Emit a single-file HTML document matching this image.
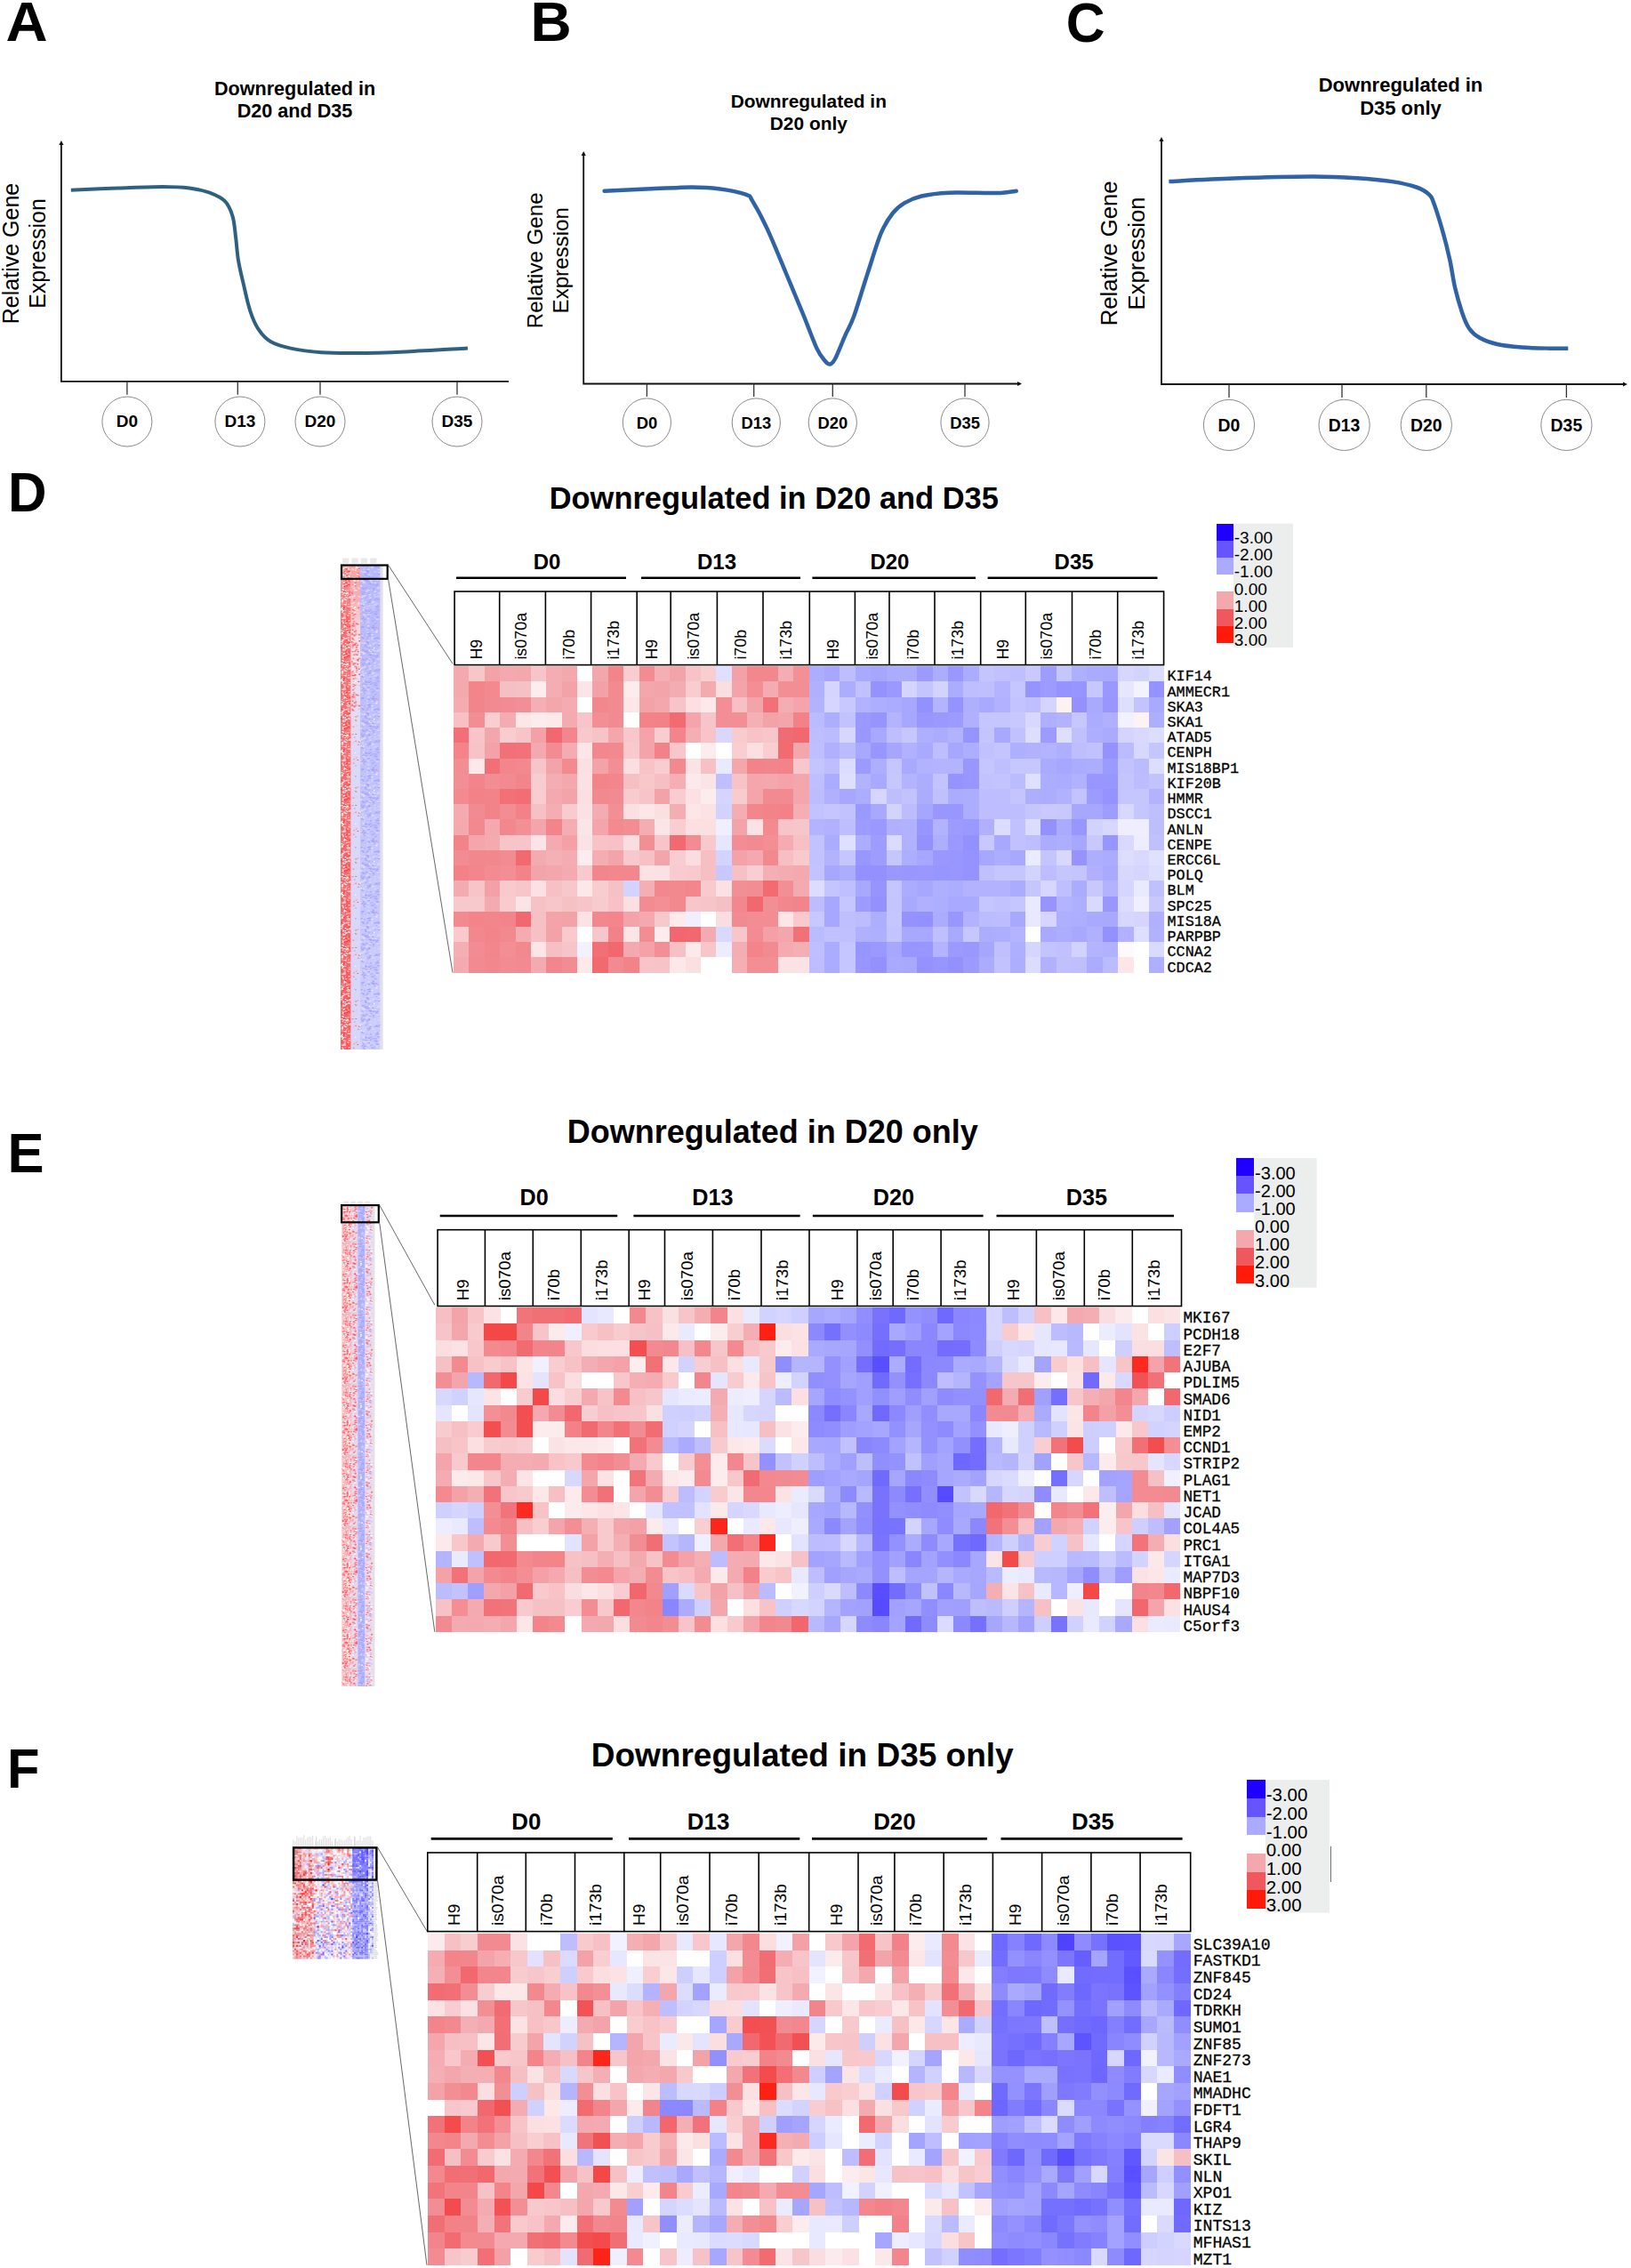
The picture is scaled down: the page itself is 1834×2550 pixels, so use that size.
<!DOCTYPE html><html><head><meta charset="utf-8"><title>Figure</title><style>html,body{margin:0;padding:0;background:#fff}svg{display:block}</style></head><body>
<svg width="1834" height="2550" viewBox="0 0 1834 2550">
<rect width="1834" height="2550" fill="#fff"/>
<text transform="translate(6.6,46.3) scale(1.027,1)" font-family='"Liberation Sans", Arial, sans-serif' font-size="63.5" font-weight="bold">A</text>
<text transform="translate(596.5,46.3) scale(1.007,1)" font-family='"Liberation Sans", Arial, sans-serif' font-size="63.5" font-weight="bold">B</text>
<text transform="translate(1198.8,46.9) scale(0.954,1)" font-family='"Liberation Sans", Arial, sans-serif' font-size="63.5" font-weight="bold">C</text>
<text transform="translate(9.0,575.2) scale(0.950,1)" font-family='"Liberation Sans", Arial, sans-serif' font-size="63.5" font-weight="bold">D</text>
<text transform="translate(8.5,1318.0) scale(0.970,1)" font-family='"Liberation Sans", Arial, sans-serif' font-size="63.5" font-weight="bold">E</text>
<text transform="translate(8.0,2010.0) scale(0.940,1)" font-family='"Liberation Sans", Arial, sans-serif' font-size="63.5" font-weight="bold">F</text>
<path d="M68.9,160.0 L68.9,428.8 L572.0,428.8" fill="none" stroke="#111" stroke-width="1.8"/>
<path d="M68.9,158.0 l-2.6,5 l5.2,0 z" fill="#111"/>
<line x1="142.9" y1="428.8" x2="142.9" y2="443.8" stroke="#333" stroke-width="1.3"/>
<circle cx="142.9" cy="474.0" r="28.0" fill="#fff" stroke="#8a8a8a" stroke-width="1"/>
<text x="142.9" y="480.3" font-family='"Liberation Sans", Arial, sans-serif' font-size="19.00" font-weight="bold" text-anchor="middle" >D0</text>
<line x1="267.3" y1="428.8" x2="267.3" y2="443.8" stroke="#333" stroke-width="1.3"/>
<circle cx="269.9" cy="474.0" r="28.0" fill="#fff" stroke="#8a8a8a" stroke-width="1"/>
<text x="269.9" y="480.3" font-family='"Liberation Sans", Arial, sans-serif' font-size="19.00" font-weight="bold" text-anchor="middle" >D13</text>
<line x1="360.0" y1="428.8" x2="360.0" y2="443.8" stroke="#333" stroke-width="1.3"/>
<circle cx="360.0" cy="474.0" r="28.0" fill="#fff" stroke="#8a8a8a" stroke-width="1"/>
<text x="360.0" y="480.3" font-family='"Liberation Sans", Arial, sans-serif' font-size="19.00" font-weight="bold" text-anchor="middle" >D20</text>
<line x1="514.0" y1="428.8" x2="514.0" y2="443.8" stroke="#333" stroke-width="1.3"/>
<circle cx="514.0" cy="474.0" r="28.0" fill="#fff" stroke="#8a8a8a" stroke-width="1"/>
<text x="514.0" y="480.3" font-family='"Liberation Sans", Arial, sans-serif' font-size="19.00" font-weight="bold" text-anchor="middle" >D35</text>
<text x="331.5" y="106.6" font-family='"Liberation Sans", Arial, sans-serif' font-size="21.60" font-weight="bold" text-anchor="middle" >Downregulated in</text>
<text x="331.5" y="132.4" font-family='"Liberation Sans", Arial, sans-serif' font-size="21.60" font-weight="bold" text-anchor="middle" >D20 and D35</text>
<text transform="translate(21.0,285.0) rotate(-90)" font-family='"Liberation Sans", Arial, sans-serif' font-size="25.00" font-weight="normal" text-anchor="middle" >Relative Gene</text>
<text transform="translate(50.6,285.0) rotate(-90)" font-family='"Liberation Sans", Arial, sans-serif' font-size="25.00" font-weight="normal" text-anchor="middle" >Expression</text>
<path d="M79.8,213.7 C88.7,213.3 115.9,212.0 133.0,211.4 C150.1,210.8 169.2,209.9 182.5,209.9 C195.8,209.9 204.1,210.3 213.0,211.4 C221.9,212.5 229.0,214.2 235.7,216.7 C242.3,219.2 248.6,221.8 252.9,226.2 C257.2,230.6 259.6,236.7 261.6,243.3 C263.6,249.9 263.9,257.8 265.0,266.0 C266.1,274.2 266.5,283.9 268.0,292.8 C269.5,301.7 271.6,309.9 273.8,319.4 C276.0,328.9 278.5,341.2 281.4,349.8 C284.2,358.4 287.1,365.0 290.9,370.7 C294.7,376.4 298.2,380.5 304.2,384.0 C310.2,387.5 317.5,389.6 327.0,391.6 C336.5,393.6 349.2,395.3 361.2,396.2 C373.2,397.1 383.3,397.1 399.2,397.0 C415.1,396.9 435.2,396.3 456.3,395.4 C477.4,394.5 514.3,392.2 525.9,391.6" fill="none" stroke="#2e6181" stroke-width="4.0" stroke-linecap="butt" stroke-linejoin="round"/>
<path d="M656.2,172.0 L656.2,431.5 L1147.0,431.5" fill="none" stroke="#111" stroke-width="1.8"/>
<path d="M656.2,170.0 l-2.6,5 l5.2,0 z" fill="#111"/>
<path d="M1149.0,431.5 l-5,-2.6 l0,5.2 z" fill="#111"/>
<line x1="727.4" y1="431.5" x2="727.4" y2="445.9" stroke="#333" stroke-width="1.3"/>
<circle cx="727.4" cy="475.0" r="27.1" fill="#fff" stroke="#8a8a8a" stroke-width="1"/>
<text x="727.4" y="481.6" font-family='"Liberation Sans", Arial, sans-serif' font-size="18.40" font-weight="bold" text-anchor="middle" >D0</text>
<line x1="847.7" y1="431.5" x2="847.7" y2="445.9" stroke="#333" stroke-width="1.3"/>
<circle cx="850.3" cy="475.0" r="27.1" fill="#fff" stroke="#8a8a8a" stroke-width="1"/>
<text x="850.3" y="481.6" font-family='"Liberation Sans", Arial, sans-serif' font-size="18.40" font-weight="bold" text-anchor="middle" >D13</text>
<line x1="936.3" y1="431.5" x2="936.3" y2="445.9" stroke="#333" stroke-width="1.3"/>
<circle cx="936.3" cy="475.0" r="27.1" fill="#fff" stroke="#8a8a8a" stroke-width="1"/>
<text x="936.3" y="481.6" font-family='"Liberation Sans", Arial, sans-serif' font-size="18.40" font-weight="bold" text-anchor="middle" >D20</text>
<line x1="1085.0" y1="431.5" x2="1085.0" y2="445.9" stroke="#333" stroke-width="1.3"/>
<circle cx="1085.0" cy="475.0" r="27.1" fill="#fff" stroke="#8a8a8a" stroke-width="1"/>
<text x="1085.0" y="481.6" font-family='"Liberation Sans", Arial, sans-serif' font-size="18.40" font-weight="bold" text-anchor="middle" >D35</text>
<text x="909.3" y="120.6" font-family='"Liberation Sans", Arial, sans-serif' font-size="20.90" font-weight="bold" text-anchor="middle" >Downregulated in</text>
<text x="909.3" y="146.0" font-family='"Liberation Sans", Arial, sans-serif' font-size="20.90" font-weight="bold" text-anchor="middle" >D20 only</text>
<text transform="translate(609.7,292.8) rotate(-90)" font-family='"Liberation Sans", Arial, sans-serif' font-size="24.10" font-weight="normal" text-anchor="middle" >Relative Gene</text>
<text transform="translate(639.0,292.8) rotate(-90)" font-family='"Liberation Sans", Arial, sans-serif' font-size="24.10" font-weight="normal" text-anchor="middle" >Expression</text>
<path d="M679.6,214.8 C688.3,214.4 715.6,212.9 732.0,212.2 C748.4,211.5 765.0,210.6 777.7,210.6 C790.4,210.6 797.9,210.9 808.0,212.2 C818.1,213.5 832.2,216.3 838.6,218.6 C845.0,220.9 842.1,219.5 846.2,226.2 C850.3,232.9 857.0,245.0 863.3,258.6 C869.6,272.2 877.6,292.2 884.2,308.0 C890.9,323.8 897.5,339.7 903.2,353.6 C908.9,367.5 914.3,382.9 918.4,391.6 C922.5,400.3 925.4,403.0 927.9,406.0 C930.4,409.0 931.7,410.0 933.6,409.5 C935.5,409.0 936.4,408.5 939.3,403.0 C942.1,397.5 947.2,384.3 950.7,376.4 C954.2,368.5 956.1,366.9 960.2,355.5 C964.3,344.1 970.3,323.5 975.4,308.0 C980.5,292.5 985.8,273.8 990.6,262.4 C995.4,251.0 999.5,245.2 1004.0,239.5 C1008.5,233.8 1011.9,231.3 1017.3,228.1 C1022.7,224.9 1028.1,222.4 1036.3,220.5 C1044.5,218.6 1054.0,217.3 1066.7,216.7 C1079.4,216.1 1102.2,217.1 1112.3,217.1 C1122.4,217.1 1122.4,217.1 1127.5,216.7 C1132.6,216.3 1140.2,215.1 1142.7,214.8" fill="none" stroke="#2f62a6" stroke-width="4.5" stroke-linecap="round" stroke-linejoin="round"/>
<path d="M1306.0,156.0 L1306.0,432.0 L1828.0,432.0" fill="none" stroke="#111" stroke-width="1.8"/>
<path d="M1306.0,154.0 l-2.6,5 l5.2,0 z" fill="#111"/>
<path d="M1830.0,432.0 l-5,-2.6 l0,5.2 z" fill="#111"/>
<line x1="1382.0" y1="432.0" x2="1382.0" y2="447.0" stroke="#333" stroke-width="1.3"/>
<circle cx="1382.0" cy="477.9" r="28.6" fill="#fff" stroke="#8a8a8a" stroke-width="1"/>
<text x="1382.0" y="484.9" font-family='"Liberation Sans", Arial, sans-serif' font-size="19.40" font-weight="bold" text-anchor="middle" >D0</text>
<line x1="1509.0" y1="432.0" x2="1509.0" y2="447.0" stroke="#333" stroke-width="1.3"/>
<circle cx="1511.6" cy="477.9" r="28.6" fill="#fff" stroke="#8a8a8a" stroke-width="1"/>
<text x="1511.6" y="484.9" font-family='"Liberation Sans", Arial, sans-serif' font-size="19.40" font-weight="bold" text-anchor="middle" >D13</text>
<line x1="1603.8" y1="432.0" x2="1603.8" y2="447.0" stroke="#333" stroke-width="1.3"/>
<circle cx="1603.8" cy="477.9" r="28.6" fill="#fff" stroke="#8a8a8a" stroke-width="1"/>
<text x="1603.8" y="484.9" font-family='"Liberation Sans", Arial, sans-serif' font-size="19.40" font-weight="bold" text-anchor="middle" >D20</text>
<line x1="1761.4" y1="432.0" x2="1761.4" y2="447.0" stroke="#333" stroke-width="1.3"/>
<circle cx="1761.4" cy="477.9" r="28.6" fill="#fff" stroke="#8a8a8a" stroke-width="1"/>
<text x="1761.4" y="484.9" font-family='"Liberation Sans", Arial, sans-serif' font-size="19.40" font-weight="bold" text-anchor="middle" >D35</text>
<text x="1575.0" y="102.5" font-family='"Liberation Sans", Arial, sans-serif' font-size="22.00" font-weight="bold" text-anchor="middle" >Downregulated in</text>
<text x="1575.0" y="128.8" font-family='"Liberation Sans", Arial, sans-serif' font-size="22.00" font-weight="bold" text-anchor="middle" >D35 only</text>
<text transform="translate(1256.3,284.9) rotate(-90)" font-family='"Liberation Sans", Arial, sans-serif' font-size="25.70" font-weight="normal" text-anchor="middle" >Relative Gene</text>
<text transform="translate(1286.7,284.9) rotate(-90)" font-family='"Liberation Sans", Arial, sans-serif' font-size="25.70" font-weight="normal" text-anchor="middle" >Expression</text>
<path d="M1314.4,204.1 C1326.6,203.5 1360.8,201.5 1387.4,200.6 C1414.1,199.7 1451.3,198.7 1474.3,198.6 C1497.3,198.5 1510.5,199.3 1525.6,200.2 C1540.7,201.1 1553.9,202.4 1565.1,204.1 C1576.3,205.8 1585.9,208.1 1592.8,210.5 C1599.7,212.9 1603.3,215.3 1606.6,218.4 C1609.9,221.5 1609.9,222.0 1612.5,229.0 C1615.1,236.0 1619.4,250.1 1622.4,260.6 C1625.4,271.1 1628.0,281.7 1630.3,292.2 C1632.6,302.7 1633.9,313.9 1636.2,323.8 C1638.5,333.7 1641.5,343.8 1644.1,351.4 C1646.7,359.0 1648.7,364.5 1652.0,369.2 C1655.3,373.9 1658.5,376.8 1663.8,379.8 C1669.1,382.8 1675.7,385.2 1683.6,387.0 C1691.5,388.8 1701.3,389.7 1711.2,390.5 C1721.1,391.3 1734.1,391.5 1742.8,391.7 C1751.5,391.9 1759.9,391.7 1763.3,391.7" fill="none" stroke="#2f62a6" stroke-width="4.5" stroke-linecap="butt" stroke-linejoin="round"/>
<filter id="blurD" x="-10%" y="-1%" width="120%" height="102%"><feGaussianBlur stdDeviation="0.45"/></filter>
<g filter="url(#blurD)">
<linearGradient id="g1" x1="0" y1="0" x2="0" y2="1"><stop offset="0" stop-color="#f8969a"/><stop offset="0.1" stop-color="#f77478"/><stop offset="1" stop-color="#f66065"/></linearGradient>
<rect x="383.0" y="636.0" width="11.7" height="544.0" fill="url(#g1)"/>
<linearGradient id="g2" x1="0" y1="0" x2="0" y2="1"><stop offset="0" stop-color="#f8a2a6"/><stop offset="0.07" stop-color="#f8aeb2"/><stop offset="0.14" stop-color="#f7dfe4"/><stop offset="0.24" stop-color="#e6e0f4"/><stop offset="0.4" stop-color="#dbd9f8"/><stop offset="1" stop-color="#d6d6fa"/></linearGradient>
<rect x="394.7" y="636.0" width="10.3" height="544.0" fill="url(#g2)"/>
<linearGradient id="g3" x1="0" y1="0" x2="0" y2="1"><stop offset="0" stop-color="#b9b9fb"/><stop offset="0.5" stop-color="#c4c4fb"/><stop offset="1" stop-color="#cecefc"/></linearGradient>
<rect x="405.0" y="636.0" width="22.6" height="544.0" fill="url(#g3)"/>
<pattern id="p4" x="383.0" y="636.0" width="11.7" height="80" patternUnits="userSpaceOnUse">
<path fill="#ffb0b0" d="M2.4 42.9h1.5v1.2h-1.5zM3.1 2.4h1.5v1.2h-1.5zM4.4 49.4h1.5v1.2h-1.5zM7.1 55.1h1.5v1.2h-1.5zM8.5 45.2h1.5v1.2h-1.5zM4.2 11.9h1.5v1.2h-1.5zM9.7 76.5h1.5v1.2h-1.5zM10.0 26.8h1.5v1.2h-1.5zM2.4 23.7h1.5v1.2h-1.5zM8.0 77.8h1.5v1.2h-1.5zM1.4 49.9h1.5v1.2h-1.5zM4.8 53.5h1.5v1.2h-1.5zM4.7 46.7h1.5v1.2h-1.5zM1.8 14.6h1.5v1.2h-1.5zM7.1 8.0h1.5v1.2h-1.5zM1.3 23.0h1.5v1.2h-1.5zM4.7 50.0h1.5v1.2h-1.5zM4.9 61.6h1.5v1.2h-1.5zM5.8 31.5h1.5v1.2h-1.5zM3.1 20.9h1.5v1.2h-1.5zM7.7 31.0h1.5v1.2h-1.5zM8.7 42.4h1.5v1.2h-1.5zM8.7 46.1h1.5v1.2h-1.5zM9.1 24.2h1.5v1.2h-1.5zM0.7 17.1h1.5v1.2h-1.5zM2.5 14.9h1.5v1.2h-1.5zM8.8 70.9h1.5v1.2h-1.5zM1.2 20.8h1.5v1.2h-1.5zM6.9 0.5h1.5v1.2h-1.5zM1.1 69.9h1.5v1.2h-1.5zM1.0 74.2h1.5v1.2h-1.5zM6.6 33.1h1.5v1.2h-1.5zM6.6 36.1h1.5v1.2h-1.5zM7.1 40.6h1.5v1.2h-1.5zM5.8 15.9h1.5v1.2h-1.5zM3.2 71.4h1.5v1.2h-1.5zM9.7 8.8h1.5v1.2h-1.5zM0.8 42.5h1.5v1.2h-1.5zM7.1 17.4h1.5v1.2h-1.5zM7.3 28.9h1.5v1.2h-1.5zM8.6 31.8h1.5v1.2h-1.5z"/>
<path fill="#ff5050" d="M9.3 37.4h1.5v1.2h-1.5zM6.5 68.4h1.5v1.2h-1.5zM4.3 65.7h1.5v1.2h-1.5zM3.6 46.1h1.5v1.2h-1.5zM9.8 71.3h1.5v1.2h-1.5zM3.9 46.2h1.5v1.2h-1.5zM9.0 77.3h1.5v1.2h-1.5zM6.6 46.9h1.5v1.2h-1.5zM1.0 76.7h1.5v1.2h-1.5zM1.1 64.1h1.5v1.2h-1.5zM7.0 10.4h1.5v1.2h-1.5zM3.2 65.9h1.5v1.2h-1.5zM0.9 48.8h1.5v1.2h-1.5zM1.6 0.4h1.5v1.2h-1.5zM7.6 75.9h1.5v1.2h-1.5zM3.5 19.9h1.5v1.2h-1.5zM2.5 48.7h1.5v1.2h-1.5zM8.7 6.8h1.5v1.2h-1.5zM3.6 51.0h1.5v1.2h-1.5zM4.7 19.3h1.5v1.2h-1.5zM9.6 29.5h1.5v1.2h-1.5zM6.8 57.8h1.5v1.2h-1.5zM0.4 60.5h1.5v1.2h-1.5zM5.4 18.8h1.5v1.2h-1.5zM6.1 74.0h1.5v1.2h-1.5zM4.3 6.6h1.5v1.2h-1.5zM9.9 32.7h1.5v1.2h-1.5zM7.7 53.1h1.5v1.2h-1.5zM6.8 67.4h1.5v1.2h-1.5zM4.6 8.5h1.5v1.2h-1.5zM7.3 59.5h1.5v1.2h-1.5zM1.1 55.0h1.5v1.2h-1.5zM4.7 15.2h1.5v1.2h-1.5zM0.3 48.7h1.5v1.2h-1.5zM7.1 6.3h1.5v1.2h-1.5zM5.1 55.1h1.5v1.2h-1.5zM6.5 11.0h1.5v1.2h-1.5z"/>
<path fill="#ff3030" d="M0.7 1.0h1.5v1.2h-1.5zM4.8 65.9h1.5v1.2h-1.5zM4.8 56.6h1.5v1.2h-1.5zM7.3 72.6h1.5v1.2h-1.5zM9.8 70.7h1.5v1.2h-1.5zM3.8 68.5h1.5v1.2h-1.5zM6.2 22.0h1.5v1.2h-1.5zM8.6 20.8h1.5v1.2h-1.5zM4.3 32.3h1.5v1.2h-1.5zM5.2 15.6h1.5v1.2h-1.5zM6.8 41.4h1.5v1.2h-1.5zM5.8 3.4h1.5v1.2h-1.5zM6.2 61.7h1.5v1.2h-1.5zM6.5 3.4h1.5v1.2h-1.5zM3.2 74.9h1.5v1.2h-1.5zM2.8 46.5h1.5v1.2h-1.5zM8.1 20.7h1.5v1.2h-1.5zM6.8 69.9h1.5v1.2h-1.5zM0.0 11.3h1.5v1.2h-1.5zM7.0 12.3h1.5v1.2h-1.5zM5.8 18.8h1.5v1.2h-1.5zM4.9 47.2h1.5v1.2h-1.5zM2.1 46.1h1.5v1.2h-1.5zM9.0 6.0h1.5v1.2h-1.5zM6.9 29.0h1.5v1.2h-1.5zM1.3 47.9h1.5v1.2h-1.5zM3.8 23.1h1.5v1.2h-1.5zM9.1 74.8h1.5v1.2h-1.5zM9.5 67.9h1.5v1.2h-1.5zM8.6 55.6h1.5v1.2h-1.5zM8.7 16.4h1.5v1.2h-1.5zM4.6 28.5h1.5v1.2h-1.5zM2.6 29.1h1.5v1.2h-1.5zM2.4 3.1h1.5v1.2h-1.5z"/>
<path fill="#ffe8e8" d="M2.6 18.5h1.5v1.2h-1.5zM5.0 20.3h1.5v1.2h-1.5zM8.7 78.1h1.5v1.2h-1.5zM1.1 51.7h1.5v1.2h-1.5zM1.3 38.0h1.5v1.2h-1.5zM2.8 50.0h1.5v1.2h-1.5zM0.2 48.5h1.5v1.2h-1.5zM0.2 4.8h1.5v1.2h-1.5zM0.2 29.1h1.5v1.2h-1.5zM3.3 53.4h1.5v1.2h-1.5zM1.9 22.0h1.5v1.2h-1.5zM10.1 34.2h1.5v1.2h-1.5zM2.3 58.7h1.5v1.2h-1.5zM8.3 3.6h1.5v1.2h-1.5zM5.9 1.0h1.5v1.2h-1.5zM8.4 0.6h1.5v1.2h-1.5zM0.5 49.4h1.5v1.2h-1.5zM7.0 74.0h1.5v1.2h-1.5zM5.4 64.0h1.5v1.2h-1.5zM8.6 53.1h1.5v1.2h-1.5zM6.6 35.8h1.5v1.2h-1.5zM2.4 73.2h1.5v1.2h-1.5zM5.1 38.1h1.5v1.2h-1.5zM5.3 34.9h1.5v1.2h-1.5zM7.9 11.3h1.5v1.2h-1.5zM5.9 71.1h1.5v1.2h-1.5zM5.7 37.9h1.5v1.2h-1.5zM0.7 74.7h1.5v1.2h-1.5zM9.1 51.1h1.5v1.2h-1.5zM1.4 49.0h1.5v1.2h-1.5zM0.4 35.6h1.5v1.2h-1.5zM3.0 53.3h1.5v1.2h-1.5zM7.7 75.8h1.5v1.2h-1.5zM5.8 41.4h1.5v1.2h-1.5zM5.0 27.8h1.5v1.2h-1.5zM3.0 57.4h1.5v1.2h-1.5zM1.9 50.9h1.5v1.2h-1.5zM1.5 29.2h1.5v1.2h-1.5zM1.4 26.1h1.5v1.2h-1.5zM1.5 46.5h1.5v1.2h-1.5zM1.1 61.4h1.5v1.2h-1.5zM4.2 58.6h1.5v1.2h-1.5zM6.5 77.0h1.5v1.2h-1.5zM7.2 70.6h1.5v1.2h-1.5zM4.9 47.4h1.5v1.2h-1.5zM6.5 8.5h1.5v1.2h-1.5zM2.4 13.6h1.5v1.2h-1.5zM2.2 64.0h1.5v1.2h-1.5zM3.3 68.6h1.5v1.2h-1.5zM3.1 36.6h1.5v1.2h-1.5z"/>
<path fill="#ffd8d8" d="M4.1 67.8h1.5v1.2h-1.5zM7.4 45.5h1.5v1.2h-1.5zM9.0 7.7h1.5v1.2h-1.5zM2.3 63.3h1.5v1.2h-1.5zM9.7 53.2h1.5v1.2h-1.5zM4.5 67.4h1.5v1.2h-1.5zM0.8 58.5h1.5v1.2h-1.5zM9.0 35.5h1.5v1.2h-1.5zM8.0 2.7h1.5v1.2h-1.5zM1.2 39.7h1.5v1.2h-1.5zM1.7 62.4h1.5v1.2h-1.5zM5.6 68.5h1.5v1.2h-1.5zM8.4 19.1h1.5v1.2h-1.5zM8.8 10.7h1.5v1.2h-1.5zM1.5 40.6h1.5v1.2h-1.5zM4.9 30.2h1.5v1.2h-1.5zM9.0 3.6h1.5v1.2h-1.5zM1.7 3.5h1.5v1.2h-1.5zM2.7 30.2h1.5v1.2h-1.5zM0.4 39.8h1.5v1.2h-1.5zM8.1 42.9h1.5v1.2h-1.5zM9.8 70.3h1.5v1.2h-1.5zM7.5 27.1h1.5v1.2h-1.5zM2.3 0.2h1.5v1.2h-1.5zM1.7 31.8h1.5v1.2h-1.5zM0.3 76.1h1.5v1.2h-1.5z"/>
<path fill="#ffffff" d="M4.0 1.2h1.5v1.2h-1.5zM1.6 75.5h1.5v1.2h-1.5zM2.4 26.5h1.5v1.2h-1.5zM10.1 7.0h1.5v1.2h-1.5zM4.4 32.7h1.5v1.2h-1.5zM0.5 48.4h1.5v1.2h-1.5zM2.4 2.8h1.5v1.2h-1.5zM0.8 47.3h1.5v1.2h-1.5zM6.2 12.3h1.5v1.2h-1.5zM5.3 43.2h1.5v1.2h-1.5zM3.5 17.9h1.5v1.2h-1.5zM8.8 76.5h1.5v1.2h-1.5zM0.5 72.0h1.5v1.2h-1.5zM2.3 9.6h1.5v1.2h-1.5zM4.3 37.3h1.5v1.2h-1.5zM8.7 61.1h1.5v1.2h-1.5zM1.3 5.4h1.5v1.2h-1.5zM5.0 12.4h1.5v1.2h-1.5zM4.4 10.1h1.5v1.2h-1.5zM7.3 30.0h1.5v1.2h-1.5zM2.3 10.3h1.5v1.2h-1.5zM0.5 7.2h1.5v1.2h-1.5zM6.7 29.6h1.5v1.2h-1.5zM3.5 67.2h1.5v1.2h-1.5zM9.7 45.6h1.5v1.2h-1.5zM7.6 73.6h1.5v1.2h-1.5zM9.2 11.8h1.5v1.2h-1.5zM4.3 57.4h1.5v1.2h-1.5zM3.4 29.9h1.5v1.2h-1.5zM4.0 42.9h1.5v1.2h-1.5zM9.6 64.4h1.5v1.2h-1.5zM8.0 55.6h1.5v1.2h-1.5zM5.9 30.9h1.5v1.2h-1.5zM9.6 35.3h1.5v1.2h-1.5zM3.6 66.7h1.5v1.2h-1.5zM4.8 7.0h1.5v1.2h-1.5zM7.9 2.7h1.5v1.2h-1.5zM1.1 3.4h1.5v1.2h-1.5zM4.1 14.2h1.5v1.2h-1.5zM5.4 12.5h1.5v1.2h-1.5zM1.7 38.6h1.5v1.2h-1.5zM4.2 55.4h1.5v1.2h-1.5z"/>
</pattern>
<rect x="383.0" y="636.0" width="11.7" height="544.0" fill="url(#p4)"/>
<pattern id="p5" x="394.7" y="636.0" width="10.3" height="80" patternUnits="userSpaceOnUse">
<path fill="#ffd8d8" d="M2.1 30.7h1.5v1.2h-1.5zM7.4 43.6h1.5v1.2h-1.5zM3.2 32.7h1.5v1.2h-1.5zM8.4 3.4h1.5v1.2h-1.5zM8.8 0.1h1.5v1.2h-1.5zM0.7 51.2h1.5v1.2h-1.5zM6.1 77.0h1.5v1.2h-1.5zM5.2 0.9h1.5v1.2h-1.5zM6.9 42.2h1.5v1.2h-1.5zM0.8 36.7h1.5v1.2h-1.5zM3.7 51.1h1.5v1.2h-1.5zM2.2 25.5h1.5v1.2h-1.5zM2.6 73.6h1.5v1.2h-1.5zM7.9 2.2h1.5v1.2h-1.5zM4.2 78.7h1.5v1.2h-1.5zM7.1 23.4h1.5v1.2h-1.5zM1.5 4.0h1.5v1.2h-1.5zM0.3 2.9h1.5v1.2h-1.5zM8.0 63.7h1.5v1.2h-1.5zM4.5 65.5h1.5v1.2h-1.5zM1.7 72.6h1.5v1.2h-1.5z"/>
<path fill="#ff5050" d="M1.4 49.0h1.5v1.2h-1.5zM8.0 46.8h1.5v1.2h-1.5zM2.2 20.9h1.5v1.2h-1.5zM4.2 14.9h1.5v1.2h-1.5zM3.0 37.7h1.5v1.2h-1.5zM8.3 2.7h1.5v1.2h-1.5zM1.0 30.7h1.5v1.2h-1.5zM3.9 55.4h1.5v1.2h-1.5zM4.1 68.5h1.5v1.2h-1.5zM4.4 71.5h1.5v1.2h-1.5zM7.6 8.0h1.5v1.2h-1.5zM5.6 60.0h1.5v1.2h-1.5zM8.1 54.1h1.5v1.2h-1.5zM0.4 58.7h1.5v1.2h-1.5zM6.5 58.8h1.5v1.2h-1.5zM8.6 69.0h1.5v1.2h-1.5zM3.2 67.2h1.5v1.2h-1.5zM0.3 29.4h1.5v1.2h-1.5zM8.7 62.5h1.5v1.2h-1.5zM4.3 18.8h1.5v1.2h-1.5zM3.3 49.8h1.5v1.2h-1.5zM2.5 20.1h1.5v1.2h-1.5zM8.4 12.2h1.5v1.2h-1.5zM7.5 65.2h1.5v1.2h-1.5zM4.3 22.1h1.5v1.2h-1.5zM0.9 52.7h1.5v1.2h-1.5z"/>
<path fill="#ffe8e8" d="M2.4 62.1h1.5v1.2h-1.5zM6.9 75.8h1.5v1.2h-1.5zM1.8 76.7h1.5v1.2h-1.5zM6.6 49.8h1.5v1.2h-1.5zM0.8 23.1h1.5v1.2h-1.5zM4.7 61.3h1.5v1.2h-1.5zM1.5 58.3h1.5v1.2h-1.5zM2.4 13.4h1.5v1.2h-1.5zM6.3 1.8h1.5v1.2h-1.5zM7.7 68.7h1.5v1.2h-1.5zM3.0 24.5h1.5v1.2h-1.5zM2.5 16.5h1.5v1.2h-1.5zM2.6 74.5h1.5v1.2h-1.5zM6.4 68.9h1.5v1.2h-1.5zM8.2 42.2h1.5v1.2h-1.5zM3.2 15.1h1.5v1.2h-1.5zM4.3 60.9h1.5v1.2h-1.5zM2.6 40.9h1.5v1.2h-1.5zM4.3 3.0h1.5v1.2h-1.5zM1.3 35.0h1.5v1.2h-1.5zM3.9 16.2h1.5v1.2h-1.5zM6.7 55.2h1.5v1.2h-1.5zM8.3 34.0h1.5v1.2h-1.5zM5.3 63.9h1.5v1.2h-1.5zM2.7 19.5h1.5v1.2h-1.5zM8.4 58.6h1.5v1.2h-1.5zM4.3 4.8h1.5v1.2h-1.5zM4.1 52.4h1.5v1.2h-1.5zM3.6 27.7h1.5v1.2h-1.5zM1.2 3.0h1.5v1.2h-1.5zM0.3 38.4h1.5v1.2h-1.5zM5.8 74.2h1.5v1.2h-1.5zM8.3 25.0h1.5v1.2h-1.5zM4.9 2.8h1.5v1.2h-1.5z"/>
<path fill="#ffffff" d="M5.5 27.2h1.5v1.2h-1.5zM0.5 34.3h1.5v1.2h-1.5zM5.2 0.3h1.5v1.2h-1.5zM6.0 1.5h1.5v1.2h-1.5zM0.8 54.5h1.5v1.2h-1.5zM2.8 47.3h1.5v1.2h-1.5zM3.5 75.3h1.5v1.2h-1.5zM4.1 49.0h1.5v1.2h-1.5zM7.3 8.9h1.5v1.2h-1.5zM7.3 53.6h1.5v1.2h-1.5zM3.5 52.1h1.5v1.2h-1.5zM7.2 16.2h1.5v1.2h-1.5zM4.1 57.4h1.5v1.2h-1.5zM3.0 15.1h1.5v1.2h-1.5zM2.2 66.0h1.5v1.2h-1.5zM2.9 33.9h1.5v1.2h-1.5zM4.1 46.3h1.5v1.2h-1.5zM8.2 40.9h1.5v1.2h-1.5zM1.2 41.8h1.5v1.2h-1.5zM8.6 61.9h1.5v1.2h-1.5zM3.8 26.7h1.5v1.2h-1.5zM3.7 20.5h1.5v1.2h-1.5zM2.5 13.3h1.5v1.2h-1.5zM1.6 53.9h1.5v1.2h-1.5zM0.3 45.3h1.5v1.2h-1.5zM2.8 21.3h1.5v1.2h-1.5zM2.2 77.2h1.5v1.2h-1.5zM4.4 75.4h1.5v1.2h-1.5zM6.1 9.1h1.5v1.2h-1.5z"/>
</pattern>
<rect x="394.7" y="636.0" width="10.3" height="54.0" fill="url(#p5)"/>
<pattern id="p6" x="394.7" y="636.0" width="10.3" height="80" patternUnits="userSpaceOnUse">
<path fill="#ff4040" d="M5.5 64.4h1.6v1.3h-1.6zM8.2 76.7h1.6v1.3h-1.6zM2.3 43.0h1.6v1.3h-1.6zM5.6 11.2h1.6v1.3h-1.6zM1.6 2.1h1.6v1.3h-1.6zM3.3 73.8h1.6v1.3h-1.6zM5.3 14.0h1.6v1.3h-1.6zM0.5 38.9h1.6v1.3h-1.6zM3.5 29.3h1.6v1.3h-1.6zM0.0 5.1h1.6v1.3h-1.6zM3.8 15.5h1.6v1.3h-1.6zM3.8 53.7h1.6v1.3h-1.6zM5.2 6.7h1.6v1.3h-1.6zM3.8 7.6h1.6v1.3h-1.6zM7.9 49.7h1.6v1.3h-1.6zM1.8 30.8h1.6v1.3h-1.6zM7.3 24.8h1.6v1.3h-1.6zM2.8 19.4h1.6v1.3h-1.6zM0.5 76.0h1.6v1.3h-1.6zM5.5 34.8h1.6v1.3h-1.6zM7.2 16.0h1.6v1.3h-1.6z"/>
<path fill="#ff5050" d="M3.8 77.4h1.6v1.3h-1.6zM6.0 36.8h1.6v1.3h-1.6zM3.3 8.4h1.6v1.3h-1.6zM0.6 43.0h1.6v1.3h-1.6zM0.9 66.6h1.6v1.3h-1.6zM0.2 27.2h1.6v1.3h-1.6zM3.8 42.1h1.6v1.3h-1.6zM0.5 77.0h1.6v1.3h-1.6zM1.4 9.6h1.6v1.3h-1.6zM0.8 42.5h1.6v1.3h-1.6zM6.3 19.6h1.6v1.3h-1.6zM8.4 35.6h1.6v1.3h-1.6zM8.6 41.6h1.6v1.3h-1.6zM8.7 4.1h1.6v1.3h-1.6zM0.5 67.2h1.6v1.3h-1.6zM4.7 72.5h1.6v1.3h-1.6zM6.9 30.1h1.6v1.3h-1.6zM1.2 16.0h1.6v1.3h-1.6zM0.6 0.7h1.6v1.3h-1.6zM7.2 26.1h1.6v1.3h-1.6zM7.1 64.9h1.6v1.3h-1.6zM1.6 8.2h1.6v1.3h-1.6zM1.0 71.9h1.6v1.3h-1.6zM1.5 59.1h1.6v1.3h-1.6zM0.7 42.2h1.6v1.3h-1.6zM4.5 33.0h1.6v1.3h-1.6zM1.9 64.3h1.6v1.3h-1.6zM3.0 78.3h1.6v1.3h-1.6zM6.6 9.0h1.6v1.3h-1.6zM4.2 42.4h1.6v1.3h-1.6zM2.2 54.9h1.6v1.3h-1.6z"/>
<path fill="#ff7070" d="M1.5 38.3h1.6v1.3h-1.6zM1.3 71.3h1.6v1.3h-1.6zM1.6 64.7h1.6v1.3h-1.6zM0.4 75.6h1.6v1.3h-1.6zM1.1 11.4h1.6v1.3h-1.6zM8.7 77.1h1.6v1.3h-1.6zM1.7 46.8h1.6v1.3h-1.6zM2.6 67.6h1.6v1.3h-1.6zM2.8 66.1h1.6v1.3h-1.6zM2.8 46.5h1.6v1.3h-1.6zM8.5 23.4h1.6v1.3h-1.6zM2.9 62.1h1.6v1.3h-1.6zM1.8 5.9h1.6v1.3h-1.6zM5.1 11.5h1.6v1.3h-1.6zM6.4 65.2h1.6v1.3h-1.6zM4.4 73.0h1.6v1.3h-1.6zM4.8 9.2h1.6v1.3h-1.6zM0.5 40.8h1.6v1.3h-1.6zM5.0 6.7h1.6v1.3h-1.6zM2.5 77.3h1.6v1.3h-1.6zM1.8 23.5h1.6v1.3h-1.6zM2.7 67.7h1.6v1.3h-1.6zM5.5 38.8h1.6v1.3h-1.6zM2.1 28.9h1.6v1.3h-1.6zM1.8 23.9h1.6v1.3h-1.6zM4.9 19.3h1.6v1.3h-1.6zM1.9 52.8h1.6v1.3h-1.6zM5.2 33.4h1.6v1.3h-1.6zM3.7 29.1h1.6v1.3h-1.6zM6.2 25.5h1.6v1.3h-1.6z"/>
<path fill="#ffb0b0" d="M1.6 49.3h1.6v1.3h-1.6zM8.1 0.6h1.6v1.3h-1.6zM4.9 36.5h1.6v1.3h-1.6zM8.6 53.9h1.6v1.3h-1.6zM2.8 39.9h1.6v1.3h-1.6zM5.5 46.5h1.6v1.3h-1.6zM7.5 65.7h1.6v1.3h-1.6zM1.1 39.4h1.6v1.3h-1.6zM3.7 66.7h1.6v1.3h-1.6zM3.8 68.3h1.6v1.3h-1.6zM0.1 29.3h1.6v1.3h-1.6zM1.2 6.4h1.6v1.3h-1.6zM4.1 70.1h1.6v1.3h-1.6zM7.2 14.5h1.6v1.3h-1.6zM5.1 74.7h1.6v1.3h-1.6zM0.6 69.0h1.6v1.3h-1.6zM7.7 17.8h1.6v1.3h-1.6zM5.1 28.7h1.6v1.3h-1.6zM3.9 56.8h1.6v1.3h-1.6zM1.5 19.7h1.6v1.3h-1.6zM4.3 45.6h1.6v1.3h-1.6zM2.9 57.6h1.6v1.3h-1.6zM0.9 41.6h1.6v1.3h-1.6zM3.3 3.3h1.6v1.3h-1.6zM6.1 76.8h1.6v1.3h-1.6zM5.1 53.4h1.6v1.3h-1.6zM4.7 77.8h1.6v1.3h-1.6zM8.0 33.3h1.6v1.3h-1.6z"/>
</pattern>
<rect x="394.7" y="690.0" width="10.3" height="110.0" fill="url(#p6)"/>
<pattern id="p7" x="394.7" y="636.0" width="10.3" height="80" patternUnits="userSpaceOnUse">
<path fill="#ff7070" d="M2.8 57.2h1.4v1.1h-1.4zM5.4 55.4h1.4v1.1h-1.4zM2.1 20.6h1.4v1.1h-1.4zM1.3 29.1h1.4v1.1h-1.4zM2.4 61.6h1.4v1.1h-1.4z"/>
<path fill="#ff5050" d="M4.8 36.7h1.4v1.1h-1.4zM4.9 9.3h1.4v1.1h-1.4zM7.7 40.7h1.4v1.1h-1.4zM8.4 37.6h1.4v1.1h-1.4z"/>
<path fill="#ff4040" d="M4.9 28.9h1.4v1.1h-1.4zM4.5 13.2h1.4v1.1h-1.4zM7.0 57.9h1.4v1.1h-1.4z"/>
<path fill="#ffb0b0" d="M2.4 37.8h1.4v1.1h-1.4zM5.9 19.5h1.4v1.1h-1.4z"/>
</pattern>
<rect x="394.7" y="800.0" width="10.3" height="380.0" fill="url(#p7)"/>
<pattern id="p8" x="405.0" y="636.0" width="22.6" height="80" patternUnits="userSpaceOnUse">
<path fill="#bcbcff" d="M2.0 55.3h2.2v1.4h-2.2zM19.9 25.7h2.2v1.4h-2.2zM13.1 16.6h2.2v1.4h-2.2zM9.0 13.8h2.2v1.4h-2.2zM11.6 20.9h2.2v1.4h-2.2zM6.3 4.9h2.2v1.4h-2.2zM19.6 23.7h2.2v1.4h-2.2zM9.8 49.9h2.2v1.4h-2.2zM16.7 28.7h2.2v1.4h-2.2zM0.6 32.5h2.2v1.4h-2.2zM16.3 56.0h2.2v1.4h-2.2zM11.4 60.8h2.2v1.4h-2.2zM0.0 50.7h2.2v1.4h-2.2zM17.1 73.4h2.2v1.4h-2.2zM5.7 46.0h2.2v1.4h-2.2zM1.8 33.2h2.2v1.4h-2.2zM15.1 8.6h2.2v1.4h-2.2zM1.9 6.7h2.2v1.4h-2.2zM6.9 60.2h2.2v1.4h-2.2zM13.1 41.6h2.2v1.4h-2.2zM10.9 58.5h2.2v1.4h-2.2zM17.0 15.1h2.2v1.4h-2.2zM8.1 12.9h2.2v1.4h-2.2zM6.2 47.1h2.2v1.4h-2.2zM5.8 19.6h2.2v1.4h-2.2zM19.8 18.3h2.2v1.4h-2.2zM5.4 10.8h2.2v1.4h-2.2zM13.2 50.7h2.2v1.4h-2.2zM8.4 66.7h2.2v1.4h-2.2zM16.4 37.2h2.2v1.4h-2.2zM3.3 67.4h2.2v1.4h-2.2zM1.4 19.9h2.2v1.4h-2.2zM4.1 13.3h2.2v1.4h-2.2zM9.3 70.6h2.2v1.4h-2.2zM0.5 8.7h2.2v1.4h-2.2zM5.5 9.9h2.2v1.4h-2.2zM0.5 30.3h2.2v1.4h-2.2zM1.6 71.3h2.2v1.4h-2.2zM20.2 49.6h2.2v1.4h-2.2zM1.0 27.0h2.2v1.4h-2.2zM20.1 41.9h2.2v1.4h-2.2zM19.6 6.2h2.2v1.4h-2.2z"/>
<path fill="#d2d2ff" d="M1.7 77.4h2.2v1.4h-2.2zM5.5 40.0h2.2v1.4h-2.2zM20.0 33.8h2.2v1.4h-2.2zM17.3 57.2h2.2v1.4h-2.2zM1.5 33.6h2.2v1.4h-2.2zM16.6 57.4h2.2v1.4h-2.2zM8.5 0.5h2.2v1.4h-2.2zM10.6 25.8h2.2v1.4h-2.2zM9.2 62.9h2.2v1.4h-2.2zM9.2 41.7h2.2v1.4h-2.2zM3.0 40.8h2.2v1.4h-2.2zM20.4 13.2h2.2v1.4h-2.2zM16.0 34.1h2.2v1.4h-2.2zM12.3 2.3h2.2v1.4h-2.2zM9.7 20.2h2.2v1.4h-2.2zM8.2 30.3h2.2v1.4h-2.2zM2.5 46.7h2.2v1.4h-2.2zM5.2 1.4h2.2v1.4h-2.2zM5.0 17.4h2.2v1.4h-2.2zM4.7 70.8h2.2v1.4h-2.2zM18.5 20.9h2.2v1.4h-2.2zM8.3 26.3h2.2v1.4h-2.2zM0.0 61.5h2.2v1.4h-2.2zM7.7 28.4h2.2v1.4h-2.2zM14.9 73.4h2.2v1.4h-2.2zM0.2 5.8h2.2v1.4h-2.2zM13.1 39.5h2.2v1.4h-2.2zM2.1 6.5h2.2v1.4h-2.2zM20.0 23.9h2.2v1.4h-2.2zM12.6 71.9h2.2v1.4h-2.2zM15.5 42.8h2.2v1.4h-2.2zM18.5 42.1h2.2v1.4h-2.2zM9.3 44.5h2.2v1.4h-2.2zM15.8 6.3h2.2v1.4h-2.2zM1.6 34.1h2.2v1.4h-2.2zM18.9 54.7h2.2v1.4h-2.2zM7.8 54.5h2.2v1.4h-2.2zM15.3 31.8h2.2v1.4h-2.2zM7.4 62.3h2.2v1.4h-2.2zM1.5 77.5h2.2v1.4h-2.2zM18.1 59.6h2.2v1.4h-2.2zM16.9 43.0h2.2v1.4h-2.2zM8.0 32.3h2.2v1.4h-2.2zM17.5 46.4h2.2v1.4h-2.2zM11.8 49.3h2.2v1.4h-2.2zM14.3 44.1h2.2v1.4h-2.2zM9.1 6.9h2.2v1.4h-2.2zM17.1 43.6h2.2v1.4h-2.2zM6.6 47.7h2.2v1.4h-2.2zM9.6 54.9h2.2v1.4h-2.2zM1.4 61.5h2.2v1.4h-2.2zM9.5 51.9h2.2v1.4h-2.2zM15.2 40.3h2.2v1.4h-2.2z"/>
<path fill="#c6c6ff" d="M2.9 3.4h2.2v1.4h-2.2zM18.4 34.7h2.2v1.4h-2.2zM10.3 54.0h2.2v1.4h-2.2zM11.1 46.0h2.2v1.4h-2.2zM3.1 2.5h2.2v1.4h-2.2zM2.1 63.1h2.2v1.4h-2.2zM14.7 49.3h2.2v1.4h-2.2zM4.4 12.4h2.2v1.4h-2.2zM12.0 17.6h2.2v1.4h-2.2zM1.2 39.9h2.2v1.4h-2.2zM6.0 64.2h2.2v1.4h-2.2zM6.3 44.3h2.2v1.4h-2.2zM2.0 20.6h2.2v1.4h-2.2zM9.2 33.9h2.2v1.4h-2.2zM11.5 26.7h2.2v1.4h-2.2zM2.1 60.2h2.2v1.4h-2.2zM8.8 15.7h2.2v1.4h-2.2zM11.2 10.1h2.2v1.4h-2.2zM14.1 49.3h2.2v1.4h-2.2zM5.8 6.7h2.2v1.4h-2.2zM11.1 44.0h2.2v1.4h-2.2zM16.9 41.3h2.2v1.4h-2.2zM8.9 60.4h2.2v1.4h-2.2zM17.3 37.7h2.2v1.4h-2.2zM17.3 15.5h2.2v1.4h-2.2zM9.8 39.0h2.2v1.4h-2.2zM15.2 62.5h2.2v1.4h-2.2zM12.3 48.5h2.2v1.4h-2.2zM1.5 38.1h2.2v1.4h-2.2zM13.7 0.1h2.2v1.4h-2.2zM12.8 46.0h2.2v1.4h-2.2zM6.3 77.3h2.2v1.4h-2.2zM16.0 27.4h2.2v1.4h-2.2zM8.3 36.4h2.2v1.4h-2.2zM0.0 51.0h2.2v1.4h-2.2zM20.2 59.7h2.2v1.4h-2.2zM7.6 46.3h2.2v1.4h-2.2zM7.3 70.5h2.2v1.4h-2.2zM6.6 30.0h2.2v1.4h-2.2zM14.2 43.8h2.2v1.4h-2.2zM19.1 23.2h2.2v1.4h-2.2zM17.6 70.2h2.2v1.4h-2.2zM3.4 6.0h2.2v1.4h-2.2zM19.0 33.1h2.2v1.4h-2.2zM4.5 56.9h2.2v1.4h-2.2zM14.4 46.5h2.2v1.4h-2.2z"/>
<path fill="#a6a6ff" d="M2.7 57.3h2.2v1.4h-2.2zM15.2 72.4h2.2v1.4h-2.2zM2.3 52.4h2.2v1.4h-2.2zM10.2 37.7h2.2v1.4h-2.2zM6.1 24.0h2.2v1.4h-2.2zM19.5 37.5h2.2v1.4h-2.2zM8.0 41.3h2.2v1.4h-2.2zM1.2 44.0h2.2v1.4h-2.2zM8.9 11.4h2.2v1.4h-2.2zM5.1 16.0h2.2v1.4h-2.2zM7.0 17.0h2.2v1.4h-2.2zM7.4 0.3h2.2v1.4h-2.2zM14.2 1.1h2.2v1.4h-2.2zM4.4 46.1h2.2v1.4h-2.2zM10.6 52.6h2.2v1.4h-2.2zM17.5 22.1h2.2v1.4h-2.2zM3.5 29.3h2.2v1.4h-2.2zM18.5 20.6h2.2v1.4h-2.2zM19.1 49.1h2.2v1.4h-2.2zM13.0 61.5h2.2v1.4h-2.2zM9.7 25.7h2.2v1.4h-2.2zM17.4 45.6h2.2v1.4h-2.2zM1.3 59.0h2.2v1.4h-2.2zM12.0 68.5h2.2v1.4h-2.2zM16.8 51.3h2.2v1.4h-2.2zM13.3 17.0h2.2v1.4h-2.2zM10.7 20.3h2.2v1.4h-2.2zM13.7 20.5h2.2v1.4h-2.2zM16.0 37.7h2.2v1.4h-2.2zM17.5 36.5h2.2v1.4h-2.2zM5.7 50.3h2.2v1.4h-2.2zM19.8 0.1h2.2v1.4h-2.2zM13.7 66.6h2.2v1.4h-2.2zM4.8 8.5h2.2v1.4h-2.2zM15.1 70.2h2.2v1.4h-2.2zM0.6 76.2h2.2v1.4h-2.2zM11.1 49.4h2.2v1.4h-2.2zM15.4 53.6h2.2v1.4h-2.2zM16.2 63.8h2.2v1.4h-2.2zM19.1 0.2h2.2v1.4h-2.2z"/>
<path fill="#a0a0ff" d="M5.2 49.4h2.2v1.4h-2.2zM9.3 78.1h2.2v1.4h-2.2zM2.0 24.8h2.2v1.4h-2.2zM18.9 45.7h2.2v1.4h-2.2zM8.6 55.9h2.2v1.4h-2.2zM4.9 45.9h2.2v1.4h-2.2zM2.0 14.0h2.2v1.4h-2.2zM4.7 15.5h2.2v1.4h-2.2zM9.8 39.5h2.2v1.4h-2.2zM9.3 19.7h2.2v1.4h-2.2zM3.5 25.2h2.2v1.4h-2.2zM17.2 68.9h2.2v1.4h-2.2zM13.8 68.8h2.2v1.4h-2.2zM14.3 27.4h2.2v1.4h-2.2zM8.9 30.6h2.2v1.4h-2.2zM18.9 57.4h2.2v1.4h-2.2zM9.3 75.9h2.2v1.4h-2.2zM5.4 10.4h2.2v1.4h-2.2zM7.5 15.1h2.2v1.4h-2.2zM7.0 5.1h2.2v1.4h-2.2zM9.7 40.0h2.2v1.4h-2.2zM13.8 25.1h2.2v1.4h-2.2zM9.7 75.6h2.2v1.4h-2.2zM4.3 59.5h2.2v1.4h-2.2zM8.9 50.5h2.2v1.4h-2.2zM20.0 8.7h2.2v1.4h-2.2zM19.5 1.5h2.2v1.4h-2.2zM16.7 0.9h2.2v1.4h-2.2zM13.7 68.5h2.2v1.4h-2.2zM8.6 69.7h2.2v1.4h-2.2zM1.8 31.0h2.2v1.4h-2.2zM1.2 68.3h2.2v1.4h-2.2zM13.1 12.5h2.2v1.4h-2.2zM13.5 69.3h2.2v1.4h-2.2zM17.6 54.0h2.2v1.4h-2.2zM7.9 6.5h2.2v1.4h-2.2zM7.9 75.6h2.2v1.4h-2.2zM17.8 57.3h2.2v1.4h-2.2z"/>
<path fill="#dcdcff" d="M2.4 17.1h2.2v1.4h-2.2zM3.0 42.8h2.2v1.4h-2.2zM2.8 49.1h2.2v1.4h-2.2zM12.8 40.8h2.2v1.4h-2.2zM0.0 22.1h2.2v1.4h-2.2zM0.2 42.1h2.2v1.4h-2.2zM20.1 30.0h2.2v1.4h-2.2zM4.3 46.1h2.2v1.4h-2.2zM18.5 3.8h2.2v1.4h-2.2zM19.7 3.4h2.2v1.4h-2.2zM3.9 6.6h2.2v1.4h-2.2zM8.0 58.8h2.2v1.4h-2.2zM14.7 47.2h2.2v1.4h-2.2zM15.3 28.6h2.2v1.4h-2.2zM18.7 15.3h2.2v1.4h-2.2zM18.8 24.5h2.2v1.4h-2.2zM8.1 27.1h2.2v1.4h-2.2zM15.9 18.7h2.2v1.4h-2.2zM0.4 34.8h2.2v1.4h-2.2zM13.5 13.6h2.2v1.4h-2.2zM0.6 16.6h2.2v1.4h-2.2zM9.0 9.7h2.2v1.4h-2.2zM4.4 55.4h2.2v1.4h-2.2zM12.8 0.6h2.2v1.4h-2.2zM7.4 74.4h2.2v1.4h-2.2zM20.4 6.9h2.2v1.4h-2.2zM3.0 33.7h2.2v1.4h-2.2zM17.2 73.2h2.2v1.4h-2.2zM8.3 3.5h2.2v1.4h-2.2zM17.9 59.7h2.2v1.4h-2.2zM19.2 14.4h2.2v1.4h-2.2zM12.5 18.0h2.2v1.4h-2.2zM6.2 71.1h2.2v1.4h-2.2zM14.8 15.2h2.2v1.4h-2.2zM6.4 28.0h2.2v1.4h-2.2zM1.5 38.2h2.2v1.4h-2.2zM3.1 18.6h2.2v1.4h-2.2zM9.9 31.8h2.2v1.4h-2.2zM8.3 67.1h2.2v1.4h-2.2zM4.8 32.9h2.2v1.4h-2.2zM11.2 16.0h2.2v1.4h-2.2zM3.1 53.8h2.2v1.4h-2.2zM10.3 35.6h2.2v1.4h-2.2z"/>
<path fill="#b0b0ff" d="M2.8 0.6h2.2v1.4h-2.2zM5.9 1.9h2.2v1.4h-2.2zM10.7 23.2h2.2v1.4h-2.2zM15.1 60.5h2.2v1.4h-2.2zM0.2 37.2h2.2v1.4h-2.2zM10.4 49.6h2.2v1.4h-2.2zM19.6 0.5h2.2v1.4h-2.2zM7.4 39.3h2.2v1.4h-2.2zM2.8 61.0h2.2v1.4h-2.2zM6.4 34.8h2.2v1.4h-2.2zM6.5 30.3h2.2v1.4h-2.2zM18.6 43.8h2.2v1.4h-2.2zM2.5 45.2h2.2v1.4h-2.2zM3.5 25.8h2.2v1.4h-2.2zM15.9 47.7h2.2v1.4h-2.2zM3.8 77.1h2.2v1.4h-2.2zM16.2 20.5h2.2v1.4h-2.2zM1.1 29.8h2.2v1.4h-2.2zM14.3 50.8h2.2v1.4h-2.2zM8.8 17.0h2.2v1.4h-2.2zM0.7 69.2h2.2v1.4h-2.2zM7.1 0.5h2.2v1.4h-2.2zM8.5 28.7h2.2v1.4h-2.2zM3.7 62.8h2.2v1.4h-2.2zM7.1 32.5h2.2v1.4h-2.2zM1.9 29.7h2.2v1.4h-2.2zM5.0 70.9h2.2v1.4h-2.2zM14.9 20.8h2.2v1.4h-2.2zM17.6 3.9h2.2v1.4h-2.2zM12.7 51.4h2.2v1.4h-2.2zM15.9 8.6h2.2v1.4h-2.2zM6.1 53.0h2.2v1.4h-2.2zM5.1 36.2h2.2v1.4h-2.2zM18.0 46.6h2.2v1.4h-2.2zM0.4 28.2h2.2v1.4h-2.2zM1.4 20.4h2.2v1.4h-2.2zM4.3 52.8h2.2v1.4h-2.2zM12.3 58.4h2.2v1.4h-2.2z"/>
</pattern>
<rect x="405.0" y="636.0" width="22.6" height="544.0" fill="url(#p8)"/>
<pattern id="p9" x="397.0" y="636.0" width="30.6" height="80" patternUnits="userSpaceOnUse">
<path fill="#9090ff" d="M2.3 76.3h1.3v1.1h-1.3zM29.3 35.8h1.3v1.1h-1.3zM4.8 8.5h1.3v1.1h-1.3zM21.0 16.7h1.3v1.1h-1.3zM1.2 32.4h1.3v1.1h-1.3zM17.9 29.6h1.3v1.1h-1.3zM11.0 68.5h1.3v1.1h-1.3zM19.0 46.3h1.3v1.1h-1.3zM9.6 0.2h1.3v1.1h-1.3zM2.4 64.5h1.3v1.1h-1.3zM11.0 1.5h1.3v1.1h-1.3zM19.5 19.5h1.3v1.1h-1.3z"/>
<path fill="#ffffff" d="M7.6 36.6h1.3v1.1h-1.3zM17.4 14.8h1.3v1.1h-1.3zM23.0 12.1h1.3v1.1h-1.3zM18.3 24.4h1.3v1.1h-1.3zM20.9 77.2h1.3v1.1h-1.3zM25.8 74.3h1.3v1.1h-1.3zM2.0 49.7h1.3v1.1h-1.3zM22.2 7.5h1.3v1.1h-1.3z"/>
<path fill="#e8e8ff" d="M8.7 58.2h1.3v1.1h-1.3zM18.9 8.9h1.3v1.1h-1.3zM26.6 71.8h1.3v1.1h-1.3z"/>
<path fill="#ff8a8a" d="M19.9 23.0h1.3v1.1h-1.3zM3.1 14.0h1.3v1.1h-1.3zM27.1 70.8h1.3v1.1h-1.3z"/>
</pattern>
<rect x="397.0" y="700.0" width="30.6" height="480.0" fill="url(#p9)"/>
</g>
<rect x="427.6" y="636.0" width="3.0" height="544.0" fill="#c8c8c8" opacity="0.55"/>
<rect x="385.0" y="627.5" width="7.3" height="6.0" fill="#cfcfcf" opacity="0.45"/>
<rect x="395.4" y="627.5" width="7.3" height="6.0" fill="#cfcfcf" opacity="0.45"/>
<rect x="405.8" y="627.5" width="7.3" height="6.0" fill="#cfcfcf" opacity="0.45"/>
<rect x="416.2" y="627.5" width="7.3" height="6.0" fill="#cfcfcf" opacity="0.45"/>
<rect x="384.0" y="635.5" width="51.7" height="15.3" fill="none" stroke="#000" stroke-width="2.2"/>
<g shape-rendering="crispEdges">
<path fill="#f3a9af" d="M510.00 749.20h17.41v17.25h-17.41zM562.13 749.20h17.41v17.25h-17.41zM596.88 835.30h17.41v17.25h-17.41zM614.26 886.96h17.41v17.25h-17.41zM544.75 921.40h17.41v17.25h-17.41zM840.15 955.84h17.41v17.25h-17.41zM892.27 973.06h17.41v17.25h-17.41zM718.51 1024.72h17.41v17.25h-17.41zM701.14 1059.16h17.41v17.25h-17.41z"/>
<path fill="#f7c6c9" d="M527.38 749.20h17.41v17.25h-17.41z"/>
<path fill="#f3a2a8" d="M544.75 749.20h17.41v17.25h-17.41zM631.63 766.42h17.41v17.25h-17.41zM718.51 783.64h17.41v17.25h-17.41zM857.52 800.86h17.41v17.25h-17.41zM544.75 835.30h17.41v17.25h-17.41zM666.38 852.52h17.41v17.25h-17.41zM735.89 886.96h17.41v17.25h-17.41zM822.77 955.84h17.41v17.25h-17.41zM631.63 1024.72h17.41v17.25h-17.41zM614.26 1041.94h17.41v17.25h-17.41zM718.51 1059.16h17.41v17.25h-17.41z"/>
<path fill="#f3a8ae" d="M579.50 749.20h17.41v17.25h-17.41zM631.63 749.20h17.41v17.25h-17.41zM735.89 783.64h17.41v17.25h-17.41zM631.63 869.74h17.41v17.25h-17.41zM857.52 869.74h17.41v17.25h-17.41z"/>
<path fill="#f7c5c9" d="M596.88 749.20h17.41v17.25h-17.41zM753.27 783.64h17.41v17.25h-17.41zM649.01 800.86h17.41v17.25h-17.41zM788.02 800.86h17.41v17.25h-17.41zM527.38 818.08h17.41v17.25h-17.41zM788.02 818.08h17.41v17.25h-17.41zM596.88 852.52h17.41v17.25h-17.41zM718.51 886.96h17.41v17.25h-17.41zM874.90 921.40h17.41v17.25h-17.41zM579.50 938.62h17.41v17.25h-17.41zM735.89 938.62h17.41v17.25h-17.41zM649.01 1007.50h17.41v17.25h-17.41zM788.02 1007.50h17.41v17.25h-17.41zM631.63 1059.16h17.41v17.25h-17.41zM718.51 1076.38h17.41v17.25h-17.41z"/>
<path fill="#f4adb3" d="M614.26 749.20h17.41v17.25h-17.41zM874.90 749.20h17.41v17.25h-17.41zM874.90 783.64h17.41v17.25h-17.41zM631.63 921.40h17.41v17.25h-17.41zM718.51 921.40h17.41v17.25h-17.41zM666.38 955.84h17.41v17.25h-17.41zM822.77 1059.16h17.41v17.25h-17.41z"/>
<path fill="#ffffff" d="M649.01 749.20h17.41v17.25h-17.41zM649.01 783.64h17.41v17.25h-17.41zM701.14 800.86h17.41v17.25h-17.41zM770.64 835.30h17.41v17.25h-17.41zM805.39 835.30h17.41v17.25h-17.41zM788.02 1024.72h17.41v17.25h-17.41zM649.01 1041.94h17.41v17.25h-17.41zM1152.92 1041.94h17.41v17.25h-17.41zM1274.55 1059.16h17.41v17.25h-17.41zM788.02 1076.38h17.41v17.25h-17.41zM805.39 1076.38h17.41v17.25h-17.41zM1274.55 1076.38h17.41v17.25h-17.41z"/>
<path fill="#f3a6ac" d="M666.38 749.20h17.41v17.25h-17.41zM718.51 766.42h17.41v17.25h-17.41zM544.75 818.08h17.41v17.25h-17.41zM840.15 869.74h17.41v17.25h-17.41zM892.27 886.96h17.41v17.25h-17.41zM527.38 938.62h17.41v17.25h-17.41zM614.26 973.06h17.41v17.25h-17.41zM874.90 1041.94h17.41v17.25h-17.41z"/>
<path fill="#f2858b" d="M683.76 749.20h17.41v17.25h-17.41zM527.38 783.64h17.41v17.25h-17.41zM753.27 818.08h17.41v17.25h-17.41zM857.52 852.52h17.41v17.25h-17.41zM527.38 869.74h17.41v17.25h-17.41zM579.50 869.74h17.41v17.25h-17.41zM892.27 1007.50h17.41v17.25h-17.41z"/>
<path fill="#f8cdd0" d="M701.14 749.20h17.41v17.25h-17.41zM770.64 766.42h17.41v17.25h-17.41zM562.13 818.08h17.41v17.25h-17.41zM735.89 818.08h17.41v17.25h-17.41zM666.38 990.28h17.41v17.25h-17.41z"/>
<path fill="#f28c92" d="M718.51 749.20h17.41v17.25h-17.41zM562.13 783.64h17.41v17.25h-17.41zM614.26 835.30h17.41v17.25h-17.41zM770.64 938.62h17.41v17.25h-17.41zM510.00 955.84h17.41v17.25h-17.41zM562.13 955.84h17.41v17.25h-17.41zM544.75 973.06h17.41v17.25h-17.41zM718.51 1007.50h17.41v17.25h-17.41zM840.15 1041.94h17.41v17.25h-17.41zM527.38 1059.16h17.41v17.25h-17.41zM562.13 1076.38h17.41v17.25h-17.41zM631.63 1076.38h17.41v17.25h-17.41z"/>
<path fill="#f4aeb4" d="M735.89 749.20h17.41v17.25h-17.41zM596.88 783.64h17.41v17.25h-17.41zM753.27 869.74h17.41v17.25h-17.41zM892.27 904.18h17.41v17.25h-17.41zM822.77 1076.38h17.41v17.25h-17.41z"/>
<path fill="#f3a4aa" d="M753.27 749.20h17.41v17.25h-17.41zM735.89 766.42h17.41v17.25h-17.41zM822.77 766.42h17.41v17.25h-17.41zM840.15 783.64h17.41v17.25h-17.41zM614.26 852.52h17.41v17.25h-17.41zM631.63 886.96h17.41v17.25h-17.41zM683.76 955.84h17.41v17.25h-17.41zM596.88 973.06h17.41v17.25h-17.41zM701.14 1024.72h17.41v17.25h-17.41z"/>
<path fill="#f7c3c8" d="M770.64 749.20h17.41v17.25h-17.41z"/>
<path fill="#f8ced1" d="M788.02 749.20h17.41v17.25h-17.41zM544.75 800.86h17.41v17.25h-17.41zM822.77 835.30h17.41v17.25h-17.41zM857.52 835.30h17.41v17.25h-17.41zM753.27 921.40h17.41v17.25h-17.41zM840.15 973.06h17.41v17.25h-17.41z"/>
<path fill="#dfdfff" d="M805.39 749.20h17.41v17.25h-17.41zM1152.92 869.74h17.41v17.25h-17.41zM944.40 938.62h17.41v17.25h-17.41z"/>
<path fill="#f3a1a7" d="M822.77 749.20h17.41v17.25h-17.41zM666.38 766.42h17.41v17.25h-17.41zM596.88 818.08h17.41v17.25h-17.41zM631.63 938.62h17.41v17.25h-17.41zM544.75 990.28h17.41v17.25h-17.41zM857.52 1041.94h17.41v17.25h-17.41z"/>
<path fill="#f2878d" d="M840.15 749.20h17.41v17.25h-17.41zM857.52 749.20h17.41v17.25h-17.41zM666.38 783.64h17.41v17.25h-17.41zM666.38 835.30h17.41v17.25h-17.41zM562.13 921.40h17.41v17.25h-17.41zM527.38 955.84h17.41v17.25h-17.41zM822.77 1007.50h17.41v17.25h-17.41z"/>
<path fill="#f29096" d="M892.27 749.20h17.41v17.25h-17.41zM579.50 921.40h17.41v17.25h-17.41zM735.89 1007.50h17.41v17.25h-17.41z"/>
<path fill="#adadff" d="M909.65 749.20h17.41v17.25h-17.41zM1048.66 749.20h17.41v17.25h-17.41zM944.40 766.42h17.41v17.25h-17.41zM1222.42 852.52h17.41v17.25h-17.41zM1031.28 869.74h17.41v17.25h-17.41zM1170.29 869.74h17.41v17.25h-17.41zM961.78 886.96h17.41v17.25h-17.41zM1083.41 886.96h17.41v17.25h-17.41zM1170.29 886.96h17.41v17.25h-17.41zM1083.41 904.18h17.41v17.25h-17.41zM961.78 938.62h17.41v17.25h-17.41zM1118.16 955.84h17.41v17.25h-17.41zM944.40 973.06h17.41v17.25h-17.41zM1066.03 990.28h17.41v17.25h-17.41zM1100.79 1041.94h17.41v17.25h-17.41zM1187.67 1041.94h17.41v17.25h-17.41z"/>
<path fill="#a7a7ff" d="M927.03 749.20h17.41v17.25h-17.41zM1013.91 800.86h17.41v17.25h-17.41zM1066.03 835.30h17.41v17.25h-17.41zM1187.67 852.52h17.41v17.25h-17.41zM1205.04 904.18h17.41v17.25h-17.41zM1222.42 904.18h17.41v17.25h-17.41zM1205.04 938.62h17.41v17.25h-17.41zM1100.79 955.84h17.41v17.25h-17.41zM927.03 1007.50h17.41v17.25h-17.41zM927.03 1024.72h17.41v17.25h-17.41z"/>
<path fill="#bebeff" d="M944.40 749.20h17.41v17.25h-17.41zM1083.41 766.42h17.41v17.25h-17.41zM909.65 818.08h17.41v17.25h-17.41zM1205.04 835.30h17.41v17.25h-17.41zM927.03 852.52h17.41v17.25h-17.41zM996.53 886.96h17.41v17.25h-17.41zM1118.16 886.96h17.41v17.25h-17.41zM1135.54 904.18h17.41v17.25h-17.41zM944.40 921.40h17.41v17.25h-17.41zM1291.92 921.40h17.41v17.25h-17.41z"/>
<path fill="#a9a9ff" d="M961.78 749.20h17.41v17.25h-17.41zM1239.80 749.20h17.41v17.25h-17.41zM1100.79 783.64h17.41v17.25h-17.41zM1222.42 783.64h17.41v17.25h-17.41zM1291.92 783.64h17.41v17.25h-17.41zM1031.28 835.30h17.41v17.25h-17.41zM1013.91 852.52h17.41v17.25h-17.41zM979.15 869.74h17.41v17.25h-17.41zM1239.80 973.06h17.41v17.25h-17.41zM1066.03 1007.50h17.41v17.25h-17.41zM1083.41 1007.50h17.41v17.25h-17.41zM1222.42 1024.72h17.41v17.25h-17.41zM1066.03 1041.94h17.41v17.25h-17.41zM1170.29 1041.94h17.41v17.25h-17.41zM996.53 1076.38h17.41v17.25h-17.41z"/>
<path fill="#a7a6ff" d="M979.15 749.20h17.41v17.25h-17.41zM996.53 835.30h17.41v17.25h-17.41zM1031.28 904.18h17.41v17.25h-17.41zM1100.79 1059.16h17.41v17.25h-17.41z"/>
<path fill="#acacff" d="M996.53 749.20h17.41v17.25h-17.41zM1013.91 749.20h17.41v17.25h-17.41zM1083.41 749.20h17.41v17.25h-17.41zM1048.66 818.08h17.41v17.25h-17.41zM1205.04 852.52h17.41v17.25h-17.41zM1031.28 886.96h17.41v17.25h-17.41zM927.03 938.62h17.41v17.25h-17.41zM1170.29 938.62h17.41v17.25h-17.41zM1135.54 990.28h17.41v17.25h-17.41zM1048.66 1024.72h17.41v17.25h-17.41zM927.03 1059.16h17.41v17.25h-17.41z"/>
<path fill="#9c9aff" d="M1031.28 749.20h17.41v17.25h-17.41zM961.78 852.52h17.41v17.25h-17.41zM1066.03 1059.16h17.41v17.25h-17.41z"/>
<path fill="#9a98ff" d="M1066.03 749.20h17.41v17.25h-17.41zM1239.80 766.42h17.41v17.25h-17.41zM961.78 818.08h17.41v17.25h-17.41zM1048.66 955.84h17.41v17.25h-17.41zM996.53 973.06h17.41v17.25h-17.41zM1031.28 973.06h17.41v17.25h-17.41zM1083.41 1059.16h17.41v17.25h-17.41z"/>
<path fill="#c4c4ff" d="M1100.79 749.20h17.41v17.25h-17.41zM1031.28 766.42h17.41v17.25h-17.41zM1100.79 818.08h17.41v17.25h-17.41zM1118.16 835.30h17.41v17.25h-17.41zM909.65 852.52h17.41v17.25h-17.41zM1257.17 869.74h17.41v17.25h-17.41zM1135.54 886.96h17.41v17.25h-17.41zM1170.29 955.84h17.41v17.25h-17.41zM1205.04 973.06h17.41v17.25h-17.41zM927.03 990.28h17.41v17.25h-17.41zM996.53 1007.50h17.41v17.25h-17.41z"/>
<path fill="#c1c1ff" d="M1118.16 749.20h17.41v17.25h-17.41zM961.78 766.42h17.41v17.25h-17.41zM1135.54 818.08h17.41v17.25h-17.41zM1100.79 835.30h17.41v17.25h-17.41zM1222.42 835.30h17.41v17.25h-17.41zM1135.54 921.40h17.41v17.25h-17.41zM1135.54 938.62h17.41v17.25h-17.41zM927.03 1041.94h17.41v17.25h-17.41zM1187.67 1059.16h17.41v17.25h-17.41z"/>
<path fill="#bfbfff" d="M1135.54 749.20h17.41v17.25h-17.41zM1100.79 766.42h17.41v17.25h-17.41zM1152.92 783.64h17.41v17.25h-17.41zM909.65 835.30h17.41v17.25h-17.41zM1118.16 852.52h17.41v17.25h-17.41zM805.39 869.74h17.41v17.25h-17.41zM909.65 869.74h17.41v17.25h-17.41zM1291.92 904.18h17.41v17.25h-17.41zM944.40 990.28h17.41v17.25h-17.41zM1187.67 990.28h17.41v17.25h-17.41zM944.40 1024.72h17.41v17.25h-17.41zM1048.66 1041.94h17.41v17.25h-17.41zM909.65 1059.16h17.41v17.25h-17.41zM1205.04 1076.38h17.41v17.25h-17.41z"/>
<path fill="#c9c9ff" d="M1152.92 749.20h17.41v17.25h-17.41zM1170.29 904.18h17.41v17.25h-17.41z"/>
<path fill="#9e9cff" d="M1170.29 749.20h17.41v17.25h-17.41zM979.15 938.62h17.41v17.25h-17.41zM979.15 955.84h17.41v17.25h-17.41z"/>
<path fill="#c6c6ff" d="M1187.67 749.20h17.41v17.25h-17.41zM1135.54 766.42h17.41v17.25h-17.41zM1118.16 800.86h17.41v17.25h-17.41zM1100.79 852.52h17.41v17.25h-17.41zM1274.55 886.96h17.41v17.25h-17.41zM1152.92 904.18h17.41v17.25h-17.41zM996.53 955.84h17.41v17.25h-17.41zM1135.54 973.06h17.41v17.25h-17.41zM1187.67 973.06h17.41v17.25h-17.41zM1152.92 990.28h17.41v17.25h-17.41zM996.53 1024.72h17.41v17.25h-17.41zM944.40 1076.38h17.41v17.25h-17.41z"/>
<path fill="#afafff" d="M1205.04 749.20h17.41v17.25h-17.41zM1083.41 783.64h17.41v17.25h-17.41zM1170.29 800.86h17.41v17.25h-17.41zM1031.28 818.08h17.41v17.25h-17.41zM1135.54 835.30h17.41v17.25h-17.41zM1187.67 835.30h17.41v17.25h-17.41zM1048.66 990.28h17.41v17.25h-17.41zM1205.04 1007.50h17.41v17.25h-17.41zM1187.67 1024.72h17.41v17.25h-17.41zM979.15 1041.94h17.41v17.25h-17.41zM1135.54 1059.16h17.41v17.25h-17.41zM1291.92 1076.38h17.41v17.25h-17.41z"/>
<path fill="#aaaaff" d="M1222.42 749.20h17.41v17.25h-17.41zM1239.80 818.08h17.41v17.25h-17.41zM1170.29 852.52h17.41v17.25h-17.41zM1187.67 921.40h17.41v17.25h-17.41z"/>
<path fill="#d6d6ff" d="M1257.17 749.20h17.41v17.25h-17.41zM944.40 818.08h17.41v17.25h-17.41zM1170.29 990.28h17.41v17.25h-17.41zM1257.17 1024.72h17.41v17.25h-17.41z"/>
<path fill="#d3d3ff" d="M1274.55 749.20h17.41v17.25h-17.41zM1048.66 766.42h17.41v17.25h-17.41zM996.53 904.18h17.41v17.25h-17.41zM805.39 955.84h17.41v17.25h-17.41zM1152.92 973.06h17.41v17.25h-17.41zM701.14 990.28h17.41v17.25h-17.41z"/>
<path fill="#dcdcff" d="M1291.92 749.20h17.41v17.25h-17.41zM944.40 852.52h17.41v17.25h-17.41zM1118.16 921.40h17.41v17.25h-17.41zM1152.92 921.40h17.41v17.25h-17.41zM909.65 990.28h17.41v17.25h-17.41zM1257.17 1007.50h17.41v17.25h-17.41zM1152.92 1076.38h17.41v17.25h-17.41z"/>
<path fill="#f3aaaf" d="M510.00 766.42h17.41v17.25h-17.41z"/>
<path fill="#f2848a" d="M527.38 766.42h17.41v17.25h-17.41zM510.00 835.30h17.41v17.25h-17.41zM666.38 869.74h17.41v17.25h-17.41zM614.26 921.40h17.41v17.25h-17.41zM527.38 1024.72h17.41v17.25h-17.41zM562.13 1024.72h17.41v17.25h-17.41zM544.75 1041.94h17.41v17.25h-17.41zM840.15 1059.16h17.41v17.25h-17.41z"/>
<path fill="#f28a90" d="M544.75 766.42h17.41v17.25h-17.41zM683.76 766.42h17.41v17.25h-17.41zM631.63 852.52h17.41v17.25h-17.41zM510.00 886.96h17.41v17.25h-17.41zM683.76 921.40h17.41v17.25h-17.41zM857.52 921.40h17.41v17.25h-17.41zM510.00 1024.72h17.41v17.25h-17.41z"/>
<path fill="#f6bfc4" d="M562.13 766.42h17.41v17.25h-17.41zM701.14 869.74h17.41v17.25h-17.41zM735.89 869.74h17.41v17.25h-17.41zM788.02 955.84h17.41v17.25h-17.41zM805.39 1007.50h17.41v17.25h-17.41zM614.26 1059.16h17.41v17.25h-17.41z"/>
<path fill="#f6c1c5" d="M579.50 766.42h17.41v17.25h-17.41zM822.77 973.06h17.41v17.25h-17.41zM683.76 990.28h17.41v17.25h-17.41zM631.63 1007.50h17.41v17.25h-17.41zM596.88 1024.72h17.41v17.25h-17.41z"/>
<path fill="#fcedee" d="M596.88 766.42h17.41v17.25h-17.41z"/>
<path fill="#f4adb2" d="M614.26 766.42h17.41v17.25h-17.41zM822.77 904.18h17.41v17.25h-17.41z"/>
<path fill="#fbe5e7" d="M649.01 766.42h17.41v17.25h-17.41zM735.89 921.40h17.41v17.25h-17.41zM701.14 1041.94h17.41v17.25h-17.41zM596.88 1059.16h17.41v17.25h-17.41z"/>
<path fill="#fceced" d="M701.14 766.42h17.41v17.25h-17.41zM596.88 800.86h17.41v17.25h-17.41zM788.02 835.30h17.41v17.25h-17.41zM649.01 955.84h17.41v17.25h-17.41zM735.89 1041.94h17.41v17.25h-17.41z"/>
<path fill="#f3acb1" d="M753.27 766.42h17.41v17.25h-17.41zM562.13 800.86h17.41v17.25h-17.41zM874.90 973.06h17.41v17.25h-17.41z"/>
<path fill="#f3abb0" d="M788.02 766.42h17.41v17.25h-17.41zM544.75 938.62h17.41v17.25h-17.41z"/>
<path fill="#fadee0" d="M805.39 766.42h17.41v17.25h-17.41zM701.14 852.52h17.41v17.25h-17.41z"/>
<path fill="#f28e94" d="M840.15 766.42h17.41v17.25h-17.41zM874.90 766.42h17.41v17.25h-17.41zM805.39 783.64h17.41v17.25h-17.41zM666.38 800.86h17.41v17.25h-17.41zM805.39 800.86h17.41v17.25h-17.41zM683.76 904.18h17.41v17.25h-17.41zM857.52 938.62h17.41v17.25h-17.41zM562.13 973.06h17.41v17.25h-17.41zM562.13 1059.16h17.41v17.25h-17.41zM840.15 1076.38h17.41v17.25h-17.41zM857.52 1076.38h17.41v17.25h-17.41z"/>
<path fill="#f4acb2" d="M857.52 766.42h17.41v17.25h-17.41zM510.00 783.64h17.41v17.25h-17.41zM631.63 783.64h17.41v17.25h-17.41zM631.63 835.30h17.41v17.25h-17.41zM666.38 904.18h17.41v17.25h-17.41zM874.90 938.62h17.41v17.25h-17.41zM631.63 955.84h17.41v17.25h-17.41z"/>
<path fill="#f28f95" d="M892.27 766.42h17.41v17.25h-17.41zM579.50 783.64h17.41v17.25h-17.41zM822.77 800.86h17.41v17.25h-17.41zM683.76 852.52h17.41v17.25h-17.41zM510.00 869.74h17.41v17.25h-17.41zM718.51 938.62h17.41v17.25h-17.41zM822.77 990.28h17.41v17.25h-17.41zM874.90 990.28h17.41v17.25h-17.41zM857.52 1007.50h17.41v17.25h-17.41zM735.89 1059.16h17.41v17.25h-17.41z"/>
<path fill="#b0b0ff" d="M909.65 766.42h17.41v17.25h-17.41zM1083.41 800.86h17.41v17.25h-17.41zM1239.80 800.86h17.41v17.25h-17.41zM927.03 835.30h17.41v17.25h-17.41zM927.03 886.96h17.41v17.25h-17.41zM996.53 921.40h17.41v17.25h-17.41zM1100.79 921.40h17.41v17.25h-17.41zM1222.42 973.06h17.41v17.25h-17.41zM1031.28 1007.50h17.41v17.25h-17.41zM1291.92 1024.72h17.41v17.25h-17.41zM961.78 1041.94h17.41v17.25h-17.41zM1222.42 1041.94h17.41v17.25h-17.41z"/>
<path fill="#d4d4ff" d="M927.03 766.42h17.41v17.25h-17.41zM1013.91 766.42h17.41v17.25h-17.41zM1170.29 783.64h17.41v17.25h-17.41zM1257.17 818.08h17.41v17.25h-17.41zM1274.55 1024.72h17.41v17.25h-17.41z"/>
<path fill="#9592ff" d="M979.15 766.42h17.41v17.25h-17.41zM1239.80 835.30h17.41v17.25h-17.41zM1013.91 1024.72h17.41v17.25h-17.41z"/>
<path fill="#9b99ff" d="M996.53 766.42h17.41v17.25h-17.41zM961.78 800.86h17.41v17.25h-17.41zM1048.66 800.86h17.41v17.25h-17.41zM979.15 921.40h17.41v17.25h-17.41zM1066.03 938.62h17.41v17.25h-17.41z"/>
<path fill="#ababff" d="M1066.03 766.42h17.41v17.25h-17.41zM996.53 783.64h17.41v17.25h-17.41zM1222.42 800.86h17.41v17.25h-17.41zM927.03 869.74h17.41v17.25h-17.41zM1187.67 869.74h17.41v17.25h-17.41zM1066.03 886.96h17.41v17.25h-17.41zM1239.80 955.84h17.41v17.25h-17.41zM1013.91 990.28h17.41v17.25h-17.41zM1205.04 990.28h17.41v17.25h-17.41zM927.03 1076.38h17.41v17.25h-17.41zM1100.79 1076.38h17.41v17.25h-17.41zM1222.42 1076.38h17.41v17.25h-17.41z"/>
<path fill="#b3b3ff" d="M1118.16 766.42h17.41v17.25h-17.41zM1048.66 783.64h17.41v17.25h-17.41zM996.53 800.86h17.41v17.25h-17.41zM1170.29 835.30h17.41v17.25h-17.41zM1048.66 852.52h17.41v17.25h-17.41zM1066.03 852.52h17.41v17.25h-17.41zM1013.91 869.74h17.41v17.25h-17.41zM909.65 921.40h17.41v17.25h-17.41zM1187.67 1007.50h17.41v17.25h-17.41zM1135.54 1041.94h17.41v17.25h-17.41zM1048.66 1059.16h17.41v17.25h-17.41zM1222.42 1059.16h17.41v17.25h-17.41z"/>
<path fill="#9694ff" d="M1152.92 766.42h17.41v17.25h-17.41zM979.15 800.86h17.41v17.25h-17.41zM1083.41 818.08h17.41v17.25h-17.41z"/>
<path fill="#9d9bff" d="M1170.29 766.42h17.41v17.25h-17.41zM1066.03 800.86h17.41v17.25h-17.41zM1170.29 818.08h17.41v17.25h-17.41zM961.78 921.40h17.41v17.25h-17.41zM1066.03 921.40h17.41v17.25h-17.41zM961.78 1007.50h17.41v17.25h-17.41zM1083.41 1076.38h17.41v17.25h-17.41z"/>
<path fill="#9593ff" d="M1187.67 766.42h17.41v17.25h-17.41zM1291.92 766.42h17.41v17.25h-17.41zM1066.03 783.64h17.41v17.25h-17.41zM1066.03 869.74h17.41v17.25h-17.41zM1239.80 886.96h17.41v17.25h-17.41zM1083.41 955.84h17.41v17.25h-17.41zM1083.41 973.06h17.41v17.25h-17.41z"/>
<path fill="#9795ff" d="M1205.04 766.42h17.41v17.25h-17.41zM1031.28 921.40h17.41v17.25h-17.41zM1239.80 938.62h17.41v17.25h-17.41zM1048.66 973.06h17.41v17.25h-17.41zM961.78 1059.16h17.41v17.25h-17.41zM1013.91 1059.16h17.41v17.25h-17.41zM1048.66 1076.38h17.41v17.25h-17.41z"/>
<path fill="#c7c7ff" d="M1222.42 766.42h17.41v17.25h-17.41zM1205.04 800.86h17.41v17.25h-17.41zM1013.91 818.08h17.41v17.25h-17.41zM1135.54 852.52h17.41v17.25h-17.41zM1152.92 852.52h17.41v17.25h-17.41zM996.53 869.74h17.41v17.25h-17.41zM1083.41 1041.94h17.41v17.25h-17.41z"/>
<path fill="#e6e6ff" d="M1257.17 766.42h17.41v17.25h-17.41zM805.39 938.62h17.41v17.25h-17.41z"/>
<path fill="#f3f3ff" d="M1274.55 766.42h17.41v17.25h-17.41z"/>
<path fill="#f28b91" d="M544.75 783.64h17.41v17.25h-17.41zM683.76 783.64h17.41v17.25h-17.41zM683.76 800.86h17.41v17.25h-17.41zM562.13 869.74h17.41v17.25h-17.41zM683.76 886.96h17.41v17.25h-17.41zM857.52 886.96h17.41v17.25h-17.41zM874.90 886.96h17.41v17.25h-17.41zM527.38 904.18h17.41v17.25h-17.41zM840.15 938.62h17.41v17.25h-17.41zM822.77 1024.72h17.41v17.25h-17.41zM857.52 1059.16h17.41v17.25h-17.41zM527.38 1076.38h17.41v17.25h-17.41zM579.50 1076.38h17.41v17.25h-17.41zM683.76 1076.38h17.41v17.25h-17.41z"/>
<path fill="#f3a7ad" d="M614.26 783.64h17.41v17.25h-17.41zM683.76 818.08h17.41v17.25h-17.41zM892.27 835.30h17.41v17.25h-17.41zM822.77 852.52h17.41v17.25h-17.41zM892.27 869.74h17.41v17.25h-17.41z"/>
<path fill="#fce6e7" d="M701.14 783.64h17.41v17.25h-17.41zM579.50 800.86h17.41v17.25h-17.41z"/>
<path fill="#fbdfe1" d="M770.64 783.64h17.41v17.25h-17.41zM840.15 835.30h17.41v17.25h-17.41zM649.01 886.96h17.41v17.25h-17.41zM770.64 921.40h17.41v17.25h-17.41zM701.14 1007.50h17.41v17.25h-17.41z"/>
<path fill="#fceaeb" d="M788.02 783.64h17.41v17.25h-17.41zM614.26 800.86h17.41v17.25h-17.41zM649.01 1076.38h17.41v17.25h-17.41z"/>
<path fill="#f6c0c4" d="M822.77 783.64h17.41v17.25h-17.41zM510.00 800.86h17.41v17.25h-17.41zM788.02 852.52h17.41v17.25h-17.41zM892.27 938.62h17.41v17.25h-17.41zM614.26 990.28h17.41v17.25h-17.41z"/>
<path fill="#f17177" d="M857.52 783.64h17.41v17.25h-17.41zM562.13 835.30h17.41v17.25h-17.41zM562.13 886.96h17.41v17.25h-17.41zM892.27 1041.94h17.41v17.25h-17.41z"/>
<path fill="#f3a5ab" d="M892.27 783.64h17.41v17.25h-17.41zM770.64 800.86h17.41v17.25h-17.41zM874.90 800.86h17.41v17.25h-17.41zM840.15 886.96h17.41v17.25h-17.41zM596.88 921.40h17.41v17.25h-17.41zM666.38 921.40h17.41v17.25h-17.41zM735.89 955.84h17.41v17.25h-17.41z"/>
<path fill="#b2b2ff" d="M909.65 783.64h17.41v17.25h-17.41zM961.78 783.64h17.41v17.25h-17.41zM1187.67 800.86h17.41v17.25h-17.41zM1066.03 818.08h17.41v17.25h-17.41zM1031.28 852.52h17.41v17.25h-17.41zM961.78 869.74h17.41v17.25h-17.41zM1291.92 886.96h17.41v17.25h-17.41zM1048.66 921.40h17.41v17.25h-17.41zM927.03 955.84h17.41v17.25h-17.41zM1083.41 990.28h17.41v17.25h-17.41zM1100.79 990.28h17.41v17.25h-17.41zM1118.16 990.28h17.41v17.25h-17.41zM1239.80 990.28h17.41v17.25h-17.41zM1083.41 1024.72h17.41v17.25h-17.41z"/>
<path fill="#d5d5ff" d="M927.03 783.64h17.41v17.25h-17.41zM805.39 886.96h17.41v17.25h-17.41zM979.15 886.96h17.41v17.25h-17.41zM1274.55 973.06h17.41v17.25h-17.41zM1257.17 990.28h17.41v17.25h-17.41zM1170.29 1024.72h17.41v17.25h-17.41zM1152.92 1059.16h17.41v17.25h-17.41z"/>
<path fill="#c8c8ff" d="M944.40 783.64h17.41v17.25h-17.41zM1135.54 800.86h17.41v17.25h-17.41zM1187.67 904.18h17.41v17.25h-17.41zM1100.79 938.62h17.41v17.25h-17.41zM1222.42 938.62h17.41v17.25h-17.41zM805.39 973.06h17.41v17.25h-17.41zM1222.42 990.28h17.41v17.25h-17.41zM1291.92 1007.50h17.41v17.25h-17.41zM909.65 1024.72h17.41v17.25h-17.41z"/>
<path fill="#aeaeff" d="M979.15 783.64h17.41v17.25h-17.41zM927.03 800.86h17.41v17.25h-17.41zM1291.92 800.86h17.41v17.25h-17.41zM1222.42 818.08h17.41v17.25h-17.41zM1083.41 835.30h17.41v17.25h-17.41zM979.15 852.52h17.41v17.25h-17.41zM1152.92 886.96h17.41v17.25h-17.41zM1048.66 938.62h17.41v17.25h-17.41zM1187.67 938.62h17.41v17.25h-17.41zM1013.91 955.84h17.41v17.25h-17.41zM1222.42 955.84h17.41v17.25h-17.41zM1048.66 1007.50h17.41v17.25h-17.41zM979.15 1024.72h17.41v17.25h-17.41zM1205.04 1024.72h17.41v17.25h-17.41zM1118.16 1041.94h17.41v17.25h-17.41zM1135.54 1076.38h17.41v17.25h-17.41z"/>
<path fill="#a8a7ff" d="M1013.91 783.64h17.41v17.25h-17.41zM944.40 886.96h17.41v17.25h-17.41zM1031.28 955.84h17.41v17.25h-17.41zM927.03 973.06h17.41v17.25h-17.41zM1031.28 990.28h17.41v17.25h-17.41zM996.53 1059.16h17.41v17.25h-17.41z"/>
<path fill="#9391ff" d="M1031.28 783.64h17.41v17.25h-17.41zM1083.41 938.62h17.41v17.25h-17.41zM1031.28 1024.72h17.41v17.25h-17.41z"/>
<path fill="#b1b1ff" d="M1118.16 783.64h17.41v17.25h-17.41zM1013.91 835.30h17.41v17.25h-17.41zM1152.92 835.30h17.41v17.25h-17.41zM1205.04 869.74h17.41v17.25h-17.41zM1187.67 886.96h17.41v17.25h-17.41zM927.03 921.40h17.41v17.25h-17.41zM1013.91 921.40h17.41v17.25h-17.41zM1013.91 938.62h17.41v17.25h-17.41zM1257.17 1041.94h17.41v17.25h-17.41zM1291.92 1041.94h17.41v17.25h-17.41zM1239.80 1059.16h17.41v17.25h-17.41zM1170.29 1076.38h17.41v17.25h-17.41z"/>
<path fill="#c3c3ff" d="M1135.54 783.64h17.41v17.25h-17.41zM1274.55 783.64h17.41v17.25h-17.41zM1048.66 869.74h17.41v17.25h-17.41zM1118.16 869.74h17.41v17.25h-17.41zM1205.04 886.96h17.41v17.25h-17.41zM909.65 973.06h17.41v17.25h-17.41zM996.53 1041.94h17.41v17.25h-17.41zM1170.29 1059.16h17.41v17.25h-17.41z"/>
<path fill="#fdf1f2" d="M1187.67 783.64h17.41v17.25h-17.41z"/>
<path fill="#9491ff" d="M1205.04 783.64h17.41v17.25h-17.41zM1170.29 921.40h17.41v17.25h-17.41zM1031.28 938.62h17.41v17.25h-17.41zM961.78 973.06h17.41v17.25h-17.41zM979.15 973.06h17.41v17.25h-17.41zM979.15 1007.50h17.41v17.25h-17.41zM979.15 1076.38h17.41v17.25h-17.41zM1066.03 1076.38h17.41v17.25h-17.41z"/>
<path fill="#9997ff" d="M1239.80 783.64h17.41v17.25h-17.41zM1031.28 800.86h17.41v17.25h-17.41zM1083.41 852.52h17.41v17.25h-17.41zM1083.41 869.74h17.41v17.25h-17.41zM1222.42 869.74h17.41v17.25h-17.41zM1048.66 904.18h17.41v17.25h-17.41zM1013.91 973.06h17.41v17.25h-17.41zM1239.80 1007.50h17.41v17.25h-17.41zM1066.03 1024.72h17.41v17.25h-17.41zM961.78 1076.38h17.41v17.25h-17.41z"/>
<path fill="#dedeff" d="M1257.17 783.64h17.41v17.25h-17.41zM1187.67 818.08h17.41v17.25h-17.41zM944.40 869.74h17.41v17.25h-17.41zM1274.55 1041.94h17.41v17.25h-17.41z"/>
<path fill="#f28d93" d="M527.38 800.86h17.41v17.25h-17.41zM510.00 852.52h17.41v17.25h-17.41zM544.75 869.74h17.41v17.25h-17.41zM562.13 904.18h17.41v17.25h-17.41zM701.14 921.40h17.41v17.25h-17.41zM822.77 938.62h17.41v17.25h-17.41zM840.15 990.28h17.41v17.25h-17.41zM840.15 1024.72h17.41v17.25h-17.41zM857.52 1024.72h17.41v17.25h-17.41zM718.51 1041.94h17.41v17.25h-17.41z"/>
<path fill="#f3aab0" d="M631.63 800.86h17.41v17.25h-17.41zM614.26 938.62h17.41v17.25h-17.41zM631.63 973.06h17.41v17.25h-17.41zM510.00 990.28h17.41v17.25h-17.41zM544.75 1007.50h17.41v17.25h-17.41zM788.02 1041.94h17.41v17.25h-17.41zM596.88 1076.38h17.41v17.25h-17.41z"/>
<path fill="#f28389" d="M718.51 800.86h17.41v17.25h-17.41zM840.15 852.52h17.41v17.25h-17.41zM874.90 852.52h17.41v17.25h-17.41zM544.75 886.96h17.41v17.25h-17.41zM544.75 904.18h17.41v17.25h-17.41zM857.52 904.18h17.41v17.25h-17.41zM510.00 938.62h17.41v17.25h-17.41zM579.50 973.06h17.41v17.25h-17.41zM701.14 1076.38h17.41v17.25h-17.41z"/>
<path fill="#f28288" d="M735.89 800.86h17.41v17.25h-17.41zM892.27 800.86h17.41v17.25h-17.41zM735.89 835.30h17.41v17.25h-17.41zM527.38 886.96h17.41v17.25h-17.41zM579.50 904.18h17.41v17.25h-17.41zM874.90 904.18h17.41v17.25h-17.41zM510.00 973.06h17.41v17.25h-17.41zM683.76 1041.94h17.41v17.25h-17.41z"/>
<path fill="#f16b71" d="M753.27 800.86h17.41v17.25h-17.41zM874.90 835.30h17.41v17.25h-17.41zM857.52 990.28h17.41v17.25h-17.41z"/>
<path fill="#f4b0b5" d="M840.15 800.86h17.41v17.25h-17.41zM614.26 955.84h17.41v17.25h-17.41z"/>
<path fill="#bbbbff" d="M909.65 800.86h17.41v17.25h-17.41zM927.03 818.08h17.41v17.25h-17.41zM944.40 835.30h17.41v17.25h-17.41zM1257.17 835.30h17.41v17.25h-17.41zM1274.55 852.52h17.41v17.25h-17.41zM1135.54 869.74h17.41v17.25h-17.41zM1100.79 1024.72h17.41v17.25h-17.41zM909.65 1041.94h17.41v17.25h-17.41zM1239.80 1076.38h17.41v17.25h-17.41z"/>
<path fill="#c2c2ff" d="M944.40 800.86h17.41v17.25h-17.41zM1257.17 852.52h17.41v17.25h-17.41zM1100.79 869.74h17.41v17.25h-17.41zM1291.92 869.74h17.41v17.25h-17.41zM1013.91 886.96h17.41v17.25h-17.41zM909.65 904.18h17.41v17.25h-17.41zM944.40 904.18h17.41v17.25h-17.41zM909.65 938.62h17.41v17.25h-17.41zM909.65 955.84h17.41v17.25h-17.41zM1118.16 1007.50h17.41v17.25h-17.41zM1118.16 1076.38h17.41v17.25h-17.41z"/>
<path fill="#c5c5ff" d="M1100.79 800.86h17.41v17.25h-17.41zM1291.92 835.30h17.41v17.25h-17.41zM996.53 852.52h17.41v17.25h-17.41zM1257.17 886.96h17.41v17.25h-17.41zM927.03 904.18h17.41v17.25h-17.41zM1274.55 904.18h17.41v17.25h-17.41zM944.40 955.84h17.41v17.25h-17.41zM1118.16 973.06h17.41v17.25h-17.41zM996.53 990.28h17.41v17.25h-17.41zM944.40 1007.50h17.41v17.25h-17.41zM1100.79 1007.50h17.41v17.25h-17.41zM1135.54 1007.50h17.41v17.25h-17.41zM944.40 1059.16h17.41v17.25h-17.41z"/>
<path fill="#d7d7ff" d="M1152.92 800.86h17.41v17.25h-17.41zM1239.80 921.40h17.41v17.25h-17.41z"/>
<path fill="#f1f1ff" d="M1257.17 800.86h17.41v17.25h-17.41zM649.01 1059.16h17.41v17.25h-17.41z"/>
<path fill="#fdf3f4" d="M1274.55 800.86h17.41v17.25h-17.41z"/>
<path fill="#f16f75" d="M510.00 818.08h17.41v17.25h-17.41z"/>
<path fill="#f7c4c8" d="M579.50 818.08h17.41v17.25h-17.41zM562.13 938.62h17.41v17.25h-17.41zM527.38 990.28h17.41v17.25h-17.41z"/>
<path fill="#f1686e" d="M614.26 818.08h17.41v17.25h-17.41zM892.27 818.08h17.41v17.25h-17.41z"/>
<path fill="#f2868c" d="M631.63 818.08h17.41v17.25h-17.41zM562.13 852.52h17.41v17.25h-17.41zM683.76 869.74h17.41v17.25h-17.41zM840.15 904.18h17.41v17.25h-17.41zM527.38 973.06h17.41v17.25h-17.41zM666.38 973.06h17.41v17.25h-17.41zM770.64 990.28h17.41v17.25h-17.41zM544.75 1024.72h17.41v17.25h-17.41zM683.76 1024.72h17.41v17.25h-17.41zM544.75 1059.16h17.41v17.25h-17.41zM614.26 1076.38h17.41v17.25h-17.41z"/>
<path fill="#f7c8cc" d="M649.01 818.08h17.41v17.25h-17.41zM788.02 938.62h17.41v17.25h-17.41zM701.14 955.84h17.41v17.25h-17.41zM527.38 1007.50h17.41v17.25h-17.41zM735.89 1024.72h17.41v17.25h-17.41z"/>
<path fill="#f7c3c7" d="M666.38 818.08h17.41v17.25h-17.41zM840.15 818.08h17.41v17.25h-17.41zM527.38 835.30h17.41v17.25h-17.41zM718.51 852.52h17.41v17.25h-17.41zM822.77 869.74h17.41v17.25h-17.41zM666.38 938.62h17.41v17.25h-17.41zM735.89 1076.38h17.41v17.25h-17.41z"/>
<path fill="#f7c7cb" d="M701.14 818.08h17.41v17.25h-17.41zM753.27 835.30h17.41v17.25h-17.41zM892.27 852.52h17.41v17.25h-17.41z"/>
<path fill="#f3a3a9" d="M718.51 818.08h17.41v17.25h-17.41zM718.51 835.30h17.41v17.25h-17.41zM874.90 869.74h17.41v17.25h-17.41zM822.77 921.40h17.41v17.25h-17.41zM614.26 1024.72h17.41v17.25h-17.41z"/>
<path fill="#f4afb5" d="M770.64 818.08h17.41v17.25h-17.41z"/>
<path fill="#d8d8ff" d="M805.39 818.08h17.41v17.25h-17.41zM1274.55 835.30h17.41v17.25h-17.41zM1257.17 904.18h17.41v17.25h-17.41zM1187.67 955.84h17.41v17.25h-17.41zM1257.17 973.06h17.41v17.25h-17.41z"/>
<path fill="#f8cbce" d="M822.77 818.08h17.41v17.25h-17.41zM822.77 886.96h17.41v17.25h-17.41zM631.63 904.18h17.41v17.25h-17.41z"/>
<path fill="#f7c6ca" d="M857.52 818.08h17.41v17.25h-17.41zM892.27 921.40h17.41v17.25h-17.41zM579.50 990.28h17.41v17.25h-17.41zM614.26 1007.50h17.41v17.25h-17.41zM770.64 1007.50h17.41v17.25h-17.41zM666.38 1041.94h17.41v17.25h-17.41zM822.77 1041.94h17.41v17.25h-17.41zM788.02 1059.16h17.41v17.25h-17.41z"/>
<path fill="#f16c72" d="M874.90 818.08h17.41v17.25h-17.41z"/>
<path fill="#a9a8ff" d="M979.15 818.08h17.41v17.25h-17.41zM1118.16 818.08h17.41v17.25h-17.41z"/>
<path fill="#bdbdff" d="M996.53 818.08h17.41v17.25h-17.41zM1048.66 835.30h17.41v17.25h-17.41zM1100.79 886.96h17.41v17.25h-17.41zM1100.79 904.18h17.41v17.25h-17.41zM1118.16 904.18h17.41v17.25h-17.41zM1152.92 938.62h17.41v17.25h-17.41zM1170.29 973.06h17.41v17.25h-17.41zM909.65 1076.38h17.41v17.25h-17.41z"/>
<path fill="#ddddff" d="M1152.92 818.08h17.41v17.25h-17.41zM1291.92 818.08h17.41v17.25h-17.41zM1291.92 852.52h17.41v17.25h-17.41zM1257.17 955.84h17.41v17.25h-17.41zM1291.92 973.06h17.41v17.25h-17.41z"/>
<path fill="#c0c0ff" d="M1205.04 818.08h17.41v17.25h-17.41zM1048.66 886.96h17.41v17.25h-17.41zM1291.92 938.62h17.41v17.25h-17.41zM1100.79 973.06h17.41v17.25h-17.41zM1291.92 990.28h17.41v17.25h-17.41zM944.40 1041.94h17.41v17.25h-17.41zM1118.16 1059.16h17.41v17.25h-17.41zM1187.67 1076.38h17.41v17.25h-17.41z"/>
<path fill="#d9d9ff" d="M1274.55 818.08h17.41v17.25h-17.41zM1257.17 938.62h17.41v17.25h-17.41zM1274.55 955.84h17.41v17.25h-17.41zM1222.42 1007.50h17.41v17.25h-17.41zM805.39 1041.94h17.41v17.25h-17.41z"/>
<path fill="#f17278" d="M579.50 835.30h17.41v17.25h-17.41z"/>
<path fill="#fce6e8" d="M649.01 835.30h17.41v17.25h-17.41zM718.51 904.18h17.41v17.25h-17.41zM770.64 904.18h17.41v17.25h-17.41zM874.90 1024.72h17.41v17.25h-17.41zM1257.17 1076.38h17.41v17.25h-17.41z"/>
<path fill="#f2898f" d="M683.76 835.30h17.41v17.25h-17.41zM579.50 852.52h17.41v17.25h-17.41zM753.27 852.52h17.41v17.25h-17.41zM666.38 886.96h17.41v17.25h-17.41zM527.38 921.40h17.41v17.25h-17.41zM857.52 955.84h17.41v17.25h-17.41zM753.27 990.28h17.41v17.25h-17.41zM753.27 1007.50h17.41v17.25h-17.41zM562.13 1041.94h17.41v17.25h-17.41zM579.50 1059.16h17.41v17.25h-17.41z"/>
<path fill="#f8c9cd" d="M701.14 835.30h17.41v17.25h-17.41zM562.13 990.28h17.41v17.25h-17.41zM510.00 1041.94h17.41v17.25h-17.41zM631.63 1041.94h17.41v17.25h-17.41z"/>
<path fill="#a8a8ff" d="M961.78 835.30h17.41v17.25h-17.41zM979.15 904.18h17.41v17.25h-17.41zM1118.16 938.62h17.41v17.25h-17.41zM1135.54 955.84h17.41v17.25h-17.41zM961.78 990.28h17.41v17.25h-17.41zM1013.91 1007.50h17.41v17.25h-17.41zM1135.54 1024.72h17.41v17.25h-17.41zM1239.80 1024.72h17.41v17.25h-17.41zM1013.91 1041.94h17.41v17.25h-17.41zM1031.28 1041.94h17.41v17.25h-17.41zM1205.04 1041.94h17.41v17.25h-17.41zM1013.91 1076.38h17.41v17.25h-17.41z"/>
<path fill="#9896ff" d="M979.15 835.30h17.41v17.25h-17.41zM1239.80 869.74h17.41v17.25h-17.41zM1066.03 904.18h17.41v17.25h-17.41zM1205.04 921.40h17.41v17.25h-17.41zM961.78 955.84h17.41v17.25h-17.41zM1066.03 955.84h17.41v17.25h-17.41zM1066.03 973.06h17.41v17.25h-17.41zM1031.28 1059.16h17.41v17.25h-17.41z"/>
<path fill="#fce8ea" d="M527.38 852.52h17.41v17.25h-17.41z"/>
<path fill="#f17076" d="M544.75 852.52h17.41v17.25h-17.41zM666.38 1059.16h17.41v17.25h-17.41z"/>
<path fill="#fbe0e2" d="M649.01 852.52h17.41v17.25h-17.41zM701.14 904.18h17.41v17.25h-17.41zM735.89 904.18h17.41v17.25h-17.41zM788.02 921.40h17.41v17.25h-17.41zM770.64 1076.38h17.41v17.25h-17.41z"/>
<path fill="#f8ccd0" d="M735.89 852.52h17.41v17.25h-17.41zM596.88 869.74h17.41v17.25h-17.41zM596.88 886.96h17.41v17.25h-17.41zM753.27 886.96h17.41v17.25h-17.41z"/>
<path fill="#fbe3e5" d="M770.64 852.52h17.41v17.25h-17.41zM840.15 921.40h17.41v17.25h-17.41zM649.01 938.62h17.41v17.25h-17.41zM718.51 973.06h17.41v17.25h-17.41zM649.01 1024.72h17.41v17.25h-17.41z"/>
<path fill="#eaeaff" d="M805.39 852.52h17.41v17.25h-17.41zM1274.55 990.28h17.41v17.25h-17.41zM1152.92 1007.50h17.41v17.25h-17.41z"/>
<path fill="#9b9aff" d="M1239.80 852.52h17.41v17.25h-17.41z"/>
<path fill="#f4aeb3" d="M614.26 869.74h17.41v17.25h-17.41zM614.26 904.18h17.41v17.25h-17.41zM753.27 904.18h17.41v17.25h-17.41z"/>
<path fill="#fbe1e3" d="M649.01 869.74h17.41v17.25h-17.41zM770.64 886.96h17.41v17.25h-17.41zM649.01 904.18h17.41v17.25h-17.41zM735.89 973.06h17.41v17.25h-17.41zM596.88 990.28h17.41v17.25h-17.41zM805.39 990.28h17.41v17.25h-17.41z"/>
<path fill="#f7c7ca" d="M718.51 869.74h17.41v17.25h-17.41z"/>
<path fill="#fce9eb" d="M770.64 869.74h17.41v17.25h-17.41zM770.64 1059.16h17.41v17.25h-17.41z"/>
<path fill="#fbe4e6" d="M788.02 869.74h17.41v17.25h-17.41zM596.88 938.62h17.41v17.25h-17.41zM579.50 1007.50h17.41v17.25h-17.41z"/>
<path fill="#bcbcff" d="M1274.55 869.74h17.41v17.25h-17.41zM909.65 886.96h17.41v17.25h-17.41zM1013.91 904.18h17.41v17.25h-17.41zM909.65 1007.50h17.41v17.25h-17.41zM961.78 1024.72h17.41v17.25h-17.41zM1118.16 1024.72h17.41v17.25h-17.41z"/>
<path fill="#f16e74" d="M579.50 886.96h17.41v17.25h-17.41z"/>
<path fill="#f8cbcf" d="M701.14 886.96h17.41v17.25h-17.41zM753.27 973.06h17.41v17.25h-17.41zM562.13 1007.50h17.41v17.25h-17.41z"/>
<path fill="#fcecee" d="M788.02 886.96h17.41v17.25h-17.41z"/>
<path fill="#9c9bff" d="M1222.42 886.96h17.41v17.25h-17.41z"/>
<path fill="#f3abb1" d="M510.00 904.18h17.41v17.25h-17.41zM596.88 955.84h17.41v17.25h-17.41zM892.27 990.28h17.41v17.25h-17.41zM874.90 1059.16h17.41v17.25h-17.41zM510.00 1076.38h17.41v17.25h-17.41z"/>
<path fill="#f6c0c5" d="M596.88 904.18h17.41v17.25h-17.41zM718.51 955.84h17.41v17.25h-17.41zM596.88 1041.94h17.41v17.25h-17.41z"/>
<path fill="#fbe2e4" d="M788.02 904.18h17.41v17.25h-17.41zM874.90 1076.38h17.41v17.25h-17.41zM892.27 1076.38h17.41v17.25h-17.41z"/>
<path fill="#d2d2ff" d="M805.39 904.18h17.41v17.25h-17.41zM1222.42 921.40h17.41v17.25h-17.41zM1205.04 1059.16h17.41v17.25h-17.41z"/>
<path fill="#9a99ff" d="M961.78 904.18h17.41v17.25h-17.41zM1083.41 921.40h17.41v17.25h-17.41zM979.15 1059.16h17.41v17.25h-17.41z"/>
<path fill="#9d9cff" d="M1239.80 904.18h17.41v17.25h-17.41z"/>
<path fill="#f3a9ae" d="M510.00 921.40h17.41v17.25h-17.41z"/>
<path fill="#fbe6e7" d="M649.01 921.40h17.41v17.25h-17.41z"/>
<path fill="#efefff" d="M805.39 921.40h17.41v17.25h-17.41zM1274.55 1007.50h17.41v17.25h-17.41zM770.64 1024.72h17.41v17.25h-17.41z"/>
<path fill="#eeeeff" d="M1257.17 921.40h17.41v17.25h-17.41zM1274.55 921.40h17.41v17.25h-17.41z"/>
<path fill="#f7c2c7" d="M683.76 938.62h17.41v17.25h-17.41zM683.76 1007.50h17.41v17.25h-17.41z"/>
<path fill="#fadde0" d="M701.14 938.62h17.41v17.25h-17.41zM770.64 955.84h17.41v17.25h-17.41zM805.39 1024.72h17.41v17.25h-17.41z"/>
<path fill="#f16a70" d="M753.27 938.62h17.41v17.25h-17.41zM579.50 955.84h17.41v17.25h-17.41zM666.38 1076.38h17.41v17.25h-17.41z"/>
<path fill="#dbdbff" d="M996.53 938.62h17.41v17.25h-17.41z"/>
<path fill="#ededff" d="M1274.55 938.62h17.41v17.25h-17.41z"/>
<path fill="#f2888e" d="M544.75 955.84h17.41v17.25h-17.41zM683.76 973.06h17.41v17.25h-17.41zM701.14 973.06h17.41v17.25h-17.41zM735.89 990.28h17.41v17.25h-17.41zM874.90 1007.50h17.41v17.25h-17.41zM666.38 1024.72h17.41v17.25h-17.41zM527.38 1041.94h17.41v17.25h-17.41zM544.75 1076.38h17.41v17.25h-17.41z"/>
<path fill="#f8cdd1" d="M753.27 955.84h17.41v17.25h-17.41z"/>
<path fill="#f6bfc3" d="M874.90 955.84h17.41v17.25h-17.41zM788.02 973.06h17.41v17.25h-17.41z"/>
<path fill="#f8cace" d="M892.27 955.84h17.41v17.25h-17.41zM649.01 973.06h17.41v17.25h-17.41zM770.64 973.06h17.41v17.25h-17.41z"/>
<path fill="#ebebff" d="M1152.92 955.84h17.41v17.25h-17.41z"/>
<path fill="#9693ff" d="M1205.04 955.84h17.41v17.25h-17.41z"/>
<path fill="#e0e0ff" d="M1291.92 955.84h17.41v17.25h-17.41z"/>
<path fill="#f4afb4" d="M857.52 973.06h17.41v17.25h-17.41zM718.51 990.28h17.41v17.25h-17.41zM510.00 1059.16h17.41v17.25h-17.41zM892.27 1059.16h17.41v17.25h-17.41z"/>
<path fill="#f7c8cb" d="M631.63 990.28h17.41v17.25h-17.41z"/>
<path fill="#fce7e9" d="M649.01 990.28h17.41v17.25h-17.41z"/>
<path fill="#f8cacd" d="M788.02 990.28h17.41v17.25h-17.41zM892.27 1024.72h17.41v17.25h-17.41z"/>
<path fill="#9794ff" d="M979.15 990.28h17.41v17.25h-17.41zM1170.29 1007.50h17.41v17.25h-17.41z"/>
<path fill="#f7c9cc" d="M510.00 1007.50h17.41v17.25h-17.41z"/>
<path fill="#f7c2c6" d="M596.88 1007.50h17.41v17.25h-17.41z"/>
<path fill="#f8cccf" d="M666.38 1007.50h17.41v17.25h-17.41z"/>
<path fill="#f1696f" d="M840.15 1007.50h17.41v17.25h-17.41zM579.50 1024.72h17.41v17.25h-17.41zM770.64 1041.94h17.41v17.25h-17.41zM683.76 1059.16h17.41v17.25h-17.41z"/>
<path fill="#fceaec" d="M753.27 1024.72h17.41v17.25h-17.41z"/>
<path fill="#e8e8ff" d="M1152.92 1024.72h17.41v17.25h-17.41z"/>
<path fill="#f4acb1" d="M579.50 1041.94h17.41v17.25h-17.41z"/>
<path fill="#f1676d" d="M753.27 1041.94h17.41v17.25h-17.41z"/>
<path fill="#9390ff" d="M1239.80 1041.94h17.41v17.25h-17.41z"/>
<path fill="#f6c1c6" d="M753.27 1059.16h17.41v17.25h-17.41z"/>
<path fill="#ececff" d="M805.39 1059.16h17.41v17.25h-17.41z"/>
<path fill="#fef9fa" d="M1257.17 1059.16h17.41v17.25h-17.41z"/>
<path fill="#dadaff" d="M1291.92 1059.16h17.41v17.25h-17.41z"/>
<path fill="#fce8e9" d="M753.27 1076.38h17.41v17.25h-17.41z"/>
<path fill="#9492ff" d="M1031.28 1076.38h17.41v17.25h-17.41z"/>
</g>
<text x="1312.5" y="765.3" font-family='"Liberation Mono", "Courier New", monospace' font-size="16.80" font-weight="normal" text-anchor="start" stroke="#000" stroke-width="0.28">KIF14</text>
<text x="1312.5" y="782.5" font-family='"Liberation Mono", "Courier New", monospace' font-size="16.80" font-weight="normal" text-anchor="start" stroke="#000" stroke-width="0.28">AMMECR1</text>
<text x="1312.5" y="799.8" font-family='"Liberation Mono", "Courier New", monospace' font-size="16.80" font-weight="normal" text-anchor="start" stroke="#000" stroke-width="0.28">SKA3</text>
<text x="1312.5" y="817.0" font-family='"Liberation Mono", "Courier New", monospace' font-size="16.80" font-weight="normal" text-anchor="start" stroke="#000" stroke-width="0.28">SKA1</text>
<text x="1312.5" y="834.2" font-family='"Liberation Mono", "Courier New", monospace' font-size="16.80" font-weight="normal" text-anchor="start" stroke="#000" stroke-width="0.28">ATAD5</text>
<text x="1312.5" y="851.4" font-family='"Liberation Mono", "Courier New", monospace' font-size="16.80" font-weight="normal" text-anchor="start" stroke="#000" stroke-width="0.28">CENPH</text>
<text x="1312.5" y="868.6" font-family='"Liberation Mono", "Courier New", monospace' font-size="16.80" font-weight="normal" text-anchor="start" stroke="#000" stroke-width="0.28">MIS18BP1</text>
<text x="1312.5" y="885.9" font-family='"Liberation Mono", "Courier New", monospace' font-size="16.80" font-weight="normal" text-anchor="start" stroke="#000" stroke-width="0.28">KIF20B</text>
<text x="1312.5" y="903.1" font-family='"Liberation Mono", "Courier New", monospace' font-size="16.80" font-weight="normal" text-anchor="start" stroke="#000" stroke-width="0.28">HMMR</text>
<text x="1312.5" y="920.3" font-family='"Liberation Mono", "Courier New", monospace' font-size="16.80" font-weight="normal" text-anchor="start" stroke="#000" stroke-width="0.28">DSCC1</text>
<text x="1312.5" y="937.5" font-family='"Liberation Mono", "Courier New", monospace' font-size="16.80" font-weight="normal" text-anchor="start" stroke="#000" stroke-width="0.28">ANLN</text>
<text x="1312.5" y="954.7" font-family='"Liberation Mono", "Courier New", monospace' font-size="16.80" font-weight="normal" text-anchor="start" stroke="#000" stroke-width="0.28">CENPE</text>
<text x="1312.5" y="972.0" font-family='"Liberation Mono", "Courier New", monospace' font-size="16.80" font-weight="normal" text-anchor="start" stroke="#000" stroke-width="0.28">ERCC6L</text>
<text x="1312.5" y="989.2" font-family='"Liberation Mono", "Courier New", monospace' font-size="16.80" font-weight="normal" text-anchor="start" stroke="#000" stroke-width="0.28">POLQ</text>
<text x="1312.5" y="1006.4" font-family='"Liberation Mono", "Courier New", monospace' font-size="16.80" font-weight="normal" text-anchor="start" stroke="#000" stroke-width="0.28">BLM</text>
<text x="1312.5" y="1023.6" font-family='"Liberation Mono", "Courier New", monospace' font-size="16.80" font-weight="normal" text-anchor="start" stroke="#000" stroke-width="0.28">SPC25</text>
<text x="1312.5" y="1040.8" font-family='"Liberation Mono", "Courier New", monospace' font-size="16.80" font-weight="normal" text-anchor="start" stroke="#000" stroke-width="0.28">MIS18A</text>
<text x="1312.5" y="1058.1" font-family='"Liberation Mono", "Courier New", monospace' font-size="16.80" font-weight="normal" text-anchor="start" stroke="#000" stroke-width="0.28">PARPBP</text>
<text x="1312.5" y="1075.3" font-family='"Liberation Mono", "Courier New", monospace' font-size="16.80" font-weight="normal" text-anchor="start" stroke="#000" stroke-width="0.28">CCNA2</text>
<text x="1312.5" y="1092.5" font-family='"Liberation Mono", "Courier New", monospace' font-size="16.80" font-weight="normal" text-anchor="start" stroke="#000" stroke-width="0.28">CDCA2</text>
<rect x="511.1" y="665.0" width="797.5" height="82.6" fill="#fff" stroke="#000" stroke-width="1.6"/>
<line x1="561.7" y1="665.0" x2="561.7" y2="747.6" stroke="#000" stroke-width="1.6"/>
<line x1="613.4" y1="665.0" x2="613.4" y2="747.6" stroke="#000" stroke-width="1.6"/>
<line x1="664.6" y1="665.0" x2="664.6" y2="747.6" stroke="#000" stroke-width="1.6"/>
<line x1="716.2" y1="665.0" x2="716.2" y2="747.6" stroke="#000" stroke-width="1.6"/>
<line x1="754.2" y1="665.0" x2="754.2" y2="747.6" stroke="#000" stroke-width="1.6"/>
<line x1="806.4" y1="665.0" x2="806.4" y2="747.6" stroke="#000" stroke-width="1.6"/>
<line x1="858.0" y1="665.0" x2="858.0" y2="747.6" stroke="#000" stroke-width="1.6"/>
<line x1="910.3" y1="665.0" x2="910.3" y2="747.6" stroke="#000" stroke-width="1.6"/>
<line x1="961.4" y1="665.0" x2="961.4" y2="747.6" stroke="#000" stroke-width="1.6"/>
<line x1="1000.0" y1="665.0" x2="1000.0" y2="747.6" stroke="#000" stroke-width="1.6"/>
<line x1="1051.0" y1="665.0" x2="1051.0" y2="747.6" stroke="#000" stroke-width="1.6"/>
<line x1="1102.7" y1="665.0" x2="1102.7" y2="747.6" stroke="#000" stroke-width="1.6"/>
<line x1="1153.3" y1="665.0" x2="1153.3" y2="747.6" stroke="#000" stroke-width="1.6"/>
<line x1="1205.5" y1="665.0" x2="1205.5" y2="747.6" stroke="#000" stroke-width="1.6"/>
<line x1="1256.7" y1="665.0" x2="1256.7" y2="747.6" stroke="#000" stroke-width="1.6"/>
<text transform="translate(542.2,741.6) rotate(-90)" font-family='"Liberation Sans", Arial, sans-serif' font-size="17.90" font-weight="normal" text-anchor="start" >H9</text>
<text transform="translate(591.8,741.6) rotate(-90)" font-family='"Liberation Sans", Arial, sans-serif' font-size="17.90" font-weight="normal" text-anchor="start" >is070a</text>
<text transform="translate(646.1,741.6) rotate(-90)" font-family='"Liberation Sans", Arial, sans-serif' font-size="17.90" font-weight="normal" text-anchor="start" >i70b</text>
<text transform="translate(696.2,741.6) rotate(-90)" font-family='"Liberation Sans", Arial, sans-serif' font-size="17.90" font-weight="normal" text-anchor="start" >i173b</text>
<text transform="translate(739.4,741.6) rotate(-90)" font-family='"Liberation Sans", Arial, sans-serif' font-size="17.90" font-weight="normal" text-anchor="start" >H9</text>
<text transform="translate(785.8,741.6) rotate(-90)" font-family='"Liberation Sans", Arial, sans-serif' font-size="17.90" font-weight="normal" text-anchor="start" >is070a</text>
<text transform="translate(838.6,741.6) rotate(-90)" font-family='"Liberation Sans", Arial, sans-serif' font-size="17.90" font-weight="normal" text-anchor="start" >i70b</text>
<text transform="translate(889.7,741.6) rotate(-90)" font-family='"Liberation Sans", Arial, sans-serif' font-size="17.90" font-weight="normal" text-anchor="start" >i173b</text>
<text transform="translate(943.0,741.6) rotate(-90)" font-family='"Liberation Sans", Arial, sans-serif' font-size="17.90" font-weight="normal" text-anchor="start" >H9</text>
<text transform="translate(987.3,741.6) rotate(-90)" font-family='"Liberation Sans", Arial, sans-serif' font-size="17.90" font-weight="normal" text-anchor="start" >is070a</text>
<text transform="translate(1032.6,741.6) rotate(-90)" font-family='"Liberation Sans", Arial, sans-serif' font-size="17.90" font-weight="normal" text-anchor="start" >i70b</text>
<text transform="translate(1082.7,741.6) rotate(-90)" font-family='"Liberation Sans", Arial, sans-serif' font-size="17.90" font-weight="normal" text-anchor="start" >i173b</text>
<text transform="translate(1133.8,741.6) rotate(-90)" font-family='"Liberation Sans", Arial, sans-serif' font-size="17.90" font-weight="normal" text-anchor="start" >H9</text>
<text transform="translate(1183.4,741.6) rotate(-90)" font-family='"Liberation Sans", Arial, sans-serif' font-size="17.90" font-weight="normal" text-anchor="start" >is070a</text>
<text transform="translate(1237.7,741.6) rotate(-90)" font-family='"Liberation Sans", Arial, sans-serif' font-size="17.90" font-weight="normal" text-anchor="start" >i70b</text>
<text transform="translate(1285.5,741.6) rotate(-90)" font-family='"Liberation Sans", Arial, sans-serif' font-size="17.90" font-weight="normal" text-anchor="start" >i173b</text>
<line x1="513.0" y1="649.7" x2="704.0" y2="649.7" stroke="#000" stroke-width="2.6"/>
<text x="615.0" y="640.0" font-family='"Liberation Sans", Arial, sans-serif' font-size="24.00" font-weight="bold" text-anchor="middle" >D0</text>
<line x1="721.0" y1="649.7" x2="900.0" y2="649.7" stroke="#000" stroke-width="2.6"/>
<text x="806.0" y="640.0" font-family='"Liberation Sans", Arial, sans-serif' font-size="24.00" font-weight="bold" text-anchor="middle" >D13</text>
<line x1="913.4" y1="649.7" x2="1097.0" y2="649.7" stroke="#000" stroke-width="2.6"/>
<text x="1000.4" y="640.0" font-family='"Liberation Sans", Arial, sans-serif' font-size="24.00" font-weight="bold" text-anchor="middle" >D20</text>
<line x1="1110.6" y1="649.7" x2="1301.5" y2="649.7" stroke="#000" stroke-width="2.6"/>
<text x="1207.6" y="640.0" font-family='"Liberation Sans", Arial, sans-serif' font-size="24.00" font-weight="bold" text-anchor="middle" >D35</text>
<text x="870.3" y="571.7" font-family='"Liberation Sans", Arial, sans-serif' font-size="34.45" font-weight="bold" text-anchor="middle" >Downregulated in D20 and D35</text>
<rect x="1387.0" y="588.6" width="67.0" height="139.4" fill="#eceeed"/>
<rect x="1368.0" y="588.60" width="19.0" height="19.50" fill="#1f00ff" shape-rendering="crispEdges"/>
<text x="1387.8" y="611.0" font-family='"Liberation Sans", Arial, sans-serif' font-size="19.00" font-weight="normal" text-anchor="start" >-3.00</text>
<rect x="1368.0" y="607.80" width="19.0" height="19.50" fill="#6655ff" shape-rendering="crispEdges"/>
<text x="1387.8" y="630.2" font-family='"Liberation Sans", Arial, sans-serif' font-size="19.00" font-weight="normal" text-anchor="start" >-2.00</text>
<rect x="1368.0" y="627.00" width="19.0" height="19.50" fill="#aaaaff" shape-rendering="crispEdges"/>
<text x="1387.8" y="649.4" font-family='"Liberation Sans", Arial, sans-serif' font-size="19.00" font-weight="normal" text-anchor="start" >-1.00</text>
<rect x="1368.0" y="646.20" width="19.0" height="19.50" fill="#ffffff" shape-rendering="crispEdges"/>
<text x="1387.8" y="668.6" font-family='"Liberation Sans", Arial, sans-serif' font-size="19.00" font-weight="normal" text-anchor="start" >0.00</text>
<rect x="1368.0" y="665.40" width="19.0" height="19.50" fill="#f3a8ae" shape-rendering="crispEdges"/>
<text x="1387.8" y="687.8" font-family='"Liberation Sans", Arial, sans-serif' font-size="19.00" font-weight="normal" text-anchor="start" >1.00</text>
<rect x="1368.0" y="684.60" width="19.0" height="19.50" fill="#f0585e" shape-rendering="crispEdges"/>
<text x="1387.8" y="707.0" font-family='"Liberation Sans", Arial, sans-serif' font-size="19.00" font-weight="normal" text-anchor="start" >2.00</text>
<rect x="1368.0" y="703.80" width="19.0" height="19.50" fill="#ff1a0a" shape-rendering="crispEdges"/>
<text x="1387.8" y="726.2" font-family='"Liberation Sans", Arial, sans-serif' font-size="19.00" font-weight="normal" text-anchor="start" >3.00</text>
<line x1="436.7" y1="635.5" x2="509.0" y2="746.2" stroke="#555" stroke-width="0.9"/>
<line x1="436.7" y1="651.8" x2="509.0" y2="1093.6" stroke="#555" stroke-width="0.9"/>
<filter id="blurE" x="-10%" y="-1%" width="120%" height="102%"><feGaussianBlur stdDeviation="0.45"/></filter>
<g filter="url(#blurE)">
<rect x="384.5" y="1356.0" width="11.2" height="540.0" fill="#f8b6bb"/>
<rect x="395.7" y="1356.0" width="6.6" height="540.0" fill="#e9d8ec"/>
<rect x="402.3" y="1356.0" width="8.3" height="540.0" fill="#b0b0fb"/>
<rect x="410.6" y="1356.0" width="8.6" height="540.0" fill="#e8dcf0"/>
<pattern id="p10" x="384.5" y="1356.0" width="11.2" height="80" patternUnits="userSpaceOnUse">
<path fill="#ffffff" d="M6.1 58.5h1.4v1.2h-1.4zM4.0 14.3h1.4v1.2h-1.4zM7.5 12.6h1.4v1.2h-1.4zM1.2 0.1h1.4v1.2h-1.4zM9.5 70.4h1.4v1.2h-1.4zM2.6 26.2h1.4v1.2h-1.4zM6.9 5.2h1.4v1.2h-1.4zM8.0 37.9h1.4v1.2h-1.4zM0.2 62.1h1.4v1.2h-1.4zM1.2 19.4h1.4v1.2h-1.4zM9.2 27.1h1.4v1.2h-1.4zM1.1 59.0h1.4v1.2h-1.4zM9.3 7.2h1.4v1.2h-1.4zM0.9 54.1h1.4v1.2h-1.4zM7.3 27.1h1.4v1.2h-1.4zM9.6 50.3h1.4v1.2h-1.4zM6.8 25.0h1.4v1.2h-1.4zM2.7 61.6h1.4v1.2h-1.4zM4.9 5.0h1.4v1.2h-1.4zM6.3 62.9h1.4v1.2h-1.4zM2.7 27.2h1.4v1.2h-1.4zM8.5 54.2h1.4v1.2h-1.4zM9.6 15.7h1.4v1.2h-1.4zM5.1 73.8h1.4v1.2h-1.4zM5.8 18.7h1.4v1.2h-1.4zM0.0 31.9h1.4v1.2h-1.4zM5.4 23.7h1.4v1.2h-1.4zM9.5 48.0h1.4v1.2h-1.4zM5.8 20.5h1.4v1.2h-1.4zM4.9 32.7h1.4v1.2h-1.4zM9.3 24.2h1.4v1.2h-1.4zM6.1 34.9h1.4v1.2h-1.4zM0.1 42.0h1.4v1.2h-1.4zM0.2 9.9h1.4v1.2h-1.4zM5.2 26.5h1.4v1.2h-1.4zM7.2 2.1h1.4v1.2h-1.4zM5.3 1.1h1.4v1.2h-1.4zM8.8 36.6h1.4v1.2h-1.4zM6.5 58.7h1.4v1.2h-1.4zM5.4 20.0h1.4v1.2h-1.4zM2.8 76.8h1.4v1.2h-1.4zM4.7 25.5h1.4v1.2h-1.4zM3.7 65.9h1.4v1.2h-1.4zM3.3 48.4h1.4v1.2h-1.4zM8.1 51.1h1.4v1.2h-1.4zM6.2 75.7h1.4v1.2h-1.4zM0.7 68.5h1.4v1.2h-1.4zM8.6 12.0h1.4v1.2h-1.4zM1.1 64.5h1.4v1.2h-1.4zM8.8 27.1h1.4v1.2h-1.4zM0.2 36.0h1.4v1.2h-1.4zM6.0 57.2h1.4v1.2h-1.4zM0.1 4.8h1.4v1.2h-1.4zM7.7 3.8h1.4v1.2h-1.4zM1.8 18.4h1.4v1.2h-1.4zM6.1 34.8h1.4v1.2h-1.4zM4.6 54.9h1.4v1.2h-1.4zM0.5 15.7h1.4v1.2h-1.4zM4.1 24.7h1.4v1.2h-1.4zM7.5 0.0h1.4v1.2h-1.4zM2.6 53.3h1.4v1.2h-1.4zM4.4 74.0h1.4v1.2h-1.4zM5.8 8.2h1.4v1.2h-1.4zM2.3 55.6h1.4v1.2h-1.4zM3.8 17.0h1.4v1.2h-1.4zM3.6 63.7h1.4v1.2h-1.4zM9.6 66.2h1.4v1.2h-1.4zM0.6 39.0h1.4v1.2h-1.4zM3.1 2.1h1.4v1.2h-1.4zM6.9 31.4h1.4v1.2h-1.4zM7.6 48.1h1.4v1.2h-1.4zM7.4 56.3h1.4v1.2h-1.4zM6.6 75.4h1.4v1.2h-1.4zM3.1 25.5h1.4v1.2h-1.4zM2.1 24.1h1.4v1.2h-1.4zM0.6 38.2h1.4v1.2h-1.4z"/>
<path fill="#e8e8ff" d="M6.8 66.3h1.4v1.2h-1.4zM5.9 0.3h1.4v1.2h-1.4zM7.6 54.7h1.4v1.2h-1.4zM2.6 77.3h1.4v1.2h-1.4zM2.9 74.5h1.4v1.2h-1.4zM5.4 19.8h1.4v1.2h-1.4zM9.2 37.6h1.4v1.2h-1.4zM6.1 61.0h1.4v1.2h-1.4zM1.6 34.8h1.4v1.2h-1.4zM8.4 68.3h1.4v1.2h-1.4zM4.1 64.1h1.4v1.2h-1.4zM4.8 37.8h1.4v1.2h-1.4zM1.4 1.9h1.4v1.2h-1.4zM6.0 37.4h1.4v1.2h-1.4zM4.5 72.2h1.4v1.2h-1.4zM7.9 46.9h1.4v1.2h-1.4zM0.6 65.9h1.4v1.2h-1.4zM7.6 45.9h1.4v1.2h-1.4zM6.3 75.0h1.4v1.2h-1.4zM8.8 78.3h1.4v1.2h-1.4zM0.6 45.3h1.4v1.2h-1.4zM4.8 27.8h1.4v1.2h-1.4zM3.7 4.4h1.4v1.2h-1.4zM2.9 44.8h1.4v1.2h-1.4zM2.3 29.3h1.4v1.2h-1.4zM6.4 6.7h1.4v1.2h-1.4zM7.8 29.8h1.4v1.2h-1.4zM3.6 73.9h1.4v1.2h-1.4zM9.3 9.3h1.4v1.2h-1.4zM7.0 45.3h1.4v1.2h-1.4zM0.8 31.6h1.4v1.2h-1.4zM3.5 5.3h1.4v1.2h-1.4zM6.6 74.1h1.4v1.2h-1.4zM5.5 74.0h1.4v1.2h-1.4zM0.9 37.1h1.4v1.2h-1.4zM0.3 11.3h1.4v1.2h-1.4zM6.4 75.2h1.4v1.2h-1.4zM0.3 42.7h1.4v1.2h-1.4zM1.7 3.8h1.4v1.2h-1.4zM0.9 15.7h1.4v1.2h-1.4zM8.0 72.8h1.4v1.2h-1.4zM9.5 1.1h1.4v1.2h-1.4zM6.7 66.1h1.4v1.2h-1.4zM6.8 43.6h1.4v1.2h-1.4zM1.9 46.8h1.4v1.2h-1.4z"/>
<path fill="#fff0f0" d="M9.0 2.3h1.4v1.2h-1.4zM8.8 8.9h1.4v1.2h-1.4zM0.7 48.7h1.4v1.2h-1.4zM9.3 28.2h1.4v1.2h-1.4zM3.7 66.3h1.4v1.2h-1.4zM8.7 19.8h1.4v1.2h-1.4zM3.6 23.3h1.4v1.2h-1.4zM7.1 24.4h1.4v1.2h-1.4zM8.3 23.2h1.4v1.2h-1.4zM9.6 35.7h1.4v1.2h-1.4zM9.4 49.4h1.4v1.2h-1.4zM8.5 14.2h1.4v1.2h-1.4zM6.9 22.1h1.4v1.2h-1.4zM1.8 67.1h1.4v1.2h-1.4zM0.8 52.9h1.4v1.2h-1.4zM6.2 3.3h1.4v1.2h-1.4zM1.1 76.3h1.4v1.2h-1.4zM1.9 2.8h1.4v1.2h-1.4zM8.0 52.1h1.4v1.2h-1.4zM0.4 10.8h1.4v1.2h-1.4zM7.1 22.5h1.4v1.2h-1.4zM6.9 49.8h1.4v1.2h-1.4zM8.4 66.3h1.4v1.2h-1.4zM1.6 54.8h1.4v1.2h-1.4zM9.5 42.4h1.4v1.2h-1.4zM5.8 18.8h1.4v1.2h-1.4zM5.2 42.7h1.4v1.2h-1.4zM0.5 11.9h1.4v1.2h-1.4zM0.8 71.8h1.4v1.2h-1.4zM1.9 38.6h1.4v1.2h-1.4zM6.5 27.5h1.4v1.2h-1.4zM9.0 25.5h1.4v1.2h-1.4zM2.8 18.5h1.4v1.2h-1.4zM3.6 24.6h1.4v1.2h-1.4zM0.7 70.8h1.4v1.2h-1.4zM2.4 4.0h1.4v1.2h-1.4zM1.8 40.1h1.4v1.2h-1.4zM4.8 45.0h1.4v1.2h-1.4zM8.9 24.2h1.4v1.2h-1.4zM7.6 20.8h1.4v1.2h-1.4zM9.5 65.1h1.4v1.2h-1.4zM4.2 26.3h1.4v1.2h-1.4zM9.0 36.3h1.4v1.2h-1.4zM9.2 42.0h1.4v1.2h-1.4zM1.4 65.5h1.4v1.2h-1.4zM3.7 7.4h1.4v1.2h-1.4zM7.8 59.5h1.4v1.2h-1.4zM5.9 44.3h1.4v1.2h-1.4zM3.4 61.9h1.4v1.2h-1.4zM3.9 0.2h1.4v1.2h-1.4zM7.1 32.8h1.4v1.2h-1.4zM8.7 26.1h1.4v1.2h-1.4zM5.4 44.4h1.4v1.2h-1.4z"/>
<path fill="#ff3a3a" d="M7.6 19.6h1.4v1.2h-1.4zM8.5 30.0h1.4v1.2h-1.4zM0.6 76.8h1.4v1.2h-1.4zM4.5 33.2h1.4v1.2h-1.4zM6.2 62.1h1.4v1.2h-1.4zM1.7 29.4h1.4v1.2h-1.4zM3.4 52.2h1.4v1.2h-1.4zM8.1 29.5h1.4v1.2h-1.4zM2.4 37.4h1.4v1.2h-1.4zM8.5 69.4h1.4v1.2h-1.4zM5.7 64.0h1.4v1.2h-1.4zM7.2 21.1h1.4v1.2h-1.4zM7.8 52.3h1.4v1.2h-1.4zM3.3 33.8h1.4v1.2h-1.4zM9.8 55.3h1.4v1.2h-1.4zM1.8 63.2h1.4v1.2h-1.4zM6.1 3.4h1.4v1.2h-1.4zM3.9 49.1h1.4v1.2h-1.4zM5.4 17.4h1.4v1.2h-1.4zM3.8 10.3h1.4v1.2h-1.4zM6.7 17.6h1.4v1.2h-1.4zM2.1 14.2h1.4v1.2h-1.4zM6.7 13.4h1.4v1.2h-1.4zM4.0 24.1h1.4v1.2h-1.4zM5.1 10.5h1.4v1.2h-1.4zM1.1 24.6h1.4v1.2h-1.4zM3.1 10.2h1.4v1.2h-1.4zM8.7 69.8h1.4v1.2h-1.4zM0.5 33.7h1.4v1.2h-1.4zM5.5 2.2h1.4v1.2h-1.4zM3.6 26.0h1.4v1.2h-1.4zM6.1 64.1h1.4v1.2h-1.4zM2.8 6.1h1.4v1.2h-1.4zM2.3 3.0h1.4v1.2h-1.4zM9.6 19.6h1.4v1.2h-1.4zM7.7 26.0h1.4v1.2h-1.4z"/>
<path fill="#ff5a5a" d="M5.6 1.0h1.4v1.2h-1.4zM0.1 61.0h1.4v1.2h-1.4zM8.5 22.8h1.4v1.2h-1.4zM5.3 53.4h1.4v1.2h-1.4zM1.8 76.3h1.4v1.2h-1.4zM0.2 32.7h1.4v1.2h-1.4zM1.8 37.2h1.4v1.2h-1.4zM0.5 14.3h1.4v1.2h-1.4zM5.0 28.6h1.4v1.2h-1.4zM1.7 6.2h1.4v1.2h-1.4zM5.2 32.0h1.4v1.2h-1.4zM4.8 66.1h1.4v1.2h-1.4zM9.6 44.4h1.4v1.2h-1.4zM9.0 48.9h1.4v1.2h-1.4zM2.9 31.8h1.4v1.2h-1.4zM4.0 72.7h1.4v1.2h-1.4zM2.7 78.5h1.4v1.2h-1.4zM1.8 59.8h1.4v1.2h-1.4zM9.6 13.1h1.4v1.2h-1.4zM2.9 27.7h1.4v1.2h-1.4zM5.3 36.8h1.4v1.2h-1.4zM5.8 44.4h1.4v1.2h-1.4zM3.7 34.0h1.4v1.2h-1.4zM3.7 75.7h1.4v1.2h-1.4zM2.4 21.1h1.4v1.2h-1.4zM3.8 67.1h1.4v1.2h-1.4zM7.7 71.8h1.4v1.2h-1.4zM1.0 2.6h1.4v1.2h-1.4zM1.0 12.2h1.4v1.2h-1.4zM3.2 35.8h1.4v1.2h-1.4zM7.1 12.9h1.4v1.2h-1.4zM4.6 61.1h1.4v1.2h-1.4zM8.6 74.9h1.4v1.2h-1.4zM7.7 6.8h1.4v1.2h-1.4zM5.9 67.5h1.4v1.2h-1.4zM4.2 45.5h1.4v1.2h-1.4zM2.7 38.8h1.4v1.2h-1.4zM8.0 30.1h1.4v1.2h-1.4zM3.1 24.1h1.4v1.2h-1.4zM0.2 41.6h1.4v1.2h-1.4zM1.6 48.8h1.4v1.2h-1.4zM5.9 49.7h1.4v1.2h-1.4zM8.3 54.0h1.4v1.2h-1.4zM3.5 59.2h1.4v1.2h-1.4zM1.0 56.6h1.4v1.2h-1.4zM5.5 4.8h1.4v1.2h-1.4zM0.2 60.7h1.4v1.2h-1.4zM5.1 70.6h1.4v1.2h-1.4zM7.8 6.1h1.4v1.2h-1.4zM0.8 32.5h1.4v1.2h-1.4zM4.7 47.0h1.4v1.2h-1.4zM5.1 5.7h1.4v1.2h-1.4zM8.3 50.8h1.4v1.2h-1.4z"/>
<path fill="#ffd0d0" d="M3.3 72.8h1.4v1.2h-1.4zM1.6 3.8h1.4v1.2h-1.4zM1.1 64.8h1.4v1.2h-1.4zM0.3 24.1h1.4v1.2h-1.4zM2.7 22.8h1.4v1.2h-1.4zM9.4 40.8h1.4v1.2h-1.4zM1.7 61.5h1.4v1.2h-1.4zM5.3 26.7h1.4v1.2h-1.4zM1.1 44.6h1.4v1.2h-1.4zM5.3 25.6h1.4v1.2h-1.4zM3.5 58.7h1.4v1.2h-1.4zM1.3 0.2h1.4v1.2h-1.4zM1.2 9.6h1.4v1.2h-1.4zM9.0 11.8h1.4v1.2h-1.4zM4.2 24.8h1.4v1.2h-1.4zM5.0 71.7h1.4v1.2h-1.4zM0.4 68.0h1.4v1.2h-1.4zM8.0 11.0h1.4v1.2h-1.4zM5.1 46.7h1.4v1.2h-1.4zM4.6 70.1h1.4v1.2h-1.4zM5.4 78.0h1.4v1.2h-1.4zM8.7 78.8h1.4v1.2h-1.4zM6.4 59.9h1.4v1.2h-1.4zM8.4 74.8h1.4v1.2h-1.4zM7.1 7.5h1.4v1.2h-1.4zM9.6 2.6h1.4v1.2h-1.4zM8.1 23.9h1.4v1.2h-1.4zM6.7 68.0h1.4v1.2h-1.4zM0.1 40.3h1.4v1.2h-1.4zM5.0 39.5h1.4v1.2h-1.4zM7.8 28.6h1.4v1.2h-1.4zM3.7 59.2h1.4v1.2h-1.4zM8.8 71.7h1.4v1.2h-1.4zM2.2 4.9h1.4v1.2h-1.4zM6.1 50.4h1.4v1.2h-1.4zM3.0 22.1h1.4v1.2h-1.4zM0.3 9.1h1.4v1.2h-1.4z"/>
</pattern>
<rect x="384.5" y="1356.0" width="11.2" height="540.0" fill="url(#p10)"/>
<pattern id="p11" x="395.7" y="1356.0" width="6.6" height="80" patternUnits="userSpaceOnUse">
<path fill="#ffffff" d="M4.6 48.5h1.4v1.2h-1.4zM3.2 8.3h1.4v1.2h-1.4zM1.1 29.5h1.4v1.2h-1.4zM1.3 74.2h1.4v1.2h-1.4zM2.0 22.9h1.4v1.2h-1.4zM4.9 5.0h1.4v1.2h-1.4zM1.4 7.6h1.4v1.2h-1.4zM2.2 14.2h1.4v1.2h-1.4zM4.4 19.3h1.4v1.2h-1.4zM0.1 44.3h1.4v1.2h-1.4zM3.1 66.1h1.4v1.2h-1.4zM2.6 4.2h1.4v1.2h-1.4zM2.2 57.0h1.4v1.2h-1.4zM3.9 6.1h1.4v1.2h-1.4zM1.0 1.5h1.4v1.2h-1.4zM0.5 8.7h1.4v1.2h-1.4zM1.9 29.1h1.4v1.2h-1.4zM0.0 60.8h1.4v1.2h-1.4zM4.0 44.0h1.4v1.2h-1.4zM4.9 74.8h1.4v1.2h-1.4zM1.6 43.5h1.4v1.2h-1.4zM0.7 27.7h1.4v1.2h-1.4zM3.7 46.7h1.4v1.2h-1.4zM0.1 32.4h1.4v1.2h-1.4zM0.5 5.3h1.4v1.2h-1.4zM2.7 71.1h1.4v1.2h-1.4zM1.6 48.2h1.4v1.2h-1.4zM0.8 21.1h1.4v1.2h-1.4zM2.9 52.2h1.4v1.2h-1.4zM3.4 52.3h1.4v1.2h-1.4zM0.4 24.1h1.4v1.2h-1.4zM3.9 20.2h1.4v1.2h-1.4zM0.9 7.1h1.4v1.2h-1.4zM3.0 37.9h1.4v1.2h-1.4zM0.7 33.1h1.4v1.2h-1.4z"/>
<path fill="#ff6a6a" d="M4.4 0.1h1.4v1.2h-1.4zM3.8 64.3h1.4v1.2h-1.4zM1.9 64.2h1.4v1.2h-1.4zM0.3 33.2h1.4v1.2h-1.4zM1.4 56.7h1.4v1.2h-1.4zM4.5 6.2h1.4v1.2h-1.4zM4.8 29.8h1.4v1.2h-1.4zM4.6 11.7h1.4v1.2h-1.4zM3.5 9.7h1.4v1.2h-1.4zM0.2 32.3h1.4v1.2h-1.4zM5.0 47.2h1.4v1.2h-1.4zM4.9 2.5h1.4v1.2h-1.4zM4.2 6.7h1.4v1.2h-1.4zM3.9 29.4h1.4v1.2h-1.4zM2.8 34.9h1.4v1.2h-1.4zM2.8 57.6h1.4v1.2h-1.4zM1.2 56.4h1.4v1.2h-1.4zM3.4 4.4h1.4v1.2h-1.4zM2.0 49.6h1.4v1.2h-1.4zM3.4 13.8h1.4v1.2h-1.4zM2.6 74.9h1.4v1.2h-1.4zM4.0 42.8h1.4v1.2h-1.4zM2.4 8.1h1.4v1.2h-1.4zM1.1 40.6h1.4v1.2h-1.4zM2.0 49.9h1.4v1.2h-1.4zM3.3 20.2h1.4v1.2h-1.4zM2.3 18.4h1.4v1.2h-1.4zM1.3 36.6h1.4v1.2h-1.4z"/>
<path fill="#d0d0ff" d="M0.6 26.5h1.4v1.2h-1.4zM2.6 73.9h1.4v1.2h-1.4zM0.1 63.8h1.4v1.2h-1.4zM3.9 15.4h1.4v1.2h-1.4zM3.0 23.3h1.4v1.2h-1.4zM2.5 6.7h1.4v1.2h-1.4zM2.2 76.6h1.4v1.2h-1.4zM1.1 33.2h1.4v1.2h-1.4zM2.4 6.1h1.4v1.2h-1.4zM1.2 54.5h1.4v1.2h-1.4zM2.3 51.6h1.4v1.2h-1.4zM0.6 69.8h1.4v1.2h-1.4zM5.0 20.7h1.4v1.2h-1.4zM1.4 65.3h1.4v1.2h-1.4zM0.7 4.1h1.4v1.2h-1.4zM3.7 5.5h1.4v1.2h-1.4zM0.6 59.5h1.4v1.2h-1.4zM2.4 23.6h1.4v1.2h-1.4zM2.0 51.7h1.4v1.2h-1.4zM2.9 19.8h1.4v1.2h-1.4zM1.5 8.5h1.4v1.2h-1.4zM1.7 8.1h1.4v1.2h-1.4zM3.3 57.1h1.4v1.2h-1.4zM1.6 23.1h1.4v1.2h-1.4zM4.2 38.0h1.4v1.2h-1.4zM3.0 19.8h1.4v1.2h-1.4zM0.6 60.2h1.4v1.2h-1.4zM1.5 26.3h1.4v1.2h-1.4zM1.9 60.9h1.4v1.2h-1.4zM0.0 74.4h1.4v1.2h-1.4z"/>
<path fill="#ffb0b0" d="M3.7 72.8h1.4v1.2h-1.4zM2.0 9.3h1.4v1.2h-1.4zM4.0 39.4h1.4v1.2h-1.4zM4.9 52.1h1.4v1.2h-1.4zM0.8 40.8h1.4v1.2h-1.4zM4.1 4.4h1.4v1.2h-1.4zM3.0 21.7h1.4v1.2h-1.4zM2.7 30.6h1.4v1.2h-1.4zM0.0 44.5h1.4v1.2h-1.4zM4.8 65.9h1.4v1.2h-1.4zM3.7 48.2h1.4v1.2h-1.4zM3.7 56.7h1.4v1.2h-1.4zM1.6 41.3h1.4v1.2h-1.4zM3.3 34.5h1.4v1.2h-1.4zM4.8 13.4h1.4v1.2h-1.4zM2.2 66.7h1.4v1.2h-1.4zM4.9 62.3h1.4v1.2h-1.4zM1.2 2.1h1.4v1.2h-1.4zM2.8 51.3h1.4v1.2h-1.4zM2.3 21.4h1.4v1.2h-1.4zM1.7 63.9h1.4v1.2h-1.4zM1.6 43.6h1.4v1.2h-1.4zM3.6 42.8h1.4v1.2h-1.4zM4.5 41.1h1.4v1.2h-1.4z"/>
<path fill="#ff4040" d="M3.3 76.0h1.4v1.2h-1.4zM4.6 77.8h1.4v1.2h-1.4zM5.0 10.5h1.4v1.2h-1.4zM2.6 75.9h1.4v1.2h-1.4zM3.3 60.4h1.4v1.2h-1.4zM1.9 63.9h1.4v1.2h-1.4zM4.3 11.1h1.4v1.2h-1.4zM1.0 63.3h1.4v1.2h-1.4zM3.3 2.8h1.4v1.2h-1.4zM0.7 28.6h1.4v1.2h-1.4zM5.0 11.1h1.4v1.2h-1.4zM1.2 52.4h1.4v1.2h-1.4zM1.6 13.1h1.4v1.2h-1.4zM2.4 4.7h1.4v1.2h-1.4zM2.5 11.3h1.4v1.2h-1.4zM2.9 0.8h1.4v1.2h-1.4zM3.6 48.1h1.4v1.2h-1.4zM3.0 42.3h1.4v1.2h-1.4zM0.5 27.8h1.4v1.2h-1.4zM2.3 45.2h1.4v1.2h-1.4zM1.4 49.6h1.4v1.2h-1.4zM5.0 9.2h1.4v1.2h-1.4zM4.4 45.9h1.4v1.2h-1.4zM0.5 67.6h1.4v1.2h-1.4zM2.1 68.5h1.4v1.2h-1.4zM0.3 5.4h1.4v1.2h-1.4zM2.1 36.4h1.4v1.2h-1.4zM1.7 28.5h1.4v1.2h-1.4zM0.6 42.3h1.4v1.2h-1.4zM2.4 64.7h1.4v1.2h-1.4zM2.1 55.9h1.4v1.2h-1.4zM0.7 16.0h1.4v1.2h-1.4zM3.4 59.7h1.4v1.2h-1.4z"/>
</pattern>
<rect x="395.7" y="1356.0" width="6.6" height="540.0" fill="url(#p11)"/>
<pattern id="p12" x="402.3" y="1356.0" width="8.3" height="80" patternUnits="userSpaceOnUse">
<path fill="#d8d8ff" d="M6.1 32.8h2.0v1.4h-2.0zM4.9 57.1h2.0v1.4h-2.0zM5.7 36.9h2.0v1.4h-2.0zM0.0 43.2h2.0v1.4h-2.0zM1.7 44.9h2.0v1.4h-2.0zM0.5 51.5h2.0v1.4h-2.0zM6.1 40.6h2.0v1.4h-2.0zM2.2 8.2h2.0v1.4h-2.0zM0.6 67.8h2.0v1.4h-2.0zM5.2 39.5h2.0v1.4h-2.0zM0.8 5.0h2.0v1.4h-2.0zM5.5 24.1h2.0v1.4h-2.0zM5.8 23.2h2.0v1.4h-2.0zM0.6 34.4h2.0v1.4h-2.0zM5.0 42.6h2.0v1.4h-2.0zM0.1 53.7h2.0v1.4h-2.0z"/>
<path fill="#ececff" d="M2.7 65.8h2.0v1.4h-2.0zM4.1 30.3h2.0v1.4h-2.0zM3.3 1.9h2.0v1.4h-2.0zM3.3 15.8h2.0v1.4h-2.0zM2.7 64.1h2.0v1.4h-2.0zM4.4 74.5h2.0v1.4h-2.0zM5.8 70.0h2.0v1.4h-2.0zM0.2 75.9h2.0v1.4h-2.0zM3.6 35.5h2.0v1.4h-2.0zM1.1 35.0h2.0v1.4h-2.0zM2.7 23.3h2.0v1.4h-2.0zM2.3 61.6h2.0v1.4h-2.0zM6.3 10.2h2.0v1.4h-2.0z"/>
<path fill="#9c9cff" d="M2.9 71.9h2.0v1.4h-2.0zM3.2 55.9h2.0v1.4h-2.0zM5.0 1.1h2.0v1.4h-2.0zM4.8 49.0h2.0v1.4h-2.0zM3.9 56.3h2.0v1.4h-2.0zM4.4 15.8h2.0v1.4h-2.0zM5.2 70.7h2.0v1.4h-2.0zM4.6 15.9h2.0v1.4h-2.0zM2.3 7.4h2.0v1.4h-2.0zM1.4 23.2h2.0v1.4h-2.0zM3.2 7.4h2.0v1.4h-2.0zM1.9 44.6h2.0v1.4h-2.0zM2.1 54.5h2.0v1.4h-2.0zM2.3 78.3h2.0v1.4h-2.0z"/>
<path fill="#c6c6ff" d="M3.1 0.1h2.0v1.4h-2.0zM5.4 18.7h2.0v1.4h-2.0zM4.7 39.6h2.0v1.4h-2.0zM2.3 46.9h2.0v1.4h-2.0zM3.3 0.2h2.0v1.4h-2.0zM0.7 36.0h2.0v1.4h-2.0zM1.3 51.2h2.0v1.4h-2.0zM1.9 57.3h2.0v1.4h-2.0zM2.6 2.1h2.0v1.4h-2.0zM5.5 72.1h2.0v1.4h-2.0zM5.6 56.1h2.0v1.4h-2.0zM4.6 69.6h2.0v1.4h-2.0zM4.6 29.1h2.0v1.4h-2.0zM0.6 57.4h2.0v1.4h-2.0zM0.3 40.3h2.0v1.4h-2.0zM1.4 23.9h2.0v1.4h-2.0zM1.0 49.2h2.0v1.4h-2.0zM5.6 24.3h2.0v1.4h-2.0zM1.2 57.3h2.0v1.4h-2.0zM3.6 31.1h2.0v1.4h-2.0zM5.9 30.7h2.0v1.4h-2.0zM1.8 13.6h2.0v1.4h-2.0zM1.6 48.7h2.0v1.4h-2.0z"/>
<path fill="#b4b4ff" d="M4.9 65.8h2.0v1.4h-2.0zM1.4 0.2h2.0v1.4h-2.0zM5.4 50.7h2.0v1.4h-2.0zM1.3 18.5h2.0v1.4h-2.0zM3.7 17.5h2.0v1.4h-2.0zM6.2 15.8h2.0v1.4h-2.0zM2.5 2.6h2.0v1.4h-2.0zM2.5 60.7h2.0v1.4h-2.0zM5.4 53.7h2.0v1.4h-2.0zM1.6 53.6h2.0v1.4h-2.0zM0.9 0.5h2.0v1.4h-2.0zM2.5 43.9h2.0v1.4h-2.0zM1.1 27.5h2.0v1.4h-2.0zM2.0 53.3h2.0v1.4h-2.0zM5.5 53.6h2.0v1.4h-2.0zM1.8 35.3h2.0v1.4h-2.0zM5.2 46.4h2.0v1.4h-2.0zM5.9 22.9h2.0v1.4h-2.0zM2.7 73.9h2.0v1.4h-2.0zM4.8 71.2h2.0v1.4h-2.0zM1.8 51.6h2.0v1.4h-2.0zM5.7 40.6h2.0v1.4h-2.0z"/>
<path fill="#a6a6ff" d="M4.6 13.3h2.0v1.4h-2.0zM0.4 1.1h2.0v1.4h-2.0zM2.3 7.0h2.0v1.4h-2.0zM5.6 54.2h2.0v1.4h-2.0zM0.8 70.7h2.0v1.4h-2.0zM1.2 41.9h2.0v1.4h-2.0zM1.8 0.5h2.0v1.4h-2.0zM3.8 42.2h2.0v1.4h-2.0zM0.4 42.2h2.0v1.4h-2.0zM0.6 26.9h2.0v1.4h-2.0zM5.5 4.6h2.0v1.4h-2.0zM3.9 66.6h2.0v1.4h-2.0z"/>
</pattern>
<rect x="402.3" y="1356.0" width="8.3" height="540.0" fill="url(#p12)"/>
<pattern id="p13" x="410.6" y="1356.0" width="8.6" height="80" patternUnits="userSpaceOnUse">
<path fill="#ffffff" d="M2.1 2.8h1.4v1.2h-1.4zM3.8 3.6h1.4v1.2h-1.4zM7.1 24.6h1.4v1.2h-1.4zM6.5 50.0h1.4v1.2h-1.4zM5.6 20.1h1.4v1.2h-1.4zM6.1 67.1h1.4v1.2h-1.4zM0.0 11.6h1.4v1.2h-1.4zM4.1 7.0h1.4v1.2h-1.4zM1.6 66.3h1.4v1.2h-1.4zM4.4 48.5h1.4v1.2h-1.4zM4.7 53.3h1.4v1.2h-1.4zM4.0 47.7h1.4v1.2h-1.4zM1.3 43.0h1.4v1.2h-1.4zM6.0 21.3h1.4v1.2h-1.4zM0.5 31.1h1.4v1.2h-1.4zM5.8 53.3h1.4v1.2h-1.4zM6.7 55.8h1.4v1.2h-1.4zM3.5 41.3h1.4v1.2h-1.4zM1.7 18.6h1.4v1.2h-1.4zM3.9 62.2h1.4v1.2h-1.4zM6.1 34.8h1.4v1.2h-1.4zM5.7 34.3h1.4v1.2h-1.4zM2.0 23.5h1.4v1.2h-1.4zM3.6 72.5h1.4v1.2h-1.4zM3.1 24.8h1.4v1.2h-1.4zM1.7 22.6h1.4v1.2h-1.4zM6.8 27.9h1.4v1.2h-1.4zM4.5 3.4h1.4v1.2h-1.4zM2.2 11.5h1.4v1.2h-1.4zM1.0 56.7h1.4v1.2h-1.4zM4.5 41.3h1.4v1.2h-1.4zM3.7 68.6h1.4v1.2h-1.4zM5.6 33.8h1.4v1.2h-1.4zM3.2 70.6h1.4v1.2h-1.4zM3.5 61.8h1.4v1.2h-1.4zM0.5 36.4h1.4v1.2h-1.4zM6.7 66.0h1.4v1.2h-1.4zM1.8 40.6h1.4v1.2h-1.4zM4.7 71.6h1.4v1.2h-1.4zM2.5 13.5h1.4v1.2h-1.4zM1.9 32.5h1.4v1.2h-1.4zM2.5 3.5h1.4v1.2h-1.4zM4.4 37.5h1.4v1.2h-1.4zM2.7 24.8h1.4v1.2h-1.4zM3.6 38.4h1.4v1.2h-1.4zM3.2 62.4h1.4v1.2h-1.4zM4.5 46.4h1.4v1.2h-1.4zM4.3 8.3h1.4v1.2h-1.4zM2.6 34.4h1.4v1.2h-1.4zM1.6 77.9h1.4v1.2h-1.4zM2.9 35.8h1.4v1.2h-1.4zM0.8 28.3h1.4v1.2h-1.4zM4.3 25.3h1.4v1.2h-1.4zM5.7 49.6h1.4v1.2h-1.4zM1.6 52.7h1.4v1.2h-1.4zM3.6 8.6h1.4v1.2h-1.4zM3.9 47.9h1.4v1.2h-1.4zM4.3 39.4h1.4v1.2h-1.4zM1.0 68.0h1.4v1.2h-1.4zM5.9 37.5h1.4v1.2h-1.4zM6.9 9.5h1.4v1.2h-1.4zM0.2 42.3h1.4v1.2h-1.4zM6.3 15.2h1.4v1.2h-1.4zM0.5 66.9h1.4v1.2h-1.4zM1.7 29.0h1.4v1.2h-1.4zM0.6 52.2h1.4v1.2h-1.4zM6.5 46.7h1.4v1.2h-1.4zM6.3 25.3h1.4v1.2h-1.4zM4.3 11.8h1.4v1.2h-1.4z"/>
<path fill="#ff8080" d="M4.7 19.2h1.4v1.2h-1.4zM1.4 2.6h1.4v1.2h-1.4zM5.6 24.1h1.4v1.2h-1.4zM1.3 56.7h1.4v1.2h-1.4zM6.0 60.4h1.4v1.2h-1.4zM4.3 17.5h1.4v1.2h-1.4zM5.7 29.9h1.4v1.2h-1.4zM6.7 1.6h1.4v1.2h-1.4zM1.9 12.7h1.4v1.2h-1.4zM2.9 70.3h1.4v1.2h-1.4zM6.8 4.9h1.4v1.2h-1.4zM2.0 77.3h1.4v1.2h-1.4zM1.3 63.9h1.4v1.2h-1.4zM0.9 35.1h1.4v1.2h-1.4zM5.1 76.5h1.4v1.2h-1.4zM5.7 8.3h1.4v1.2h-1.4zM3.1 51.3h1.4v1.2h-1.4zM0.0 24.2h1.4v1.2h-1.4zM6.2 21.9h1.4v1.2h-1.4zM3.1 41.0h1.4v1.2h-1.4zM3.5 58.2h1.4v1.2h-1.4zM0.2 48.7h1.4v1.2h-1.4zM4.0 70.7h1.4v1.2h-1.4zM1.9 17.9h1.4v1.2h-1.4zM4.8 4.0h1.4v1.2h-1.4zM1.2 15.6h1.4v1.2h-1.4zM3.6 33.2h1.4v1.2h-1.4zM5.4 60.2h1.4v1.2h-1.4zM1.9 53.8h1.4v1.2h-1.4zM4.2 36.1h1.4v1.2h-1.4zM2.4 70.6h1.4v1.2h-1.4zM7.1 26.7h1.4v1.2h-1.4zM0.5 70.3h1.4v1.2h-1.4zM3.1 65.9h1.4v1.2h-1.4zM2.2 2.8h1.4v1.2h-1.4z"/>
<path fill="#ff4040" d="M6.3 52.6h1.4v1.2h-1.4zM1.2 73.6h1.4v1.2h-1.4zM1.6 35.9h1.4v1.2h-1.4zM5.0 59.8h1.4v1.2h-1.4zM1.6 52.4h1.4v1.2h-1.4zM1.7 48.4h1.4v1.2h-1.4zM2.1 11.8h1.4v1.2h-1.4zM4.3 15.7h1.4v1.2h-1.4zM1.5 72.6h1.4v1.2h-1.4zM4.5 54.4h1.4v1.2h-1.4zM7.1 1.1h1.4v1.2h-1.4zM4.4 48.9h1.4v1.2h-1.4zM5.1 75.4h1.4v1.2h-1.4zM4.9 11.1h1.4v1.2h-1.4zM5.8 65.3h1.4v1.2h-1.4zM2.3 39.4h1.4v1.2h-1.4zM2.3 74.6h1.4v1.2h-1.4zM5.2 58.1h1.4v1.2h-1.4zM0.7 41.0h1.4v1.2h-1.4zM1.8 33.3h1.4v1.2h-1.4zM2.6 11.6h1.4v1.2h-1.4zM3.5 5.4h1.4v1.2h-1.4zM2.1 56.2h1.4v1.2h-1.4zM4.8 36.9h1.4v1.2h-1.4zM1.5 18.5h1.4v1.2h-1.4zM4.3 59.2h1.4v1.2h-1.4zM1.6 8.9h1.4v1.2h-1.4zM1.2 69.7h1.4v1.2h-1.4zM5.5 25.9h1.4v1.2h-1.4zM2.4 20.1h1.4v1.2h-1.4zM5.6 18.6h1.4v1.2h-1.4zM5.7 6.6h1.4v1.2h-1.4zM4.2 45.4h1.4v1.2h-1.4zM3.6 71.3h1.4v1.2h-1.4zM0.8 35.3h1.4v1.2h-1.4zM0.5 58.9h1.4v1.2h-1.4zM0.5 6.1h1.4v1.2h-1.4zM3.2 15.4h1.4v1.2h-1.4z"/>
<path fill="#d0d0ff" d="M6.5 61.4h1.4v1.2h-1.4zM0.7 26.5h1.4v1.2h-1.4zM7.1 26.0h1.4v1.2h-1.4zM4.2 72.6h1.4v1.2h-1.4zM2.0 2.9h1.4v1.2h-1.4zM0.6 19.5h1.4v1.2h-1.4zM6.8 41.1h1.4v1.2h-1.4zM6.1 47.7h1.4v1.2h-1.4zM1.8 47.6h1.4v1.2h-1.4zM5.8 29.8h1.4v1.2h-1.4zM6.8 59.6h1.4v1.2h-1.4zM3.7 59.6h1.4v1.2h-1.4zM1.5 43.2h1.4v1.2h-1.4zM2.4 20.4h1.4v1.2h-1.4zM0.1 53.2h1.4v1.2h-1.4zM3.2 12.8h1.4v1.2h-1.4zM3.5 69.8h1.4v1.2h-1.4zM3.7 58.6h1.4v1.2h-1.4zM0.8 78.7h1.4v1.2h-1.4zM2.5 32.5h1.4v1.2h-1.4zM6.0 24.5h1.4v1.2h-1.4zM4.6 28.3h1.4v1.2h-1.4zM0.6 11.7h1.4v1.2h-1.4zM5.0 77.5h1.4v1.2h-1.4zM1.9 26.0h1.4v1.2h-1.4zM5.4 32.7h1.4v1.2h-1.4zM3.5 64.3h1.4v1.2h-1.4zM3.8 73.7h1.4v1.2h-1.4z"/>
<path fill="#c8c8ff" d="M5.4 59.6h1.4v1.2h-1.4zM6.0 58.7h1.4v1.2h-1.4zM2.3 50.0h1.4v1.2h-1.4zM1.5 52.4h1.4v1.2h-1.4zM4.3 46.5h1.4v1.2h-1.4zM2.5 37.4h1.4v1.2h-1.4zM1.0 35.2h1.4v1.2h-1.4zM4.5 58.4h1.4v1.2h-1.4zM2.5 54.8h1.4v1.2h-1.4zM4.4 3.5h1.4v1.2h-1.4zM5.6 20.3h1.4v1.2h-1.4zM4.9 29.0h1.4v1.2h-1.4zM6.2 72.8h1.4v1.2h-1.4zM6.8 34.9h1.4v1.2h-1.4zM1.1 38.3h1.4v1.2h-1.4zM3.7 66.8h1.4v1.2h-1.4zM2.3 60.7h1.4v1.2h-1.4zM1.7 52.6h1.4v1.2h-1.4zM7.1 8.2h1.4v1.2h-1.4zM3.4 9.3h1.4v1.2h-1.4zM0.0 20.4h1.4v1.2h-1.4zM1.1 77.8h1.4v1.2h-1.4zM4.2 50.6h1.4v1.2h-1.4zM4.8 37.3h1.4v1.2h-1.4zM4.4 76.2h1.4v1.2h-1.4zM2.7 32.4h1.4v1.2h-1.4zM6.5 33.7h1.4v1.2h-1.4zM3.7 55.7h1.4v1.2h-1.4zM6.1 68.1h1.4v1.2h-1.4zM6.4 9.0h1.4v1.2h-1.4zM2.1 70.1h1.4v1.2h-1.4zM2.8 12.7h1.4v1.2h-1.4zM6.0 22.6h1.4v1.2h-1.4zM4.7 37.1h1.4v1.2h-1.4zM4.3 77.1h1.4v1.2h-1.4zM4.1 9.7h1.4v1.2h-1.4zM2.5 10.1h1.4v1.2h-1.4zM4.3 62.3h1.4v1.2h-1.4zM4.4 52.6h1.4v1.2h-1.4zM5.3 34.3h1.4v1.2h-1.4z"/>
</pattern>
<rect x="410.6" y="1356.0" width="8.6" height="540.0" fill="url(#p13)"/>
</g>
<rect x="419.2" y="1356.0" width="2.2" height="540.0" fill="#c8c8c8" opacity="0.55"/>
<rect x="386.5" y="1350.5" width="5.5" height="3.5" fill="#cfcfcf" opacity="0.45"/>
<rect x="394.4" y="1350.5" width="5.5" height="3.5" fill="#cfcfcf" opacity="0.45"/>
<rect x="402.4" y="1350.5" width="5.5" height="3.5" fill="#cfcfcf" opacity="0.45"/>
<rect x="410.3" y="1350.5" width="5.5" height="3.5" fill="#cfcfcf" opacity="0.45"/>
<rect x="384.1" y="1355.1" width="41.7" height="19.2" fill="none" stroke="#000" stroke-width="2.2"/>
<g shape-rendering="crispEdges">
<path fill="#f6bfc3" d="M489.80 1470.20h18.24v18.26h-18.24zM1218.06 1524.89h18.24v18.26h-18.24zM853.93 1597.81h18.24v18.26h-18.24zM489.80 1616.04h18.24v18.26h-18.24zM617.25 1670.73h18.24v18.26h-18.24zM1290.89 1688.96h18.24v18.26h-18.24zM580.83 1707.19h18.24v18.26h-18.24zM653.66 1743.65h18.24v18.26h-18.24z"/>
<path fill="#f3a4aa" d="M508.01 1470.20h18.24v18.26h-18.24zM835.72 1780.11h18.24v18.26h-18.24z"/>
<path fill="#f7c4c8" d="M526.21 1470.20h18.24v18.26h-18.24zM1254.47 1524.89h18.24v18.26h-18.24zM853.93 1543.12h18.24v18.26h-18.24zM508.01 1616.04h18.24v18.26h-18.24zM744.69 1761.88h18.24v18.26h-18.24zM872.14 1761.88h18.24v18.26h-18.24zM781.10 1780.11h18.24v18.26h-18.24z"/>
<path fill="#fbe3e5" d="M544.42 1470.20h18.24v18.26h-18.24zM508.01 1506.66h18.24v18.26h-18.24zM1199.85 1543.12h18.24v18.26h-18.24zM872.14 1597.81h18.24v18.26h-18.24zM872.14 1670.73h18.24v18.26h-18.24zM1272.68 1761.88h18.24v18.26h-18.24zM1199.85 1798.34h18.24v18.26h-18.24z"/>
<path fill="#ffffff" d="M562.63 1470.20h18.24v18.26h-18.24zM690.07 1470.20h18.24v18.26h-18.24zM1272.68 1470.20h18.24v18.26h-18.24zM781.10 1488.43h18.24v18.26h-18.24zM1218.06 1488.43h18.24v18.26h-18.24zM1290.89 1488.43h18.24v18.26h-18.24zM1236.27 1506.66h18.24v18.26h-18.24zM653.66 1543.12h18.24v18.26h-18.24zM671.87 1543.12h18.24v18.26h-18.24zM762.90 1543.12h18.24v18.26h-18.24zM1181.65 1543.12h18.24v18.26h-18.24zM1309.09 1543.12h18.24v18.26h-18.24zM562.63 1561.35h18.24v18.26h-18.24zM1290.89 1561.35h18.24v18.26h-18.24zM508.01 1579.58h18.24v18.26h-18.24zM872.14 1579.58h18.24v18.26h-18.24zM890.34 1579.58h18.24v18.26h-18.24zM781.10 1597.81h18.24v18.26h-18.24zM599.04 1616.04h18.24v18.26h-18.24zM690.07 1616.04h18.24v18.26h-18.24zM872.14 1616.04h18.24v18.26h-18.24zM1236.27 1616.04h18.24v18.26h-18.24zM744.69 1634.27h18.24v18.26h-18.24zM1181.65 1634.27h18.24v18.26h-18.24zM599.04 1652.50h18.24v18.26h-18.24zM617.25 1652.50h18.24v18.26h-18.24zM690.07 1652.50h18.24v18.26h-18.24zM1163.44 1652.50h18.24v18.26h-18.24zM1218.06 1652.50h18.24v18.26h-18.24zM690.07 1670.73h18.24v18.26h-18.24zM1199.85 1670.73h18.24v18.26h-18.24zM617.25 1688.96h18.24v18.26h-18.24zM708.28 1688.96h18.24v18.26h-18.24zM1163.44 1688.96h18.24v18.26h-18.24zM762.90 1707.19h18.24v18.26h-18.24zM817.52 1707.19h18.24v18.26h-18.24zM580.83 1725.42h18.24v18.26h-18.24zM599.04 1725.42h18.24v18.26h-18.24zM617.25 1725.42h18.24v18.26h-18.24zM872.14 1725.42h18.24v18.26h-18.24zM1236.27 1725.42h18.24v18.26h-18.24zM872.14 1780.11h18.24v18.26h-18.24zM1236.27 1780.11h18.24v18.26h-18.24zM1254.47 1780.11h18.24v18.26h-18.24zM817.52 1798.34h18.24v18.26h-18.24zM1181.65 1798.34h18.24v18.26h-18.24zM1236.27 1798.34h18.24v18.26h-18.24zM635.45 1816.57h18.24v18.26h-18.24z"/>
<path fill="#f1747a" d="M580.83 1470.20h18.24v18.26h-18.24zM1309.09 1524.89h18.24v18.26h-18.24zM708.28 1652.50h18.24v18.26h-18.24zM562.63 1688.96h18.24v18.26h-18.24zM1272.68 1725.42h18.24v18.26h-18.24zM562.63 1798.34h18.24v18.26h-18.24z"/>
<path fill="#f17076" d="M599.04 1470.20h18.24v18.26h-18.24zM617.25 1470.20h18.24v18.26h-18.24z"/>
<path fill="#f16b71" d="M635.45 1470.20h18.24v18.26h-18.24zM580.83 1506.66h18.24v18.26h-18.24z"/>
<path fill="#e4e4ff" d="M653.66 1470.20h18.24v18.26h-18.24zM599.04 1543.12h18.24v18.26h-18.24zM526.21 1579.58h18.24v18.26h-18.24zM1309.09 1688.96h18.24v18.26h-18.24z"/>
<path fill="#e8e8ff" d="M671.87 1470.20h18.24v18.26h-18.24zM835.72 1524.89h18.24v18.26h-18.24zM1145.23 1524.89h18.24v18.26h-18.24zM817.52 1597.81h18.24v18.26h-18.24zM1108.82 1597.81h18.24v18.26h-18.24zM1127.03 1616.04h18.24v18.26h-18.24zM1181.65 1670.73h18.24v18.26h-18.24zM853.93 1688.96h18.24v18.26h-18.24zM890.34 1761.88h18.24v18.26h-18.24zM1218.06 1798.34h18.24v18.26h-18.24z"/>
<path fill="#f2898f" d="M708.28 1470.20h18.24v18.26h-18.24zM562.63 1579.58h18.24v18.26h-18.24zM853.93 1652.50h18.24v18.26h-18.24zM726.48 1780.11h18.24v18.26h-18.24zM872.14 1816.57h18.24v18.26h-18.24z"/>
<path fill="#f7c2c6" d="M726.48 1470.20h18.24v18.26h-18.24zM526.21 1524.89h18.24v18.26h-18.24zM635.45 1524.89h18.24v18.26h-18.24zM635.45 1743.65h18.24v18.26h-18.24zM890.34 1743.65h18.24v18.26h-18.24zM1145.23 1780.11h18.24v18.26h-18.24zM489.80 1798.34h18.24v18.26h-18.24z"/>
<path fill="#fbe0e2" d="M744.69 1470.20h18.24v18.26h-18.24zM671.87 1506.66h18.24v18.26h-18.24zM817.52 1524.89h18.24v18.26h-18.24zM726.48 1579.58h18.24v18.26h-18.24z"/>
<path fill="#f7c5c9" d="M762.90 1470.20h18.24v18.26h-18.24zM489.80 1488.43h18.24v18.26h-18.24zM599.04 1488.43h18.24v18.26h-18.24zM708.28 1488.43h18.24v18.26h-18.24zM690.07 1579.58h18.24v18.26h-18.24zM835.72 1634.27h18.24v18.26h-18.24zM1254.47 1707.19h18.24v18.26h-18.24zM762.90 1816.57h18.24v18.26h-18.24z"/>
<path fill="#f4adb3" d="M781.10 1470.20h18.24v18.26h-18.24zM835.72 1488.43h18.24v18.26h-18.24zM562.63 1652.50h18.24v18.26h-18.24zM708.28 1761.88h18.24v18.26h-18.24z"/>
<path fill="#f2858b" d="M799.31 1470.20h18.24v18.26h-18.24zM599.04 1506.66h18.24v18.26h-18.24zM617.25 1506.66h18.24v18.26h-18.24zM1218.06 1579.58h18.24v18.26h-18.24zM599.04 1743.65h18.24v18.26h-18.24zM562.63 1761.88h18.24v18.26h-18.24zM1272.68 1780.11h18.24v18.26h-18.24z"/>
<path fill="#fbdfe1" d="M817.52 1470.20h18.24v18.26h-18.24zM1290.89 1470.20h18.24v18.26h-18.24zM1199.85 1524.89h18.24v18.26h-18.24zM526.21 1616.04h18.24v18.26h-18.24zM671.87 1780.11h18.24v18.26h-18.24zM835.72 1798.34h18.24v18.26h-18.24zM799.31 1816.57h18.24v18.26h-18.24z"/>
<path fill="#eaeaff" d="M835.72 1470.20h18.24v18.26h-18.24zM762.90 1488.43h18.24v18.26h-18.24zM508.01 1743.65h18.24v18.26h-18.24zM1163.44 1780.11h18.24v18.26h-18.24zM1309.09 1816.57h18.24v18.26h-18.24z"/>
<path fill="#d2d2ff" d="M853.93 1470.20h18.24v18.26h-18.24zM1145.23 1470.20h18.24v18.26h-18.24zM762.90 1524.89h18.24v18.26h-18.24zM781.10 1579.58h18.24v18.26h-18.24zM1290.89 1597.81h18.24v18.26h-18.24zM1218.06 1707.19h18.24v18.26h-18.24zM1181.65 1725.42h18.24v18.26h-18.24zM1236.27 1816.57h18.24v18.26h-18.24z"/>
<path fill="#d5d5ff" d="M872.14 1470.20h18.24v18.26h-18.24zM1145.23 1506.66h18.24v18.26h-18.24zM853.93 1561.35h18.24v18.26h-18.24zM853.93 1579.58h18.24v18.26h-18.24zM508.01 1688.96h18.24v18.26h-18.24zM817.52 1688.96h18.24v18.26h-18.24zM1254.47 1725.42h18.24v18.26h-18.24zM1309.09 1743.65h18.24v18.26h-18.24z"/>
<path fill="#cfcfff" d="M890.34 1470.20h18.24v18.26h-18.24zM1309.09 1488.43h18.24v18.26h-18.24zM762.90 1579.58h18.24v18.26h-18.24zM1218.06 1597.81h18.24v18.26h-18.24zM526.21 1688.96h18.24v18.26h-18.24zM1272.68 1707.19h18.24v18.26h-18.24zM1127.03 1725.42h18.24v18.26h-18.24zM1181.65 1743.65h18.24v18.26h-18.24zM1127.03 1798.34h18.24v18.26h-18.24zM1163.44 1816.57h18.24v18.26h-18.24z"/>
<path fill="#a7a7ff" d="M908.55 1470.20h18.24v18.26h-18.24zM926.76 1506.66h18.24v18.26h-18.24zM981.38 1597.81h18.24v18.26h-18.24zM926.76 1616.04h18.24v18.26h-18.24zM908.55 1688.96h18.24v18.26h-18.24zM1036.00 1707.19h18.24v18.26h-18.24zM1090.62 1761.88h18.24v18.26h-18.24z"/>
<path fill="#ababff" d="M926.76 1470.20h18.24v18.26h-18.24zM999.58 1524.89h18.24v18.26h-18.24zM1017.79 1725.42h18.24v18.26h-18.24zM762.90 1798.34h18.24v18.26h-18.24z"/>
<path fill="#a5a4ff" d="M944.96 1470.20h18.24v18.26h-18.24zM1254.47 1670.73h18.24v18.26h-18.24zM1017.79 1761.88h18.24v18.26h-18.24z"/>
<path fill="#918fff" d="M963.17 1470.20h18.24v18.26h-18.24z"/>
<path fill="#7872ff" d="M981.38 1470.20h18.24v18.26h-18.24zM981.38 1670.73h18.24v18.26h-18.24zM981.38 1688.96h18.24v18.26h-18.24z"/>
<path fill="#7069ff" d="M999.58 1470.20h18.24v18.26h-18.24zM1054.20 1470.20h18.24v18.26h-18.24zM981.38 1579.58h18.24v18.26h-18.24zM1090.62 1725.42h18.24v18.26h-18.24z"/>
<path fill="#9492ff" d="M1017.79 1470.20h18.24v18.26h-18.24zM944.96 1561.35h18.24v18.26h-18.24zM999.58 1634.27h18.24v18.26h-18.24z"/>
<path fill="#908dff" d="M1036.00 1470.20h18.24v18.26h-18.24zM872.14 1524.89h18.24v18.26h-18.24zM1017.79 1561.35h18.24v18.26h-18.24zM1017.79 1688.96h18.24v18.26h-18.24zM963.17 1707.19h18.24v18.26h-18.24zM1218.06 1761.88h18.24v18.26h-18.24z"/>
<path fill="#8a86ff" d="M1072.41 1470.20h18.24v18.26h-18.24zM1017.79 1506.66h18.24v18.26h-18.24zM1036.00 1506.66h18.24v18.26h-18.24zM944.96 1579.58h18.24v18.26h-18.24zM1017.79 1743.65h18.24v18.26h-18.24zM744.69 1798.34h18.24v18.26h-18.24z"/>
<path fill="#8c88ff" d="M1090.62 1470.20h18.24v18.26h-18.24zM908.55 1579.58h18.24v18.26h-18.24zM999.58 1579.58h18.24v18.26h-18.24zM963.17 1780.11h18.24v18.26h-18.24z"/>
<path fill="#d6d6ff" d="M1108.82 1470.20h18.24v18.26h-18.24zM1108.82 1488.43h18.24v18.26h-18.24zM835.72 1579.58h18.24v18.26h-18.24zM1108.82 1652.50h18.24v18.26h-18.24zM1199.85 1652.50h18.24v18.26h-18.24zM1127.03 1670.73h18.24v18.26h-18.24zM944.96 1725.42h18.24v18.26h-18.24zM944.96 1816.57h18.24v18.26h-18.24z"/>
<path fill="#bebeff" d="M1127.03 1470.20h18.24v18.26h-18.24zM1309.09 1506.66h18.24v18.26h-18.24zM781.10 1616.04h18.24v18.26h-18.24zM908.55 1634.27h18.24v18.26h-18.24zM963.17 1634.27h18.24v18.26h-18.24zM944.96 1780.11h18.24v18.26h-18.24zM1090.62 1798.34h18.24v18.26h-18.24z"/>
<path fill="#f6c0c4" d="M1163.44 1470.20h18.24v18.26h-18.24zM762.90 1506.66h18.24v18.26h-18.24zM835.72 1506.66h18.24v18.26h-18.24zM708.28 1561.35h18.24v18.26h-18.24zM671.87 1579.58h18.24v18.26h-18.24zM799.31 1597.81h18.24v18.26h-18.24zM1145.23 1707.19h18.24v18.26h-18.24zM1163.44 1798.34h18.24v18.26h-18.24z"/>
<path fill="#fce7e9" d="M1181.65 1470.20h18.24v18.26h-18.24zM635.45 1616.04h18.24v18.26h-18.24zM817.52 1616.04h18.24v18.26h-18.24zM890.34 1616.04h18.24v18.26h-18.24zM526.21 1652.50h18.24v18.26h-18.24zM744.69 1652.50h18.24v18.26h-18.24zM599.04 1670.73h18.24v18.26h-18.24zM853.93 1707.19h18.24v18.26h-18.24zM853.93 1743.65h18.24v18.26h-18.24z"/>
<path fill="#f3a9af" d="M1199.85 1470.20h18.24v18.26h-18.24zM653.66 1561.35h18.24v18.26h-18.24zM599.04 1579.58h18.24v18.26h-18.24zM617.25 1761.88h18.24v18.26h-18.24zM526.21 1816.57h18.24v18.26h-18.24zM653.66 1816.57h18.24v18.26h-18.24z"/>
<path fill="#f4aeb3" d="M1218.06 1470.20h18.24v18.26h-18.24zM653.66 1524.89h18.24v18.26h-18.24zM562.63 1634.27h18.24v18.26h-18.24zM544.42 1816.57h18.24v18.26h-18.24z"/>
<path fill="#fadde0" d="M1236.27 1470.20h18.24v18.26h-18.24zM617.25 1561.35h18.24v18.26h-18.24zM635.45 1780.11h18.24v18.26h-18.24z"/>
<path fill="#fcebec" d="M1254.47 1470.20h18.24v18.26h-18.24zM617.25 1488.43h18.24v18.26h-18.24zM635.45 1688.96h18.24v18.26h-18.24zM726.48 1707.19h18.24v18.26h-18.24z"/>
<path fill="#fbe4e6" d="M1309.09 1470.20h18.24v18.26h-18.24zM580.83 1524.89h18.24v18.26h-18.24zM544.42 1561.35h18.24v18.26h-18.24zM1199.85 1597.81h18.24v18.26h-18.24zM1108.82 1743.65h18.24v18.26h-18.24zM1127.03 1780.11h18.24v18.26h-18.24z"/>
<path fill="#f3a7ad" d="M508.01 1488.43h18.24v18.26h-18.24zM671.87 1524.89h18.24v18.26h-18.24zM1236.27 1561.35h18.24v18.26h-18.24zM1272.68 1561.35h18.24v18.26h-18.24zM653.66 1652.50h18.24v18.26h-18.24zM1254.47 1688.96h18.24v18.26h-18.24z"/>
<path fill="#f8cace" d="M526.21 1488.43h18.24v18.26h-18.24zM799.31 1616.04h18.24v18.26h-18.24zM508.01 1634.27h18.24v18.26h-18.24zM544.42 1725.42h18.24v18.26h-18.24z"/>
<path fill="#f44848" d="M544.42 1488.43h18.24v18.26h-18.24z"/>
<path fill="#f44847" d="M562.63 1488.43h18.24v18.26h-18.24z"/>
<path fill="#f2848a" d="M580.83 1488.43h18.24v18.26h-18.24zM671.87 1634.27h18.24v18.26h-18.24zM835.72 1725.42h18.24v18.26h-18.24zM617.25 1743.65h18.24v18.26h-18.24zM599.04 1816.57h18.24v18.26h-18.24z"/>
<path fill="#efefff" d="M635.45 1488.43h18.24v18.26h-18.24zM781.10 1725.42h18.24v18.26h-18.24z"/>
<path fill="#f8cacd" d="M653.66 1488.43h18.24v18.26h-18.24zM671.87 1707.19h18.24v18.26h-18.24zM817.52 1816.57h18.24v18.26h-18.24z"/>
<path fill="#f6c0c5" d="M671.87 1488.43h18.24v18.26h-18.24zM799.31 1524.89h18.24v18.26h-18.24zM508.01 1597.81h18.24v18.26h-18.24z"/>
<path fill="#f8cbce" d="M690.07 1488.43h18.24v18.26h-18.24zM544.42 1524.89h18.24v18.26h-18.24zM489.80 1597.81h18.24v18.26h-18.24zM762.90 1634.27h18.24v18.26h-18.24zM799.31 1670.73h18.24v18.26h-18.24z"/>
<path fill="#f6c1c6" d="M726.48 1488.43h18.24v18.26h-18.24zM1290.89 1652.50h18.24v18.26h-18.24zM817.52 1780.11h18.24v18.26h-18.24z"/>
<path fill="#fceaeb" d="M744.69 1488.43h18.24v18.26h-18.24zM799.31 1761.88h18.24v18.26h-18.24z"/>
<path fill="#fceced" d="M799.31 1488.43h18.24v18.26h-18.24zM872.14 1506.66h18.24v18.26h-18.24zM1163.44 1543.12h18.24v18.26h-18.24zM599.04 1597.81h18.24v18.26h-18.24zM617.25 1597.81h18.24v18.26h-18.24zM890.34 1597.81h18.24v18.26h-18.24zM762.90 1652.50h18.24v18.26h-18.24zM799.31 1652.50h18.24v18.26h-18.24z"/>
<path fill="#f8ced1" d="M817.52 1488.43h18.24v18.26h-18.24zM635.45 1561.35h18.24v18.26h-18.24zM1163.44 1616.04h18.24v18.26h-18.24zM599.04 1707.19h18.24v18.26h-18.24zM781.10 1707.19h18.24v18.26h-18.24z"/>
<path fill="#fd2114" d="M853.93 1488.43h18.24v18.26h-18.24z"/>
<path fill="#fadee0" d="M872.14 1488.43h18.24v18.26h-18.24zM489.80 1506.66h18.24v18.26h-18.24zM1290.89 1506.66h18.24v18.26h-18.24zM635.45 1543.12h18.24v18.26h-18.24zM1272.68 1688.96h18.24v18.26h-18.24zM1309.09 1725.42h18.24v18.26h-18.24zM690.07 1816.57h18.24v18.26h-18.24z"/>
<path fill="#fbe2e4" d="M890.34 1488.43h18.24v18.26h-18.24zM1272.68 1488.43h18.24v18.26h-18.24zM580.83 1543.12h18.24v18.26h-18.24zM617.25 1616.04h18.24v18.26h-18.24zM671.87 1652.50h18.24v18.26h-18.24zM872.14 1743.65h18.24v18.26h-18.24z"/>
<path fill="#8c89ff" d="M908.55 1488.43h18.24v18.26h-18.24zM1054.20 1524.89h18.24v18.26h-18.24zM1036.00 1543.12h18.24v18.26h-18.24zM926.76 1707.19h18.24v18.26h-18.24zM1072.41 1816.57h18.24v18.26h-18.24z"/>
<path fill="#7670ff" d="M926.76 1488.43h18.24v18.26h-18.24zM1017.79 1670.73h18.24v18.26h-18.24zM1072.41 1725.42h18.24v18.26h-18.24zM1090.62 1816.57h18.24v18.26h-18.24z"/>
<path fill="#928fff" d="M944.96 1488.43h18.24v18.26h-18.24zM963.17 1506.66h18.24v18.26h-18.24zM981.38 1561.35h18.24v18.26h-18.24zM1072.41 1561.35h18.24v18.26h-18.24zM1072.41 1616.04h18.24v18.26h-18.24zM963.17 1688.96h18.24v18.26h-18.24zM1054.20 1743.65h18.24v18.26h-18.24z"/>
<path fill="#8d8aff" d="M963.17 1488.43h18.24v18.26h-18.24zM1090.62 1488.43h18.24v18.26h-18.24z"/>
<path fill="#756eff" d="M981.38 1488.43h18.24v18.26h-18.24zM999.58 1506.66h18.24v18.26h-18.24zM1181.65 1561.35h18.24v18.26h-18.24zM926.76 1579.58h18.24v18.26h-18.24z"/>
<path fill="#a8a8ff" d="M999.58 1488.43h18.24v18.26h-18.24zM963.17 1579.58h18.24v18.26h-18.24zM1072.41 1579.58h18.24v18.26h-18.24zM908.55 1616.04h18.24v18.26h-18.24zM1072.41 1707.19h18.24v18.26h-18.24zM1254.47 1816.57h18.24v18.26h-18.24z"/>
<path fill="#9f9dff" d="M1017.79 1488.43h18.24v18.26h-18.24zM908.55 1652.50h18.24v18.26h-18.24z"/>
<path fill="#8b87ff" d="M1036.00 1488.43h18.24v18.26h-18.24zM1017.79 1652.50h18.24v18.26h-18.24zM1054.20 1780.11h18.24v18.26h-18.24z"/>
<path fill="#a4a3ff" d="M1054.20 1488.43h18.24v18.26h-18.24zM1108.82 1543.12h18.24v18.26h-18.24zM1254.47 1652.50h18.24v18.26h-18.24zM999.58 1816.57h18.24v18.26h-18.24z"/>
<path fill="#8a87ff" d="M1072.41 1488.43h18.24v18.26h-18.24zM1090.62 1707.19h18.24v18.26h-18.24z"/>
<path fill="#f8cccf" d="M1127.03 1488.43h18.24v18.26h-18.24zM1181.65 1524.89h18.24v18.26h-18.24zM1145.23 1743.65h18.24v18.26h-18.24zM853.93 1761.88h18.24v18.26h-18.24z"/>
<path fill="#fbe5e6" d="M1145.23 1488.43h18.24v18.26h-18.24z"/>
<path fill="#e6e6ff" d="M1163.44 1488.43h18.24v18.26h-18.24zM1163.44 1506.66h18.24v18.26h-18.24zM1218.06 1506.66h18.24v18.26h-18.24zM526.21 1561.35h18.24v18.26h-18.24zM890.34 1688.96h18.24v18.26h-18.24z"/>
<path fill="#bcbcff" d="M1181.65 1488.43h18.24v18.26h-18.24zM762.90 1670.73h18.24v18.26h-18.24zM908.55 1725.42h18.24v18.26h-18.24zM799.31 1743.65h18.24v18.26h-18.24zM489.80 1780.11h18.24v18.26h-18.24z"/>
<path fill="#b8b8ff" d="M1199.85 1488.43h18.24v18.26h-18.24zM526.21 1543.12h18.24v18.26h-18.24zM1218.06 1634.27h18.24v18.26h-18.24zM944.96 1688.96h18.24v18.26h-18.24zM963.17 1725.42h18.24v18.26h-18.24zM1072.41 1780.11h18.24v18.26h-18.24z"/>
<path fill="#ececff" d="M1236.27 1488.43h18.24v18.26h-18.24zM781.10 1561.35h18.24v18.26h-18.24zM817.52 1561.35h18.24v18.26h-18.24zM1127.03 1761.88h18.24v18.26h-18.24z"/>
<path fill="#e3e3ff" d="M1254.47 1488.43h18.24v18.26h-18.24zM1181.65 1579.58h18.24v18.26h-18.24zM781.10 1688.96h18.24v18.26h-18.24zM635.45 1725.42h18.24v18.26h-18.24zM890.34 1725.42h18.24v18.26h-18.24z"/>
<path fill="#f7c7cb" d="M526.21 1506.66h18.24v18.26h-18.24zM635.45 1506.66h18.24v18.26h-18.24zM690.07 1543.12h18.24v18.26h-18.24zM1272.68 1597.81h18.24v18.26h-18.24zM1272.68 1634.27h18.24v18.26h-18.24zM508.01 1725.42h18.24v18.26h-18.24z"/>
<path fill="#f28a90" d="M544.42 1506.66h18.24v18.26h-18.24zM726.48 1506.66h18.24v18.26h-18.24zM817.52 1506.66h18.24v18.26h-18.24zM508.01 1524.89h18.24v18.26h-18.24zM690.07 1561.35h18.24v18.26h-18.24zM1108.82 1579.58h18.24v18.26h-18.24zM653.66 1634.27h18.24v18.26h-18.24zM781.10 1652.50h18.24v18.26h-18.24zM489.80 1670.73h18.24v18.26h-18.24zM544.42 1707.19h18.24v18.26h-18.24zM580.83 1743.65h18.24v18.26h-18.24zM671.87 1761.88h18.24v18.26h-18.24zM617.25 1816.57h18.24v18.26h-18.24z"/>
<path fill="#f2878d" d="M562.63 1506.66h18.24v18.26h-18.24zM817.52 1634.27h18.24v18.26h-18.24zM835.72 1670.73h18.24v18.26h-18.24zM708.28 1798.34h18.24v18.26h-18.24z"/>
<path fill="#fadddf" d="M653.66 1506.66h18.24v18.26h-18.24z"/>
<path fill="#fbdfe2" d="M690.07 1506.66h18.24v18.26h-18.24zM890.34 1561.35h18.24v18.26h-18.24zM1272.68 1816.57h18.24v18.26h-18.24z"/>
<path fill="#f34e50" d="M708.28 1506.66h18.24v18.26h-18.24zM580.83 1579.58h18.24v18.26h-18.24zM544.42 1597.81h18.24v18.26h-18.24zM580.83 1597.81h18.24v18.26h-18.24z"/>
<path fill="#f2888e" d="M744.69 1506.66h18.24v18.26h-18.24zM781.10 1506.66h18.24v18.26h-18.24zM853.93 1670.73h18.24v18.26h-18.24zM1290.89 1780.11h18.24v18.26h-18.24z"/>
<path fill="#f7c6ca" d="M799.31 1506.66h18.24v18.26h-18.24zM1127.03 1543.12h18.24v18.26h-18.24zM1145.23 1543.12h18.24v18.26h-18.24zM726.48 1561.35h18.24v18.26h-18.24zM1199.85 1561.35h18.24v18.26h-18.24zM708.28 1579.58h18.24v18.26h-18.24zM1199.85 1634.27h18.24v18.26h-18.24zM562.63 1670.73h18.24v18.26h-18.24z"/>
<path fill="#f8c9cd" d="M853.93 1506.66h18.24v18.26h-18.24zM744.69 1543.12h18.24v18.26h-18.24zM1254.47 1616.04h18.24v18.26h-18.24zM726.48 1634.27h18.24v18.26h-18.24zM580.83 1670.73h18.24v18.26h-18.24zM671.87 1725.42h18.24v18.26h-18.24zM599.04 1780.11h18.24v18.26h-18.24zM580.83 1798.34h18.24v18.26h-18.24z"/>
<path fill="#fbe1e3" d="M890.34 1506.66h18.24v18.26h-18.24zM671.87 1688.96h18.24v18.26h-18.24zM1309.09 1798.34h18.24v18.26h-18.24z"/>
<path fill="#a9a9ff" d="M908.55 1506.66h18.24v18.26h-18.24zM1090.62 1524.89h18.24v18.26h-18.24zM944.96 1652.50h18.24v18.26h-18.24zM908.55 1707.19h18.24v18.26h-18.24zM963.17 1761.88h18.24v18.26h-18.24zM1072.41 1761.88h18.24v18.26h-18.24z"/>
<path fill="#a6a5ff" d="M944.96 1506.66h18.24v18.26h-18.24zM944.96 1543.12h18.24v18.26h-18.24zM1017.79 1597.81h18.24v18.26h-18.24zM1054.20 1652.50h18.24v18.26h-18.24zM1199.85 1761.88h18.24v18.26h-18.24zM1017.79 1798.34h18.24v18.26h-18.24z"/>
<path fill="#716bff" d="M981.38 1506.66h18.24v18.26h-18.24z"/>
<path fill="#736cff" d="M1054.20 1506.66h18.24v18.26h-18.24zM1090.62 1634.27h18.24v18.26h-18.24z"/>
<path fill="#746dff" d="M1072.41 1506.66h18.24v18.26h-18.24zM963.17 1524.89h18.24v18.26h-18.24zM1090.62 1616.04h18.24v18.26h-18.24z"/>
<path fill="#8e8aff" d="M1090.62 1506.66h18.24v18.26h-18.24zM908.55 1597.81h18.24v18.26h-18.24z"/>
<path fill="#ceceff" d="M1108.82 1506.66h18.24v18.26h-18.24zM1254.47 1506.66h18.24v18.26h-18.24zM1163.44 1743.65h18.24v18.26h-18.24zM908.55 1780.11h18.24v18.26h-18.24z"/>
<path fill="#d7d7ff" d="M1127.03 1506.66h18.24v18.26h-18.24zM1309.09 1634.27h18.24v18.26h-18.24zM890.34 1798.34h18.24v18.26h-18.24z"/>
<path fill="#e7e7ff" d="M1181.65 1506.66h18.24v18.26h-18.24zM817.52 1579.58h18.24v18.26h-18.24zM835.72 1597.81h18.24v18.26h-18.24zM744.69 1707.19h18.24v18.26h-18.24zM872.14 1707.19h18.24v18.26h-18.24zM1218.06 1725.42h18.24v18.26h-18.24z"/>
<path fill="#b9b9ff" d="M1199.85 1506.66h18.24v18.26h-18.24zM1163.44 1597.81h18.24v18.26h-18.24zM744.69 1616.04h18.24v18.26h-18.24zM1108.82 1634.27h18.24v18.26h-18.24zM963.17 1670.73h18.24v18.26h-18.24zM944.96 1743.65h18.24v18.26h-18.24zM1199.85 1743.65h18.24v18.26h-18.24zM1163.44 1761.88h18.24v18.26h-18.24zM908.55 1816.57h18.24v18.26h-18.24z"/>
<path fill="#fbdee1" d="M1272.68 1506.66h18.24v18.26h-18.24z"/>
<path fill="#f6c1c5" d="M489.80 1524.89h18.24v18.26h-18.24zM599.04 1798.34h18.24v18.26h-18.24zM617.25 1798.34h18.24v18.26h-18.24z"/>
<path fill="#f7c3c7" d="M562.63 1524.89h18.24v18.26h-18.24zM617.25 1543.12h18.24v18.26h-18.24zM671.87 1561.35h18.24v18.26h-18.24zM617.25 1634.27h18.24v18.26h-18.24zM599.04 1688.96h18.24v18.26h-18.24zM726.48 1743.65h18.24v18.26h-18.24zM617.25 1780.11h18.24v18.26h-18.24zM853.93 1798.34h18.24v18.26h-18.24z"/>
<path fill="#f0f0ff" d="M599.04 1524.89h18.24v18.26h-18.24zM1309.09 1652.50h18.24v18.26h-18.24z"/>
<path fill="#f8cdd0" d="M617.25 1524.89h18.24v18.26h-18.24z"/>
<path fill="#f3a2a8" d="M690.07 1524.89h18.24v18.26h-18.24zM508.01 1670.73h18.24v18.26h-18.24zM653.66 1725.42h18.24v18.26h-18.24zM762.90 1743.65h18.24v18.26h-18.24zM489.80 1761.88h18.24v18.26h-18.24zM799.31 1780.11h18.24v18.26h-18.24z"/>
<path fill="#fcedee" d="M708.28 1524.89h18.24v18.26h-18.24zM1236.27 1688.96h18.24v18.26h-18.24z"/>
<path fill="#f17177" d="M726.48 1524.89h18.24v18.26h-18.24zM1290.89 1543.12h18.24v18.26h-18.24zM690.07 1597.81h18.24v18.26h-18.24zM671.87 1670.73h18.24v18.26h-18.24z"/>
<path fill="#fce8ea" d="M744.69 1524.89h18.24v18.26h-18.24zM653.66 1616.04h18.24v18.26h-18.24zM1218.06 1670.73h18.24v18.26h-18.24z"/>
<path fill="#f8cdd1" d="M781.10 1524.89h18.24v18.26h-18.24zM653.66 1579.58h18.24v18.26h-18.24zM580.83 1616.04h18.24v18.26h-18.24zM1163.44 1725.42h18.24v18.26h-18.24z"/>
<path fill="#f8c9cc" d="M853.93 1524.89h18.24v18.26h-18.24z"/>
<path fill="#b4b4ff" d="M890.34 1524.89h18.24v18.26h-18.24zM908.55 1524.89h18.24v18.26h-18.24zM1108.82 1616.04h18.24v18.26h-18.24zM1127.03 1634.27h18.24v18.26h-18.24zM1108.82 1725.42h18.24v18.26h-18.24zM489.80 1743.65h18.24v18.26h-18.24zM926.76 1798.34h18.24v18.26h-18.24z"/>
<path fill="#9491ff" d="M926.76 1524.89h18.24v18.26h-18.24zM926.76 1543.12h18.24v18.26h-18.24zM999.58 1543.12h18.24v18.26h-18.24zM1036.00 1597.81h18.24v18.26h-18.24zM981.38 1743.65h18.24v18.26h-18.24z"/>
<path fill="#a2a1ff" d="M944.96 1524.89h18.24v18.26h-18.24zM1163.44 1707.19h18.24v18.26h-18.24zM1309.09 1707.19h18.24v18.26h-18.24zM963.17 1743.65h18.24v18.26h-18.24zM999.58 1743.65h18.24v18.26h-18.24zM963.17 1798.34h18.24v18.26h-18.24zM999.58 1798.34h18.24v18.26h-18.24z"/>
<path fill="#5a4fff" d="M981.38 1524.89h18.24v18.26h-18.24z"/>
<path fill="#736dff" d="M1017.79 1524.89h18.24v18.26h-18.24zM999.58 1780.11h18.24v18.26h-18.24z"/>
<path fill="#8b88ff" d="M1036.00 1524.89h18.24v18.26h-18.24zM1072.41 1743.65h18.24v18.26h-18.24z"/>
<path fill="#aaaaff" d="M1072.41 1524.89h18.24v18.26h-18.24zM1163.44 1579.58h18.24v18.26h-18.24zM762.90 1616.04h18.24v18.26h-18.24zM926.76 1634.27h18.24v18.26h-18.24zM1072.41 1652.50h18.24v18.26h-18.24zM926.76 1670.73h18.24v18.26h-18.24z"/>
<path fill="#b6b6ff" d="M1108.82 1524.89h18.24v18.26h-18.24zM1108.82 1670.73h18.24v18.26h-18.24zM762.90 1725.42h18.24v18.26h-18.24z"/>
<path fill="#dadaff" d="M1127.03 1524.89h18.24v18.26h-18.24zM908.55 1670.73h18.24v18.26h-18.24zM762.90 1780.11h18.24v18.26h-18.24zM926.76 1780.11h18.24v18.26h-18.24z"/>
<path fill="#a4a4ff" d="M1163.44 1524.89h18.24v18.26h-18.24z"/>
<path fill="#e5e5ff" d="M1236.27 1524.89h18.24v18.26h-18.24zM799.31 1543.12h18.24v18.26h-18.24zM744.69 1561.35h18.24v18.26h-18.24zM489.80 1579.58h18.24v18.26h-18.24zM1290.89 1634.27h18.24v18.26h-18.24zM726.48 1688.96h18.24v18.26h-18.24zM1254.47 1798.34h18.24v18.26h-18.24z"/>
<path fill="#fb2a20" d="M1272.68 1524.89h18.24v18.26h-18.24z"/>
<path fill="#f3a3a9" d="M1290.89 1524.89h18.24v18.26h-18.24zM526.21 1761.88h18.24v18.26h-18.24zM835.72 1816.57h18.24v18.26h-18.24z"/>
<path fill="#f28e94" d="M489.80 1543.12h18.24v18.26h-18.24zM1254.47 1579.58h18.24v18.26h-18.24zM1309.09 1616.04h18.24v18.26h-18.24zM635.45 1707.19h18.24v18.26h-18.24zM1127.03 1707.19h18.24v18.26h-18.24zM580.83 1761.88h18.24v18.26h-18.24zM508.01 1798.34h18.24v18.26h-18.24z"/>
<path fill="#f3a5ab" d="M508.01 1543.12h18.24v18.26h-18.24zM489.80 1634.27h18.24v18.26h-18.24zM708.28 1670.73h18.24v18.26h-18.24zM617.25 1707.19h18.24v18.26h-18.24zM690.07 1707.19h18.24v18.26h-18.24zM690.07 1761.88h18.24v18.26h-18.24zM1290.89 1798.34h18.24v18.26h-18.24z"/>
<path fill="#f1686e" d="M544.42 1543.12h18.24v18.26h-18.24zM1309.09 1561.35h18.24v18.26h-18.24zM1309.09 1780.11h18.24v18.26h-18.24z"/>
<path fill="#f44949" d="M562.63 1543.12h18.24v18.26h-18.24zM599.04 1561.35h18.24v18.26h-18.24zM1218.06 1780.11h18.24v18.26h-18.24z"/>
<path fill="#f4afb4" d="M708.28 1543.12h18.24v18.26h-18.24zM690.07 1725.42h18.24v18.26h-18.24zM1108.82 1780.11h18.24v18.26h-18.24z"/>
<path fill="#f4acb2" d="M726.48 1543.12h18.24v18.26h-18.24zM1127.03 1561.35h18.24v18.26h-18.24zM1145.23 1579.58h18.24v18.26h-18.24zM489.80 1652.50h18.24v18.26h-18.24zM817.52 1743.65h18.24v18.26h-18.24z"/>
<path fill="#f2868c" d="M781.10 1543.12h18.24v18.26h-18.24zM1254.47 1561.35h18.24v18.26h-18.24zM671.87 1597.81h18.24v18.26h-18.24zM526.21 1634.27h18.24v18.26h-18.24zM544.42 1634.27h18.24v18.26h-18.24zM1181.65 1688.96h18.24v18.26h-18.24zM726.48 1816.57h18.24v18.26h-18.24zM853.93 1816.57h18.24v18.26h-18.24z"/>
<path fill="#f8cbcf" d="M817.52 1543.12h18.24v18.26h-18.24zM580.83 1561.35h18.24v18.26h-18.24zM544.42 1616.04h18.24v18.26h-18.24z"/>
<path fill="#fce9eb" d="M835.72 1543.12h18.24v18.26h-18.24zM1254.47 1597.81h18.24v18.26h-18.24zM489.80 1725.42h18.24v18.26h-18.24z"/>
<path fill="#eeeeff" d="M872.14 1543.12h18.24v18.26h-18.24zM835.72 1561.35h18.24v18.26h-18.24zM1127.03 1597.81h18.24v18.26h-18.24zM1145.23 1652.50h18.24v18.26h-18.24zM890.34 1707.19h18.24v18.26h-18.24zM1199.85 1780.11h18.24v18.26h-18.24z"/>
<path fill="#d3d3ff" d="M890.34 1543.12h18.24v18.26h-18.24zM1145.23 1634.27h18.24v18.26h-18.24zM781.10 1670.73h18.24v18.26h-18.24zM1017.79 1707.19h18.24v18.26h-18.24zM1272.68 1743.65h18.24v18.26h-18.24zM908.55 1798.34h18.24v18.26h-18.24z"/>
<path fill="#918eff" d="M908.55 1543.12h18.24v18.26h-18.24zM1036.00 1579.58h18.24v18.26h-18.24zM926.76 1597.81h18.24v18.26h-18.24zM981.38 1634.27h18.24v18.26h-18.24zM1036.00 1670.73h18.24v18.26h-18.24zM1054.20 1688.96h18.24v18.26h-18.24zM1036.00 1798.34h18.24v18.26h-18.24z"/>
<path fill="#a1a0ff" d="M963.17 1543.12h18.24v18.26h-18.24zM1036.00 1561.35h18.24v18.26h-18.24zM1163.44 1561.35h18.24v18.26h-18.24zM944.96 1634.27h18.24v18.26h-18.24zM1036.00 1634.27h18.24v18.26h-18.24zM926.76 1761.88h18.24v18.26h-18.24zM744.69 1780.11h18.24v18.26h-18.24zM1054.20 1798.34h18.24v18.26h-18.24z"/>
<path fill="#716aff" d="M981.38 1543.12h18.24v18.26h-18.24zM1218.06 1543.12h18.24v18.26h-18.24zM981.38 1652.50h18.24v18.26h-18.24zM1017.79 1816.57h18.24v18.26h-18.24z"/>
<path fill="#766fff" d="M1017.79 1543.12h18.24v18.26h-18.24z"/>
<path fill="#bdbdff" d="M1054.20 1543.12h18.24v18.26h-18.24zM526.21 1707.19h18.24v18.26h-18.24zM1290.89 1707.19h18.24v18.26h-18.24zM926.76 1725.42h18.24v18.26h-18.24zM908.55 1761.88h18.24v18.26h-18.24zM999.58 1761.88h18.24v18.26h-18.24z"/>
<path fill="#b5b5ff" d="M1072.41 1543.12h18.24v18.26h-18.24zM1017.79 1616.04h18.24v18.26h-18.24zM1145.23 1725.42h18.24v18.26h-18.24zM1054.20 1761.88h18.24v18.26h-18.24zM1145.23 1798.34h18.24v18.26h-18.24z"/>
<path fill="#9592ff" d="M1090.62 1543.12h18.24v18.26h-18.24z"/>
<path fill="#fce9ea" d="M1236.27 1543.12h18.24v18.26h-18.24zM799.31 1688.96h18.24v18.26h-18.24z"/>
<path fill="#d9d9ff" d="M1254.47 1543.12h18.24v18.26h-18.24zM1090.62 1670.73h18.24v18.26h-18.24zM835.72 1688.96h18.24v18.26h-18.24z"/>
<path fill="#f25255" d="M1272.68 1543.12h18.24v18.26h-18.24z"/>
<path fill="#d8d8ff" d="M489.80 1561.35h18.24v18.26h-18.24zM1290.89 1579.58h18.24v18.26h-18.24zM635.45 1652.50h18.24v18.26h-18.24z"/>
<path fill="#d1d1ff" d="M508.01 1561.35h18.24v18.26h-18.24zM744.69 1597.81h18.24v18.26h-18.24zM890.34 1634.27h18.24v18.26h-18.24zM1199.85 1816.57h18.24v18.26h-18.24z"/>
<path fill="#ebebff" d="M762.90 1561.35h18.24v18.26h-18.24zM890.34 1670.73h18.24v18.26h-18.24zM1309.09 1761.88h18.24v18.26h-18.24zM1290.89 1816.57h18.24v18.26h-18.24z"/>
<path fill="#f3aab0" d="M799.31 1561.35h18.24v18.26h-18.24zM726.48 1652.50h18.24v18.26h-18.24zM526.21 1725.42h18.24v18.26h-18.24zM835.72 1743.65h18.24v18.26h-18.24zM817.52 1761.88h18.24v18.26h-18.24zM526.21 1798.34h18.24v18.26h-18.24z"/>
<path fill="#bbbbff" d="M872.14 1561.35h18.24v18.26h-18.24zM1254.47 1743.65h18.24v18.26h-18.24zM1236.27 1761.88h18.24v18.26h-18.24zM853.93 1780.11h18.24v18.26h-18.24z"/>
<path fill="#a7a6ff" d="M908.55 1561.35h18.24v18.26h-18.24zM999.58 1652.50h18.24v18.26h-18.24zM1108.82 1816.57h18.24v18.26h-18.24z"/>
<path fill="#8f8cff" d="M926.76 1561.35h18.24v18.26h-18.24zM1054.20 1707.19h18.24v18.26h-18.24zM1017.79 1780.11h18.24v18.26h-18.24z"/>
<path fill="#a19fff" d="M963.17 1561.35h18.24v18.26h-18.24z"/>
<path fill="#a09fff" d="M999.58 1561.35h18.24v18.26h-18.24zM1017.79 1579.58h18.24v18.26h-18.24zM526.21 1780.11h18.24v18.26h-18.24zM1072.41 1798.34h18.24v18.26h-18.24z"/>
<path fill="#8e8bff" d="M1054.20 1561.35h18.24v18.26h-18.24zM1054.20 1597.81h18.24v18.26h-18.24zM1036.00 1652.50h18.24v18.26h-18.24zM1036.00 1688.96h18.24v18.26h-18.24zM1036.00 1725.42h18.24v18.26h-18.24zM963.17 1816.57h18.24v18.26h-18.24zM1036.00 1816.57h18.24v18.26h-18.24z"/>
<path fill="#9290ff" d="M1090.62 1561.35h18.24v18.26h-18.24z"/>
<path fill="#f1696f" d="M1108.82 1561.35h18.24v18.26h-18.24zM635.45 1579.58h18.24v18.26h-18.24zM1108.82 1688.96h18.24v18.26h-18.24zM544.42 1743.65h18.24v18.26h-18.24zM690.07 1798.34h18.24v18.26h-18.24z"/>
<path fill="#f16e74" d="M1145.23 1561.35h18.24v18.26h-18.24zM726.48 1725.42h18.24v18.26h-18.24z"/>
<path fill="#f4afb5" d="M1218.06 1561.35h18.24v18.26h-18.24zM799.31 1579.58h18.24v18.26h-18.24zM526.21 1670.73h18.24v18.26h-18.24zM653.66 1707.19h18.24v18.26h-18.24zM781.10 1743.65h18.24v18.26h-18.24z"/>
<path fill="#f29096" d="M544.42 1579.58h18.24v18.26h-18.24z"/>
<path fill="#f28c92" d="M617.25 1579.58h18.24v18.26h-18.24zM562.63 1597.81h18.24v18.26h-18.24zM708.28 1597.81h18.24v18.26h-18.24zM726.48 1616.04h18.24v18.26h-18.24zM890.34 1652.50h18.24v18.26h-18.24zM1272.68 1652.50h18.24v18.26h-18.24zM1272.68 1670.73h18.24v18.26h-18.24zM1290.89 1670.73h18.24v18.26h-18.24zM744.69 1743.65h18.24v18.26h-18.24zM726.48 1761.88h18.24v18.26h-18.24zM781.10 1816.57h18.24v18.26h-18.24z"/>
<path fill="#d0d0ff" d="M744.69 1579.58h18.24v18.26h-18.24zM1145.23 1597.81h18.24v18.26h-18.24zM1181.65 1597.81h18.24v18.26h-18.24zM1236.27 1597.81h18.24v18.26h-18.24zM1145.23 1616.04h18.24v18.26h-18.24zM489.80 1688.96h18.24v18.26h-18.24zM781.10 1798.34h18.24v18.26h-18.24zM872.14 1798.34h18.24v18.26h-18.24z"/>
<path fill="#a9a8ff" d="M1054.20 1579.58h18.24v18.26h-18.24zM1090.62 1688.96h18.24v18.26h-18.24zM1054.20 1725.42h18.24v18.26h-18.24z"/>
<path fill="#8986ff" d="M1090.62 1579.58h18.24v18.26h-18.24zM981.38 1816.57h18.24v18.26h-18.24z"/>
<path fill="#f28b91" d="M1127.03 1579.58h18.24v18.26h-18.24zM872.14 1652.50h18.24v18.26h-18.24zM1309.09 1670.73h18.24v18.26h-18.24zM1145.23 1688.96h18.24v18.26h-18.24zM544.42 1761.88h18.24v18.26h-18.24zM489.80 1816.57h18.24v18.26h-18.24zM708.28 1816.57h18.24v18.26h-18.24z"/>
<path fill="#fbe5e7" d="M1199.85 1579.58h18.24v18.26h-18.24zM817.52 1670.73h18.24v18.26h-18.24zM690.07 1688.96h18.24v18.26h-18.24z"/>
<path fill="#f3a1a7" d="M1236.27 1579.58h18.24v18.26h-18.24zM708.28 1707.19h18.24v18.26h-18.24zM599.04 1761.88h18.24v18.26h-18.24zM562.63 1780.11h18.24v18.26h-18.24z"/>
<path fill="#d4d4ff" d="M1272.68 1579.58h18.24v18.26h-18.24zM762.90 1597.81h18.24v18.26h-18.24zM1309.09 1597.81h18.24v18.26h-18.24zM1145.23 1670.73h18.24v18.26h-18.24z"/>
<path fill="#cdcdff" d="M1309.09 1579.58h18.24v18.26h-18.24zM1218.06 1616.04h18.24v18.26h-18.24zM1236.27 1743.65h18.24v18.26h-18.24z"/>
<path fill="#f8ccd0" d="M526.21 1597.81h18.24v18.26h-18.24zM690.07 1780.11h18.24v18.26h-18.24zM635.45 1798.34h18.24v18.26h-18.24z"/>
<path fill="#f28288" d="M635.45 1597.81h18.24v18.26h-18.24zM835.72 1761.88h18.24v18.26h-18.24z"/>
<path fill="#f16a70" d="M653.66 1597.81h18.24v18.26h-18.24zM562.63 1743.65h18.24v18.26h-18.24zM580.83 1780.11h18.24v18.26h-18.24z"/>
<path fill="#f16d73" d="M726.48 1597.81h18.24v18.26h-18.24z"/>
<path fill="#9f9eff" d="M944.96 1597.81h18.24v18.26h-18.24zM1254.47 1761.88h18.24v18.26h-18.24z"/>
<path fill="#a3a2ff" d="M963.17 1597.81h18.24v18.26h-18.24zM1072.41 1597.81h18.24v18.26h-18.24zM999.58 1616.04h18.24v18.26h-18.24zM926.76 1652.50h18.24v18.26h-18.24zM1090.62 1652.50h18.24v18.26h-18.24zM944.96 1707.19h18.24v18.26h-18.24zM908.55 1743.65h18.24v18.26h-18.24zM1036.00 1743.65h18.24v18.26h-18.24zM944.96 1798.34h18.24v18.26h-18.24z"/>
<path fill="#9391ff" d="M999.58 1597.81h18.24v18.26h-18.24zM1036.00 1616.04h18.24v18.26h-18.24zM999.58 1725.42h18.24v18.26h-18.24z"/>
<path fill="#9390ff" d="M1090.62 1597.81h18.24v18.26h-18.24zM853.93 1634.27h18.24v18.26h-18.24zM999.58 1688.96h18.24v18.26h-18.24zM981.38 1761.88h18.24v18.26h-18.24z"/>
<path fill="#f7c8cc" d="M562.63 1616.04h18.24v18.26h-18.24zM635.45 1634.27h18.24v18.26h-18.24zM1254.47 1634.27h18.24v18.26h-18.24zM671.87 1798.34h18.24v18.26h-18.24z"/>
<path fill="#fcecee" d="M671.87 1616.04h18.24v18.26h-18.24zM799.31 1634.27h18.24v18.26h-18.24zM1236.27 1707.19h18.24v18.26h-18.24z"/>
<path fill="#f17278" d="M708.28 1616.04h18.24v18.26h-18.24zM1181.65 1616.04h18.24v18.26h-18.24zM1218.06 1688.96h18.24v18.26h-18.24zM1108.82 1707.19h18.24v18.26h-18.24zM508.01 1761.88h18.24v18.26h-18.24z"/>
<path fill="#fceaec" d="M835.72 1616.04h18.24v18.26h-18.24zM1236.27 1634.27h18.24v18.26h-18.24zM635.45 1670.73h18.24v18.26h-18.24z"/>
<path fill="#dbdbff" d="M853.93 1616.04h18.24v18.26h-18.24zM1127.03 1652.50h18.24v18.26h-18.24zM1054.20 1816.57h18.24v18.26h-18.24z"/>
<path fill="#c1c1ff" d="M944.96 1616.04h18.24v18.26h-18.24zM1017.79 1634.27h18.24v18.26h-18.24zM744.69 1688.96h18.24v18.26h-18.24zM762.90 1688.96h18.24v18.26h-18.24zM1036.00 1780.11h18.24v18.26h-18.24z"/>
<path fill="#8985ff" d="M963.17 1616.04h18.24v18.26h-18.24z"/>
<path fill="#8d89ff" d="M981.38 1616.04h18.24v18.26h-18.24zM944.96 1670.73h18.24v18.26h-18.24zM999.58 1670.73h18.24v18.26h-18.24z"/>
<path fill="#a2a2ff" d="M1054.20 1616.04h18.24v18.26h-18.24zM1163.44 1634.27h18.24v18.26h-18.24zM926.76 1688.96h18.24v18.26h-18.24z"/>
<path fill="#f34c4d" d="M1199.85 1616.04h18.24v18.26h-18.24z"/>
<path fill="#f16f75" d="M1272.68 1616.04h18.24v18.26h-18.24zM817.52 1725.42h18.24v18.26h-18.24z"/>
<path fill="#f34d4e" d="M1290.89 1616.04h18.24v18.26h-18.24z"/>
<path fill="#f4adb2" d="M580.83 1634.27h18.24v18.26h-18.24zM1290.89 1725.42h18.24v18.26h-18.24z"/>
<path fill="#f3abb1" d="M599.04 1634.27h18.24v18.26h-18.24zM708.28 1634.27h18.24v18.26h-18.24zM781.10 1761.88h18.24v18.26h-18.24zM508.01 1816.57h18.24v18.26h-18.24z"/>
<path fill="#f28d93" d="M690.07 1634.27h18.24v18.26h-18.24zM653.66 1670.73h18.24v18.26h-18.24zM726.48 1670.73h18.24v18.26h-18.24zM1199.85 1688.96h18.24v18.26h-18.24zM708.28 1725.42h18.24v18.26h-18.24zM653.66 1761.88h18.24v18.26h-18.24zM653.66 1798.34h18.24v18.26h-18.24zM744.69 1816.57h18.24v18.26h-18.24z"/>
<path fill="#f28f95" d="M781.10 1634.27h18.24v18.26h-18.24zM544.42 1688.96h18.24v18.26h-18.24zM562.63 1725.42h18.24v18.26h-18.24z"/>
<path fill="#c2c2ff" d="M872.14 1634.27h18.24v18.26h-18.24zM1072.41 1670.73h18.24v18.26h-18.24zM508.01 1780.11h18.24v18.26h-18.24z"/>
<path fill="#a6a6ff" d="M1054.20 1634.27h18.24v18.26h-18.24zM1072.41 1688.96h18.24v18.26h-18.24zM926.76 1743.65h18.24v18.26h-18.24zM944.96 1761.88h18.24v18.26h-18.24zM1090.62 1780.11h18.24v18.26h-18.24z"/>
<path fill="#6f68ff" d="M1072.41 1634.27h18.24v18.26h-18.24z"/>
<path fill="#fcebed" d="M508.01 1652.50h18.24v18.26h-18.24z"/>
<path fill="#f7c8cb" d="M544.42 1652.50h18.24v18.26h-18.24z"/>
<path fill="#fbe4e5" d="M580.83 1652.50h18.24v18.26h-18.24z"/>
<path fill="#f7c7ca" d="M817.52 1652.50h18.24v18.26h-18.24z"/>
<path fill="#f16c72" d="M835.72 1652.50h18.24v18.26h-18.24z"/>
<path fill="#a5a5ff" d="M963.17 1652.50h18.24v18.26h-18.24zM1036.00 1761.88h18.24v18.26h-18.24z"/>
<path fill="#756fff" d="M1181.65 1652.50h18.24v18.26h-18.24z"/>
<path fill="#a3a3ff" d="M1236.27 1652.50h18.24v18.26h-18.24zM1145.23 1816.57h18.24v18.26h-18.24z"/>
<path fill="#f17379" d="M544.42 1670.73h18.24v18.26h-18.24zM1127.03 1688.96h18.24v18.26h-18.24zM544.42 1798.34h18.24v18.26h-18.24z"/>
<path fill="#f8ced2" d="M744.69 1670.73h18.24v18.26h-18.24z"/>
<path fill="#574bff" d="M1054.20 1670.73h18.24v18.26h-18.24z"/>
<path fill="#908cff" d="M1163.44 1670.73h18.24v18.26h-18.24z"/>
<path fill="#bfbfff" d="M1236.27 1670.73h18.24v18.26h-18.24z"/>
<path fill="#fb2b21" d="M580.83 1688.96h18.24v18.26h-18.24z"/>
<path fill="#fce6e7" d="M653.66 1688.96h18.24v18.26h-18.24zM1290.89 1761.88h18.24v18.26h-18.24z"/>
<path fill="#ededff" d="M872.14 1688.96h18.24v18.26h-18.24zM489.80 1707.19h18.24v18.26h-18.24z"/>
<path fill="#e9e9ff" d="M508.01 1707.19h18.24v18.26h-18.24zM835.72 1707.19h18.24v18.26h-18.24zM1145.23 1761.88h18.24v18.26h-18.24zM1218.06 1816.57h18.24v18.26h-18.24z"/>
<path fill="#f28389" d="M562.63 1707.19h18.24v18.26h-18.24zM726.48 1798.34h18.24v18.26h-18.24z"/>
<path fill="#fc261b" d="M799.31 1707.19h18.24v18.26h-18.24z"/>
<path fill="#7771ff" d="M981.38 1707.19h18.24v18.26h-18.24z"/>
<path fill="#7974ff" d="M999.58 1707.19h18.24v18.26h-18.24z"/>
<path fill="#f3a8ae" d="M1181.65 1707.19h18.24v18.26h-18.24zM799.31 1725.42h18.24v18.26h-18.24zM544.42 1780.11h18.24v18.26h-18.24zM671.87 1816.57h18.24v18.26h-18.24z"/>
<path fill="#f4aeb4" d="M1199.85 1707.19h18.24v18.26h-18.24zM671.87 1743.65h18.24v18.26h-18.24z"/>
<path fill="#c3c3ff" d="M744.69 1725.42h18.24v18.26h-18.24z"/>
<path fill="#fc281d" d="M853.93 1725.42h18.24v18.26h-18.24z"/>
<path fill="#7973ff" d="M981.38 1725.42h18.24v18.26h-18.24z"/>
<path fill="#f7c2c7" d="M1199.85 1725.42h18.24v18.26h-18.24z"/>
<path fill="#c0c0ff" d="M526.21 1743.65h18.24v18.26h-18.24z"/>
<path fill="#f6bfc4" d="M690.07 1743.65h18.24v18.26h-18.24zM635.45 1761.88h18.24v18.26h-18.24zM762.90 1761.88h18.24v18.26h-18.24z"/>
<path fill="#f3aaaf" d="M708.28 1743.65h18.24v18.26h-18.24z"/>
<path fill="#a8a7ff" d="M1090.62 1743.65h18.24v18.26h-18.24zM926.76 1816.57h18.24v18.26h-18.24z"/>
<path fill="#f34b4c" d="M1127.03 1743.65h18.24v18.26h-18.24z"/>
<path fill="#babaff" d="M1218.06 1743.65h18.24v18.26h-18.24zM1108.82 1761.88h18.24v18.26h-18.24zM1108.82 1798.34h18.24v18.26h-18.24z"/>
<path fill="#fce8e9" d="M1290.89 1743.65h18.24v18.26h-18.24z"/>
<path fill="#b7b7ff" d="M1181.65 1761.88h18.24v18.26h-18.24zM1181.65 1780.11h18.24v18.26h-18.24zM1127.03 1816.57h18.24v18.26h-18.24z"/>
<path fill="#fce6e8" d="M653.66 1780.11h18.24v18.26h-18.24zM580.83 1816.57h18.24v18.26h-18.24z"/>
<path fill="#f0676d" d="M708.28 1780.11h18.24v18.26h-18.24zM1272.68 1798.34h18.24v18.26h-18.24z"/>
<path fill="#f1f1ff" d="M890.34 1780.11h18.24v18.26h-18.24z"/>
<path fill="#584dff" d="M981.38 1780.11h18.24v18.26h-18.24z"/>
<path fill="#f3a6ac" d="M799.31 1798.34h18.24v18.26h-18.24zM562.63 1816.57h18.24v18.26h-18.24z"/>
<path fill="#564bff" d="M981.38 1798.34h18.24v18.26h-18.24z"/>
<path fill="#f1676d" d="M890.34 1816.57h18.24v18.26h-18.24z"/>
<path fill="#7873ff" d="M1181.65 1816.57h18.24v18.26h-18.24z"/>
</g>
<text x="1330.5" y="1487.3" font-family='"Liberation Mono", "Courier New", monospace' font-size="17.70" font-weight="normal" text-anchor="start" stroke="#000" stroke-width="0.28">MKI67</text>
<text x="1330.5" y="1505.6" font-family='"Liberation Mono", "Courier New", monospace' font-size="17.70" font-weight="normal" text-anchor="start" stroke="#000" stroke-width="0.28">PCDH18</text>
<text x="1330.5" y="1523.8" font-family='"Liberation Mono", "Courier New", monospace' font-size="17.70" font-weight="normal" text-anchor="start" stroke="#000" stroke-width="0.28">E2F7</text>
<text x="1330.5" y="1542.0" font-family='"Liberation Mono", "Courier New", monospace' font-size="17.70" font-weight="normal" text-anchor="start" stroke="#000" stroke-width="0.28">AJUBA</text>
<text x="1330.5" y="1560.2" font-family='"Liberation Mono", "Courier New", monospace' font-size="17.70" font-weight="normal" text-anchor="start" stroke="#000" stroke-width="0.28">PDLIM5</text>
<text x="1330.5" y="1578.5" font-family='"Liberation Mono", "Courier New", monospace' font-size="17.70" font-weight="normal" text-anchor="start" stroke="#000" stroke-width="0.28">SMAD6</text>
<text x="1330.5" y="1596.7" font-family='"Liberation Mono", "Courier New", monospace' font-size="17.70" font-weight="normal" text-anchor="start" stroke="#000" stroke-width="0.28">NID1</text>
<text x="1330.5" y="1614.9" font-family='"Liberation Mono", "Courier New", monospace' font-size="17.70" font-weight="normal" text-anchor="start" stroke="#000" stroke-width="0.28">EMP2</text>
<text x="1330.5" y="1633.2" font-family='"Liberation Mono", "Courier New", monospace' font-size="17.70" font-weight="normal" text-anchor="start" stroke="#000" stroke-width="0.28">CCND1</text>
<text x="1330.5" y="1651.4" font-family='"Liberation Mono", "Courier New", monospace' font-size="17.70" font-weight="normal" text-anchor="start" stroke="#000" stroke-width="0.28">STRIP2</text>
<text x="1330.5" y="1669.6" font-family='"Liberation Mono", "Courier New", monospace' font-size="17.70" font-weight="normal" text-anchor="start" stroke="#000" stroke-width="0.28">PLAG1</text>
<text x="1330.5" y="1687.9" font-family='"Liberation Mono", "Courier New", monospace' font-size="17.70" font-weight="normal" text-anchor="start" stroke="#000" stroke-width="0.28">NET1</text>
<text x="1330.5" y="1706.1" font-family='"Liberation Mono", "Courier New", monospace' font-size="17.70" font-weight="normal" text-anchor="start" stroke="#000" stroke-width="0.28">JCAD</text>
<text x="1330.5" y="1724.3" font-family='"Liberation Mono", "Courier New", monospace' font-size="17.70" font-weight="normal" text-anchor="start" stroke="#000" stroke-width="0.28">COL4A5</text>
<text x="1330.5" y="1742.6" font-family='"Liberation Mono", "Courier New", monospace' font-size="17.70" font-weight="normal" text-anchor="start" stroke="#000" stroke-width="0.28">PRC1</text>
<text x="1330.5" y="1760.8" font-family='"Liberation Mono", "Courier New", monospace' font-size="17.70" font-weight="normal" text-anchor="start" stroke="#000" stroke-width="0.28">ITGA1</text>
<text x="1330.5" y="1779.0" font-family='"Liberation Mono", "Courier New", monospace' font-size="17.70" font-weight="normal" text-anchor="start" stroke="#000" stroke-width="0.28">MAP7D3</text>
<text x="1330.5" y="1797.2" font-family='"Liberation Mono", "Courier New", monospace' font-size="17.70" font-weight="normal" text-anchor="start" stroke="#000" stroke-width="0.28">NBPF10</text>
<text x="1330.5" y="1815.5" font-family='"Liberation Mono", "Courier New", monospace' font-size="17.70" font-weight="normal" text-anchor="start" stroke="#000" stroke-width="0.28">HAUS4</text>
<text x="1330.5" y="1833.7" font-family='"Liberation Mono", "Courier New", monospace' font-size="17.70" font-weight="normal" text-anchor="start" stroke="#000" stroke-width="0.28">C5orf3</text>
<rect x="492.1" y="1382.7" width="836.4" height="85.8" fill="#fff" stroke="#000" stroke-width="1.6"/>
<line x1="545.4" y1="1382.7" x2="545.4" y2="1468.5" stroke="#000" stroke-width="1.6"/>
<line x1="599.3" y1="1382.7" x2="599.3" y2="1468.5" stroke="#000" stroke-width="1.6"/>
<line x1="653.3" y1="1382.7" x2="653.3" y2="1468.5" stroke="#000" stroke-width="1.6"/>
<line x1="707.2" y1="1382.7" x2="707.2" y2="1468.5" stroke="#000" stroke-width="1.6"/>
<line x1="747.5" y1="1382.7" x2="747.5" y2="1468.5" stroke="#000" stroke-width="1.6"/>
<line x1="801.4" y1="1382.7" x2="801.4" y2="1468.5" stroke="#000" stroke-width="1.6"/>
<line x1="856.0" y1="1382.7" x2="856.0" y2="1468.5" stroke="#000" stroke-width="1.6"/>
<line x1="910.0" y1="1382.7" x2="910.0" y2="1468.5" stroke="#000" stroke-width="1.6"/>
<line x1="963.9" y1="1382.7" x2="963.9" y2="1468.5" stroke="#000" stroke-width="1.6"/>
<line x1="1004.2" y1="1382.7" x2="1004.2" y2="1468.5" stroke="#000" stroke-width="1.6"/>
<line x1="1058.1" y1="1382.7" x2="1058.1" y2="1468.5" stroke="#000" stroke-width="1.6"/>
<line x1="1112.1" y1="1382.7" x2="1112.1" y2="1468.5" stroke="#000" stroke-width="1.6"/>
<line x1="1165.4" y1="1382.7" x2="1165.4" y2="1468.5" stroke="#000" stroke-width="1.6"/>
<line x1="1219.3" y1="1382.7" x2="1219.3" y2="1468.5" stroke="#000" stroke-width="1.6"/>
<line x1="1273.3" y1="1382.7" x2="1273.3" y2="1468.5" stroke="#000" stroke-width="1.6"/>
<text transform="translate(527.2,1462.2) rotate(-90)" font-family='"Liberation Sans", Arial, sans-serif' font-size="18.70" font-weight="normal" text-anchor="start" >H9</text>
<text transform="translate(574.0,1462.2) rotate(-90)" font-family='"Liberation Sans", Arial, sans-serif' font-size="18.70" font-weight="normal" text-anchor="start" >is070a</text>
<text transform="translate(628.6,1462.2) rotate(-90)" font-family='"Liberation Sans", Arial, sans-serif' font-size="18.70" font-weight="normal" text-anchor="start" >i70b</text>
<text transform="translate(682.5,1462.2) rotate(-90)" font-family='"Liberation Sans", Arial, sans-serif' font-size="18.70" font-weight="normal" text-anchor="start" >i173b</text>
<text transform="translate(731.3,1462.2) rotate(-90)" font-family='"Liberation Sans", Arial, sans-serif' font-size="18.70" font-weight="normal" text-anchor="start" >H9</text>
<text transform="translate(778.7,1462.2) rotate(-90)" font-family='"Liberation Sans", Arial, sans-serif' font-size="18.70" font-weight="normal" text-anchor="start" >is070a</text>
<text transform="translate(832.0,1462.2) rotate(-90)" font-family='"Liberation Sans", Arial, sans-serif' font-size="18.70" font-weight="normal" text-anchor="start" >i70b</text>
<text transform="translate(885.9,1462.2) rotate(-90)" font-family='"Liberation Sans", Arial, sans-serif' font-size="18.70" font-weight="normal" text-anchor="start" >i173b</text>
<text transform="translate(947.7,1462.2) rotate(-90)" font-family='"Liberation Sans", Arial, sans-serif' font-size="18.70" font-weight="normal" text-anchor="start" >H9</text>
<text transform="translate(991.2,1462.2) rotate(-90)" font-family='"Liberation Sans", Arial, sans-serif' font-size="18.70" font-weight="normal" text-anchor="start" >is070a</text>
<text transform="translate(1032.8,1462.2) rotate(-90)" font-family='"Liberation Sans", Arial, sans-serif' font-size="18.70" font-weight="normal" text-anchor="start" >i70b</text>
<text transform="translate(1086.1,1462.2) rotate(-90)" font-family='"Liberation Sans", Arial, sans-serif' font-size="18.70" font-weight="normal" text-anchor="start" >i173b</text>
<text transform="translate(1145.9,1462.2) rotate(-90)" font-family='"Liberation Sans", Arial, sans-serif' font-size="18.70" font-weight="normal" text-anchor="start" >H9</text>
<text transform="translate(1196.6,1462.2) rotate(-90)" font-family='"Liberation Sans", Arial, sans-serif' font-size="18.70" font-weight="normal" text-anchor="start" >is070a</text>
<text transform="translate(1247.9,1462.2) rotate(-90)" font-family='"Liberation Sans", Arial, sans-serif' font-size="18.70" font-weight="normal" text-anchor="start" >i70b</text>
<text transform="translate(1303.8,1462.2) rotate(-90)" font-family='"Liberation Sans", Arial, sans-serif' font-size="18.70" font-weight="normal" text-anchor="start" >i173b</text>
<line x1="494.7" y1="1367.0" x2="694.2" y2="1367.0" stroke="#000" stroke-width="2.7"/>
<text x="600.6" y="1355.4" font-family='"Liberation Sans", Arial, sans-serif' font-size="25.20" font-weight="bold" text-anchor="middle" >D0</text>
<line x1="712.4" y1="1367.0" x2="899.6" y2="1367.0" stroke="#000" stroke-width="2.7"/>
<text x="801.4" y="1355.4" font-family='"Liberation Sans", Arial, sans-serif' font-size="25.20" font-weight="bold" text-anchor="middle" >D13</text>
<line x1="913.9" y1="1367.0" x2="1105.6" y2="1367.0" stroke="#000" stroke-width="2.7"/>
<text x="1004.9" y="1355.4" font-family='"Liberation Sans", Arial, sans-serif' font-size="25.20" font-weight="bold" text-anchor="middle" >D20</text>
<line x1="1120.5" y1="1367.0" x2="1320.0" y2="1367.0" stroke="#000" stroke-width="2.7"/>
<text x="1221.9" y="1355.4" font-family='"Liberation Sans", Arial, sans-serif' font-size="25.20" font-weight="bold" text-anchor="middle" >D35</text>
<text x="868.7" y="1285.2" font-family='"Liberation Sans", Arial, sans-serif' font-size="36.00" font-weight="bold" text-anchor="middle" >Downregulated in D20 only</text>
<rect x="1410.3" y="1302.1" width="70.3" height="145.6" fill="#eceeed"/>
<rect x="1390.1" y="1302.10" width="20.2" height="20.44" fill="#1f00ff" shape-rendering="crispEdges"/>
<text x="1411.1" y="1325.6" font-family='"Liberation Sans", Arial, sans-serif' font-size="20.00" font-weight="normal" text-anchor="start" >-3.00</text>
<rect x="1390.1" y="1322.24" width="20.2" height="20.44" fill="#6655ff" shape-rendering="crispEdges"/>
<text x="1411.1" y="1345.8" font-family='"Liberation Sans", Arial, sans-serif' font-size="20.00" font-weight="normal" text-anchor="start" >-2.00</text>
<rect x="1390.1" y="1342.39" width="20.2" height="20.44" fill="#aaaaff" shape-rendering="crispEdges"/>
<text x="1411.1" y="1365.9" font-family='"Liberation Sans", Arial, sans-serif' font-size="20.00" font-weight="normal" text-anchor="start" >-1.00</text>
<rect x="1390.1" y="1362.53" width="20.2" height="20.44" fill="#ffffff" shape-rendering="crispEdges"/>
<text x="1411.1" y="1386.0" font-family='"Liberation Sans", Arial, sans-serif' font-size="20.00" font-weight="normal" text-anchor="start" >0.00</text>
<rect x="1390.1" y="1382.67" width="20.2" height="20.44" fill="#f3a8ae" shape-rendering="crispEdges"/>
<text x="1411.1" y="1406.2" font-family='"Liberation Sans", Arial, sans-serif' font-size="20.00" font-weight="normal" text-anchor="start" >1.00</text>
<rect x="1390.1" y="1402.81" width="20.2" height="20.44" fill="#f0585e" shape-rendering="crispEdges"/>
<text x="1411.1" y="1426.3" font-family='"Liberation Sans", Arial, sans-serif' font-size="20.00" font-weight="normal" text-anchor="start" >2.00</text>
<rect x="1390.1" y="1422.96" width="20.2" height="20.44" fill="#ff1a0a" shape-rendering="crispEdges"/>
<text x="1411.1" y="1446.5" font-family='"Liberation Sans", Arial, sans-serif' font-size="20.00" font-weight="normal" text-anchor="start" >3.00</text>
<line x1="426.8" y1="1355.1" x2="488.8" y2="1467.2" stroke="#555" stroke-width="0.9"/>
<line x1="426.8" y1="1375.3" x2="488.8" y2="1834.8" stroke="#555" stroke-width="0.9"/>
<filter id="blurF" x="-5%" y="-5%" width="110%" height="110%"><feGaussianBlur stdDeviation="0.55"/></filter>
<g filter="url(#blurF)">
<path fill="#fce9eb" d="M328.9 2077.5h2.1v2.1h-2.1zM338.8 2077.5h2.1v2.1h-2.1zM386.3 2077.5h2.1v2.1h-2.1zM392.2 2077.5h2.1v2.1h-2.1zM354.6 2079.5h2.1v2.1h-2.1zM356.6 2079.5h2.1v2.1h-2.1zM364.5 2079.5h2.1v2.1h-2.1zM376.4 2079.5h2.1v2.1h-2.1zM386.3 2079.5h2.1v2.1h-2.1zM350.7 2081.4h2.1v2.1h-2.1zM356.6 2081.4h2.1v2.1h-2.1zM392.2 2081.4h2.1v2.1h-2.1zM336.8 2083.4h2.1v2.1h-2.1zM338.8 2083.4h2.1v2.1h-2.1zM368.5 2083.4h2.1v2.1h-2.1zM376.4 2083.4h2.1v2.1h-2.1zM382.3 2083.4h2.1v2.1h-2.1zM394.2 2083.4h2.1v2.1h-2.1zM328.9 2085.3h2.1v2.1h-2.1zM332.9 2085.3h2.1v2.1h-2.1zM378.4 2085.3h2.1v2.1h-2.1zM384.3 2085.3h2.1v2.1h-2.1zM338.8 2087.3h2.1v2.1h-2.1zM386.3 2087.3h2.1v2.1h-2.1zM390.2 2087.3h2.1v2.1h-2.1zM334.8 2089.2h2.1v2.1h-2.1zM358.6 2089.2h2.1v2.1h-2.1zM374.4 2089.2h2.1v2.1h-2.1zM382.3 2089.2h2.1v2.1h-2.1zM356.6 2091.2h2.1v2.1h-2.1zM374.4 2091.2h2.1v2.1h-2.1zM392.2 2091.2h2.1v2.1h-2.1zM340.8 2093.1h2.1v2.1h-2.1zM378.4 2093.1h2.1v2.1h-2.1zM354.6 2095.1h2.1v2.1h-2.1zM366.5 2095.1h2.1v2.1h-2.1zM372.4 2095.1h2.1v2.1h-2.1zM380.3 2095.1h2.1v2.1h-2.1zM342.7 2097.0h2.1v2.1h-2.1zM352.6 2097.0h2.1v2.1h-2.1zM366.5 2097.0h2.1v2.1h-2.1zM378.4 2097.0h2.1v2.1h-2.1zM382.3 2097.0h2.1v2.1h-2.1zM342.7 2099.0h2.1v2.1h-2.1zM358.6 2100.9h2.1v2.1h-2.1zM360.6 2100.9h2.1v2.1h-2.1zM364.5 2100.9h2.1v2.1h-2.1zM336.8 2102.9h2.1v2.1h-2.1zM358.6 2102.9h2.1v2.1h-2.1zM372.4 2102.9h2.1v2.1h-2.1zM374.4 2102.9h2.1v2.1h-2.1zM415.9 2102.9h2.1v2.1h-2.1zM378.4 2104.8h2.1v2.1h-2.1zM380.3 2104.8h2.1v2.1h-2.1zM350.7 2106.8h2.1v2.1h-2.1zM354.6 2106.8h2.1v2.1h-2.1zM364.5 2108.7h2.1v2.1h-2.1zM388.2 2108.7h2.1v2.1h-2.1zM394.2 2108.7h2.1v2.1h-2.1zM344.7 2110.7h2.1v2.1h-2.1zM372.4 2110.7h2.1v2.1h-2.1zM370.4 2114.6h2.1v2.1h-2.1zM376.4 2114.6h2.1v2.1h-2.1zM378.4 2114.6h2.1v2.1h-2.1zM382.3 2114.6h2.1v2.1h-2.1zM342.7 2116.5h2.1v2.1h-2.1zM360.6 2116.5h2.1v2.1h-2.1zM366.5 2116.5h2.1v2.1h-2.1zM378.4 2116.5h2.1v2.1h-2.1zM342.7 2118.5h2.1v2.1h-2.1zM348.7 2118.5h2.1v2.1h-2.1zM354.6 2118.5h2.1v2.1h-2.1zM358.6 2118.5h2.1v2.1h-2.1zM366.5 2118.5h2.1v2.1h-2.1zM392.2 2118.5h2.1v2.1h-2.1zM414.0 2118.5h2.1v2.1h-2.1zM346.7 2120.4h2.1v2.1h-2.1zM352.6 2120.4h2.1v2.1h-2.1zM368.5 2120.4h2.1v2.1h-2.1zM372.4 2120.4h2.1v2.1h-2.1zM362.5 2122.4h2.1v2.1h-2.1zM374.4 2122.4h2.1v2.1h-2.1zM386.3 2122.4h2.1v2.1h-2.1zM328.9 2124.3h2.1v2.1h-2.1zM364.5 2124.3h2.1v2.1h-2.1zM378.4 2124.3h2.1v2.1h-2.1zM388.2 2124.3h2.1v2.1h-2.1zM328.9 2126.3h2.1v2.1h-2.1zM330.9 2126.3h2.1v2.1h-2.1zM332.9 2126.3h2.1v2.1h-2.1zM344.7 2126.3h2.1v2.1h-2.1zM352.6 2126.3h2.1v2.1h-2.1zM354.6 2126.3h2.1v2.1h-2.1zM362.5 2128.2h2.1v2.1h-2.1zM382.3 2128.2h2.1v2.1h-2.1zM362.5 2130.2h2.1v2.1h-2.1zM368.5 2130.2h2.1v2.1h-2.1zM388.2 2130.2h2.1v2.1h-2.1zM350.7 2132.1h2.1v2.1h-2.1zM368.5 2132.1h2.1v2.1h-2.1zM388.2 2132.1h2.1v2.1h-2.1zM344.7 2134.1h2.1v2.1h-2.1zM366.5 2134.1h2.1v2.1h-2.1zM386.3 2134.1h2.1v2.1h-2.1zM394.2 2134.1h2.1v2.1h-2.1zM356.6 2136.0h2.1v2.1h-2.1zM368.5 2136.0h2.1v2.1h-2.1zM370.4 2136.0h2.1v2.1h-2.1zM380.3 2136.0h2.1v2.1h-2.1zM414.0 2136.0h2.1v2.1h-2.1zM332.9 2138.0h2.1v2.1h-2.1zM352.6 2138.0h2.1v2.1h-2.1zM360.6 2138.0h2.1v2.1h-2.1zM378.4 2138.0h2.1v2.1h-2.1zM380.3 2138.0h2.1v2.1h-2.1zM338.8 2139.9h2.1v2.1h-2.1zM354.6 2139.9h2.1v2.1h-2.1zM334.8 2141.9h2.1v2.1h-2.1zM342.7 2141.9h2.1v2.1h-2.1zM346.7 2141.9h2.1v2.1h-2.1zM348.7 2141.9h2.1v2.1h-2.1zM352.6 2141.9h2.1v2.1h-2.1zM364.5 2145.8h2.1v2.1h-2.1zM376.4 2145.8h2.1v2.1h-2.1zM394.2 2145.8h2.1v2.1h-2.1zM372.4 2147.8h2.1v2.1h-2.1zM374.4 2147.8h2.1v2.1h-2.1zM376.4 2147.8h2.1v2.1h-2.1zM334.8 2149.7h2.1v2.1h-2.1zM346.7 2149.7h2.1v2.1h-2.1zM386.3 2149.7h2.1v2.1h-2.1zM328.9 2151.7h2.1v2.1h-2.1zM336.8 2151.7h2.1v2.1h-2.1zM368.5 2151.7h2.1v2.1h-2.1zM374.4 2151.7h2.1v2.1h-2.1zM344.7 2153.6h2.1v2.1h-2.1zM372.4 2153.6h2.1v2.1h-2.1zM380.3 2153.6h2.1v2.1h-2.1zM360.6 2155.6h2.1v2.1h-2.1zM376.4 2155.6h2.1v2.1h-2.1zM380.3 2155.6h2.1v2.1h-2.1zM374.4 2157.5h2.1v2.1h-2.1zM392.2 2157.5h2.1v2.1h-2.1zM348.7 2159.5h2.1v2.1h-2.1zM350.7 2159.5h2.1v2.1h-2.1zM352.6 2159.5h2.1v2.1h-2.1zM330.9 2161.4h2.1v2.1h-2.1zM336.8 2161.4h2.1v2.1h-2.1zM358.6 2161.4h2.1v2.1h-2.1zM390.2 2161.4h2.1v2.1h-2.1zM344.7 2163.4h2.1v2.1h-2.1zM384.3 2163.4h2.1v2.1h-2.1zM386.3 2163.4h2.1v2.1h-2.1zM394.2 2163.4h2.1v2.1h-2.1zM328.9 2165.3h2.1v2.1h-2.1zM330.9 2165.3h2.1v2.1h-2.1zM348.7 2165.3h2.1v2.1h-2.1zM388.2 2165.3h2.1v2.1h-2.1zM358.6 2167.3h2.1v2.1h-2.1zM374.4 2167.3h2.1v2.1h-2.1zM380.3 2167.3h2.1v2.1h-2.1zM360.6 2169.2h2.1v2.1h-2.1zM364.5 2169.2h2.1v2.1h-2.1zM384.3 2169.2h2.1v2.1h-2.1zM386.3 2169.2h2.1v2.1h-2.1zM356.6 2171.2h2.1v2.1h-2.1zM346.7 2173.1h2.1v2.1h-2.1zM358.6 2173.1h2.1v2.1h-2.1zM360.6 2173.1h2.1v2.1h-2.1zM380.3 2173.1h2.1v2.1h-2.1zM415.9 2173.1h2.1v2.1h-2.1zM334.8 2177.0h2.1v2.1h-2.1zM356.6 2177.0h2.1v2.1h-2.1zM368.5 2177.0h2.1v2.1h-2.1zM392.2 2177.0h2.1v2.1h-2.1zM340.8 2179.0h2.1v2.1h-2.1zM380.3 2179.0h2.1v2.1h-2.1zM390.2 2179.0h2.1v2.1h-2.1zM332.9 2180.9h2.1v2.1h-2.1zM376.4 2180.9h2.1v2.1h-2.1zM386.3 2180.9h2.1v2.1h-2.1zM392.2 2180.9h2.1v2.1h-2.1zM346.7 2182.9h2.1v2.1h-2.1zM382.3 2182.9h2.1v2.1h-2.1zM388.2 2182.9h2.1v2.1h-2.1zM346.7 2184.8h2.1v2.1h-2.1zM352.6 2184.8h2.1v2.1h-2.1zM346.7 2186.8h2.1v2.1h-2.1zM354.6 2186.8h2.1v2.1h-2.1zM356.6 2186.8h2.1v2.1h-2.1zM368.5 2186.8h2.1v2.1h-2.1zM374.4 2186.8h2.1v2.1h-2.1zM380.3 2186.8h2.1v2.1h-2.1zM382.3 2186.8h2.1v2.1h-2.1zM350.7 2188.7h2.1v2.1h-2.1zM374.4 2188.7h2.1v2.1h-2.1zM382.3 2188.7h2.1v2.1h-2.1zM388.2 2188.7h2.1v2.1h-2.1zM414.0 2188.7h2.1v2.1h-2.1zM328.9 2190.7h2.1v2.1h-2.1zM340.8 2190.7h2.1v2.1h-2.1zM362.5 2190.7h2.1v2.1h-2.1zM374.4 2190.7h2.1v2.1h-2.1zM378.4 2190.7h2.1v2.1h-2.1zM392.2 2190.7h2.1v2.1h-2.1zM362.5 2192.6h2.1v2.1h-2.1zM384.3 2192.6h2.1v2.1h-2.1zM390.2 2192.6h2.1v2.1h-2.1zM340.8 2194.6h2.1v2.1h-2.1zM344.7 2194.6h2.1v2.1h-2.1zM372.4 2194.6h2.1v2.1h-2.1zM384.3 2194.6h2.1v2.1h-2.1zM354.6 2196.5h2.1v2.1h-2.1zM374.4 2196.5h2.1v2.1h-2.1zM386.3 2196.5h2.1v2.1h-2.1zM390.2 2196.5h2.1v2.1h-2.1zM394.2 2196.5h2.1v2.1h-2.1zM328.9 2198.5h2.1v2.1h-2.1zM368.5 2198.5h2.1v2.1h-2.1zM370.4 2198.5h2.1v2.1h-2.1zM376.4 2198.5h2.1v2.1h-2.1zM388.2 2198.5h2.1v2.1h-2.1zM378.4 2200.4h2.1v2.1h-2.1zM415.9 2200.4h2.1v2.1h-2.1z"/>
<path fill="#f6bec2" d="M330.9 2077.5h2.1v2.1h-2.1zM346.7 2077.5h2.1v2.1h-2.1zM348.7 2077.5h2.1v2.1h-2.1zM356.6 2077.5h2.1v2.1h-2.1zM360.6 2077.5h2.1v2.1h-2.1zM376.4 2077.5h2.1v2.1h-2.1zM382.3 2077.5h2.1v2.1h-2.1zM338.8 2079.5h2.1v2.1h-2.1zM342.7 2079.5h2.1v2.1h-2.1zM372.4 2079.5h2.1v2.1h-2.1zM378.4 2079.5h2.1v2.1h-2.1zM392.2 2079.5h2.1v2.1h-2.1zM340.8 2081.4h2.1v2.1h-2.1zM346.7 2081.4h2.1v2.1h-2.1zM370.4 2081.4h2.1v2.1h-2.1zM372.4 2081.4h2.1v2.1h-2.1zM378.4 2081.4h2.1v2.1h-2.1zM344.7 2083.4h2.1v2.1h-2.1zM364.5 2083.4h2.1v2.1h-2.1zM366.5 2083.4h2.1v2.1h-2.1zM370.4 2083.4h2.1v2.1h-2.1zM384.3 2083.4h2.1v2.1h-2.1zM338.8 2085.3h2.1v2.1h-2.1zM340.8 2085.3h2.1v2.1h-2.1zM348.7 2085.3h2.1v2.1h-2.1zM352.6 2085.3h2.1v2.1h-2.1zM376.4 2085.3h2.1v2.1h-2.1zM380.3 2085.3h2.1v2.1h-2.1zM386.3 2085.3h2.1v2.1h-2.1zM394.2 2085.3h2.1v2.1h-2.1zM340.8 2087.3h2.1v2.1h-2.1zM342.7 2087.3h2.1v2.1h-2.1zM354.6 2087.3h2.1v2.1h-2.1zM364.5 2087.3h2.1v2.1h-2.1zM378.4 2087.3h2.1v2.1h-2.1zM384.3 2087.3h2.1v2.1h-2.1zM330.9 2089.2h2.1v2.1h-2.1zM332.9 2089.2h2.1v2.1h-2.1zM338.8 2089.2h2.1v2.1h-2.1zM346.7 2089.2h2.1v2.1h-2.1zM354.6 2089.2h2.1v2.1h-2.1zM376.4 2089.2h2.1v2.1h-2.1zM378.4 2089.2h2.1v2.1h-2.1zM388.2 2089.2h2.1v2.1h-2.1zM390.2 2089.2h2.1v2.1h-2.1zM330.9 2091.2h2.1v2.1h-2.1zM336.8 2091.2h2.1v2.1h-2.1zM338.8 2091.2h2.1v2.1h-2.1zM344.7 2091.2h2.1v2.1h-2.1zM350.7 2091.2h2.1v2.1h-2.1zM364.5 2091.2h2.1v2.1h-2.1zM378.4 2091.2h2.1v2.1h-2.1zM380.3 2091.2h2.1v2.1h-2.1zM338.8 2093.1h2.1v2.1h-2.1zM342.7 2093.1h2.1v2.1h-2.1zM346.7 2093.1h2.1v2.1h-2.1zM358.6 2093.1h2.1v2.1h-2.1zM340.8 2095.1h2.1v2.1h-2.1zM350.7 2095.1h2.1v2.1h-2.1zM370.4 2095.1h2.1v2.1h-2.1zM376.4 2095.1h2.1v2.1h-2.1zM386.3 2095.1h2.1v2.1h-2.1zM388.2 2095.1h2.1v2.1h-2.1zM330.9 2097.0h2.1v2.1h-2.1zM332.9 2097.0h2.1v2.1h-2.1zM364.5 2097.0h2.1v2.1h-2.1zM368.5 2097.0h2.1v2.1h-2.1zM376.4 2097.0h2.1v2.1h-2.1zM384.3 2097.0h2.1v2.1h-2.1zM392.2 2097.0h2.1v2.1h-2.1zM338.8 2099.0h2.1v2.1h-2.1zM390.2 2099.0h2.1v2.1h-2.1zM338.8 2100.9h2.1v2.1h-2.1zM342.7 2100.9h2.1v2.1h-2.1zM354.6 2100.9h2.1v2.1h-2.1zM330.9 2102.9h2.1v2.1h-2.1zM352.6 2102.9h2.1v2.1h-2.1zM354.6 2102.9h2.1v2.1h-2.1zM370.4 2102.9h2.1v2.1h-2.1zM390.2 2102.9h2.1v2.1h-2.1zM394.2 2102.9h2.1v2.1h-2.1zM417.9 2102.9h2.1v2.1h-2.1zM346.7 2104.8h2.1v2.1h-2.1zM350.7 2104.8h2.1v2.1h-2.1zM384.3 2104.8h2.1v2.1h-2.1zM386.3 2104.8h2.1v2.1h-2.1zM388.2 2104.8h2.1v2.1h-2.1zM392.2 2104.8h2.1v2.1h-2.1zM334.8 2106.8h2.1v2.1h-2.1zM358.6 2106.8h2.1v2.1h-2.1zM340.8 2108.7h2.1v2.1h-2.1zM342.7 2108.7h2.1v2.1h-2.1zM344.7 2108.7h2.1v2.1h-2.1zM348.7 2108.7h2.1v2.1h-2.1zM368.5 2108.7h2.1v2.1h-2.1zM374.4 2108.7h2.1v2.1h-2.1zM390.2 2108.7h2.1v2.1h-2.1zM338.8 2110.7h2.1v2.1h-2.1zM340.8 2110.7h2.1v2.1h-2.1zM354.6 2110.7h2.1v2.1h-2.1zM392.2 2112.6h2.1v2.1h-2.1zM330.9 2114.6h2.1v2.1h-2.1zM332.9 2114.6h2.1v2.1h-2.1zM340.8 2114.6h2.1v2.1h-2.1zM342.7 2114.6h2.1v2.1h-2.1zM356.6 2114.6h2.1v2.1h-2.1zM360.6 2114.6h2.1v2.1h-2.1zM364.5 2114.6h2.1v2.1h-2.1zM372.4 2114.6h2.1v2.1h-2.1zM382.3 2118.5h2.1v2.1h-2.1zM394.2 2118.5h2.1v2.1h-2.1zM332.9 2120.4h2.1v2.1h-2.1zM338.8 2120.4h2.1v2.1h-2.1zM350.7 2120.4h2.1v2.1h-2.1zM380.3 2120.4h2.1v2.1h-2.1zM394.2 2120.4h2.1v2.1h-2.1zM330.9 2122.4h2.1v2.1h-2.1zM338.8 2122.4h2.1v2.1h-2.1zM366.5 2122.4h2.1v2.1h-2.1zM390.2 2122.4h2.1v2.1h-2.1zM392.2 2122.4h2.1v2.1h-2.1zM332.9 2124.3h2.1v2.1h-2.1zM392.2 2124.3h2.1v2.1h-2.1zM336.8 2126.3h2.1v2.1h-2.1zM358.6 2126.3h2.1v2.1h-2.1zM364.5 2128.2h2.1v2.1h-2.1zM370.4 2128.2h2.1v2.1h-2.1zM376.4 2128.2h2.1v2.1h-2.1zM392.2 2128.2h2.1v2.1h-2.1zM340.8 2130.2h2.1v2.1h-2.1zM346.7 2130.2h2.1v2.1h-2.1zM330.9 2132.1h2.1v2.1h-2.1zM372.4 2132.1h2.1v2.1h-2.1zM378.4 2132.1h2.1v2.1h-2.1zM380.3 2132.1h2.1v2.1h-2.1zM394.2 2132.1h2.1v2.1h-2.1zM332.9 2134.1h2.1v2.1h-2.1zM346.7 2134.1h2.1v2.1h-2.1zM378.4 2134.1h2.1v2.1h-2.1zM336.8 2136.0h2.1v2.1h-2.1zM338.8 2136.0h2.1v2.1h-2.1zM344.7 2136.0h2.1v2.1h-2.1zM344.7 2138.0h2.1v2.1h-2.1zM384.3 2138.0h2.1v2.1h-2.1zM334.8 2139.9h2.1v2.1h-2.1zM352.6 2139.9h2.1v2.1h-2.1zM356.6 2139.9h2.1v2.1h-2.1zM366.5 2139.9h2.1v2.1h-2.1zM370.4 2139.9h2.1v2.1h-2.1zM382.3 2139.9h2.1v2.1h-2.1zM344.7 2141.9h2.1v2.1h-2.1zM368.5 2141.9h2.1v2.1h-2.1zM328.9 2143.9h2.1v2.1h-2.1zM348.7 2143.9h2.1v2.1h-2.1zM368.5 2143.9h2.1v2.1h-2.1zM380.3 2143.9h2.1v2.1h-2.1zM382.3 2143.9h2.1v2.1h-2.1zM328.9 2145.8h2.1v2.1h-2.1zM330.9 2145.8h2.1v2.1h-2.1zM334.8 2145.8h2.1v2.1h-2.1zM338.8 2145.8h2.1v2.1h-2.1zM358.6 2145.8h2.1v2.1h-2.1zM362.5 2145.8h2.1v2.1h-2.1zM390.2 2145.8h2.1v2.1h-2.1zM330.9 2147.8h2.1v2.1h-2.1zM334.8 2147.8h2.1v2.1h-2.1zM354.6 2147.8h2.1v2.1h-2.1zM358.6 2147.8h2.1v2.1h-2.1zM366.5 2147.8h2.1v2.1h-2.1zM368.5 2147.8h2.1v2.1h-2.1zM370.4 2147.8h2.1v2.1h-2.1zM378.4 2147.8h2.1v2.1h-2.1zM382.3 2147.8h2.1v2.1h-2.1zM384.3 2147.8h2.1v2.1h-2.1zM374.4 2149.7h2.1v2.1h-2.1zM384.3 2149.7h2.1v2.1h-2.1zM348.7 2151.7h2.1v2.1h-2.1zM360.6 2151.7h2.1v2.1h-2.1zM366.5 2151.7h2.1v2.1h-2.1zM328.9 2155.6h2.1v2.1h-2.1zM342.7 2155.6h2.1v2.1h-2.1zM350.7 2155.6h2.1v2.1h-2.1zM374.4 2155.6h2.1v2.1h-2.1zM378.4 2155.6h2.1v2.1h-2.1zM392.2 2155.6h2.1v2.1h-2.1zM342.7 2157.5h2.1v2.1h-2.1zM348.7 2157.5h2.1v2.1h-2.1zM384.3 2157.5h2.1v2.1h-2.1zM342.7 2159.5h2.1v2.1h-2.1zM384.3 2159.5h2.1v2.1h-2.1zM328.9 2161.4h2.1v2.1h-2.1zM334.8 2161.4h2.1v2.1h-2.1zM340.8 2161.4h2.1v2.1h-2.1zM342.7 2161.4h2.1v2.1h-2.1zM380.3 2161.4h2.1v2.1h-2.1zM362.5 2163.4h2.1v2.1h-2.1zM382.3 2163.4h2.1v2.1h-2.1zM350.7 2165.3h2.1v2.1h-2.1zM358.6 2165.3h2.1v2.1h-2.1zM344.7 2167.3h2.1v2.1h-2.1zM366.5 2167.3h2.1v2.1h-2.1zM386.3 2167.3h2.1v2.1h-2.1zM354.6 2169.2h2.1v2.1h-2.1zM328.9 2171.2h2.1v2.1h-2.1zM344.7 2171.2h2.1v2.1h-2.1zM368.5 2171.2h2.1v2.1h-2.1zM370.4 2171.2h2.1v2.1h-2.1zM378.4 2171.2h2.1v2.1h-2.1zM350.7 2173.1h2.1v2.1h-2.1zM378.4 2173.1h2.1v2.1h-2.1zM392.2 2173.1h2.1v2.1h-2.1zM330.9 2177.0h2.1v2.1h-2.1zM340.8 2177.0h2.1v2.1h-2.1zM360.6 2177.0h2.1v2.1h-2.1zM378.4 2177.0h2.1v2.1h-2.1zM344.7 2179.0h2.1v2.1h-2.1zM348.7 2179.0h2.1v2.1h-2.1zM330.9 2180.9h2.1v2.1h-2.1zM342.7 2180.9h2.1v2.1h-2.1zM390.2 2182.9h2.1v2.1h-2.1zM392.2 2182.9h2.1v2.1h-2.1zM368.5 2184.8h2.1v2.1h-2.1zM370.4 2184.8h2.1v2.1h-2.1zM388.2 2184.8h2.1v2.1h-2.1zM330.9 2186.8h2.1v2.1h-2.1zM330.9 2188.7h2.1v2.1h-2.1zM338.8 2188.7h2.1v2.1h-2.1zM354.6 2188.7h2.1v2.1h-2.1zM346.7 2190.7h2.1v2.1h-2.1zM394.2 2190.7h2.1v2.1h-2.1zM330.9 2192.6h2.1v2.1h-2.1zM344.7 2192.6h2.1v2.1h-2.1zM378.4 2192.6h2.1v2.1h-2.1zM338.8 2194.6h2.1v2.1h-2.1zM390.2 2194.6h2.1v2.1h-2.1zM394.2 2194.6h2.1v2.1h-2.1zM342.7 2196.5h2.1v2.1h-2.1zM348.7 2196.5h2.1v2.1h-2.1zM352.6 2196.5h2.1v2.1h-2.1zM356.6 2196.5h2.1v2.1h-2.1zM328.9 2200.4h2.1v2.1h-2.1zM338.8 2200.4h2.1v2.1h-2.1zM342.7 2200.4h2.1v2.1h-2.1z"/>
<path fill="#f9d4d6" d="M332.9 2077.5h2.1v2.1h-2.1zM368.5 2077.5h2.1v2.1h-2.1zM348.7 2079.5h2.1v2.1h-2.1zM338.8 2081.4h2.1v2.1h-2.1zM342.7 2081.4h2.1v2.1h-2.1zM348.7 2081.4h2.1v2.1h-2.1zM354.6 2081.4h2.1v2.1h-2.1zM334.8 2083.4h2.1v2.1h-2.1zM388.2 2083.4h2.1v2.1h-2.1zM330.9 2085.3h2.1v2.1h-2.1zM362.5 2085.3h2.1v2.1h-2.1zM364.5 2085.3h2.1v2.1h-2.1zM382.3 2085.3h2.1v2.1h-2.1zM352.6 2087.3h2.1v2.1h-2.1zM356.6 2087.3h2.1v2.1h-2.1zM362.5 2089.2h2.1v2.1h-2.1zM366.5 2091.2h2.1v2.1h-2.1zM334.8 2095.1h2.1v2.1h-2.1zM342.7 2095.1h2.1v2.1h-2.1zM348.7 2095.1h2.1v2.1h-2.1zM378.4 2095.1h2.1v2.1h-2.1zM374.4 2097.0h2.1v2.1h-2.1zM340.8 2099.0h2.1v2.1h-2.1zM364.5 2099.0h2.1v2.1h-2.1zM384.3 2099.0h2.1v2.1h-2.1zM340.8 2100.9h2.1v2.1h-2.1zM334.8 2102.9h2.1v2.1h-2.1zM344.7 2102.9h2.1v2.1h-2.1zM374.4 2104.8h2.1v2.1h-2.1zM390.2 2104.8h2.1v2.1h-2.1zM394.2 2104.8h2.1v2.1h-2.1zM352.6 2106.8h2.1v2.1h-2.1zM370.4 2110.7h2.1v2.1h-2.1zM390.2 2112.6h2.1v2.1h-2.1zM374.4 2114.6h2.1v2.1h-2.1zM332.9 2116.5h2.1v2.1h-2.1zM334.8 2116.5h2.1v2.1h-2.1zM344.7 2116.5h2.1v2.1h-2.1zM356.6 2116.5h2.1v2.1h-2.1zM362.5 2116.5h2.1v2.1h-2.1zM374.4 2116.5h2.1v2.1h-2.1zM394.2 2116.5h2.1v2.1h-2.1zM330.9 2118.5h2.1v2.1h-2.1zM338.8 2118.5h2.1v2.1h-2.1zM344.7 2118.5h2.1v2.1h-2.1zM356.6 2118.5h2.1v2.1h-2.1zM372.4 2118.5h2.1v2.1h-2.1zM380.3 2118.5h2.1v2.1h-2.1zM330.9 2120.4h2.1v2.1h-2.1zM358.6 2120.4h2.1v2.1h-2.1zM362.5 2120.4h2.1v2.1h-2.1zM382.3 2120.4h2.1v2.1h-2.1zM328.9 2122.4h2.1v2.1h-2.1zM364.5 2122.4h2.1v2.1h-2.1zM380.3 2122.4h2.1v2.1h-2.1zM330.9 2124.3h2.1v2.1h-2.1zM336.8 2124.3h2.1v2.1h-2.1zM356.6 2124.3h2.1v2.1h-2.1zM358.6 2124.3h2.1v2.1h-2.1zM382.3 2124.3h2.1v2.1h-2.1zM386.3 2124.3h2.1v2.1h-2.1zM362.5 2126.3h2.1v2.1h-2.1zM332.9 2128.2h2.1v2.1h-2.1zM346.7 2128.2h2.1v2.1h-2.1zM354.6 2128.2h2.1v2.1h-2.1zM366.5 2128.2h2.1v2.1h-2.1zM374.4 2128.2h2.1v2.1h-2.1zM384.3 2128.2h2.1v2.1h-2.1zM328.9 2130.2h2.1v2.1h-2.1zM330.9 2130.2h2.1v2.1h-2.1zM334.8 2130.2h2.1v2.1h-2.1zM358.6 2130.2h2.1v2.1h-2.1zM370.4 2130.2h2.1v2.1h-2.1zM390.2 2130.2h2.1v2.1h-2.1zM338.8 2132.1h2.1v2.1h-2.1zM344.7 2132.1h2.1v2.1h-2.1zM360.6 2132.1h2.1v2.1h-2.1zM384.3 2132.1h2.1v2.1h-2.1zM390.2 2132.1h2.1v2.1h-2.1zM334.8 2134.1h2.1v2.1h-2.1zM336.8 2134.1h2.1v2.1h-2.1zM340.8 2134.1h2.1v2.1h-2.1zM376.4 2134.1h2.1v2.1h-2.1zM342.7 2136.0h2.1v2.1h-2.1zM346.7 2136.0h2.1v2.1h-2.1zM366.5 2136.0h2.1v2.1h-2.1zM390.2 2136.0h2.1v2.1h-2.1zM328.9 2138.0h2.1v2.1h-2.1zM334.8 2138.0h2.1v2.1h-2.1zM354.6 2138.0h2.1v2.1h-2.1zM362.5 2138.0h2.1v2.1h-2.1zM372.4 2138.0h2.1v2.1h-2.1zM386.3 2138.0h2.1v2.1h-2.1zM344.7 2139.9h2.1v2.1h-2.1zM358.6 2139.9h2.1v2.1h-2.1zM360.6 2139.9h2.1v2.1h-2.1zM364.5 2139.9h2.1v2.1h-2.1zM374.4 2139.9h2.1v2.1h-2.1zM392.2 2139.9h2.1v2.1h-2.1zM328.9 2141.9h2.1v2.1h-2.1zM330.9 2141.9h2.1v2.1h-2.1zM336.8 2141.9h2.1v2.1h-2.1zM364.5 2141.9h2.1v2.1h-2.1zM376.4 2141.9h2.1v2.1h-2.1zM392.2 2141.9h2.1v2.1h-2.1zM360.6 2143.9h2.1v2.1h-2.1zM362.5 2143.9h2.1v2.1h-2.1zM374.4 2145.8h2.1v2.1h-2.1zM415.9 2145.8h2.1v2.1h-2.1zM332.9 2147.8h2.1v2.1h-2.1zM336.8 2147.8h2.1v2.1h-2.1zM338.8 2147.8h2.1v2.1h-2.1zM350.7 2147.8h2.1v2.1h-2.1zM356.6 2147.8h2.1v2.1h-2.1zM362.5 2147.8h2.1v2.1h-2.1zM390.2 2147.8h2.1v2.1h-2.1zM330.9 2149.7h2.1v2.1h-2.1zM336.8 2149.7h2.1v2.1h-2.1zM344.7 2149.7h2.1v2.1h-2.1zM352.6 2149.7h2.1v2.1h-2.1zM390.2 2149.7h2.1v2.1h-2.1zM356.6 2151.7h2.1v2.1h-2.1zM364.5 2151.7h2.1v2.1h-2.1zM372.4 2151.7h2.1v2.1h-2.1zM376.4 2151.7h2.1v2.1h-2.1zM392.2 2151.7h2.1v2.1h-2.1zM332.9 2153.6h2.1v2.1h-2.1zM336.8 2153.6h2.1v2.1h-2.1zM358.6 2153.6h2.1v2.1h-2.1zM362.5 2153.6h2.1v2.1h-2.1zM376.4 2153.6h2.1v2.1h-2.1zM388.2 2153.6h2.1v2.1h-2.1zM344.7 2155.6h2.1v2.1h-2.1zM346.7 2155.6h2.1v2.1h-2.1zM344.7 2157.5h2.1v2.1h-2.1zM372.4 2157.5h2.1v2.1h-2.1zM376.4 2157.5h2.1v2.1h-2.1zM336.8 2159.5h2.1v2.1h-2.1zM368.5 2159.5h2.1v2.1h-2.1zM370.4 2159.5h2.1v2.1h-2.1zM380.3 2159.5h2.1v2.1h-2.1zM392.2 2159.5h2.1v2.1h-2.1zM346.7 2161.4h2.1v2.1h-2.1zM360.6 2161.4h2.1v2.1h-2.1zM364.5 2161.4h2.1v2.1h-2.1zM372.4 2161.4h2.1v2.1h-2.1zM374.4 2161.4h2.1v2.1h-2.1zM386.3 2161.4h2.1v2.1h-2.1zM338.8 2163.4h2.1v2.1h-2.1zM356.6 2163.4h2.1v2.1h-2.1zM364.5 2163.4h2.1v2.1h-2.1zM368.5 2163.4h2.1v2.1h-2.1zM378.4 2163.4h2.1v2.1h-2.1zM340.8 2165.3h2.1v2.1h-2.1zM346.7 2165.3h2.1v2.1h-2.1zM370.4 2165.3h2.1v2.1h-2.1zM392.2 2165.3h2.1v2.1h-2.1zM336.8 2167.3h2.1v2.1h-2.1zM338.8 2167.3h2.1v2.1h-2.1zM392.2 2167.3h2.1v2.1h-2.1zM415.9 2167.3h2.1v2.1h-2.1zM330.9 2169.2h2.1v2.1h-2.1zM336.8 2169.2h2.1v2.1h-2.1zM388.2 2169.2h2.1v2.1h-2.1zM334.8 2171.2h2.1v2.1h-2.1zM340.8 2171.2h2.1v2.1h-2.1zM358.6 2171.2h2.1v2.1h-2.1zM372.4 2171.2h2.1v2.1h-2.1zM384.3 2171.2h2.1v2.1h-2.1zM386.3 2171.2h2.1v2.1h-2.1zM388.2 2171.2h2.1v2.1h-2.1zM328.9 2173.1h2.1v2.1h-2.1zM348.7 2173.1h2.1v2.1h-2.1zM364.5 2173.1h2.1v2.1h-2.1zM382.3 2173.1h2.1v2.1h-2.1zM376.4 2175.1h2.1v2.1h-2.1zM338.8 2177.0h2.1v2.1h-2.1zM374.4 2177.0h2.1v2.1h-2.1zM384.3 2177.0h2.1v2.1h-2.1zM390.2 2177.0h2.1v2.1h-2.1zM366.5 2179.0h2.1v2.1h-2.1zM386.3 2179.0h2.1v2.1h-2.1zM336.8 2180.9h2.1v2.1h-2.1zM338.8 2180.9h2.1v2.1h-2.1zM346.7 2180.9h2.1v2.1h-2.1zM378.4 2180.9h2.1v2.1h-2.1zM384.3 2180.9h2.1v2.1h-2.1zM336.8 2182.9h2.1v2.1h-2.1zM362.5 2182.9h2.1v2.1h-2.1zM370.4 2182.9h2.1v2.1h-2.1zM376.4 2182.9h2.1v2.1h-2.1zM394.2 2182.9h2.1v2.1h-2.1zM330.9 2184.8h2.1v2.1h-2.1zM332.9 2184.8h2.1v2.1h-2.1zM334.8 2184.8h2.1v2.1h-2.1zM364.5 2184.8h2.1v2.1h-2.1zM382.3 2184.8h2.1v2.1h-2.1zM392.2 2184.8h2.1v2.1h-2.1zM370.4 2186.8h2.1v2.1h-2.1zM372.4 2186.8h2.1v2.1h-2.1zM386.3 2186.8h2.1v2.1h-2.1zM390.2 2186.8h2.1v2.1h-2.1zM332.9 2188.7h2.1v2.1h-2.1zM342.7 2188.7h2.1v2.1h-2.1zM346.7 2188.7h2.1v2.1h-2.1zM370.4 2188.7h2.1v2.1h-2.1zM390.2 2188.7h2.1v2.1h-2.1zM394.2 2188.7h2.1v2.1h-2.1zM332.9 2190.7h2.1v2.1h-2.1zM334.8 2190.7h2.1v2.1h-2.1zM342.7 2190.7h2.1v2.1h-2.1zM350.7 2190.7h2.1v2.1h-2.1zM352.6 2190.7h2.1v2.1h-2.1zM358.6 2190.7h2.1v2.1h-2.1zM368.5 2190.7h2.1v2.1h-2.1zM380.3 2190.7h2.1v2.1h-2.1zM328.9 2194.6h2.1v2.1h-2.1zM374.4 2194.6h2.1v2.1h-2.1zM388.2 2194.6h2.1v2.1h-2.1zM330.9 2196.5h2.1v2.1h-2.1zM340.8 2196.5h2.1v2.1h-2.1zM350.7 2196.5h2.1v2.1h-2.1zM384.3 2196.5h2.1v2.1h-2.1zM338.8 2198.5h2.1v2.1h-2.1zM350.7 2200.4h2.1v2.1h-2.1zM352.6 2200.4h2.1v2.1h-2.1zM370.4 2200.4h2.1v2.1h-2.1zM374.4 2200.4h2.1v2.1h-2.1zM380.3 2200.4h2.1v2.1h-2.1z"/>
<path fill="#f28187" d="M334.8 2077.5h2.1v2.1h-2.1zM336.8 2077.5h2.1v2.1h-2.1zM366.5 2077.5h2.1v2.1h-2.1zM384.3 2077.5h2.1v2.1h-2.1zM390.2 2077.5h2.1v2.1h-2.1zM330.9 2079.5h2.1v2.1h-2.1zM332.9 2079.5h2.1v2.1h-2.1zM366.5 2079.5h2.1v2.1h-2.1zM384.3 2079.5h2.1v2.1h-2.1zM390.2 2079.5h2.1v2.1h-2.1zM330.9 2081.4h2.1v2.1h-2.1zM334.8 2081.4h2.1v2.1h-2.1zM336.8 2081.4h2.1v2.1h-2.1zM366.5 2081.4h2.1v2.1h-2.1zM390.2 2081.4h2.1v2.1h-2.1zM332.9 2083.4h2.1v2.1h-2.1zM340.8 2083.4h2.1v2.1h-2.1zM346.7 2083.4h2.1v2.1h-2.1zM348.7 2083.4h2.1v2.1h-2.1zM334.8 2085.3h2.1v2.1h-2.1zM342.7 2085.3h2.1v2.1h-2.1zM374.4 2085.3h2.1v2.1h-2.1zM390.2 2085.3h2.1v2.1h-2.1zM328.9 2087.3h2.1v2.1h-2.1zM330.9 2087.3h2.1v2.1h-2.1zM370.4 2087.3h2.1v2.1h-2.1zM372.4 2087.3h2.1v2.1h-2.1zM340.8 2091.2h2.1v2.1h-2.1zM346.7 2091.2h2.1v2.1h-2.1zM368.5 2091.2h2.1v2.1h-2.1zM370.4 2091.2h2.1v2.1h-2.1zM336.8 2093.1h2.1v2.1h-2.1zM372.4 2093.1h2.1v2.1h-2.1zM330.9 2095.1h2.1v2.1h-2.1zM332.9 2095.1h2.1v2.1h-2.1zM336.8 2095.1h2.1v2.1h-2.1zM346.7 2095.1h2.1v2.1h-2.1zM364.5 2095.1h2.1v2.1h-2.1zM390.2 2095.1h2.1v2.1h-2.1zM348.7 2097.0h2.1v2.1h-2.1zM354.6 2097.0h2.1v2.1h-2.1zM362.5 2097.0h2.1v2.1h-2.1zM394.2 2097.0h2.1v2.1h-2.1zM332.9 2099.0h2.1v2.1h-2.1zM336.8 2099.0h2.1v2.1h-2.1zM328.9 2100.9h2.1v2.1h-2.1zM330.9 2100.9h2.1v2.1h-2.1zM334.8 2100.9h2.1v2.1h-2.1zM332.9 2102.9h2.1v2.1h-2.1zM340.8 2102.9h2.1v2.1h-2.1zM364.5 2102.9h2.1v2.1h-2.1zM328.9 2104.8h2.1v2.1h-2.1zM330.9 2106.8h2.1v2.1h-2.1zM332.9 2106.8h2.1v2.1h-2.1zM336.8 2106.8h2.1v2.1h-2.1zM342.7 2106.8h2.1v2.1h-2.1zM356.6 2106.8h2.1v2.1h-2.1zM364.5 2106.8h2.1v2.1h-2.1zM366.5 2106.8h2.1v2.1h-2.1zM370.4 2106.8h2.1v2.1h-2.1zM372.4 2106.8h2.1v2.1h-2.1zM328.9 2108.7h2.1v2.1h-2.1zM332.9 2108.7h2.1v2.1h-2.1zM338.8 2108.7h2.1v2.1h-2.1zM350.7 2108.7h2.1v2.1h-2.1zM380.3 2108.7h2.1v2.1h-2.1zM382.3 2108.7h2.1v2.1h-2.1zM384.3 2108.7h2.1v2.1h-2.1zM330.9 2110.7h2.1v2.1h-2.1zM332.9 2110.7h2.1v2.1h-2.1zM348.7 2110.7h2.1v2.1h-2.1zM350.7 2110.7h2.1v2.1h-2.1zM366.5 2110.7h2.1v2.1h-2.1zM368.5 2110.7h2.1v2.1h-2.1zM384.3 2110.7h2.1v2.1h-2.1zM328.9 2112.6h2.1v2.1h-2.1zM332.9 2112.6h2.1v2.1h-2.1zM334.8 2112.6h2.1v2.1h-2.1zM344.7 2112.6h2.1v2.1h-2.1zM328.9 2114.6h2.1v2.1h-2.1zM352.6 2114.6h2.1v2.1h-2.1zM366.5 2114.6h2.1v2.1h-2.1zM384.3 2114.6h2.1v2.1h-2.1zM386.3 2116.5h2.1v2.1h-2.1zM388.2 2116.5h2.1v2.1h-2.1zM390.2 2116.5h2.1v2.1h-2.1zM346.7 2118.5h2.1v2.1h-2.1zM334.8 2120.4h2.1v2.1h-2.1zM342.7 2120.4h2.1v2.1h-2.1zM336.8 2122.4h2.1v2.1h-2.1zM388.2 2122.4h2.1v2.1h-2.1zM394.2 2122.4h2.1v2.1h-2.1zM346.7 2124.3h2.1v2.1h-2.1zM360.6 2124.3h2.1v2.1h-2.1zM390.2 2124.3h2.1v2.1h-2.1zM378.4 2126.3h2.1v2.1h-2.1zM330.9 2128.2h2.1v2.1h-2.1zM334.8 2128.2h2.1v2.1h-2.1zM350.7 2130.2h2.1v2.1h-2.1zM384.3 2130.2h2.1v2.1h-2.1zM332.9 2136.0h2.1v2.1h-2.1zM350.7 2136.0h2.1v2.1h-2.1zM376.4 2136.0h2.1v2.1h-2.1zM378.4 2136.0h2.1v2.1h-2.1zM338.8 2138.0h2.1v2.1h-2.1zM374.4 2138.0h2.1v2.1h-2.1zM340.8 2139.9h2.1v2.1h-2.1zM338.8 2141.9h2.1v2.1h-2.1zM332.9 2143.9h2.1v2.1h-2.1zM338.8 2143.9h2.1v2.1h-2.1zM394.2 2143.9h2.1v2.1h-2.1zM342.7 2145.8h2.1v2.1h-2.1zM384.3 2145.8h2.1v2.1h-2.1zM342.7 2147.8h2.1v2.1h-2.1zM348.7 2149.7h2.1v2.1h-2.1zM350.7 2149.7h2.1v2.1h-2.1zM364.5 2149.7h2.1v2.1h-2.1zM334.8 2151.7h2.1v2.1h-2.1zM344.7 2151.7h2.1v2.1h-2.1zM348.7 2153.6h2.1v2.1h-2.1zM330.9 2155.6h2.1v2.1h-2.1zM340.8 2155.6h2.1v2.1h-2.1zM332.9 2159.5h2.1v2.1h-2.1zM340.8 2159.5h2.1v2.1h-2.1zM360.6 2159.5h2.1v2.1h-2.1zM366.5 2159.5h2.1v2.1h-2.1zM382.3 2159.5h2.1v2.1h-2.1zM386.3 2159.5h2.1v2.1h-2.1zM330.9 2163.4h2.1v2.1h-2.1zM334.8 2163.4h2.1v2.1h-2.1zM388.2 2163.4h2.1v2.1h-2.1zM336.8 2165.3h2.1v2.1h-2.1zM380.3 2165.3h2.1v2.1h-2.1zM328.9 2167.3h2.1v2.1h-2.1zM342.7 2167.3h2.1v2.1h-2.1zM332.9 2169.2h2.1v2.1h-2.1zM334.8 2169.2h2.1v2.1h-2.1zM346.7 2171.2h2.1v2.1h-2.1zM364.5 2171.2h2.1v2.1h-2.1zM336.8 2173.1h2.1v2.1h-2.1zM334.8 2175.1h2.1v2.1h-2.1zM370.4 2175.1h2.1v2.1h-2.1zM336.8 2179.0h2.1v2.1h-2.1zM376.4 2179.0h2.1v2.1h-2.1zM350.7 2180.9h2.1v2.1h-2.1zM340.8 2182.9h2.1v2.1h-2.1zM348.7 2182.9h2.1v2.1h-2.1zM366.5 2182.9h2.1v2.1h-2.1zM344.7 2184.8h2.1v2.1h-2.1zM348.7 2184.8h2.1v2.1h-2.1zM350.7 2184.8h2.1v2.1h-2.1zM394.2 2184.8h2.1v2.1h-2.1zM348.7 2186.8h2.1v2.1h-2.1zM352.6 2186.8h2.1v2.1h-2.1zM340.8 2188.7h2.1v2.1h-2.1zM348.7 2188.7h2.1v2.1h-2.1zM338.8 2190.7h2.1v2.1h-2.1zM342.7 2192.6h2.1v2.1h-2.1zM332.9 2194.6h2.1v2.1h-2.1zM342.7 2194.6h2.1v2.1h-2.1zM378.4 2196.5h2.1v2.1h-2.1zM382.3 2196.5h2.1v2.1h-2.1zM332.9 2198.5h2.1v2.1h-2.1zM342.7 2198.5h2.1v2.1h-2.1zM344.7 2198.5h2.1v2.1h-2.1zM332.9 2200.4h2.1v2.1h-2.1zM344.7 2200.4h2.1v2.1h-2.1zM348.7 2200.4h2.1v2.1h-2.1z"/>
<path fill="#ffffff" d="M340.8 2077.5h2.1v2.1h-2.1zM342.7 2077.5h2.1v2.1h-2.1zM374.4 2077.5h2.1v2.1h-2.1zM394.2 2077.5h2.1v2.1h-2.1zM352.6 2079.5h2.1v2.1h-2.1zM358.6 2079.5h2.1v2.1h-2.1zM360.6 2079.5h2.1v2.1h-2.1zM376.4 2081.4h2.1v2.1h-2.1zM382.3 2081.4h2.1v2.1h-2.1zM386.3 2081.4h2.1v2.1h-2.1zM388.2 2081.4h2.1v2.1h-2.1zM394.2 2081.4h2.1v2.1h-2.1zM374.4 2083.4h2.1v2.1h-2.1zM378.4 2083.4h2.1v2.1h-2.1zM380.3 2083.4h2.1v2.1h-2.1zM344.7 2085.3h2.1v2.1h-2.1zM368.5 2085.3h2.1v2.1h-2.1zM350.7 2087.3h2.1v2.1h-2.1zM358.6 2087.3h2.1v2.1h-2.1zM360.6 2087.3h2.1v2.1h-2.1zM376.4 2087.3h2.1v2.1h-2.1zM380.3 2087.3h2.1v2.1h-2.1zM348.7 2089.2h2.1v2.1h-2.1zM386.3 2089.2h2.1v2.1h-2.1zM358.6 2091.2h2.1v2.1h-2.1zM372.4 2091.2h2.1v2.1h-2.1zM390.2 2091.2h2.1v2.1h-2.1zM350.7 2093.1h2.1v2.1h-2.1zM360.6 2093.1h2.1v2.1h-2.1zM362.5 2093.1h2.1v2.1h-2.1zM384.3 2093.1h2.1v2.1h-2.1zM390.2 2093.1h2.1v2.1h-2.1zM352.6 2095.1h2.1v2.1h-2.1zM394.2 2095.1h2.1v2.1h-2.1zM414.0 2095.1h2.1v2.1h-2.1zM328.9 2097.0h2.1v2.1h-2.1zM350.7 2099.0h2.1v2.1h-2.1zM378.4 2099.0h2.1v2.1h-2.1zM386.3 2099.0h2.1v2.1h-2.1zM392.2 2099.0h2.1v2.1h-2.1zM394.2 2099.0h2.1v2.1h-2.1zM378.4 2100.9h2.1v2.1h-2.1zM384.3 2100.9h2.1v2.1h-2.1zM390.2 2100.9h2.1v2.1h-2.1zM350.7 2102.9h2.1v2.1h-2.1zM360.6 2102.9h2.1v2.1h-2.1zM376.4 2102.9h2.1v2.1h-2.1zM384.3 2102.9h2.1v2.1h-2.1zM368.5 2104.8h2.1v2.1h-2.1zM370.4 2104.8h2.1v2.1h-2.1zM376.4 2104.8h2.1v2.1h-2.1zM344.7 2106.8h2.1v2.1h-2.1zM384.3 2106.8h2.1v2.1h-2.1zM386.3 2106.8h2.1v2.1h-2.1zM354.6 2108.7h2.1v2.1h-2.1zM366.5 2108.7h2.1v2.1h-2.1zM386.3 2108.7h2.1v2.1h-2.1zM392.2 2108.7h2.1v2.1h-2.1zM380.3 2110.7h2.1v2.1h-2.1zM382.3 2110.7h2.1v2.1h-2.1zM386.3 2110.7h2.1v2.1h-2.1zM394.2 2110.7h2.1v2.1h-2.1zM414.0 2110.7h2.1v2.1h-2.1zM356.6 2112.6h2.1v2.1h-2.1zM368.5 2112.6h2.1v2.1h-2.1zM370.4 2112.6h2.1v2.1h-2.1zM372.4 2112.6h2.1v2.1h-2.1zM376.4 2112.6h2.1v2.1h-2.1zM378.4 2112.6h2.1v2.1h-2.1zM380.3 2112.6h2.1v2.1h-2.1zM394.2 2112.6h2.1v2.1h-2.1zM338.8 2114.6h2.1v2.1h-2.1zM354.6 2114.6h2.1v2.1h-2.1zM380.3 2114.6h2.1v2.1h-2.1zM386.3 2114.6h2.1v2.1h-2.1zM352.6 2116.5h2.1v2.1h-2.1zM354.6 2116.5h2.1v2.1h-2.1zM376.4 2116.5h2.1v2.1h-2.1zM382.3 2116.5h2.1v2.1h-2.1zM328.9 2118.5h2.1v2.1h-2.1zM378.4 2118.5h2.1v2.1h-2.1zM415.9 2118.5h2.1v2.1h-2.1zM378.4 2120.4h2.1v2.1h-2.1zM352.6 2122.4h2.1v2.1h-2.1zM358.6 2122.4h2.1v2.1h-2.1zM372.4 2122.4h2.1v2.1h-2.1zM376.4 2122.4h2.1v2.1h-2.1zM340.8 2124.3h2.1v2.1h-2.1zM368.5 2124.3h2.1v2.1h-2.1zM370.4 2124.3h2.1v2.1h-2.1zM415.9 2124.3h2.1v2.1h-2.1zM338.8 2126.3h2.1v2.1h-2.1zM356.6 2126.3h2.1v2.1h-2.1zM366.5 2126.3h2.1v2.1h-2.1zM372.4 2126.3h2.1v2.1h-2.1zM380.3 2126.3h2.1v2.1h-2.1zM388.2 2126.3h2.1v2.1h-2.1zM394.2 2126.3h2.1v2.1h-2.1zM356.6 2128.2h2.1v2.1h-2.1zM380.3 2128.2h2.1v2.1h-2.1zM390.2 2128.2h2.1v2.1h-2.1zM352.6 2130.2h2.1v2.1h-2.1zM356.6 2130.2h2.1v2.1h-2.1zM380.3 2130.2h2.1v2.1h-2.1zM348.7 2132.1h2.1v2.1h-2.1zM366.5 2132.1h2.1v2.1h-2.1zM356.6 2134.1h2.1v2.1h-2.1zM362.5 2134.1h2.1v2.1h-2.1zM364.5 2134.1h2.1v2.1h-2.1zM380.3 2134.1h2.1v2.1h-2.1zM384.3 2134.1h2.1v2.1h-2.1zM354.6 2136.0h2.1v2.1h-2.1zM382.3 2136.0h2.1v2.1h-2.1zM384.3 2136.0h2.1v2.1h-2.1zM394.2 2136.0h2.1v2.1h-2.1zM415.9 2136.0h2.1v2.1h-2.1zM366.5 2138.0h2.1v2.1h-2.1zM376.4 2138.0h2.1v2.1h-2.1zM394.2 2138.0h2.1v2.1h-2.1zM346.7 2139.9h2.1v2.1h-2.1zM348.7 2139.9h2.1v2.1h-2.1zM390.2 2139.9h2.1v2.1h-2.1zM370.4 2141.9h2.1v2.1h-2.1zM384.3 2141.9h2.1v2.1h-2.1zM370.4 2143.9h2.1v2.1h-2.1zM386.3 2143.9h2.1v2.1h-2.1zM392.2 2143.9h2.1v2.1h-2.1zM415.9 2143.9h2.1v2.1h-2.1zM344.7 2145.8h2.1v2.1h-2.1zM350.7 2145.8h2.1v2.1h-2.1zM352.6 2145.8h2.1v2.1h-2.1zM366.5 2145.8h2.1v2.1h-2.1zM340.8 2147.8h2.1v2.1h-2.1zM392.2 2147.8h2.1v2.1h-2.1zM362.5 2149.7h2.1v2.1h-2.1zM368.5 2149.7h2.1v2.1h-2.1zM376.4 2149.7h2.1v2.1h-2.1zM380.3 2149.7h2.1v2.1h-2.1zM350.7 2151.7h2.1v2.1h-2.1zM350.7 2153.6h2.1v2.1h-2.1zM370.4 2153.6h2.1v2.1h-2.1zM390.2 2153.6h2.1v2.1h-2.1zM354.6 2155.6h2.1v2.1h-2.1zM356.6 2155.6h2.1v2.1h-2.1zM370.4 2155.6h2.1v2.1h-2.1zM372.4 2155.6h2.1v2.1h-2.1zM382.3 2155.6h2.1v2.1h-2.1zM388.2 2155.6h2.1v2.1h-2.1zM394.2 2155.6h2.1v2.1h-2.1zM402.1 2155.6h2.1v2.1h-2.1zM328.9 2157.5h2.1v2.1h-2.1zM340.8 2157.5h2.1v2.1h-2.1zM360.6 2157.5h2.1v2.1h-2.1zM382.3 2157.5h2.1v2.1h-2.1zM386.3 2157.5h2.1v2.1h-2.1zM328.9 2159.5h2.1v2.1h-2.1zM376.4 2159.5h2.1v2.1h-2.1zM366.5 2161.4h2.1v2.1h-2.1zM370.4 2161.4h2.1v2.1h-2.1zM376.4 2161.4h2.1v2.1h-2.1zM394.2 2161.4h2.1v2.1h-2.1zM350.7 2163.4h2.1v2.1h-2.1zM354.6 2163.4h2.1v2.1h-2.1zM370.4 2163.4h2.1v2.1h-2.1zM372.4 2165.3h2.1v2.1h-2.1zM376.4 2165.3h2.1v2.1h-2.1zM354.6 2167.3h2.1v2.1h-2.1zM360.6 2167.3h2.1v2.1h-2.1zM370.4 2167.3h2.1v2.1h-2.1zM388.2 2167.3h2.1v2.1h-2.1zM338.8 2169.2h2.1v2.1h-2.1zM394.2 2169.2h2.1v2.1h-2.1zM414.0 2169.2h2.1v2.1h-2.1zM366.5 2171.2h2.1v2.1h-2.1zM374.4 2171.2h2.1v2.1h-2.1zM376.4 2171.2h2.1v2.1h-2.1zM415.9 2171.2h2.1v2.1h-2.1zM374.4 2173.1h2.1v2.1h-2.1zM376.4 2173.1h2.1v2.1h-2.1zM384.3 2173.1h2.1v2.1h-2.1zM388.2 2173.1h2.1v2.1h-2.1zM394.2 2173.1h2.1v2.1h-2.1zM417.9 2173.1h2.1v2.1h-2.1zM360.6 2175.1h2.1v2.1h-2.1zM346.7 2177.0h2.1v2.1h-2.1zM376.4 2177.0h2.1v2.1h-2.1zM388.2 2177.0h2.1v2.1h-2.1zM342.7 2179.0h2.1v2.1h-2.1zM352.6 2179.0h2.1v2.1h-2.1zM356.6 2179.0h2.1v2.1h-2.1zM362.5 2179.0h2.1v2.1h-2.1zM364.5 2179.0h2.1v2.1h-2.1zM368.5 2179.0h2.1v2.1h-2.1zM372.4 2179.0h2.1v2.1h-2.1zM378.4 2179.0h2.1v2.1h-2.1zM382.3 2179.0h2.1v2.1h-2.1zM352.6 2180.9h2.1v2.1h-2.1zM354.6 2180.9h2.1v2.1h-2.1zM368.5 2180.9h2.1v2.1h-2.1zM370.4 2180.9h2.1v2.1h-2.1zM380.3 2180.9h2.1v2.1h-2.1zM352.6 2182.9h2.1v2.1h-2.1zM358.6 2182.9h2.1v2.1h-2.1zM372.4 2182.9h2.1v2.1h-2.1zM378.4 2184.8h2.1v2.1h-2.1zM414.0 2184.8h2.1v2.1h-2.1zM378.4 2186.8h2.1v2.1h-2.1zM336.8 2188.7h2.1v2.1h-2.1zM352.6 2188.7h2.1v2.1h-2.1zM356.6 2188.7h2.1v2.1h-2.1zM336.8 2192.6h2.1v2.1h-2.1zM346.7 2192.6h2.1v2.1h-2.1zM354.6 2192.6h2.1v2.1h-2.1zM358.6 2192.6h2.1v2.1h-2.1zM376.4 2192.6h2.1v2.1h-2.1zM380.3 2192.6h2.1v2.1h-2.1zM414.0 2192.6h2.1v2.1h-2.1zM364.5 2194.6h2.1v2.1h-2.1zM368.5 2194.6h2.1v2.1h-2.1zM392.2 2194.6h2.1v2.1h-2.1zM364.5 2196.5h2.1v2.1h-2.1zM366.5 2196.5h2.1v2.1h-2.1zM376.4 2196.5h2.1v2.1h-2.1zM380.3 2196.5h2.1v2.1h-2.1zM390.2 2198.5h2.1v2.1h-2.1zM372.4 2200.4h2.1v2.1h-2.1zM376.4 2200.4h2.1v2.1h-2.1zM384.3 2200.4h2.1v2.1h-2.1zM394.2 2200.4h2.1v2.1h-2.1z"/>
<path fill="#bfbfff" d="M344.7 2077.5h2.1v2.1h-2.1zM356.6 2085.3h2.1v2.1h-2.1zM414.0 2085.3h2.1v2.1h-2.1zM402.1 2087.3h2.1v2.1h-2.1zM415.9 2087.3h2.1v2.1h-2.1zM392.2 2093.1h2.1v2.1h-2.1zM356.6 2095.1h2.1v2.1h-2.1zM360.6 2097.0h2.1v2.1h-2.1zM400.1 2099.0h2.1v2.1h-2.1zM362.5 2100.9h2.1v2.1h-2.1zM388.2 2100.9h2.1v2.1h-2.1zM378.4 2102.9h2.1v2.1h-2.1zM354.6 2104.8h2.1v2.1h-2.1zM356.6 2104.8h2.1v2.1h-2.1zM360.6 2104.8h2.1v2.1h-2.1zM376.4 2106.8h2.1v2.1h-2.1zM392.2 2106.8h2.1v2.1h-2.1zM414.0 2106.8h2.1v2.1h-2.1zM362.5 2108.7h2.1v2.1h-2.1zM376.4 2108.7h2.1v2.1h-2.1zM390.2 2110.7h2.1v2.1h-2.1zM388.2 2114.6h2.1v2.1h-2.1zM392.2 2116.5h2.1v2.1h-2.1zM398.1 2116.5h2.1v2.1h-2.1zM414.0 2116.5h2.1v2.1h-2.1zM364.5 2118.5h2.1v2.1h-2.1zM376.4 2118.5h2.1v2.1h-2.1zM384.3 2118.5h2.1v2.1h-2.1zM417.9 2118.5h2.1v2.1h-2.1zM370.4 2120.4h2.1v2.1h-2.1zM392.2 2120.4h2.1v2.1h-2.1zM412.0 2120.4h2.1v2.1h-2.1zM368.5 2122.4h2.1v2.1h-2.1zM417.9 2122.4h2.1v2.1h-2.1zM366.5 2124.3h2.1v2.1h-2.1zM408.0 2124.3h2.1v2.1h-2.1zM350.7 2126.3h2.1v2.1h-2.1zM400.1 2126.3h2.1v2.1h-2.1zM402.1 2126.3h2.1v2.1h-2.1zM406.1 2126.3h2.1v2.1h-2.1zM410.0 2126.3h2.1v2.1h-2.1zM412.0 2126.3h2.1v2.1h-2.1zM414.0 2126.3h2.1v2.1h-2.1zM400.1 2128.2h2.1v2.1h-2.1zM406.1 2128.2h2.1v2.1h-2.1zM376.4 2130.2h2.1v2.1h-2.1zM382.3 2130.2h2.1v2.1h-2.1zM404.1 2130.2h2.1v2.1h-2.1zM392.2 2132.1h2.1v2.1h-2.1zM396.2 2132.1h2.1v2.1h-2.1zM404.1 2132.1h2.1v2.1h-2.1zM408.0 2132.1h2.1v2.1h-2.1zM354.6 2134.1h2.1v2.1h-2.1zM370.4 2134.1h2.1v2.1h-2.1zM388.2 2134.1h2.1v2.1h-2.1zM392.2 2134.1h2.1v2.1h-2.1zM398.1 2134.1h2.1v2.1h-2.1zM404.1 2134.1h2.1v2.1h-2.1zM417.9 2134.1h2.1v2.1h-2.1zM386.3 2136.0h2.1v2.1h-2.1zM388.2 2136.0h2.1v2.1h-2.1zM406.1 2138.0h2.1v2.1h-2.1zM408.0 2138.0h2.1v2.1h-2.1zM412.0 2138.0h2.1v2.1h-2.1zM415.9 2138.0h2.1v2.1h-2.1zM417.9 2138.0h2.1v2.1h-2.1zM380.3 2139.9h2.1v2.1h-2.1zM400.1 2139.9h2.1v2.1h-2.1zM415.9 2139.9h2.1v2.1h-2.1zM388.2 2141.9h2.1v2.1h-2.1zM390.2 2141.9h2.1v2.1h-2.1zM396.2 2141.9h2.1v2.1h-2.1zM400.1 2141.9h2.1v2.1h-2.1zM408.0 2141.9h2.1v2.1h-2.1zM415.9 2141.9h2.1v2.1h-2.1zM354.6 2143.9h2.1v2.1h-2.1zM388.2 2143.9h2.1v2.1h-2.1zM396.2 2143.9h2.1v2.1h-2.1zM414.0 2143.9h2.1v2.1h-2.1zM398.1 2145.8h2.1v2.1h-2.1zM400.1 2145.8h2.1v2.1h-2.1zM402.1 2145.8h2.1v2.1h-2.1zM364.5 2147.8h2.1v2.1h-2.1zM386.3 2147.8h2.1v2.1h-2.1zM410.0 2147.8h2.1v2.1h-2.1zM412.0 2147.8h2.1v2.1h-2.1zM414.0 2147.8h2.1v2.1h-2.1zM417.9 2147.8h2.1v2.1h-2.1zM396.2 2149.7h2.1v2.1h-2.1zM408.0 2149.7h2.1v2.1h-2.1zM415.9 2149.7h2.1v2.1h-2.1zM330.9 2151.7h2.1v2.1h-2.1zM358.6 2151.7h2.1v2.1h-2.1zM406.1 2151.7h2.1v2.1h-2.1zM415.9 2151.7h2.1v2.1h-2.1zM366.5 2153.6h2.1v2.1h-2.1zM368.5 2153.6h2.1v2.1h-2.1zM374.4 2153.6h2.1v2.1h-2.1zM392.2 2153.6h2.1v2.1h-2.1zM412.0 2153.6h2.1v2.1h-2.1zM414.0 2153.6h2.1v2.1h-2.1zM384.3 2155.6h2.1v2.1h-2.1zM390.2 2155.6h2.1v2.1h-2.1zM396.2 2155.6h2.1v2.1h-2.1zM404.1 2155.6h2.1v2.1h-2.1zM415.9 2155.6h2.1v2.1h-2.1zM352.6 2157.5h2.1v2.1h-2.1zM362.5 2157.5h2.1v2.1h-2.1zM402.1 2157.5h2.1v2.1h-2.1zM410.0 2157.5h2.1v2.1h-2.1zM362.5 2159.5h2.1v2.1h-2.1zM364.5 2159.5h2.1v2.1h-2.1zM417.9 2159.5h2.1v2.1h-2.1zM356.6 2161.4h2.1v2.1h-2.1zM408.0 2161.4h2.1v2.1h-2.1zM372.4 2163.4h2.1v2.1h-2.1zM380.3 2163.4h2.1v2.1h-2.1zM396.2 2163.4h2.1v2.1h-2.1zM398.1 2163.4h2.1v2.1h-2.1zM408.0 2163.4h2.1v2.1h-2.1zM364.5 2165.3h2.1v2.1h-2.1zM366.5 2165.3h2.1v2.1h-2.1zM378.4 2165.3h2.1v2.1h-2.1zM404.1 2165.3h2.1v2.1h-2.1zM352.6 2167.3h2.1v2.1h-2.1zM356.6 2167.3h2.1v2.1h-2.1zM382.3 2167.3h2.1v2.1h-2.1zM400.1 2167.3h2.1v2.1h-2.1zM408.0 2167.3h2.1v2.1h-2.1zM370.4 2169.2h2.1v2.1h-2.1zM392.2 2169.2h2.1v2.1h-2.1zM396.2 2169.2h2.1v2.1h-2.1zM404.1 2169.2h2.1v2.1h-2.1zM348.7 2171.2h2.1v2.1h-2.1zM408.0 2171.2h2.1v2.1h-2.1zM370.4 2173.1h2.1v2.1h-2.1zM386.3 2173.1h2.1v2.1h-2.1zM390.2 2173.1h2.1v2.1h-2.1zM356.6 2175.1h2.1v2.1h-2.1zM390.2 2175.1h2.1v2.1h-2.1zM404.1 2175.1h2.1v2.1h-2.1zM410.0 2175.1h2.1v2.1h-2.1zM402.1 2177.0h2.1v2.1h-2.1zM417.9 2179.0h2.1v2.1h-2.1zM366.5 2180.9h2.1v2.1h-2.1zM396.2 2180.9h2.1v2.1h-2.1zM402.1 2180.9h2.1v2.1h-2.1zM408.0 2180.9h2.1v2.1h-2.1zM414.0 2180.9h2.1v2.1h-2.1zM378.4 2182.9h2.1v2.1h-2.1zM406.1 2182.9h2.1v2.1h-2.1zM414.0 2182.9h2.1v2.1h-2.1zM356.6 2184.8h2.1v2.1h-2.1zM374.4 2184.8h2.1v2.1h-2.1zM376.4 2184.8h2.1v2.1h-2.1zM390.2 2184.8h2.1v2.1h-2.1zM408.0 2184.8h2.1v2.1h-2.1zM342.7 2186.8h2.1v2.1h-2.1zM406.1 2186.8h2.1v2.1h-2.1zM415.9 2186.8h2.1v2.1h-2.1zM360.6 2188.7h2.1v2.1h-2.1zM368.5 2188.7h2.1v2.1h-2.1zM372.4 2188.7h2.1v2.1h-2.1zM386.3 2188.7h2.1v2.1h-2.1zM408.0 2188.7h2.1v2.1h-2.1zM354.6 2190.7h2.1v2.1h-2.1zM404.1 2190.7h2.1v2.1h-2.1zM414.0 2190.7h2.1v2.1h-2.1zM364.5 2192.6h2.1v2.1h-2.1zM370.4 2192.6h2.1v2.1h-2.1zM415.9 2192.6h2.1v2.1h-2.1zM358.6 2194.6h2.1v2.1h-2.1zM370.4 2194.6h2.1v2.1h-2.1zM402.1 2194.6h2.1v2.1h-2.1zM415.9 2194.6h2.1v2.1h-2.1zM368.5 2196.5h2.1v2.1h-2.1zM398.1 2196.5h2.1v2.1h-2.1zM402.1 2196.5h2.1v2.1h-2.1zM414.0 2196.5h2.1v2.1h-2.1zM364.5 2198.5h2.1v2.1h-2.1zM384.3 2198.5h2.1v2.1h-2.1zM394.2 2198.5h2.1v2.1h-2.1zM400.1 2198.5h2.1v2.1h-2.1zM404.1 2198.5h2.1v2.1h-2.1zM406.1 2198.5h2.1v2.1h-2.1zM408.0 2198.5h2.1v2.1h-2.1zM414.0 2198.5h2.1v2.1h-2.1zM364.5 2200.4h2.1v2.1h-2.1zM386.3 2200.4h2.1v2.1h-2.1zM414.0 2200.4h2.1v2.1h-2.1zM417.9 2200.4h2.1v2.1h-2.1z"/>
<path fill="#eaeaff" d="M350.7 2077.5h2.1v2.1h-2.1zM358.6 2077.5h2.1v2.1h-2.1zM362.5 2077.5h2.1v2.1h-2.1zM370.4 2077.5h2.1v2.1h-2.1zM388.2 2077.5h2.1v2.1h-2.1zM340.8 2079.5h2.1v2.1h-2.1zM350.7 2079.5h2.1v2.1h-2.1zM374.4 2079.5h2.1v2.1h-2.1zM388.2 2079.5h2.1v2.1h-2.1zM394.2 2079.5h2.1v2.1h-2.1zM352.6 2081.4h2.1v2.1h-2.1zM360.6 2081.4h2.1v2.1h-2.1zM374.4 2081.4h2.1v2.1h-2.1zM404.1 2081.4h2.1v2.1h-2.1zM350.7 2083.4h2.1v2.1h-2.1zM362.5 2083.4h2.1v2.1h-2.1zM366.5 2085.3h2.1v2.1h-2.1zM370.4 2085.3h2.1v2.1h-2.1zM372.4 2085.3h2.1v2.1h-2.1zM388.2 2085.3h2.1v2.1h-2.1zM344.7 2087.3h2.1v2.1h-2.1zM382.3 2087.3h2.1v2.1h-2.1zM342.7 2089.2h2.1v2.1h-2.1zM356.6 2089.2h2.1v2.1h-2.1zM360.6 2089.2h2.1v2.1h-2.1zM392.2 2089.2h2.1v2.1h-2.1zM394.2 2089.2h2.1v2.1h-2.1zM376.4 2091.2h2.1v2.1h-2.1zM384.3 2091.2h2.1v2.1h-2.1zM394.2 2091.2h2.1v2.1h-2.1zM414.0 2091.2h2.1v2.1h-2.1zM382.3 2093.1h2.1v2.1h-2.1zM415.9 2093.1h2.1v2.1h-2.1zM374.4 2095.1h2.1v2.1h-2.1zM392.2 2095.1h2.1v2.1h-2.1zM344.7 2097.0h2.1v2.1h-2.1zM388.2 2097.0h2.1v2.1h-2.1zM414.0 2097.0h2.1v2.1h-2.1zM362.5 2099.0h2.1v2.1h-2.1zM376.4 2099.0h2.1v2.1h-2.1zM388.2 2099.0h2.1v2.1h-2.1zM344.7 2100.9h2.1v2.1h-2.1zM376.4 2100.9h2.1v2.1h-2.1zM380.3 2100.9h2.1v2.1h-2.1zM348.7 2102.9h2.1v2.1h-2.1zM382.3 2102.9h2.1v2.1h-2.1zM386.3 2102.9h2.1v2.1h-2.1zM392.2 2102.9h2.1v2.1h-2.1zM352.6 2104.8h2.1v2.1h-2.1zM364.5 2104.8h2.1v2.1h-2.1zM366.5 2104.8h2.1v2.1h-2.1zM382.3 2104.8h2.1v2.1h-2.1zM360.6 2106.8h2.1v2.1h-2.1zM378.4 2106.8h2.1v2.1h-2.1zM382.3 2106.8h2.1v2.1h-2.1zM390.2 2106.8h2.1v2.1h-2.1zM360.6 2108.7h2.1v2.1h-2.1zM370.4 2108.7h2.1v2.1h-2.1zM414.0 2108.7h2.1v2.1h-2.1zM415.9 2108.7h2.1v2.1h-2.1zM352.6 2110.7h2.1v2.1h-2.1zM358.6 2110.7h2.1v2.1h-2.1zM374.4 2110.7h2.1v2.1h-2.1zM376.4 2110.7h2.1v2.1h-2.1zM392.2 2110.7h2.1v2.1h-2.1zM352.6 2112.6h2.1v2.1h-2.1zM354.6 2112.6h2.1v2.1h-2.1zM358.6 2112.6h2.1v2.1h-2.1zM360.6 2112.6h2.1v2.1h-2.1zM374.4 2112.6h2.1v2.1h-2.1zM384.3 2112.6h2.1v2.1h-2.1zM386.3 2112.6h2.1v2.1h-2.1zM344.7 2114.6h2.1v2.1h-2.1zM350.7 2114.6h2.1v2.1h-2.1zM358.6 2114.6h2.1v2.1h-2.1zM358.6 2116.5h2.1v2.1h-2.1zM360.6 2118.5h2.1v2.1h-2.1zM370.4 2118.5h2.1v2.1h-2.1zM388.2 2118.5h2.1v2.1h-2.1zM356.6 2120.4h2.1v2.1h-2.1zM354.6 2122.4h2.1v2.1h-2.1zM380.3 2124.3h2.1v2.1h-2.1zM334.8 2126.3h2.1v2.1h-2.1zM360.6 2126.3h2.1v2.1h-2.1zM364.5 2126.3h2.1v2.1h-2.1zM382.3 2126.3h2.1v2.1h-2.1zM384.3 2126.3h2.1v2.1h-2.1zM390.2 2126.3h2.1v2.1h-2.1zM417.9 2126.3h2.1v2.1h-2.1zM372.4 2128.2h2.1v2.1h-2.1zM388.2 2128.2h2.1v2.1h-2.1zM415.9 2128.2h2.1v2.1h-2.1zM354.6 2130.2h2.1v2.1h-2.1zM374.4 2130.2h2.1v2.1h-2.1zM392.2 2130.2h2.1v2.1h-2.1zM352.6 2132.1h2.1v2.1h-2.1zM354.6 2132.1h2.1v2.1h-2.1zM358.6 2132.1h2.1v2.1h-2.1zM362.5 2132.1h2.1v2.1h-2.1zM374.4 2132.1h2.1v2.1h-2.1zM414.0 2132.1h2.1v2.1h-2.1zM417.9 2132.1h2.1v2.1h-2.1zM330.9 2134.1h2.1v2.1h-2.1zM415.9 2134.1h2.1v2.1h-2.1zM330.9 2136.0h2.1v2.1h-2.1zM364.5 2136.0h2.1v2.1h-2.1zM372.4 2136.0h2.1v2.1h-2.1zM364.5 2138.0h2.1v2.1h-2.1zM340.8 2141.9h2.1v2.1h-2.1zM354.6 2141.9h2.1v2.1h-2.1zM380.3 2141.9h2.1v2.1h-2.1zM382.3 2141.9h2.1v2.1h-2.1zM414.0 2141.9h2.1v2.1h-2.1zM417.9 2141.9h2.1v2.1h-2.1zM336.8 2143.9h2.1v2.1h-2.1zM352.6 2143.9h2.1v2.1h-2.1zM374.4 2143.9h2.1v2.1h-2.1zM376.4 2143.9h2.1v2.1h-2.1zM356.6 2145.8h2.1v2.1h-2.1zM378.4 2145.8h2.1v2.1h-2.1zM417.9 2145.8h2.1v2.1h-2.1zM360.6 2147.8h2.1v2.1h-2.1zM380.3 2147.8h2.1v2.1h-2.1zM354.6 2149.7h2.1v2.1h-2.1zM358.6 2149.7h2.1v2.1h-2.1zM366.5 2149.7h2.1v2.1h-2.1zM378.4 2149.7h2.1v2.1h-2.1zM388.2 2149.7h2.1v2.1h-2.1zM414.0 2149.7h2.1v2.1h-2.1zM380.3 2151.7h2.1v2.1h-2.1zM364.5 2153.6h2.1v2.1h-2.1zM415.9 2153.6h2.1v2.1h-2.1zM417.9 2155.6h2.1v2.1h-2.1zM356.6 2157.5h2.1v2.1h-2.1zM358.6 2157.5h2.1v2.1h-2.1zM364.5 2157.5h2.1v2.1h-2.1zM388.2 2157.5h2.1v2.1h-2.1zM414.0 2157.5h2.1v2.1h-2.1zM330.9 2159.5h2.1v2.1h-2.1zM394.2 2159.5h2.1v2.1h-2.1zM332.9 2161.4h2.1v2.1h-2.1zM336.8 2163.4h2.1v2.1h-2.1zM340.8 2163.4h2.1v2.1h-2.1zM358.6 2163.4h2.1v2.1h-2.1zM384.3 2165.3h2.1v2.1h-2.1zM414.0 2165.3h2.1v2.1h-2.1zM415.9 2165.3h2.1v2.1h-2.1zM417.9 2165.3h2.1v2.1h-2.1zM376.4 2167.3h2.1v2.1h-2.1zM414.0 2167.3h2.1v2.1h-2.1zM362.5 2169.2h2.1v2.1h-2.1zM332.9 2171.2h2.1v2.1h-2.1zM336.8 2171.2h2.1v2.1h-2.1zM390.2 2171.2h2.1v2.1h-2.1zM414.0 2171.2h2.1v2.1h-2.1zM342.7 2175.1h2.1v2.1h-2.1zM354.6 2175.1h2.1v2.1h-2.1zM366.5 2175.1h2.1v2.1h-2.1zM417.9 2175.1h2.1v2.1h-2.1zM344.7 2177.0h2.1v2.1h-2.1zM352.6 2177.0h2.1v2.1h-2.1zM394.2 2177.0h2.1v2.1h-2.1zM354.6 2179.0h2.1v2.1h-2.1zM392.2 2179.0h2.1v2.1h-2.1zM415.9 2179.0h2.1v2.1h-2.1zM382.3 2180.9h2.1v2.1h-2.1zM390.2 2180.9h2.1v2.1h-2.1zM394.2 2180.9h2.1v2.1h-2.1zM415.9 2180.9h2.1v2.1h-2.1zM380.3 2182.9h2.1v2.1h-2.1zM386.3 2182.9h2.1v2.1h-2.1zM415.9 2182.9h2.1v2.1h-2.1zM336.8 2184.8h2.1v2.1h-2.1zM340.8 2184.8h2.1v2.1h-2.1zM384.3 2184.8h2.1v2.1h-2.1zM415.9 2184.8h2.1v2.1h-2.1zM360.6 2186.8h2.1v2.1h-2.1zM392.2 2186.8h2.1v2.1h-2.1zM414.0 2186.8h2.1v2.1h-2.1zM334.8 2188.7h2.1v2.1h-2.1zM378.4 2188.7h2.1v2.1h-2.1zM344.7 2190.7h2.1v2.1h-2.1zM348.7 2190.7h2.1v2.1h-2.1zM360.6 2190.7h2.1v2.1h-2.1zM370.4 2190.7h2.1v2.1h-2.1zM386.3 2190.7h2.1v2.1h-2.1zM388.2 2190.7h2.1v2.1h-2.1zM374.4 2192.6h2.1v2.1h-2.1zM392.2 2192.6h2.1v2.1h-2.1zM352.6 2194.6h2.1v2.1h-2.1zM360.6 2194.6h2.1v2.1h-2.1zM376.4 2194.6h2.1v2.1h-2.1zM378.4 2194.6h2.1v2.1h-2.1zM396.2 2194.6h2.1v2.1h-2.1zM336.8 2196.5h2.1v2.1h-2.1zM370.4 2196.5h2.1v2.1h-2.1zM415.9 2196.5h2.1v2.1h-2.1zM417.9 2196.5h2.1v2.1h-2.1zM348.7 2198.5h2.1v2.1h-2.1zM352.6 2198.5h2.1v2.1h-2.1zM360.6 2198.5h2.1v2.1h-2.1zM362.5 2198.5h2.1v2.1h-2.1zM366.5 2198.5h2.1v2.1h-2.1zM372.4 2198.5h2.1v2.1h-2.1zM380.3 2198.5h2.1v2.1h-2.1zM382.3 2198.5h2.1v2.1h-2.1zM392.2 2198.5h2.1v2.1h-2.1zM415.9 2198.5h2.1v2.1h-2.1zM417.9 2198.5h2.1v2.1h-2.1zM346.7 2200.4h2.1v2.1h-2.1zM360.6 2200.4h2.1v2.1h-2.1zM362.5 2200.4h2.1v2.1h-2.1zM368.5 2200.4h2.1v2.1h-2.1zM392.2 2200.4h2.1v2.1h-2.1z"/>
<path fill="#f3a8ae" d="M352.6 2077.5h2.1v2.1h-2.1zM354.6 2077.5h2.1v2.1h-2.1zM364.5 2077.5h2.1v2.1h-2.1zM378.4 2077.5h2.1v2.1h-2.1zM328.9 2079.5h2.1v2.1h-2.1zM334.8 2079.5h2.1v2.1h-2.1zM336.8 2079.5h2.1v2.1h-2.1zM346.7 2079.5h2.1v2.1h-2.1zM370.4 2079.5h2.1v2.1h-2.1zM382.3 2079.5h2.1v2.1h-2.1zM328.9 2081.4h2.1v2.1h-2.1zM380.3 2081.4h2.1v2.1h-2.1zM342.7 2083.4h2.1v2.1h-2.1zM356.6 2083.4h2.1v2.1h-2.1zM372.4 2083.4h2.1v2.1h-2.1zM386.3 2083.4h2.1v2.1h-2.1zM392.2 2083.4h2.1v2.1h-2.1zM350.7 2085.3h2.1v2.1h-2.1zM354.6 2085.3h2.1v2.1h-2.1zM332.9 2087.3h2.1v2.1h-2.1zM334.8 2087.3h2.1v2.1h-2.1zM346.7 2087.3h2.1v2.1h-2.1zM348.7 2087.3h2.1v2.1h-2.1zM328.9 2089.2h2.1v2.1h-2.1zM340.8 2089.2h2.1v2.1h-2.1zM352.6 2089.2h2.1v2.1h-2.1zM384.3 2089.2h2.1v2.1h-2.1zM328.9 2091.2h2.1v2.1h-2.1zM332.9 2091.2h2.1v2.1h-2.1zM342.7 2091.2h2.1v2.1h-2.1zM352.6 2091.2h2.1v2.1h-2.1zM354.6 2091.2h2.1v2.1h-2.1zM328.9 2093.1h2.1v2.1h-2.1zM330.9 2093.1h2.1v2.1h-2.1zM332.9 2093.1h2.1v2.1h-2.1zM334.8 2093.1h2.1v2.1h-2.1zM348.7 2093.1h2.1v2.1h-2.1zM352.6 2093.1h2.1v2.1h-2.1zM354.6 2093.1h2.1v2.1h-2.1zM356.6 2093.1h2.1v2.1h-2.1zM364.5 2093.1h2.1v2.1h-2.1zM338.8 2097.0h2.1v2.1h-2.1zM350.7 2097.0h2.1v2.1h-2.1zM380.3 2097.0h2.1v2.1h-2.1zM390.2 2097.0h2.1v2.1h-2.1zM346.7 2099.0h2.1v2.1h-2.1zM348.7 2099.0h2.1v2.1h-2.1zM358.6 2099.0h2.1v2.1h-2.1zM366.5 2099.0h2.1v2.1h-2.1zM382.3 2099.0h2.1v2.1h-2.1zM332.9 2100.9h2.1v2.1h-2.1zM350.7 2100.9h2.1v2.1h-2.1zM352.6 2100.9h2.1v2.1h-2.1zM356.6 2100.9h2.1v2.1h-2.1zM366.5 2100.9h2.1v2.1h-2.1zM370.4 2100.9h2.1v2.1h-2.1zM372.4 2100.9h2.1v2.1h-2.1zM338.8 2102.9h2.1v2.1h-2.1zM356.6 2102.9h2.1v2.1h-2.1zM366.5 2102.9h2.1v2.1h-2.1zM336.8 2104.8h2.1v2.1h-2.1zM338.8 2104.8h2.1v2.1h-2.1zM344.7 2104.8h2.1v2.1h-2.1zM338.8 2106.8h2.1v2.1h-2.1zM346.7 2106.8h2.1v2.1h-2.1zM348.7 2106.8h2.1v2.1h-2.1zM368.5 2106.8h2.1v2.1h-2.1zM334.8 2108.7h2.1v2.1h-2.1zM346.7 2108.7h2.1v2.1h-2.1zM334.8 2110.7h2.1v2.1h-2.1zM342.7 2110.7h2.1v2.1h-2.1zM364.5 2110.7h2.1v2.1h-2.1zM336.8 2112.6h2.1v2.1h-2.1zM338.8 2112.6h2.1v2.1h-2.1zM346.7 2116.5h2.1v2.1h-2.1zM350.7 2116.5h2.1v2.1h-2.1zM368.5 2116.5h2.1v2.1h-2.1zM372.4 2116.5h2.1v2.1h-2.1zM380.3 2116.5h2.1v2.1h-2.1zM352.6 2118.5h2.1v2.1h-2.1zM354.6 2120.4h2.1v2.1h-2.1zM360.6 2120.4h2.1v2.1h-2.1zM384.3 2120.4h2.1v2.1h-2.1zM388.2 2120.4h2.1v2.1h-2.1zM342.7 2124.3h2.1v2.1h-2.1zM350.7 2124.3h2.1v2.1h-2.1zM362.5 2124.3h2.1v2.1h-2.1zM384.3 2124.3h2.1v2.1h-2.1zM340.8 2126.3h2.1v2.1h-2.1zM392.2 2126.3h2.1v2.1h-2.1zM328.9 2128.2h2.1v2.1h-2.1zM386.3 2128.2h2.1v2.1h-2.1zM336.8 2130.2h2.1v2.1h-2.1zM360.6 2130.2h2.1v2.1h-2.1zM372.4 2130.2h2.1v2.1h-2.1zM378.4 2130.2h2.1v2.1h-2.1zM386.3 2130.2h2.1v2.1h-2.1zM394.2 2130.2h2.1v2.1h-2.1zM334.8 2132.1h2.1v2.1h-2.1zM340.8 2132.1h2.1v2.1h-2.1zM342.7 2132.1h2.1v2.1h-2.1zM356.6 2132.1h2.1v2.1h-2.1zM376.4 2132.1h2.1v2.1h-2.1zM342.7 2134.1h2.1v2.1h-2.1zM360.6 2134.1h2.1v2.1h-2.1zM392.2 2136.0h2.1v2.1h-2.1zM348.7 2138.0h2.1v2.1h-2.1zM370.4 2138.0h2.1v2.1h-2.1zM330.9 2139.9h2.1v2.1h-2.1zM336.8 2139.9h2.1v2.1h-2.1zM368.5 2139.9h2.1v2.1h-2.1zM394.2 2139.9h2.1v2.1h-2.1zM332.9 2141.9h2.1v2.1h-2.1zM378.4 2141.9h2.1v2.1h-2.1zM334.8 2143.9h2.1v2.1h-2.1zM358.6 2143.9h2.1v2.1h-2.1zM384.3 2143.9h2.1v2.1h-2.1zM332.9 2145.8h2.1v2.1h-2.1zM340.8 2145.8h2.1v2.1h-2.1zM348.7 2147.8h2.1v2.1h-2.1zM328.9 2149.7h2.1v2.1h-2.1zM332.9 2149.7h2.1v2.1h-2.1zM338.8 2149.7h2.1v2.1h-2.1zM340.8 2149.7h2.1v2.1h-2.1zM370.4 2149.7h2.1v2.1h-2.1zM332.9 2151.7h2.1v2.1h-2.1zM354.6 2151.7h2.1v2.1h-2.1zM394.2 2151.7h2.1v2.1h-2.1zM328.9 2153.6h2.1v2.1h-2.1zM334.8 2153.6h2.1v2.1h-2.1zM340.8 2153.6h2.1v2.1h-2.1zM352.6 2153.6h2.1v2.1h-2.1zM332.9 2155.6h2.1v2.1h-2.1zM338.8 2159.5h2.1v2.1h-2.1zM344.7 2159.5h2.1v2.1h-2.1zM374.4 2159.5h2.1v2.1h-2.1zM378.4 2159.5h2.1v2.1h-2.1zM390.2 2159.5h2.1v2.1h-2.1zM338.8 2161.4h2.1v2.1h-2.1zM342.7 2163.4h2.1v2.1h-2.1zM352.6 2163.4h2.1v2.1h-2.1zM360.6 2163.4h2.1v2.1h-2.1zM366.5 2163.4h2.1v2.1h-2.1zM390.2 2163.4h2.1v2.1h-2.1zM334.8 2165.3h2.1v2.1h-2.1zM344.7 2165.3h2.1v2.1h-2.1zM354.6 2165.3h2.1v2.1h-2.1zM360.6 2165.3h2.1v2.1h-2.1zM368.5 2165.3h2.1v2.1h-2.1zM382.3 2165.3h2.1v2.1h-2.1zM386.3 2165.3h2.1v2.1h-2.1zM346.7 2167.3h2.1v2.1h-2.1zM350.7 2167.3h2.1v2.1h-2.1zM378.4 2167.3h2.1v2.1h-2.1zM390.2 2167.3h2.1v2.1h-2.1zM340.8 2169.2h2.1v2.1h-2.1zM342.7 2169.2h2.1v2.1h-2.1zM346.7 2169.2h2.1v2.1h-2.1zM352.6 2169.2h2.1v2.1h-2.1zM374.4 2169.2h2.1v2.1h-2.1zM330.9 2171.2h2.1v2.1h-2.1zM350.7 2171.2h2.1v2.1h-2.1zM332.9 2173.1h2.1v2.1h-2.1zM338.8 2173.1h2.1v2.1h-2.1zM342.7 2173.1h2.1v2.1h-2.1zM344.7 2173.1h2.1v2.1h-2.1zM330.9 2175.1h2.1v2.1h-2.1zM336.8 2175.1h2.1v2.1h-2.1zM338.8 2175.1h2.1v2.1h-2.1zM340.8 2175.1h2.1v2.1h-2.1zM388.2 2175.1h2.1v2.1h-2.1zM394.2 2175.1h2.1v2.1h-2.1zM336.8 2177.0h2.1v2.1h-2.1zM350.7 2177.0h2.1v2.1h-2.1zM346.7 2179.0h2.1v2.1h-2.1zM350.7 2179.0h2.1v2.1h-2.1zM374.4 2179.0h2.1v2.1h-2.1zM384.3 2179.0h2.1v2.1h-2.1zM394.2 2179.0h2.1v2.1h-2.1zM340.8 2186.8h2.1v2.1h-2.1zM328.9 2188.7h2.1v2.1h-2.1zM344.7 2188.7h2.1v2.1h-2.1zM362.5 2188.7h2.1v2.1h-2.1zM334.8 2192.6h2.1v2.1h-2.1zM338.8 2192.6h2.1v2.1h-2.1zM348.7 2192.6h2.1v2.1h-2.1zM348.7 2194.6h2.1v2.1h-2.1zM328.9 2196.5h2.1v2.1h-2.1zM388.2 2196.5h2.1v2.1h-2.1zM330.9 2198.5h2.1v2.1h-2.1zM334.8 2198.5h2.1v2.1h-2.1zM356.6 2198.5h2.1v2.1h-2.1zM374.4 2198.5h2.1v2.1h-2.1zM340.8 2200.4h2.1v2.1h-2.1zM388.2 2200.4h2.1v2.1h-2.1z"/>
<path fill="#f2949a" d="M372.4 2077.5h2.1v2.1h-2.1zM364.5 2081.4h2.1v2.1h-2.1zM384.3 2081.4h2.1v2.1h-2.1zM360.6 2091.2h2.1v2.1h-2.1zM328.9 2095.1h2.1v2.1h-2.1zM336.8 2100.9h2.1v2.1h-2.1zM336.8 2114.6h2.1v2.1h-2.1zM336.8 2116.5h2.1v2.1h-2.1zM340.8 2116.5h2.1v2.1h-2.1zM384.3 2116.5h2.1v2.1h-2.1zM336.8 2118.5h2.1v2.1h-2.1zM350.7 2118.5h2.1v2.1h-2.1zM374.4 2118.5h2.1v2.1h-2.1zM390.2 2118.5h2.1v2.1h-2.1zM336.8 2120.4h2.1v2.1h-2.1zM344.7 2120.4h2.1v2.1h-2.1zM348.7 2120.4h2.1v2.1h-2.1zM340.8 2122.4h2.1v2.1h-2.1zM342.7 2122.4h2.1v2.1h-2.1zM346.7 2122.4h2.1v2.1h-2.1zM370.4 2122.4h2.1v2.1h-2.1zM384.3 2122.4h2.1v2.1h-2.1zM386.3 2126.3h2.1v2.1h-2.1zM342.7 2128.2h2.1v2.1h-2.1zM350.7 2128.2h2.1v2.1h-2.1zM352.6 2128.2h2.1v2.1h-2.1zM360.6 2128.2h2.1v2.1h-2.1zM332.9 2130.2h2.1v2.1h-2.1zM344.7 2130.2h2.1v2.1h-2.1zM364.5 2132.1h2.1v2.1h-2.1zM382.3 2132.1h2.1v2.1h-2.1zM328.9 2134.1h2.1v2.1h-2.1zM338.8 2134.1h2.1v2.1h-2.1zM350.7 2134.1h2.1v2.1h-2.1zM390.2 2134.1h2.1v2.1h-2.1zM334.8 2136.0h2.1v2.1h-2.1zM340.8 2136.0h2.1v2.1h-2.1zM348.7 2136.0h2.1v2.1h-2.1zM358.6 2136.0h2.1v2.1h-2.1zM362.5 2136.0h2.1v2.1h-2.1zM330.9 2138.0h2.1v2.1h-2.1zM350.7 2138.0h2.1v2.1h-2.1zM382.3 2138.0h2.1v2.1h-2.1zM328.9 2139.9h2.1v2.1h-2.1zM378.4 2139.9h2.1v2.1h-2.1zM330.9 2143.9h2.1v2.1h-2.1zM342.7 2143.9h2.1v2.1h-2.1zM388.2 2145.8h2.1v2.1h-2.1zM344.7 2147.8h2.1v2.1h-2.1zM340.8 2151.7h2.1v2.1h-2.1zM378.4 2151.7h2.1v2.1h-2.1zM386.3 2151.7h2.1v2.1h-2.1zM390.2 2151.7h2.1v2.1h-2.1zM342.7 2153.6h2.1v2.1h-2.1zM360.6 2153.6h2.1v2.1h-2.1zM394.2 2153.6h2.1v2.1h-2.1zM330.9 2157.5h2.1v2.1h-2.1zM334.8 2157.5h2.1v2.1h-2.1zM346.7 2159.5h2.1v2.1h-2.1zM350.7 2161.4h2.1v2.1h-2.1zM382.3 2161.4h2.1v2.1h-2.1zM348.7 2163.4h2.1v2.1h-2.1zM376.4 2163.4h2.1v2.1h-2.1zM338.8 2165.3h2.1v2.1h-2.1zM362.5 2165.3h2.1v2.1h-2.1zM394.2 2167.3h2.1v2.1h-2.1zM328.9 2169.2h2.1v2.1h-2.1zM350.7 2169.2h2.1v2.1h-2.1zM366.5 2169.2h2.1v2.1h-2.1zM342.7 2171.2h2.1v2.1h-2.1zM330.9 2173.1h2.1v2.1h-2.1zM334.8 2173.1h2.1v2.1h-2.1zM340.8 2173.1h2.1v2.1h-2.1zM352.6 2173.1h2.1v2.1h-2.1zM348.7 2175.1h2.1v2.1h-2.1zM350.7 2175.1h2.1v2.1h-2.1zM364.5 2175.1h2.1v2.1h-2.1zM380.3 2175.1h2.1v2.1h-2.1zM328.9 2177.0h2.1v2.1h-2.1zM348.7 2177.0h2.1v2.1h-2.1zM380.3 2177.0h2.1v2.1h-2.1zM328.9 2179.0h2.1v2.1h-2.1zM330.9 2179.0h2.1v2.1h-2.1zM338.8 2179.0h2.1v2.1h-2.1zM328.9 2180.9h2.1v2.1h-2.1zM344.7 2180.9h2.1v2.1h-2.1zM362.5 2180.9h2.1v2.1h-2.1zM330.9 2182.9h2.1v2.1h-2.1zM332.9 2182.9h2.1v2.1h-2.1zM344.7 2182.9h2.1v2.1h-2.1zM328.9 2184.8h2.1v2.1h-2.1zM334.8 2186.8h2.1v2.1h-2.1zM344.7 2186.8h2.1v2.1h-2.1zM350.7 2186.8h2.1v2.1h-2.1zM392.2 2188.7h2.1v2.1h-2.1zM336.8 2190.7h2.1v2.1h-2.1zM376.4 2190.7h2.1v2.1h-2.1zM328.9 2192.6h2.1v2.1h-2.1zM350.7 2192.6h2.1v2.1h-2.1zM352.6 2192.6h2.1v2.1h-2.1zM330.9 2194.6h2.1v2.1h-2.1zM334.8 2194.6h2.1v2.1h-2.1zM334.8 2196.5h2.1v2.1h-2.1zM338.8 2196.5h2.1v2.1h-2.1zM392.2 2196.5h2.1v2.1h-2.1zM350.7 2198.5h2.1v2.1h-2.1zM378.4 2198.5h2.1v2.1h-2.1zM330.9 2200.4h2.1v2.1h-2.1zM334.8 2200.4h2.1v2.1h-2.1zM336.8 2200.4h2.1v2.1h-2.1z"/>
<path fill="#f16e74" d="M380.3 2077.5h2.1v2.1h-2.1zM368.5 2079.5h2.1v2.1h-2.1zM380.3 2079.5h2.1v2.1h-2.1zM368.5 2081.4h2.1v2.1h-2.1zM328.9 2083.4h2.1v2.1h-2.1zM330.9 2083.4h2.1v2.1h-2.1zM390.2 2083.4h2.1v2.1h-2.1zM336.8 2085.3h2.1v2.1h-2.1zM336.8 2087.3h2.1v2.1h-2.1zM336.8 2089.2h2.1v2.1h-2.1zM366.5 2093.1h2.1v2.1h-2.1zM370.4 2093.1h2.1v2.1h-2.1zM346.7 2097.0h2.1v2.1h-2.1zM328.9 2099.0h2.1v2.1h-2.1zM334.8 2099.0h2.1v2.1h-2.1zM360.6 2099.0h2.1v2.1h-2.1zM346.7 2100.9h2.1v2.1h-2.1zM328.9 2102.9h2.1v2.1h-2.1zM342.7 2102.9h2.1v2.1h-2.1zM368.5 2102.9h2.1v2.1h-2.1zM380.3 2102.9h2.1v2.1h-2.1zM330.9 2104.8h2.1v2.1h-2.1zM332.9 2104.8h2.1v2.1h-2.1zM340.8 2104.8h2.1v2.1h-2.1zM328.9 2106.8h2.1v2.1h-2.1zM328.9 2110.7h2.1v2.1h-2.1zM336.8 2110.7h2.1v2.1h-2.1zM346.7 2110.7h2.1v2.1h-2.1zM340.8 2112.6h2.1v2.1h-2.1zM342.7 2112.6h2.1v2.1h-2.1zM350.7 2112.6h2.1v2.1h-2.1zM334.8 2114.6h2.1v2.1h-2.1zM346.7 2114.6h2.1v2.1h-2.1zM328.9 2116.5h2.1v2.1h-2.1zM348.7 2116.5h2.1v2.1h-2.1zM364.5 2116.5h2.1v2.1h-2.1zM332.9 2118.5h2.1v2.1h-2.1zM334.8 2118.5h2.1v2.1h-2.1zM386.3 2118.5h2.1v2.1h-2.1zM328.9 2120.4h2.1v2.1h-2.1zM344.7 2122.4h2.1v2.1h-2.1zM348.7 2124.3h2.1v2.1h-2.1zM346.7 2126.3h2.1v2.1h-2.1zM376.4 2126.3h2.1v2.1h-2.1zM336.8 2128.2h2.1v2.1h-2.1zM338.8 2130.2h2.1v2.1h-2.1zM348.7 2130.2h2.1v2.1h-2.1zM332.9 2132.1h2.1v2.1h-2.1zM336.8 2138.0h2.1v2.1h-2.1zM340.8 2138.0h2.1v2.1h-2.1zM346.7 2138.0h2.1v2.1h-2.1zM342.7 2139.9h2.1v2.1h-2.1zM374.4 2141.9h2.1v2.1h-2.1zM386.3 2141.9h2.1v2.1h-2.1zM344.7 2143.9h2.1v2.1h-2.1zM346.7 2143.9h2.1v2.1h-2.1zM350.7 2143.9h2.1v2.1h-2.1zM336.8 2145.8h2.1v2.1h-2.1zM346.7 2145.8h2.1v2.1h-2.1zM348.7 2145.8h2.1v2.1h-2.1zM368.5 2145.8h2.1v2.1h-2.1zM328.9 2147.8h2.1v2.1h-2.1zM346.7 2147.8h2.1v2.1h-2.1zM352.6 2147.8h2.1v2.1h-2.1zM352.6 2151.7h2.1v2.1h-2.1zM338.8 2153.6h2.1v2.1h-2.1zM346.7 2153.6h2.1v2.1h-2.1zM386.3 2153.6h2.1v2.1h-2.1zM336.8 2155.6h2.1v2.1h-2.1zM338.8 2155.6h2.1v2.1h-2.1zM334.8 2159.5h2.1v2.1h-2.1zM354.6 2159.5h2.1v2.1h-2.1zM344.7 2161.4h2.1v2.1h-2.1zM332.9 2163.4h2.1v2.1h-2.1zM346.7 2163.4h2.1v2.1h-2.1zM342.7 2165.3h2.1v2.1h-2.1zM340.8 2167.3h2.1v2.1h-2.1zM348.7 2167.3h2.1v2.1h-2.1zM344.7 2169.2h2.1v2.1h-2.1zM348.7 2169.2h2.1v2.1h-2.1zM338.8 2171.2h2.1v2.1h-2.1zM328.9 2175.1h2.1v2.1h-2.1zM332.9 2175.1h2.1v2.1h-2.1zM344.7 2175.1h2.1v2.1h-2.1zM346.7 2175.1h2.1v2.1h-2.1zM362.5 2175.1h2.1v2.1h-2.1zM378.4 2175.1h2.1v2.1h-2.1zM342.7 2177.0h2.1v2.1h-2.1zM364.5 2180.9h2.1v2.1h-2.1zM372.4 2180.9h2.1v2.1h-2.1zM342.7 2182.9h2.1v2.1h-2.1zM336.8 2186.8h2.1v2.1h-2.1zM364.5 2188.7h2.1v2.1h-2.1zM340.8 2192.6h2.1v2.1h-2.1zM346.7 2194.6h2.1v2.1h-2.1zM346.7 2196.5h2.1v2.1h-2.1zM336.8 2198.5h2.1v2.1h-2.1zM340.8 2198.5h2.1v2.1h-2.1zM346.7 2198.5h2.1v2.1h-2.1z"/>
<path fill="#665eff" d="M396.2 2077.5h2.1v2.1h-2.1zM400.1 2077.5h2.1v2.1h-2.1zM396.2 2079.5h2.1v2.1h-2.1zM406.1 2079.5h2.1v2.1h-2.1zM410.0 2079.5h2.1v2.1h-2.1zM417.9 2079.5h2.1v2.1h-2.1zM406.1 2081.4h2.1v2.1h-2.1zM408.0 2081.4h2.1v2.1h-2.1zM410.0 2081.4h2.1v2.1h-2.1zM417.9 2081.4h2.1v2.1h-2.1zM402.1 2083.4h2.1v2.1h-2.1zM406.1 2083.4h2.1v2.1h-2.1zM396.2 2085.3h2.1v2.1h-2.1zM400.1 2085.3h2.1v2.1h-2.1zM402.1 2085.3h2.1v2.1h-2.1zM406.1 2085.3h2.1v2.1h-2.1zM417.9 2085.3h2.1v2.1h-2.1zM404.1 2087.3h2.1v2.1h-2.1zM406.1 2087.3h2.1v2.1h-2.1zM408.0 2087.3h2.1v2.1h-2.1zM412.0 2087.3h2.1v2.1h-2.1zM400.1 2089.2h2.1v2.1h-2.1zM408.0 2089.2h2.1v2.1h-2.1zM398.1 2091.2h2.1v2.1h-2.1zM408.0 2091.2h2.1v2.1h-2.1zM412.0 2091.2h2.1v2.1h-2.1zM408.0 2093.1h2.1v2.1h-2.1zM396.2 2095.1h2.1v2.1h-2.1zM412.0 2095.1h2.1v2.1h-2.1zM396.2 2097.0h2.1v2.1h-2.1zM400.1 2097.0h2.1v2.1h-2.1zM417.9 2099.0h2.1v2.1h-2.1zM398.1 2102.9h2.1v2.1h-2.1zM402.1 2102.9h2.1v2.1h-2.1zM406.1 2108.7h2.1v2.1h-2.1zM417.9 2108.7h2.1v2.1h-2.1zM402.1 2110.7h2.1v2.1h-2.1zM412.0 2110.7h2.1v2.1h-2.1zM417.9 2110.7h2.1v2.1h-2.1zM396.2 2114.6h2.1v2.1h-2.1zM412.0 2114.6h2.1v2.1h-2.1zM410.0 2120.4h2.1v2.1h-2.1zM406.1 2124.3h2.1v2.1h-2.1zM410.0 2130.2h2.1v2.1h-2.1zM362.5 2141.9h2.1v2.1h-2.1zM394.2 2149.7h2.1v2.1h-2.1zM404.1 2149.7h2.1v2.1h-2.1zM400.1 2153.6h2.1v2.1h-2.1zM410.0 2153.6h2.1v2.1h-2.1zM352.6 2155.6h2.1v2.1h-2.1zM372.4 2159.5h2.1v2.1h-2.1zM392.2 2161.4h2.1v2.1h-2.1zM415.9 2161.4h2.1v2.1h-2.1zM406.1 2163.4h2.1v2.1h-2.1zM380.3 2171.2h2.1v2.1h-2.1zM402.1 2171.2h2.1v2.1h-2.1zM400.1 2175.1h2.1v2.1h-2.1zM412.0 2180.9h2.1v2.1h-2.1zM402.1 2182.9h2.1v2.1h-2.1zM372.4 2184.8h2.1v2.1h-2.1zM400.1 2184.8h2.1v2.1h-2.1zM358.6 2186.8h2.1v2.1h-2.1zM417.9 2186.8h2.1v2.1h-2.1zM400.1 2188.7h2.1v2.1h-2.1zM402.1 2188.7h2.1v2.1h-2.1zM362.5 2194.6h2.1v2.1h-2.1zM398.1 2194.6h2.1v2.1h-2.1zM404.1 2194.6h2.1v2.1h-2.1zM372.4 2196.5h2.1v2.1h-2.1zM396.2 2196.5h2.1v2.1h-2.1zM402.1 2200.4h2.1v2.1h-2.1z"/>
<path fill="#8884ff" d="M398.1 2077.5h2.1v2.1h-2.1zM402.1 2077.5h2.1v2.1h-2.1zM406.1 2077.5h2.1v2.1h-2.1zM398.1 2079.5h2.1v2.1h-2.1zM400.1 2079.5h2.1v2.1h-2.1zM402.1 2079.5h2.1v2.1h-2.1zM415.9 2079.5h2.1v2.1h-2.1zM402.1 2081.4h2.1v2.1h-2.1zM415.9 2081.4h2.1v2.1h-2.1zM396.2 2083.4h2.1v2.1h-2.1zM415.9 2083.4h2.1v2.1h-2.1zM398.1 2085.3h2.1v2.1h-2.1zM404.1 2085.3h2.1v2.1h-2.1zM412.0 2085.3h2.1v2.1h-2.1zM417.9 2087.3h2.1v2.1h-2.1zM410.0 2089.2h2.1v2.1h-2.1zM412.0 2089.2h2.1v2.1h-2.1zM362.5 2091.2h2.1v2.1h-2.1zM396.2 2093.1h2.1v2.1h-2.1zM398.1 2093.1h2.1v2.1h-2.1zM410.0 2093.1h2.1v2.1h-2.1zM417.9 2093.1h2.1v2.1h-2.1zM398.1 2095.1h2.1v2.1h-2.1zM408.0 2095.1h2.1v2.1h-2.1zM410.0 2095.1h2.1v2.1h-2.1zM356.6 2097.0h2.1v2.1h-2.1zM358.6 2097.0h2.1v2.1h-2.1zM402.1 2097.0h2.1v2.1h-2.1zM406.1 2097.0h2.1v2.1h-2.1zM408.0 2097.0h2.1v2.1h-2.1zM412.0 2097.0h2.1v2.1h-2.1zM417.9 2097.0h2.1v2.1h-2.1zM404.1 2099.0h2.1v2.1h-2.1zM408.0 2099.0h2.1v2.1h-2.1zM410.0 2099.0h2.1v2.1h-2.1zM412.0 2099.0h2.1v2.1h-2.1zM415.9 2099.0h2.1v2.1h-2.1zM398.1 2100.9h2.1v2.1h-2.1zM400.1 2100.9h2.1v2.1h-2.1zM402.1 2100.9h2.1v2.1h-2.1zM408.0 2100.9h2.1v2.1h-2.1zM410.0 2100.9h2.1v2.1h-2.1zM412.0 2100.9h2.1v2.1h-2.1zM417.9 2100.9h2.1v2.1h-2.1zM400.1 2102.9h2.1v2.1h-2.1zM410.0 2102.9h2.1v2.1h-2.1zM396.2 2104.8h2.1v2.1h-2.1zM398.1 2104.8h2.1v2.1h-2.1zM400.1 2104.8h2.1v2.1h-2.1zM417.9 2104.8h2.1v2.1h-2.1zM396.2 2106.8h2.1v2.1h-2.1zM398.1 2106.8h2.1v2.1h-2.1zM402.1 2106.8h2.1v2.1h-2.1zM406.1 2106.8h2.1v2.1h-2.1zM408.0 2106.8h2.1v2.1h-2.1zM410.0 2108.7h2.1v2.1h-2.1zM356.6 2110.7h2.1v2.1h-2.1zM396.2 2110.7h2.1v2.1h-2.1zM398.1 2110.7h2.1v2.1h-2.1zM400.1 2110.7h2.1v2.1h-2.1zM406.1 2110.7h2.1v2.1h-2.1zM408.0 2110.7h2.1v2.1h-2.1zM396.2 2112.6h2.1v2.1h-2.1zM398.1 2112.6h2.1v2.1h-2.1zM400.1 2112.6h2.1v2.1h-2.1zM402.1 2112.6h2.1v2.1h-2.1zM408.0 2112.6h2.1v2.1h-2.1zM412.0 2112.6h2.1v2.1h-2.1zM392.2 2114.6h2.1v2.1h-2.1zM394.2 2114.6h2.1v2.1h-2.1zM402.1 2114.6h2.1v2.1h-2.1zM404.1 2114.6h2.1v2.1h-2.1zM406.1 2114.6h2.1v2.1h-2.1zM410.0 2114.6h2.1v2.1h-2.1zM396.2 2116.5h2.1v2.1h-2.1zM406.1 2116.5h2.1v2.1h-2.1zM410.0 2116.5h2.1v2.1h-2.1zM402.1 2118.5h2.1v2.1h-2.1zM404.1 2118.5h2.1v2.1h-2.1zM398.1 2120.4h2.1v2.1h-2.1zM400.1 2120.4h2.1v2.1h-2.1zM408.0 2120.4h2.1v2.1h-2.1zM404.1 2122.4h2.1v2.1h-2.1zM410.0 2122.4h2.1v2.1h-2.1zM396.2 2124.3h2.1v2.1h-2.1zM400.1 2124.3h2.1v2.1h-2.1zM368.5 2128.2h2.1v2.1h-2.1zM398.1 2128.2h2.1v2.1h-2.1zM417.9 2130.2h2.1v2.1h-2.1zM406.1 2132.1h2.1v2.1h-2.1zM410.0 2132.1h2.1v2.1h-2.1zM396.2 2134.1h2.1v2.1h-2.1zM402.1 2134.1h2.1v2.1h-2.1zM408.0 2134.1h2.1v2.1h-2.1zM414.0 2134.1h2.1v2.1h-2.1zM396.2 2136.0h2.1v2.1h-2.1zM398.1 2136.0h2.1v2.1h-2.1zM400.1 2136.0h2.1v2.1h-2.1zM400.1 2138.0h2.1v2.1h-2.1zM404.1 2138.0h2.1v2.1h-2.1zM404.1 2139.9h2.1v2.1h-2.1zM366.5 2143.9h2.1v2.1h-2.1zM410.0 2143.9h2.1v2.1h-2.1zM360.6 2145.8h2.1v2.1h-2.1zM380.3 2145.8h2.1v2.1h-2.1zM392.2 2145.8h2.1v2.1h-2.1zM412.0 2145.8h2.1v2.1h-2.1zM398.1 2147.8h2.1v2.1h-2.1zM398.1 2149.7h2.1v2.1h-2.1zM402.1 2149.7h2.1v2.1h-2.1zM406.1 2149.7h2.1v2.1h-2.1zM412.0 2149.7h2.1v2.1h-2.1zM384.3 2151.7h2.1v2.1h-2.1zM404.1 2151.7h2.1v2.1h-2.1zM410.0 2151.7h2.1v2.1h-2.1zM378.4 2153.6h2.1v2.1h-2.1zM398.1 2153.6h2.1v2.1h-2.1zM406.1 2155.6h2.1v2.1h-2.1zM410.0 2155.6h2.1v2.1h-2.1zM412.0 2155.6h2.1v2.1h-2.1zM400.1 2159.5h2.1v2.1h-2.1zM402.1 2159.5h2.1v2.1h-2.1zM404.1 2159.5h2.1v2.1h-2.1zM406.1 2159.5h2.1v2.1h-2.1zM412.0 2159.5h2.1v2.1h-2.1zM414.0 2161.4h2.1v2.1h-2.1zM374.4 2163.4h2.1v2.1h-2.1zM412.0 2163.4h2.1v2.1h-2.1zM390.2 2165.3h2.1v2.1h-2.1zM398.1 2165.3h2.1v2.1h-2.1zM400.1 2165.3h2.1v2.1h-2.1zM408.0 2165.3h2.1v2.1h-2.1zM412.0 2165.3h2.1v2.1h-2.1zM412.0 2167.3h2.1v2.1h-2.1zM406.1 2169.2h2.1v2.1h-2.1zM412.0 2169.2h2.1v2.1h-2.1zM415.9 2169.2h2.1v2.1h-2.1zM352.6 2171.2h2.1v2.1h-2.1zM406.1 2171.2h2.1v2.1h-2.1zM396.2 2173.1h2.1v2.1h-2.1zM402.1 2173.1h2.1v2.1h-2.1zM404.1 2173.1h2.1v2.1h-2.1zM408.0 2173.1h2.1v2.1h-2.1zM410.0 2173.1h2.1v2.1h-2.1zM382.3 2175.1h2.1v2.1h-2.1zM384.3 2175.1h2.1v2.1h-2.1zM396.2 2175.1h2.1v2.1h-2.1zM402.1 2175.1h2.1v2.1h-2.1zM406.1 2175.1h2.1v2.1h-2.1zM364.5 2177.0h2.1v2.1h-2.1zM417.9 2177.0h2.1v2.1h-2.1zM398.1 2179.0h2.1v2.1h-2.1zM402.1 2179.0h2.1v2.1h-2.1zM408.0 2179.0h2.1v2.1h-2.1zM398.1 2180.9h2.1v2.1h-2.1zM400.1 2180.9h2.1v2.1h-2.1zM338.8 2182.9h2.1v2.1h-2.1zM364.5 2182.9h2.1v2.1h-2.1zM400.1 2182.9h2.1v2.1h-2.1zM362.5 2184.8h2.1v2.1h-2.1zM398.1 2184.8h2.1v2.1h-2.1zM384.3 2186.8h2.1v2.1h-2.1zM408.0 2186.8h2.1v2.1h-2.1zM410.0 2186.8h2.1v2.1h-2.1zM380.3 2188.7h2.1v2.1h-2.1zM410.0 2188.7h2.1v2.1h-2.1zM382.3 2190.7h2.1v2.1h-2.1zM410.0 2190.7h2.1v2.1h-2.1zM368.5 2192.6h2.1v2.1h-2.1zM372.4 2192.6h2.1v2.1h-2.1zM396.2 2192.6h2.1v2.1h-2.1zM402.1 2192.6h2.1v2.1h-2.1zM410.0 2192.6h2.1v2.1h-2.1zM382.3 2194.6h2.1v2.1h-2.1zM386.3 2194.6h2.1v2.1h-2.1zM408.0 2194.6h2.1v2.1h-2.1zM406.1 2196.5h2.1v2.1h-2.1zM412.0 2196.5h2.1v2.1h-2.1zM396.2 2198.5h2.1v2.1h-2.1zM356.6 2200.4h2.1v2.1h-2.1zM358.6 2200.4h2.1v2.1h-2.1zM382.3 2200.4h2.1v2.1h-2.1zM404.1 2200.4h2.1v2.1h-2.1zM406.1 2200.4h2.1v2.1h-2.1z"/>
<path fill="#4233ff" d="M404.1 2077.5h2.1v2.1h-2.1zM362.5 2118.5h2.1v2.1h-2.1zM372.4 2134.1h2.1v2.1h-2.1zM400.1 2177.0h2.1v2.1h-2.1z"/>
<path fill="#7771ff" d="M408.0 2077.5h2.1v2.1h-2.1zM404.1 2079.5h2.1v2.1h-2.1zM396.2 2081.4h2.1v2.1h-2.1zM398.1 2081.4h2.1v2.1h-2.1zM400.1 2081.4h2.1v2.1h-2.1zM404.1 2083.4h2.1v2.1h-2.1zM408.0 2083.4h2.1v2.1h-2.1zM410.0 2083.4h2.1v2.1h-2.1zM417.9 2083.4h2.1v2.1h-2.1zM408.0 2085.3h2.1v2.1h-2.1zM396.2 2087.3h2.1v2.1h-2.1zM398.1 2087.3h2.1v2.1h-2.1zM400.1 2087.3h2.1v2.1h-2.1zM410.0 2087.3h2.1v2.1h-2.1zM396.2 2089.2h2.1v2.1h-2.1zM398.1 2089.2h2.1v2.1h-2.1zM402.1 2089.2h2.1v2.1h-2.1zM396.2 2091.2h2.1v2.1h-2.1zM400.1 2091.2h2.1v2.1h-2.1zM402.1 2091.2h2.1v2.1h-2.1zM404.1 2091.2h2.1v2.1h-2.1zM406.1 2091.2h2.1v2.1h-2.1zM404.1 2093.1h2.1v2.1h-2.1zM406.1 2093.1h2.1v2.1h-2.1zM412.0 2093.1h2.1v2.1h-2.1zM400.1 2095.1h2.1v2.1h-2.1zM404.1 2095.1h2.1v2.1h-2.1zM406.1 2095.1h2.1v2.1h-2.1zM398.1 2097.0h2.1v2.1h-2.1zM410.0 2097.0h2.1v2.1h-2.1zM414.0 2099.0h2.1v2.1h-2.1zM396.2 2100.9h2.1v2.1h-2.1zM406.1 2100.9h2.1v2.1h-2.1zM396.2 2102.9h2.1v2.1h-2.1zM406.1 2102.9h2.1v2.1h-2.1zM408.0 2102.9h2.1v2.1h-2.1zM404.1 2104.8h2.1v2.1h-2.1zM410.0 2104.8h2.1v2.1h-2.1zM410.0 2106.8h2.1v2.1h-2.1zM402.1 2108.7h2.1v2.1h-2.1zM404.1 2108.7h2.1v2.1h-2.1zM408.0 2108.7h2.1v2.1h-2.1zM412.0 2108.7h2.1v2.1h-2.1zM404.1 2110.7h2.1v2.1h-2.1zM404.1 2112.6h2.1v2.1h-2.1zM406.1 2112.6h2.1v2.1h-2.1zM398.1 2114.6h2.1v2.1h-2.1zM400.1 2114.6h2.1v2.1h-2.1zM406.1 2118.5h2.1v2.1h-2.1zM410.0 2118.5h2.1v2.1h-2.1zM412.0 2122.4h2.1v2.1h-2.1zM404.1 2124.3h2.1v2.1h-2.1zM412.0 2124.3h2.1v2.1h-2.1zM410.0 2128.2h2.1v2.1h-2.1zM402.1 2130.2h2.1v2.1h-2.1zM400.1 2134.1h2.1v2.1h-2.1zM406.1 2134.1h2.1v2.1h-2.1zM406.1 2136.0h2.1v2.1h-2.1zM408.0 2136.0h2.1v2.1h-2.1zM372.4 2141.9h2.1v2.1h-2.1zM398.1 2141.9h2.1v2.1h-2.1zM406.1 2141.9h2.1v2.1h-2.1zM412.0 2141.9h2.1v2.1h-2.1zM412.0 2143.9h2.1v2.1h-2.1zM396.2 2147.8h2.1v2.1h-2.1zM400.1 2147.8h2.1v2.1h-2.1zM404.1 2147.8h2.1v2.1h-2.1zM406.1 2147.8h2.1v2.1h-2.1zM408.0 2151.7h2.1v2.1h-2.1zM408.0 2153.6h2.1v2.1h-2.1zM417.9 2153.6h2.1v2.1h-2.1zM396.2 2157.5h2.1v2.1h-2.1zM404.1 2157.5h2.1v2.1h-2.1zM406.1 2157.5h2.1v2.1h-2.1zM396.2 2159.5h2.1v2.1h-2.1zM398.1 2161.4h2.1v2.1h-2.1zM400.1 2161.4h2.1v2.1h-2.1zM410.0 2161.4h2.1v2.1h-2.1zM406.1 2165.3h2.1v2.1h-2.1zM410.0 2165.3h2.1v2.1h-2.1zM396.2 2167.3h2.1v2.1h-2.1zM402.1 2167.3h2.1v2.1h-2.1zM372.4 2177.0h2.1v2.1h-2.1zM360.6 2179.0h2.1v2.1h-2.1zM404.1 2179.0h2.1v2.1h-2.1zM360.6 2182.9h2.1v2.1h-2.1zM374.4 2182.9h2.1v2.1h-2.1zM412.0 2182.9h2.1v2.1h-2.1zM410.0 2184.8h2.1v2.1h-2.1zM398.1 2186.8h2.1v2.1h-2.1zM388.2 2192.6h2.1v2.1h-2.1zM406.1 2192.6h2.1v2.1h-2.1zM406.1 2194.6h2.1v2.1h-2.1zM362.5 2196.5h2.1v2.1h-2.1zM400.1 2196.5h2.1v2.1h-2.1zM410.0 2196.5h2.1v2.1h-2.1zM358.6 2198.5h2.1v2.1h-2.1zM386.3 2198.5h2.1v2.1h-2.1zM400.1 2200.4h2.1v2.1h-2.1z"/>
<path fill="#5448ff" d="M410.0 2077.5h2.1v2.1h-2.1zM412.0 2077.5h2.1v2.1h-2.1zM412.0 2079.5h2.1v2.1h-2.1zM412.0 2081.4h2.1v2.1h-2.1zM412.0 2083.4h2.1v2.1h-2.1zM406.1 2089.2h2.1v2.1h-2.1zM404.1 2102.9h2.1v2.1h-2.1zM412.0 2102.9h2.1v2.1h-2.1zM412.0 2104.8h2.1v2.1h-2.1zM412.0 2106.8h2.1v2.1h-2.1zM412.0 2118.5h2.1v2.1h-2.1zM356.6 2165.3h2.1v2.1h-2.1zM412.0 2173.1h2.1v2.1h-2.1zM356.6 2180.9h2.1v2.1h-2.1zM396.2 2182.9h2.1v2.1h-2.1zM384.3 2188.7h2.1v2.1h-2.1zM406.1 2188.7h2.1v2.1h-2.1z"/>
<path fill="#d4d4ff" d="M414.0 2077.5h2.1v2.1h-2.1zM415.9 2077.5h2.1v2.1h-2.1zM344.7 2079.5h2.1v2.1h-2.1zM362.5 2079.5h2.1v2.1h-2.1zM414.0 2079.5h2.1v2.1h-2.1zM344.7 2081.4h2.1v2.1h-2.1zM358.6 2081.4h2.1v2.1h-2.1zM362.5 2081.4h2.1v2.1h-2.1zM352.6 2083.4h2.1v2.1h-2.1zM358.6 2083.4h2.1v2.1h-2.1zM358.6 2085.3h2.1v2.1h-2.1zM360.6 2085.3h2.1v2.1h-2.1zM374.4 2087.3h2.1v2.1h-2.1zM388.2 2087.3h2.1v2.1h-2.1zM394.2 2087.3h2.1v2.1h-2.1zM344.7 2089.2h2.1v2.1h-2.1zM380.3 2089.2h2.1v2.1h-2.1zM414.0 2089.2h2.1v2.1h-2.1zM382.3 2091.2h2.1v2.1h-2.1zM386.3 2091.2h2.1v2.1h-2.1zM410.0 2091.2h2.1v2.1h-2.1zM344.7 2093.1h2.1v2.1h-2.1zM374.4 2093.1h2.1v2.1h-2.1zM380.3 2093.1h2.1v2.1h-2.1zM388.2 2093.1h2.1v2.1h-2.1zM394.2 2093.1h2.1v2.1h-2.1zM414.0 2093.1h2.1v2.1h-2.1zM338.8 2095.1h2.1v2.1h-2.1zM358.6 2095.1h2.1v2.1h-2.1zM360.6 2095.1h2.1v2.1h-2.1zM362.5 2095.1h2.1v2.1h-2.1zM382.3 2095.1h2.1v2.1h-2.1zM340.8 2097.0h2.1v2.1h-2.1zM370.4 2097.0h2.1v2.1h-2.1zM372.4 2097.0h2.1v2.1h-2.1zM386.3 2097.0h2.1v2.1h-2.1zM404.1 2097.0h2.1v2.1h-2.1zM344.7 2099.0h2.1v2.1h-2.1zM352.6 2099.0h2.1v2.1h-2.1zM368.5 2099.0h2.1v2.1h-2.1zM374.4 2099.0h2.1v2.1h-2.1zM402.1 2099.0h2.1v2.1h-2.1zM374.4 2100.9h2.1v2.1h-2.1zM382.3 2100.9h2.1v2.1h-2.1zM414.0 2100.9h2.1v2.1h-2.1zM415.9 2100.9h2.1v2.1h-2.1zM414.0 2102.9h2.1v2.1h-2.1zM372.4 2104.8h2.1v2.1h-2.1zM408.0 2104.8h2.1v2.1h-2.1zM415.9 2104.8h2.1v2.1h-2.1zM380.3 2106.8h2.1v2.1h-2.1zM388.2 2106.8h2.1v2.1h-2.1zM415.9 2106.8h2.1v2.1h-2.1zM356.6 2108.7h2.1v2.1h-2.1zM358.6 2108.7h2.1v2.1h-2.1zM378.4 2110.7h2.1v2.1h-2.1zM388.2 2110.7h2.1v2.1h-2.1zM415.9 2110.7h2.1v2.1h-2.1zM362.5 2112.6h2.1v2.1h-2.1zM364.5 2112.6h2.1v2.1h-2.1zM366.5 2112.6h2.1v2.1h-2.1zM388.2 2112.6h2.1v2.1h-2.1zM414.0 2112.6h2.1v2.1h-2.1zM415.9 2112.6h2.1v2.1h-2.1zM417.9 2112.6h2.1v2.1h-2.1zM390.2 2114.6h2.1v2.1h-2.1zM408.0 2114.6h2.1v2.1h-2.1zM414.0 2114.6h2.1v2.1h-2.1zM415.9 2114.6h2.1v2.1h-2.1zM417.9 2114.6h2.1v2.1h-2.1zM370.4 2116.5h2.1v2.1h-2.1zM412.0 2116.5h2.1v2.1h-2.1zM415.9 2116.5h2.1v2.1h-2.1zM396.2 2118.5h2.1v2.1h-2.1zM408.0 2118.5h2.1v2.1h-2.1zM390.2 2120.4h2.1v2.1h-2.1zM414.0 2120.4h2.1v2.1h-2.1zM332.9 2122.4h2.1v2.1h-2.1zM356.6 2122.4h2.1v2.1h-2.1zM360.6 2122.4h2.1v2.1h-2.1zM398.1 2122.4h2.1v2.1h-2.1zM414.0 2122.4h2.1v2.1h-2.1zM415.9 2122.4h2.1v2.1h-2.1zM372.4 2124.3h2.1v2.1h-2.1zM374.4 2124.3h2.1v2.1h-2.1zM376.4 2124.3h2.1v2.1h-2.1zM414.0 2124.3h2.1v2.1h-2.1zM368.5 2126.3h2.1v2.1h-2.1zM374.4 2126.3h2.1v2.1h-2.1zM398.1 2126.3h2.1v2.1h-2.1zM358.6 2128.2h2.1v2.1h-2.1zM396.2 2128.2h2.1v2.1h-2.1zM404.1 2128.2h2.1v2.1h-2.1zM414.0 2128.2h2.1v2.1h-2.1zM364.5 2130.2h2.1v2.1h-2.1zM406.1 2130.2h2.1v2.1h-2.1zM415.9 2130.2h2.1v2.1h-2.1zM328.9 2132.1h2.1v2.1h-2.1zM386.3 2132.1h2.1v2.1h-2.1zM368.5 2134.1h2.1v2.1h-2.1zM360.6 2136.0h2.1v2.1h-2.1zM374.4 2136.0h2.1v2.1h-2.1zM417.9 2136.0h2.1v2.1h-2.1zM390.2 2138.0h2.1v2.1h-2.1zM402.1 2138.0h2.1v2.1h-2.1zM372.4 2139.9h2.1v2.1h-2.1zM384.3 2139.9h2.1v2.1h-2.1zM386.3 2139.9h2.1v2.1h-2.1zM388.2 2139.9h2.1v2.1h-2.1zM402.1 2139.9h2.1v2.1h-2.1zM356.6 2141.9h2.1v2.1h-2.1zM366.5 2141.9h2.1v2.1h-2.1zM364.5 2143.9h2.1v2.1h-2.1zM372.4 2143.9h2.1v2.1h-2.1zM354.6 2145.8h2.1v2.1h-2.1zM370.4 2145.8h2.1v2.1h-2.1zM394.2 2147.8h2.1v2.1h-2.1zM415.9 2147.8h2.1v2.1h-2.1zM382.3 2149.7h2.1v2.1h-2.1zM417.9 2149.7h2.1v2.1h-2.1zM382.3 2151.7h2.1v2.1h-2.1zM388.2 2151.7h2.1v2.1h-2.1zM414.0 2151.7h2.1v2.1h-2.1zM382.3 2153.6h2.1v2.1h-2.1zM358.6 2155.6h2.1v2.1h-2.1zM366.5 2155.6h2.1v2.1h-2.1zM386.3 2155.6h2.1v2.1h-2.1zM414.0 2155.6h2.1v2.1h-2.1zM350.7 2157.5h2.1v2.1h-2.1zM354.6 2157.5h2.1v2.1h-2.1zM366.5 2157.5h2.1v2.1h-2.1zM368.5 2157.5h2.1v2.1h-2.1zM370.4 2157.5h2.1v2.1h-2.1zM378.4 2157.5h2.1v2.1h-2.1zM394.2 2157.5h2.1v2.1h-2.1zM417.9 2157.5h2.1v2.1h-2.1zM356.6 2159.5h2.1v2.1h-2.1zM358.6 2159.5h2.1v2.1h-2.1zM388.2 2159.5h2.1v2.1h-2.1zM415.9 2159.5h2.1v2.1h-2.1zM362.5 2161.4h2.1v2.1h-2.1zM378.4 2161.4h2.1v2.1h-2.1zM415.9 2163.4h2.1v2.1h-2.1zM352.6 2165.3h2.1v2.1h-2.1zM374.4 2165.3h2.1v2.1h-2.1zM394.2 2165.3h2.1v2.1h-2.1zM362.5 2167.3h2.1v2.1h-2.1zM372.4 2167.3h2.1v2.1h-2.1zM358.6 2169.2h2.1v2.1h-2.1zM378.4 2169.2h2.1v2.1h-2.1zM390.2 2169.2h2.1v2.1h-2.1zM408.0 2169.2h2.1v2.1h-2.1zM410.0 2169.2h2.1v2.1h-2.1zM362.5 2171.2h2.1v2.1h-2.1zM382.3 2171.2h2.1v2.1h-2.1zM392.2 2171.2h2.1v2.1h-2.1zM417.9 2171.2h2.1v2.1h-2.1zM354.6 2173.1h2.1v2.1h-2.1zM362.5 2173.1h2.1v2.1h-2.1zM372.4 2173.1h2.1v2.1h-2.1zM368.5 2175.1h2.1v2.1h-2.1zM374.4 2175.1h2.1v2.1h-2.1zM392.2 2175.1h2.1v2.1h-2.1zM398.1 2175.1h2.1v2.1h-2.1zM414.0 2175.1h2.1v2.1h-2.1zM415.9 2175.1h2.1v2.1h-2.1zM354.6 2177.0h2.1v2.1h-2.1zM358.6 2177.0h2.1v2.1h-2.1zM362.5 2177.0h2.1v2.1h-2.1zM386.3 2177.0h2.1v2.1h-2.1zM410.0 2177.0h2.1v2.1h-2.1zM414.0 2177.0h2.1v2.1h-2.1zM332.9 2179.0h2.1v2.1h-2.1zM358.6 2179.0h2.1v2.1h-2.1zM334.8 2180.9h2.1v2.1h-2.1zM360.6 2180.9h2.1v2.1h-2.1zM374.4 2180.9h2.1v2.1h-2.1zM388.2 2180.9h2.1v2.1h-2.1zM417.9 2180.9h2.1v2.1h-2.1zM356.6 2182.9h2.1v2.1h-2.1zM417.9 2182.9h2.1v2.1h-2.1zM354.6 2184.8h2.1v2.1h-2.1zM358.6 2184.8h2.1v2.1h-2.1zM360.6 2184.8h2.1v2.1h-2.1zM338.8 2186.8h2.1v2.1h-2.1zM364.5 2186.8h2.1v2.1h-2.1zM366.5 2186.8h2.1v2.1h-2.1zM376.4 2186.8h2.1v2.1h-2.1zM366.5 2188.7h2.1v2.1h-2.1zM376.4 2188.7h2.1v2.1h-2.1zM415.9 2188.7h2.1v2.1h-2.1zM417.9 2188.7h2.1v2.1h-2.1zM364.5 2190.7h2.1v2.1h-2.1zM372.4 2190.7h2.1v2.1h-2.1zM384.3 2190.7h2.1v2.1h-2.1zM390.2 2190.7h2.1v2.1h-2.1zM417.9 2190.7h2.1v2.1h-2.1zM356.6 2192.6h2.1v2.1h-2.1zM360.6 2192.6h2.1v2.1h-2.1zM366.5 2192.6h2.1v2.1h-2.1zM382.3 2192.6h2.1v2.1h-2.1zM386.3 2192.6h2.1v2.1h-2.1zM394.2 2192.6h2.1v2.1h-2.1zM417.9 2192.6h2.1v2.1h-2.1zM366.5 2194.6h2.1v2.1h-2.1zM414.0 2194.6h2.1v2.1h-2.1zM417.9 2194.6h2.1v2.1h-2.1zM354.6 2198.5h2.1v2.1h-2.1zM354.6 2200.4h2.1v2.1h-2.1zM390.2 2200.4h2.1v2.1h-2.1z"/>
<path fill="#aaaaff" d="M417.9 2077.5h2.1v2.1h-2.1zM414.0 2081.4h2.1v2.1h-2.1zM354.6 2083.4h2.1v2.1h-2.1zM398.1 2083.4h2.1v2.1h-2.1zM415.9 2085.3h2.1v2.1h-2.1zM362.5 2087.3h2.1v2.1h-2.1zM392.2 2087.3h2.1v2.1h-2.1zM414.0 2087.3h2.1v2.1h-2.1zM350.7 2089.2h2.1v2.1h-2.1zM364.5 2089.2h2.1v2.1h-2.1zM404.1 2089.2h2.1v2.1h-2.1zM415.9 2089.2h2.1v2.1h-2.1zM388.2 2091.2h2.1v2.1h-2.1zM415.9 2091.2h2.1v2.1h-2.1zM417.9 2091.2h2.1v2.1h-2.1zM386.3 2093.1h2.1v2.1h-2.1zM400.1 2093.1h2.1v2.1h-2.1zM402.1 2093.1h2.1v2.1h-2.1zM344.7 2095.1h2.1v2.1h-2.1zM415.9 2095.1h2.1v2.1h-2.1zM354.6 2099.0h2.1v2.1h-2.1zM346.7 2102.9h2.1v2.1h-2.1zM362.5 2102.9h2.1v2.1h-2.1zM358.6 2104.8h2.1v2.1h-2.1zM362.5 2104.8h2.1v2.1h-2.1zM402.1 2104.8h2.1v2.1h-2.1zM414.0 2104.8h2.1v2.1h-2.1zM362.5 2106.8h2.1v2.1h-2.1zM374.4 2106.8h2.1v2.1h-2.1zM394.2 2106.8h2.1v2.1h-2.1zM372.4 2108.7h2.1v2.1h-2.1zM378.4 2108.7h2.1v2.1h-2.1zM398.1 2108.7h2.1v2.1h-2.1zM360.6 2110.7h2.1v2.1h-2.1zM362.5 2110.7h2.1v2.1h-2.1zM382.3 2112.6h2.1v2.1h-2.1zM362.5 2114.6h2.1v2.1h-2.1zM402.1 2116.5h2.1v2.1h-2.1zM404.1 2116.5h2.1v2.1h-2.1zM368.5 2118.5h2.1v2.1h-2.1zM398.1 2118.5h2.1v2.1h-2.1zM376.4 2120.4h2.1v2.1h-2.1zM386.3 2120.4h2.1v2.1h-2.1zM396.2 2120.4h2.1v2.1h-2.1zM382.3 2122.4h2.1v2.1h-2.1zM402.1 2122.4h2.1v2.1h-2.1zM406.1 2122.4h2.1v2.1h-2.1zM408.0 2122.4h2.1v2.1h-2.1zM334.8 2124.3h2.1v2.1h-2.1zM352.6 2124.3h2.1v2.1h-2.1zM394.2 2124.3h2.1v2.1h-2.1zM398.1 2124.3h2.1v2.1h-2.1zM402.1 2124.3h2.1v2.1h-2.1zM410.0 2124.3h2.1v2.1h-2.1zM417.9 2124.3h2.1v2.1h-2.1zM404.1 2126.3h2.1v2.1h-2.1zM366.5 2130.2h2.1v2.1h-2.1zM408.0 2130.2h2.1v2.1h-2.1zM414.0 2130.2h2.1v2.1h-2.1zM398.1 2132.1h2.1v2.1h-2.1zM402.1 2132.1h2.1v2.1h-2.1zM412.0 2132.1h2.1v2.1h-2.1zM374.4 2134.1h2.1v2.1h-2.1zM410.0 2134.1h2.1v2.1h-2.1zM412.0 2134.1h2.1v2.1h-2.1zM402.1 2136.0h2.1v2.1h-2.1zM410.0 2136.0h2.1v2.1h-2.1zM412.0 2136.0h2.1v2.1h-2.1zM356.6 2138.0h2.1v2.1h-2.1zM358.6 2138.0h2.1v2.1h-2.1zM368.5 2138.0h2.1v2.1h-2.1zM388.2 2138.0h2.1v2.1h-2.1zM392.2 2138.0h2.1v2.1h-2.1zM396.2 2138.0h2.1v2.1h-2.1zM410.0 2138.0h2.1v2.1h-2.1zM414.0 2138.0h2.1v2.1h-2.1zM376.4 2139.9h2.1v2.1h-2.1zM398.1 2139.9h2.1v2.1h-2.1zM406.1 2139.9h2.1v2.1h-2.1zM408.0 2139.9h2.1v2.1h-2.1zM412.0 2139.9h2.1v2.1h-2.1zM414.0 2139.9h2.1v2.1h-2.1zM417.9 2139.9h2.1v2.1h-2.1zM360.6 2141.9h2.1v2.1h-2.1zM356.6 2143.9h2.1v2.1h-2.1zM390.2 2143.9h2.1v2.1h-2.1zM400.1 2143.9h2.1v2.1h-2.1zM402.1 2143.9h2.1v2.1h-2.1zM406.1 2143.9h2.1v2.1h-2.1zM408.0 2143.9h2.1v2.1h-2.1zM386.3 2145.8h2.1v2.1h-2.1zM396.2 2145.8h2.1v2.1h-2.1zM410.0 2145.8h2.1v2.1h-2.1zM414.0 2145.8h2.1v2.1h-2.1zM360.6 2149.7h2.1v2.1h-2.1zM392.2 2149.7h2.1v2.1h-2.1zM400.1 2149.7h2.1v2.1h-2.1zM410.0 2149.7h2.1v2.1h-2.1zM362.5 2151.7h2.1v2.1h-2.1zM370.4 2151.7h2.1v2.1h-2.1zM396.2 2151.7h2.1v2.1h-2.1zM398.1 2151.7h2.1v2.1h-2.1zM402.1 2151.7h2.1v2.1h-2.1zM417.9 2151.7h2.1v2.1h-2.1zM330.9 2153.6h2.1v2.1h-2.1zM354.6 2153.6h2.1v2.1h-2.1zM356.6 2153.6h2.1v2.1h-2.1zM384.3 2153.6h2.1v2.1h-2.1zM402.1 2153.6h2.1v2.1h-2.1zM404.1 2153.6h2.1v2.1h-2.1zM406.1 2153.6h2.1v2.1h-2.1zM362.5 2155.6h2.1v2.1h-2.1zM368.5 2155.6h2.1v2.1h-2.1zM398.1 2155.6h2.1v2.1h-2.1zM408.0 2155.6h2.1v2.1h-2.1zM398.1 2157.5h2.1v2.1h-2.1zM414.0 2159.5h2.1v2.1h-2.1zM354.6 2161.4h2.1v2.1h-2.1zM384.3 2161.4h2.1v2.1h-2.1zM396.2 2161.4h2.1v2.1h-2.1zM406.1 2161.4h2.1v2.1h-2.1zM412.0 2161.4h2.1v2.1h-2.1zM417.9 2161.4h2.1v2.1h-2.1zM328.9 2163.4h2.1v2.1h-2.1zM392.2 2163.4h2.1v2.1h-2.1zM400.1 2163.4h2.1v2.1h-2.1zM404.1 2163.4h2.1v2.1h-2.1zM414.0 2163.4h2.1v2.1h-2.1zM417.9 2163.4h2.1v2.1h-2.1zM396.2 2165.3h2.1v2.1h-2.1zM364.5 2167.3h2.1v2.1h-2.1zM368.5 2167.3h2.1v2.1h-2.1zM384.3 2167.3h2.1v2.1h-2.1zM404.1 2167.3h2.1v2.1h-2.1zM368.5 2169.2h2.1v2.1h-2.1zM372.4 2169.2h2.1v2.1h-2.1zM382.3 2169.2h2.1v2.1h-2.1zM400.1 2169.2h2.1v2.1h-2.1zM402.1 2169.2h2.1v2.1h-2.1zM417.9 2169.2h2.1v2.1h-2.1zM354.6 2171.2h2.1v2.1h-2.1zM360.6 2171.2h2.1v2.1h-2.1zM394.2 2171.2h2.1v2.1h-2.1zM396.2 2171.2h2.1v2.1h-2.1zM410.0 2171.2h2.1v2.1h-2.1zM412.0 2171.2h2.1v2.1h-2.1zM356.6 2173.1h2.1v2.1h-2.1zM366.5 2173.1h2.1v2.1h-2.1zM414.0 2173.1h2.1v2.1h-2.1zM352.6 2175.1h2.1v2.1h-2.1zM358.6 2175.1h2.1v2.1h-2.1zM372.4 2175.1h2.1v2.1h-2.1zM386.3 2175.1h2.1v2.1h-2.1zM408.0 2175.1h2.1v2.1h-2.1zM412.0 2175.1h2.1v2.1h-2.1zM370.4 2177.0h2.1v2.1h-2.1zM382.3 2177.0h2.1v2.1h-2.1zM398.1 2177.0h2.1v2.1h-2.1zM404.1 2177.0h2.1v2.1h-2.1zM406.1 2177.0h2.1v2.1h-2.1zM415.9 2177.0h2.1v2.1h-2.1zM396.2 2179.0h2.1v2.1h-2.1zM406.1 2179.0h2.1v2.1h-2.1zM412.0 2179.0h2.1v2.1h-2.1zM414.0 2179.0h2.1v2.1h-2.1zM358.6 2180.9h2.1v2.1h-2.1zM368.5 2182.9h2.1v2.1h-2.1zM398.1 2182.9h2.1v2.1h-2.1zM404.1 2182.9h2.1v2.1h-2.1zM366.5 2184.8h2.1v2.1h-2.1zM380.3 2184.8h2.1v2.1h-2.1zM386.3 2184.8h2.1v2.1h-2.1zM402.1 2184.8h2.1v2.1h-2.1zM412.0 2184.8h2.1v2.1h-2.1zM417.9 2184.8h2.1v2.1h-2.1zM396.2 2186.8h2.1v2.1h-2.1zM400.1 2186.8h2.1v2.1h-2.1zM398.1 2188.7h2.1v2.1h-2.1zM412.0 2188.7h2.1v2.1h-2.1zM356.6 2190.7h2.1v2.1h-2.1zM396.2 2190.7h2.1v2.1h-2.1zM398.1 2190.7h2.1v2.1h-2.1zM400.1 2190.7h2.1v2.1h-2.1zM415.9 2190.7h2.1v2.1h-2.1zM398.1 2192.6h2.1v2.1h-2.1zM404.1 2192.6h2.1v2.1h-2.1zM408.0 2192.6h2.1v2.1h-2.1zM412.0 2194.6h2.1v2.1h-2.1zM358.6 2196.5h2.1v2.1h-2.1zM408.0 2196.5h2.1v2.1h-2.1zM398.1 2198.5h2.1v2.1h-2.1zM402.1 2198.5h2.1v2.1h-2.1zM410.0 2198.5h2.1v2.1h-2.1zM366.5 2200.4h2.1v2.1h-2.1zM398.1 2200.4h2.1v2.1h-2.1zM408.0 2200.4h2.1v2.1h-2.1z"/>
<path fill="#9997ff" d="M408.0 2079.5h2.1v2.1h-2.1zM360.6 2083.4h2.1v2.1h-2.1zM400.1 2083.4h2.1v2.1h-2.1zM414.0 2083.4h2.1v2.1h-2.1zM410.0 2085.3h2.1v2.1h-2.1zM417.9 2089.2h2.1v2.1h-2.1zM376.4 2093.1h2.1v2.1h-2.1zM402.1 2095.1h2.1v2.1h-2.1zM417.9 2095.1h2.1v2.1h-2.1zM415.9 2097.0h2.1v2.1h-2.1zM370.4 2099.0h2.1v2.1h-2.1zM372.4 2099.0h2.1v2.1h-2.1zM396.2 2099.0h2.1v2.1h-2.1zM398.1 2099.0h2.1v2.1h-2.1zM406.1 2099.0h2.1v2.1h-2.1zM386.3 2100.9h2.1v2.1h-2.1zM392.2 2100.9h2.1v2.1h-2.1zM394.2 2100.9h2.1v2.1h-2.1zM404.1 2100.9h2.1v2.1h-2.1zM388.2 2102.9h2.1v2.1h-2.1zM406.1 2104.8h2.1v2.1h-2.1zM400.1 2106.8h2.1v2.1h-2.1zM404.1 2106.8h2.1v2.1h-2.1zM417.9 2106.8h2.1v2.1h-2.1zM352.6 2108.7h2.1v2.1h-2.1zM396.2 2108.7h2.1v2.1h-2.1zM400.1 2108.7h2.1v2.1h-2.1zM410.0 2110.7h2.1v2.1h-2.1zM410.0 2112.6h2.1v2.1h-2.1zM400.1 2116.5h2.1v2.1h-2.1zM408.0 2116.5h2.1v2.1h-2.1zM417.9 2116.5h2.1v2.1h-2.1zM400.1 2118.5h2.1v2.1h-2.1zM366.5 2120.4h2.1v2.1h-2.1zM402.1 2120.4h2.1v2.1h-2.1zM404.1 2120.4h2.1v2.1h-2.1zM406.1 2120.4h2.1v2.1h-2.1zM415.9 2120.4h2.1v2.1h-2.1zM417.9 2120.4h2.1v2.1h-2.1zM378.4 2122.4h2.1v2.1h-2.1zM396.2 2122.4h2.1v2.1h-2.1zM400.1 2122.4h2.1v2.1h-2.1zM396.2 2126.3h2.1v2.1h-2.1zM408.0 2126.3h2.1v2.1h-2.1zM415.9 2126.3h2.1v2.1h-2.1zM378.4 2128.2h2.1v2.1h-2.1zM394.2 2128.2h2.1v2.1h-2.1zM402.1 2128.2h2.1v2.1h-2.1zM408.0 2128.2h2.1v2.1h-2.1zM412.0 2128.2h2.1v2.1h-2.1zM417.9 2128.2h2.1v2.1h-2.1zM396.2 2130.2h2.1v2.1h-2.1zM398.1 2130.2h2.1v2.1h-2.1zM400.1 2130.2h2.1v2.1h-2.1zM412.0 2130.2h2.1v2.1h-2.1zM370.4 2132.1h2.1v2.1h-2.1zM400.1 2132.1h2.1v2.1h-2.1zM415.9 2132.1h2.1v2.1h-2.1zM352.6 2134.1h2.1v2.1h-2.1zM358.6 2134.1h2.1v2.1h-2.1zM382.3 2134.1h2.1v2.1h-2.1zM352.6 2136.0h2.1v2.1h-2.1zM404.1 2136.0h2.1v2.1h-2.1zM398.1 2138.0h2.1v2.1h-2.1zM362.5 2139.9h2.1v2.1h-2.1zM396.2 2139.9h2.1v2.1h-2.1zM410.0 2139.9h2.1v2.1h-2.1zM358.6 2141.9h2.1v2.1h-2.1zM394.2 2141.9h2.1v2.1h-2.1zM402.1 2141.9h2.1v2.1h-2.1zM404.1 2141.9h2.1v2.1h-2.1zM410.0 2141.9h2.1v2.1h-2.1zM378.4 2143.9h2.1v2.1h-2.1zM398.1 2143.9h2.1v2.1h-2.1zM404.1 2143.9h2.1v2.1h-2.1zM417.9 2143.9h2.1v2.1h-2.1zM372.4 2145.8h2.1v2.1h-2.1zM382.3 2145.8h2.1v2.1h-2.1zM404.1 2145.8h2.1v2.1h-2.1zM406.1 2145.8h2.1v2.1h-2.1zM408.0 2145.8h2.1v2.1h-2.1zM388.2 2147.8h2.1v2.1h-2.1zM402.1 2147.8h2.1v2.1h-2.1zM408.0 2147.8h2.1v2.1h-2.1zM356.6 2149.7h2.1v2.1h-2.1zM372.4 2149.7h2.1v2.1h-2.1zM400.1 2151.7h2.1v2.1h-2.1zM412.0 2151.7h2.1v2.1h-2.1zM396.2 2153.6h2.1v2.1h-2.1zM400.1 2155.6h2.1v2.1h-2.1zM380.3 2157.5h2.1v2.1h-2.1zM390.2 2157.5h2.1v2.1h-2.1zM400.1 2157.5h2.1v2.1h-2.1zM408.0 2157.5h2.1v2.1h-2.1zM412.0 2157.5h2.1v2.1h-2.1zM415.9 2157.5h2.1v2.1h-2.1zM398.1 2159.5h2.1v2.1h-2.1zM408.0 2159.5h2.1v2.1h-2.1zM410.0 2159.5h2.1v2.1h-2.1zM368.5 2161.4h2.1v2.1h-2.1zM388.2 2161.4h2.1v2.1h-2.1zM402.1 2161.4h2.1v2.1h-2.1zM404.1 2161.4h2.1v2.1h-2.1zM402.1 2163.4h2.1v2.1h-2.1zM410.0 2163.4h2.1v2.1h-2.1zM402.1 2165.3h2.1v2.1h-2.1zM398.1 2167.3h2.1v2.1h-2.1zM406.1 2167.3h2.1v2.1h-2.1zM410.0 2167.3h2.1v2.1h-2.1zM417.9 2167.3h2.1v2.1h-2.1zM356.6 2169.2h2.1v2.1h-2.1zM398.1 2169.2h2.1v2.1h-2.1zM398.1 2171.2h2.1v2.1h-2.1zM400.1 2171.2h2.1v2.1h-2.1zM404.1 2171.2h2.1v2.1h-2.1zM368.5 2173.1h2.1v2.1h-2.1zM398.1 2173.1h2.1v2.1h-2.1zM400.1 2173.1h2.1v2.1h-2.1zM406.1 2173.1h2.1v2.1h-2.1zM366.5 2177.0h2.1v2.1h-2.1zM396.2 2177.0h2.1v2.1h-2.1zM408.0 2177.0h2.1v2.1h-2.1zM412.0 2177.0h2.1v2.1h-2.1zM370.4 2179.0h2.1v2.1h-2.1zM400.1 2179.0h2.1v2.1h-2.1zM410.0 2179.0h2.1v2.1h-2.1zM404.1 2180.9h2.1v2.1h-2.1zM406.1 2180.9h2.1v2.1h-2.1zM410.0 2180.9h2.1v2.1h-2.1zM354.6 2182.9h2.1v2.1h-2.1zM384.3 2182.9h2.1v2.1h-2.1zM408.0 2182.9h2.1v2.1h-2.1zM410.0 2182.9h2.1v2.1h-2.1zM396.2 2184.8h2.1v2.1h-2.1zM404.1 2184.8h2.1v2.1h-2.1zM406.1 2184.8h2.1v2.1h-2.1zM362.5 2186.8h2.1v2.1h-2.1zM388.2 2186.8h2.1v2.1h-2.1zM394.2 2186.8h2.1v2.1h-2.1zM402.1 2186.8h2.1v2.1h-2.1zM404.1 2186.8h2.1v2.1h-2.1zM412.0 2186.8h2.1v2.1h-2.1zM358.6 2188.7h2.1v2.1h-2.1zM396.2 2188.7h2.1v2.1h-2.1zM404.1 2188.7h2.1v2.1h-2.1zM366.5 2190.7h2.1v2.1h-2.1zM402.1 2190.7h2.1v2.1h-2.1zM406.1 2190.7h2.1v2.1h-2.1zM408.0 2190.7h2.1v2.1h-2.1zM412.0 2190.7h2.1v2.1h-2.1zM400.1 2192.6h2.1v2.1h-2.1zM412.0 2192.6h2.1v2.1h-2.1zM354.6 2194.6h2.1v2.1h-2.1zM356.6 2194.6h2.1v2.1h-2.1zM380.3 2194.6h2.1v2.1h-2.1zM400.1 2194.6h2.1v2.1h-2.1zM410.0 2194.6h2.1v2.1h-2.1zM404.1 2196.5h2.1v2.1h-2.1zM412.0 2198.5h2.1v2.1h-2.1zM396.2 2200.4h2.1v2.1h-2.1zM410.0 2200.4h2.1v2.1h-2.1zM412.0 2200.4h2.1v2.1h-2.1z"/>
<path fill="#f05a60" d="M332.9 2081.4h2.1v2.1h-2.1zM392.2 2085.3h2.1v2.1h-2.1zM366.5 2089.2h2.1v2.1h-2.1zM370.4 2089.2h2.1v2.1h-2.1zM334.8 2097.0h2.1v2.1h-2.1zM356.6 2099.0h2.1v2.1h-2.1zM380.3 2099.0h2.1v2.1h-2.1zM334.8 2104.8h2.1v2.1h-2.1zM330.9 2112.6h2.1v2.1h-2.1zM368.5 2114.6h2.1v2.1h-2.1zM330.9 2116.5h2.1v2.1h-2.1zM334.8 2122.4h2.1v2.1h-2.1zM348.7 2122.4h2.1v2.1h-2.1zM348.7 2126.3h2.1v2.1h-2.1zM370.4 2126.3h2.1v2.1h-2.1zM344.7 2128.2h2.1v2.1h-2.1zM348.7 2128.2h2.1v2.1h-2.1zM342.7 2130.2h2.1v2.1h-2.1zM346.7 2132.1h2.1v2.1h-2.1zM328.9 2136.0h2.1v2.1h-2.1zM350.7 2139.9h2.1v2.1h-2.1zM340.8 2143.9h2.1v2.1h-2.1zM346.7 2151.7h2.1v2.1h-2.1zM348.7 2155.6h2.1v2.1h-2.1zM364.5 2155.6h2.1v2.1h-2.1zM332.9 2157.5h2.1v2.1h-2.1zM348.7 2161.4h2.1v2.1h-2.1zM352.6 2161.4h2.1v2.1h-2.1zM376.4 2169.2h2.1v2.1h-2.1zM380.3 2169.2h2.1v2.1h-2.1zM334.8 2179.0h2.1v2.1h-2.1zM388.2 2179.0h2.1v2.1h-2.1zM348.7 2180.9h2.1v2.1h-2.1zM350.7 2182.9h2.1v2.1h-2.1zM338.8 2184.8h2.1v2.1h-2.1zM342.7 2184.8h2.1v2.1h-2.1zM328.9 2186.8h2.1v2.1h-2.1zM330.9 2190.7h2.1v2.1h-2.1zM332.9 2192.6h2.1v2.1h-2.1zM336.8 2194.6h2.1v2.1h-2.1zM360.6 2196.5h2.1v2.1h-2.1z"/>
<path fill="#f44a4a" d="M346.7 2085.3h2.1v2.1h-2.1zM366.5 2087.3h2.1v2.1h-2.1zM368.5 2087.3h2.1v2.1h-2.1zM368.5 2089.2h2.1v2.1h-2.1zM372.4 2089.2h2.1v2.1h-2.1zM334.8 2091.2h2.1v2.1h-2.1zM368.5 2093.1h2.1v2.1h-2.1zM384.3 2095.1h2.1v2.1h-2.1zM336.8 2097.0h2.1v2.1h-2.1zM330.9 2099.0h2.1v2.1h-2.1zM348.7 2100.9h2.1v2.1h-2.1zM342.7 2104.8h2.1v2.1h-2.1zM330.9 2108.7h2.1v2.1h-2.1zM336.8 2108.7h2.1v2.1h-2.1zM346.7 2112.6h2.1v2.1h-2.1zM348.7 2112.6h2.1v2.1h-2.1zM338.8 2116.5h2.1v2.1h-2.1zM340.8 2120.4h2.1v2.1h-2.1zM364.5 2120.4h2.1v2.1h-2.1zM374.4 2120.4h2.1v2.1h-2.1zM350.7 2122.4h2.1v2.1h-2.1zM338.8 2124.3h2.1v2.1h-2.1zM344.7 2124.3h2.1v2.1h-2.1zM342.7 2138.0h2.1v2.1h-2.1zM332.9 2139.9h2.1v2.1h-2.1zM338.8 2151.7h2.1v2.1h-2.1zM342.7 2151.7h2.1v2.1h-2.1zM334.8 2155.6h2.1v2.1h-2.1zM346.7 2157.5h2.1v2.1h-2.1zM332.9 2165.3h2.1v2.1h-2.1zM330.9 2167.3h2.1v2.1h-2.1zM332.9 2167.3h2.1v2.1h-2.1zM334.8 2167.3h2.1v2.1h-2.1zM328.9 2182.9h2.1v2.1h-2.1zM334.8 2182.9h2.1v2.1h-2.1zM332.9 2186.8h2.1v2.1h-2.1zM332.9 2196.5h2.1v2.1h-2.1z"/>
<path fill="#ff1a0a" d="M348.7 2091.2h2.1v2.1h-2.1zM368.5 2095.1h2.1v2.1h-2.1zM368.5 2100.9h2.1v2.1h-2.1zM348.7 2114.6h2.1v2.1h-2.1zM340.8 2180.9h2.1v2.1h-2.1z"/>
<path fill="#f83a35" d="M348.7 2104.8h2.1v2.1h-2.1zM340.8 2106.8h2.1v2.1h-2.1zM340.8 2118.5h2.1v2.1h-2.1zM340.8 2128.2h2.1v2.1h-2.1zM348.7 2134.1h2.1v2.1h-2.1zM350.7 2141.9h2.1v2.1h-2.1zM342.7 2149.7h2.1v2.1h-2.1zM336.8 2157.5h2.1v2.1h-2.1zM338.8 2157.5h2.1v2.1h-2.1zM332.9 2177.0h2.1v2.1h-2.1zM350.7 2194.6h2.1v2.1h-2.1zM344.7 2196.5h2.1v2.1h-2.1z"/>
<path fill="#fb2a20" d="M354.6 2124.3h2.1v2.1h-2.1zM342.7 2126.3h2.1v2.1h-2.1zM338.8 2128.2h2.1v2.1h-2.1zM336.8 2132.1h2.1v2.1h-2.1z"/>
</g>
<rect x="420.2" y="2077.8" width="5.3" height="1.2" fill="#bdbdbd" opacity="0.6"/>
<rect x="420.2" y="2079.8" width="3.7" height="1.2" fill="#bdbdbd" opacity="0.6"/>
<rect x="420.2" y="2081.7" width="4.2" height="1.2" fill="#bdbdbd" opacity="0.6"/>
<rect x="420.2" y="2083.7" width="3.4" height="1.2" fill="#bdbdbd" opacity="0.6"/>
<rect x="420.2" y="2085.6" width="4.5" height="1.2" fill="#bdbdbd" opacity="0.6"/>
<rect x="420.2" y="2087.6" width="3.8" height="1.2" fill="#bdbdbd" opacity="0.6"/>
<rect x="420.2" y="2089.5" width="3.6" height="1.2" fill="#bdbdbd" opacity="0.6"/>
<rect x="420.2" y="2091.5" width="4.7" height="1.2" fill="#bdbdbd" opacity="0.6"/>
<rect x="420.2" y="2093.4" width="5.1" height="1.2" fill="#bdbdbd" opacity="0.6"/>
<rect x="420.2" y="2095.4" width="3.0" height="1.2" fill="#bdbdbd" opacity="0.6"/>
<rect x="420.2" y="2097.3" width="2.9" height="1.2" fill="#bdbdbd" opacity="0.6"/>
<rect x="420.2" y="2099.3" width="5.3" height="1.2" fill="#bdbdbd" opacity="0.6"/>
<rect x="420.2" y="2101.2" width="3.2" height="1.2" fill="#bdbdbd" opacity="0.6"/>
<rect x="420.2" y="2103.2" width="3.3" height="1.2" fill="#bdbdbd" opacity="0.6"/>
<rect x="420.2" y="2105.1" width="3.9" height="1.2" fill="#bdbdbd" opacity="0.6"/>
<rect x="420.2" y="2107.1" width="3.0" height="1.2" fill="#bdbdbd" opacity="0.6"/>
<rect x="420.2" y="2109.0" width="3.6" height="1.2" fill="#bdbdbd" opacity="0.6"/>
<rect x="420.2" y="2111.0" width="3.0" height="1.2" fill="#bdbdbd" opacity="0.6"/>
<rect x="420.2" y="2112.9" width="3.5" height="1.2" fill="#bdbdbd" opacity="0.6"/>
<rect x="420.2" y="2114.9" width="4.7" height="1.2" fill="#bdbdbd" opacity="0.6"/>
<rect x="420.2" y="2116.8" width="4.5" height="1.2" fill="#bdbdbd" opacity="0.6"/>
<rect x="420.2" y="2118.8" width="5.1" height="1.2" fill="#bdbdbd" opacity="0.6"/>
<rect x="420.2" y="2120.7" width="5.1" height="1.2" fill="#bdbdbd" opacity="0.6"/>
<rect x="420.2" y="2122.7" width="3.0" height="1.2" fill="#bdbdbd" opacity="0.6"/>
<rect x="420.2" y="2124.6" width="4.6" height="1.2" fill="#bdbdbd" opacity="0.6"/>
<rect x="420.2" y="2126.6" width="4.3" height="1.2" fill="#bdbdbd" opacity="0.6"/>
<rect x="420.2" y="2128.5" width="4.1" height="1.2" fill="#bdbdbd" opacity="0.6"/>
<rect x="420.2" y="2130.5" width="3.7" height="1.2" fill="#bdbdbd" opacity="0.6"/>
<rect x="420.2" y="2132.4" width="5.0" height="1.2" fill="#bdbdbd" opacity="0.6"/>
<rect x="420.2" y="2134.4" width="3.9" height="1.2" fill="#bdbdbd" opacity="0.6"/>
<rect x="420.2" y="2136.3" width="5.1" height="1.2" fill="#bdbdbd" opacity="0.6"/>
<rect x="420.2" y="2138.3" width="2.5" height="1.2" fill="#bdbdbd" opacity="0.6"/>
<rect x="420.2" y="2140.2" width="3.3" height="1.2" fill="#bdbdbd" opacity="0.6"/>
<rect x="420.2" y="2142.2" width="2.5" height="1.2" fill="#bdbdbd" opacity="0.6"/>
<rect x="420.2" y="2144.2" width="4.4" height="1.2" fill="#bdbdbd" opacity="0.6"/>
<rect x="420.2" y="2146.1" width="3.6" height="1.2" fill="#bdbdbd" opacity="0.6"/>
<rect x="420.2" y="2148.1" width="3.1" height="1.2" fill="#bdbdbd" opacity="0.6"/>
<rect x="420.2" y="2150.0" width="3.2" height="1.2" fill="#bdbdbd" opacity="0.6"/>
<rect x="420.2" y="2152.0" width="3.7" height="1.2" fill="#bdbdbd" opacity="0.6"/>
<rect x="420.2" y="2153.9" width="3.1" height="1.2" fill="#bdbdbd" opacity="0.6"/>
<rect x="420.2" y="2155.9" width="3.7" height="1.2" fill="#bdbdbd" opacity="0.6"/>
<rect x="420.2" y="2157.8" width="4.1" height="1.2" fill="#bdbdbd" opacity="0.6"/>
<rect x="420.2" y="2159.8" width="2.2" height="1.2" fill="#bdbdbd" opacity="0.6"/>
<rect x="420.2" y="2161.7" width="2.8" height="1.2" fill="#bdbdbd" opacity="0.6"/>
<rect x="420.2" y="2163.7" width="3.8" height="1.2" fill="#bdbdbd" opacity="0.6"/>
<rect x="420.2" y="2165.6" width="4.2" height="1.2" fill="#bdbdbd" opacity="0.6"/>
<rect x="420.2" y="2167.6" width="4.0" height="1.2" fill="#bdbdbd" opacity="0.6"/>
<rect x="420.2" y="2169.5" width="4.5" height="1.2" fill="#bdbdbd" opacity="0.6"/>
<rect x="420.2" y="2171.5" width="3.5" height="1.2" fill="#bdbdbd" opacity="0.6"/>
<rect x="420.2" y="2173.4" width="5.0" height="1.2" fill="#bdbdbd" opacity="0.6"/>
<rect x="420.2" y="2175.4" width="4.6" height="1.2" fill="#bdbdbd" opacity="0.6"/>
<rect x="420.2" y="2177.3" width="3.7" height="1.2" fill="#bdbdbd" opacity="0.6"/>
<rect x="420.2" y="2179.3" width="3.9" height="1.2" fill="#bdbdbd" opacity="0.6"/>
<rect x="420.2" y="2181.2" width="4.7" height="1.2" fill="#bdbdbd" opacity="0.6"/>
<rect x="420.2" y="2183.2" width="3.0" height="1.2" fill="#bdbdbd" opacity="0.6"/>
<rect x="420.2" y="2185.1" width="3.0" height="1.2" fill="#bdbdbd" opacity="0.6"/>
<rect x="420.2" y="2187.1" width="3.7" height="1.2" fill="#bdbdbd" opacity="0.6"/>
<rect x="420.2" y="2189.0" width="3.7" height="1.2" fill="#bdbdbd" opacity="0.6"/>
<rect x="420.2" y="2191.0" width="2.3" height="1.2" fill="#bdbdbd" opacity="0.6"/>
<rect x="420.2" y="2192.9" width="3.7" height="1.2" fill="#bdbdbd" opacity="0.6"/>
<rect x="420.2" y="2194.9" width="5.0" height="1.2" fill="#bdbdbd" opacity="0.6"/>
<rect x="420.2" y="2196.8" width="4.9" height="1.2" fill="#bdbdbd" opacity="0.6"/>
<rect x="420.2" y="2198.8" width="3.8" height="1.2" fill="#bdbdbd" opacity="0.6"/>
<rect x="420.2" y="2200.7" width="4.3" height="1.2" fill="#bdbdbd" opacity="0.6"/>
<rect x="329.3" y="2067.7" width="1.1" height="8.8" fill="#c4c4c4" opacity="0.55"/>
<rect x="331.3" y="2069.9" width="1.1" height="6.6" fill="#c4c4c4" opacity="0.55"/>
<rect x="333.3" y="2064.3" width="1.1" height="12.2" fill="#c4c4c4" opacity="0.55"/>
<rect x="335.2" y="2066.4" width="1.1" height="10.1" fill="#c4c4c4" opacity="0.55"/>
<rect x="337.2" y="2065.9" width="1.1" height="10.6" fill="#c4c4c4" opacity="0.55"/>
<rect x="339.2" y="2065.9" width="1.1" height="10.6" fill="#c4c4c4" opacity="0.55"/>
<rect x="341.2" y="2063.2" width="1.1" height="13.3" fill="#c4c4c4" opacity="0.55"/>
<rect x="343.1" y="2068.2" width="1.1" height="8.3" fill="#c4c4c4" opacity="0.55"/>
<rect x="345.1" y="2066.2" width="1.1" height="10.3" fill="#c4c4c4" opacity="0.55"/>
<rect x="347.1" y="2065.0" width="1.1" height="11.5" fill="#c4c4c4" opacity="0.55"/>
<rect x="349.1" y="2065.3" width="1.1" height="11.2" fill="#c4c4c4" opacity="0.55"/>
<rect x="351.1" y="2063.7" width="1.1" height="12.8" fill="#c4c4c4" opacity="0.55"/>
<rect x="354.5" y="2070.1" width="1.1" height="6.4" fill="#c4c4c4" opacity="0.55"/>
<rect x="355.0" y="2064.5" width="1.1" height="12.0" fill="#c4c4c4" opacity="0.55"/>
<rect x="357.0" y="2070.1" width="1.1" height="6.4" fill="#c4c4c4" opacity="0.55"/>
<rect x="359.0" y="2068.1" width="1.1" height="8.4" fill="#c4c4c4" opacity="0.55"/>
<rect x="361.0" y="2067.8" width="1.1" height="8.7" fill="#c4c4c4" opacity="0.55"/>
<rect x="362.9" y="2064.5" width="1.1" height="12.0" fill="#c4c4c4" opacity="0.55"/>
<rect x="364.9" y="2063.8" width="1.1" height="12.7" fill="#c4c4c4" opacity="0.55"/>
<rect x="366.9" y="2066.3" width="1.1" height="10.2" fill="#c4c4c4" opacity="0.55"/>
<rect x="368.9" y="2066.3" width="1.1" height="10.2" fill="#c4c4c4" opacity="0.55"/>
<rect x="370.8" y="2065.5" width="1.1" height="11.0" fill="#c4c4c4" opacity="0.55"/>
<rect x="372.8" y="2070.2" width="1.1" height="6.3" fill="#c4c4c4" opacity="0.55"/>
<rect x="376.3" y="2067.7" width="1.1" height="8.8" fill="#c4c4c4" opacity="0.55"/>
<rect x="376.8" y="2067.1" width="1.1" height="9.4" fill="#c4c4c4" opacity="0.55"/>
<rect x="378.8" y="2070.1" width="1.1" height="6.4" fill="#c4c4c4" opacity="0.55"/>
<rect x="380.7" y="2068.1" width="1.1" height="8.4" fill="#c4c4c4" opacity="0.55"/>
<rect x="382.7" y="2068.3" width="1.1" height="8.2" fill="#c4c4c4" opacity="0.55"/>
<rect x="384.7" y="2069.5" width="1.1" height="7.0" fill="#c4c4c4" opacity="0.55"/>
<rect x="386.7" y="2069.0" width="1.1" height="7.5" fill="#c4c4c4" opacity="0.55"/>
<rect x="388.6" y="2067.7" width="1.1" height="8.8" fill="#c4c4c4" opacity="0.55"/>
<rect x="390.6" y="2065.5" width="1.1" height="11.0" fill="#c4c4c4" opacity="0.55"/>
<rect x="392.6" y="2064.1" width="1.1" height="12.4" fill="#c4c4c4" opacity="0.55"/>
<rect x="394.6" y="2068.1" width="1.1" height="8.4" fill="#c4c4c4" opacity="0.55"/>
<rect x="398.1" y="2064.6" width="1.1" height="11.9" fill="#c4c4c4" opacity="0.55"/>
<rect x="398.5" y="2065.1" width="1.1" height="11.4" fill="#c4c4c4" opacity="0.55"/>
<rect x="400.5" y="2069.7" width="1.1" height="6.8" fill="#c4c4c4" opacity="0.55"/>
<rect x="402.5" y="2068.9" width="1.1" height="7.6" fill="#c4c4c4" opacity="0.55"/>
<rect x="404.5" y="2063.9" width="1.1" height="12.6" fill="#c4c4c4" opacity="0.55"/>
<rect x="406.5" y="2069.4" width="1.1" height="7.1" fill="#c4c4c4" opacity="0.55"/>
<rect x="408.4" y="2065.8" width="1.1" height="10.7" fill="#c4c4c4" opacity="0.55"/>
<rect x="410.4" y="2066.1" width="1.1" height="10.4" fill="#c4c4c4" opacity="0.55"/>
<rect x="412.4" y="2064.4" width="1.1" height="12.1" fill="#c4c4c4" opacity="0.55"/>
<rect x="414.4" y="2064.7" width="1.1" height="11.8" fill="#c4c4c4" opacity="0.55"/>
<rect x="416.3" y="2064.4" width="1.1" height="12.1" fill="#c4c4c4" opacity="0.55"/>
<rect x="418.3" y="2069.4" width="1.1" height="7.1" fill="#c4c4c4" opacity="0.55"/>
<rect x="330.1" y="2077.4" width="93.3" height="36.2" fill="none" stroke="#000" stroke-width="2.4"/>
<g shape-rendering="crispEdges">
<path fill="#fcebed" d="M481.00 2174.20h18.67v18.66h-18.67zM928.39 2192.83h18.67v18.66h-18.67zM704.70 2360.50h18.67v18.66h-18.67z"/>
<path fill="#f6c0c5" d="M499.64 2174.20h18.67v18.66h-18.67zM667.41 2174.20h18.67v18.66h-18.67zM891.11 2211.46h18.67v18.66h-18.67zM1040.24 2285.98h18.67v18.66h-18.67z"/>
<path fill="#f8cdd0" d="M518.28 2174.20h18.67v18.66h-18.67zM536.92 2230.09h18.67v18.66h-18.67zM1040.24 2230.09h18.67v18.66h-18.67zM704.70 2267.35h18.67v18.66h-18.67z"/>
<path fill="#f28b91" d="M536.92 2174.20h18.67v18.66h-18.67zM555.57 2174.20h18.67v18.66h-18.67zM835.18 2211.46h18.67v18.66h-18.67zM872.47 2267.35h18.67v18.66h-18.67zM872.47 2304.61h18.67v18.66h-18.67zM536.92 2509.54h18.67v18.66h-18.67z"/>
<path fill="#fbe1e3" d="M574.21 2174.20h18.67v18.66h-18.67zM518.28 2248.72h18.67v18.66h-18.67zM984.32 2285.98h18.67v18.66h-18.67zM965.67 2341.87h18.67v18.66h-18.67zM611.49 2379.13h18.67v18.66h-18.67zM555.57 2416.39h18.67v18.66h-18.67zM947.03 2528.17h18.67v18.66h-18.67z"/>
<path fill="#ffffff" d="M592.85 2174.20h18.67v18.66h-18.67zM611.49 2174.20h18.67v18.66h-18.67zM909.75 2174.20h18.67v18.66h-18.67zM1096.16 2174.20h18.67v18.66h-18.67zM704.70 2192.83h18.67v18.66h-18.67zM760.62 2192.83h18.67v18.66h-18.67zM779.26 2192.83h18.67v18.66h-18.67zM928.39 2211.46h18.67v18.66h-18.67zM984.32 2211.46h18.67v18.66h-18.67zM1021.60 2211.46h18.67v18.66h-18.67zM1040.24 2211.46h18.67v18.66h-18.67zM1096.16 2211.46h18.67v18.66h-18.67zM909.75 2230.09h18.67v18.66h-18.67zM947.03 2230.09h18.67v18.66h-18.67zM965.67 2230.09h18.67v18.66h-18.67zM630.13 2248.72h18.67v18.66h-18.67zM853.83 2248.72h18.67v18.66h-18.67zM686.05 2267.35h18.67v18.66h-18.67zM760.62 2267.35h18.67v18.66h-18.67zM779.26 2267.35h18.67v18.66h-18.67zM928.39 2267.35h18.67v18.66h-18.67zM965.67 2267.35h18.67v18.66h-18.67zM667.41 2285.98h18.67v18.66h-18.67zM1021.60 2285.98h18.67v18.66h-18.67zM760.62 2304.61h18.67v18.66h-18.67zM891.11 2304.61h18.67v18.66h-18.67zM1058.88 2304.61h18.67v18.66h-18.67zM686.05 2323.24h18.67v18.66h-18.67zM779.26 2323.24h18.67v18.66h-18.67zM797.90 2323.24h18.67v18.66h-18.67zM1002.96 2323.24h18.67v18.66h-18.67zM1058.88 2323.24h18.67v18.66h-18.67zM704.70 2341.87h18.67v18.66h-18.67zM1096.16 2341.87h18.67v18.66h-18.67zM1282.58 2341.87h18.67v18.66h-18.67zM481.00 2360.50h18.67v18.66h-18.67zM686.05 2379.13h18.67v18.66h-18.67zM947.03 2379.13h18.67v18.66h-18.67zM1021.60 2379.13h18.67v18.66h-18.67zM1077.52 2379.13h18.67v18.66h-18.67zM1096.16 2379.13h18.67v18.66h-18.67zM947.03 2397.76h18.67v18.66h-18.67zM1002.96 2397.76h18.67v18.66h-18.67zM1058.88 2397.76h18.67v18.66h-18.67zM686.05 2416.39h18.67v18.66h-18.67zM779.26 2416.39h18.67v18.66h-18.67zM928.39 2416.39h18.67v18.66h-18.67zM1002.96 2416.39h18.67v18.66h-18.67zM853.83 2435.02h18.67v18.66h-18.67zM872.47 2435.02h18.67v18.66h-18.67zM928.39 2435.02h18.67v18.66h-18.67zM630.13 2453.65h18.67v18.66h-18.67zM1002.96 2453.65h18.67v18.66h-18.67zM1021.60 2453.65h18.67v18.66h-18.67zM723.34 2472.28h18.67v18.66h-18.67zM835.18 2472.28h18.67v18.66h-18.67zM1021.60 2472.28h18.67v18.66h-18.67zM1077.52 2472.28h18.67v18.66h-18.67zM965.67 2490.91h18.67v18.66h-18.67zM984.32 2490.91h18.67v18.66h-18.67zM1021.60 2490.91h18.67v18.66h-18.67zM1096.16 2490.91h18.67v18.66h-18.67zM1282.58 2490.91h18.67v18.66h-18.67zM741.98 2509.54h18.67v18.66h-18.67zM853.83 2509.54h18.67v18.66h-18.67zM872.47 2509.54h18.67v18.66h-18.67zM891.11 2509.54h18.67v18.66h-18.67zM928.39 2509.54h18.67v18.66h-18.67zM947.03 2509.54h18.67v18.66h-18.67zM965.67 2509.54h18.67v18.66h-18.67zM1096.16 2509.54h18.67v18.66h-18.67zM574.21 2528.17h18.67v18.66h-18.67zM723.34 2528.17h18.67v18.66h-18.67zM965.67 2528.17h18.67v18.66h-18.67zM1021.60 2528.17h18.67v18.66h-18.67z"/>
<path fill="#bebeff" d="M630.13 2174.20h18.67v18.66h-18.67zM741.98 2435.02h18.67v18.66h-18.67zM928.39 2453.65h18.67v18.66h-18.67z"/>
<path fill="#f8c9cd" d="M648.77 2174.20h18.67v18.66h-18.67zM928.39 2341.87h18.67v18.66h-18.67zM1040.24 2341.87h18.67v18.66h-18.67zM723.34 2416.39h18.67v18.66h-18.67z"/>
<path fill="#f1f1ff" d="M686.05 2174.20h18.67v18.66h-18.67zM872.47 2174.20h18.67v18.66h-18.67zM909.75 2211.46h18.67v18.66h-18.67zM1002.96 2304.61h18.67v18.66h-18.67zM1282.58 2304.61h18.67v18.66h-18.67zM1077.52 2416.39h18.67v18.66h-18.67zM947.03 2453.65h18.67v18.66h-18.67z"/>
<path fill="#f4afb5" d="M704.70 2174.20h18.67v18.66h-18.67zM1021.60 2230.09h18.67v18.66h-18.67zM518.28 2267.35h18.67v18.66h-18.67zM536.92 2323.24h18.67v18.66h-18.67z"/>
<path fill="#f3a6ac" d="M723.34 2174.20h18.67v18.66h-18.67zM816.54 2174.20h18.67v18.66h-18.67zM499.64 2323.24h18.67v18.66h-18.67zM648.77 2472.28h18.67v18.66h-18.67z"/>
<path fill="#f7c7cb" d="M741.98 2174.20h18.67v18.66h-18.67zM779.26 2174.20h18.67v18.66h-18.67zM574.21 2192.83h18.67v18.66h-18.67zM1077.52 2192.83h18.67v18.66h-18.67zM965.67 2248.72h18.67v18.66h-18.67zM499.64 2304.61h18.67v18.66h-18.67zM947.03 2304.61h18.67v18.66h-18.67zM1077.52 2360.50h18.67v18.66h-18.67z"/>
<path fill="#e8e8ff" d="M760.62 2174.20h18.67v18.66h-18.67zM686.05 2230.09h18.67v18.66h-18.67zM1096.16 2285.98h18.67v18.66h-18.67zM630.13 2397.76h18.67v18.66h-18.67zM704.70 2490.91h18.67v18.66h-18.67zM909.75 2490.91h18.67v18.66h-18.67zM779.26 2509.54h18.67v18.66h-18.67zM909.75 2509.54h18.67v18.66h-18.67z"/>
<path fill="#e7e7ff" d="M797.90 2174.20h18.67v18.66h-18.67zM686.05 2192.83h18.67v18.66h-18.67zM909.75 2341.87h18.67v18.66h-18.67zM797.90 2379.13h18.67v18.66h-18.67zM835.18 2435.02h18.67v18.66h-18.67zM984.32 2435.02h18.67v18.66h-18.67zM1058.88 2453.65h18.67v18.66h-18.67zM1021.60 2509.54h18.67v18.66h-18.67z"/>
<path fill="#f2878d" d="M835.18 2174.20h18.67v18.66h-18.67zM611.49 2248.72h18.67v18.66h-18.67zM481.00 2397.76h18.67v18.66h-18.67zM611.49 2453.65h18.67v18.66h-18.67z"/>
<path fill="#fadee0" d="M853.83 2174.20h18.67v18.66h-18.67zM667.41 2211.46h18.67v18.66h-18.67zM797.90 2285.98h18.67v18.66h-18.67zM536.92 2341.87h18.67v18.66h-18.67zM611.49 2341.87h18.67v18.66h-18.67zM1002.96 2379.13h18.67v18.66h-18.67zM630.13 2416.39h18.67v18.66h-18.67zM1058.88 2435.02h18.67v18.66h-18.67zM1058.88 2509.54h18.67v18.66h-18.67z"/>
<path fill="#f3a1a7" d="M891.11 2174.20h18.67v18.66h-18.67zM555.57 2528.17h18.67v18.66h-18.67z"/>
<path fill="#f7c8cc" d="M928.39 2174.20h18.67v18.66h-18.67zM928.39 2248.72h18.67v18.66h-18.67zM947.03 2267.35h18.67v18.66h-18.67zM965.67 2304.61h18.67v18.66h-18.67zM816.54 2360.50h18.67v18.66h-18.67zM1002.96 2360.50h18.67v18.66h-18.67zM667.41 2472.28h18.67v18.66h-18.67z"/>
<path fill="#f3a3a9" d="M947.03 2174.20h18.67v18.66h-18.67zM630.13 2435.02h18.67v18.66h-18.67z"/>
<path fill="#f16b71" d="M965.67 2174.20h18.67v18.66h-18.67zM648.77 2360.50h18.67v18.66h-18.67zM499.64 2509.54h18.67v18.66h-18.67zM853.83 2528.17h18.67v18.66h-18.67z"/>
<path fill="#f7c3c7" d="M984.32 2174.20h18.67v18.66h-18.67zM630.13 2230.09h18.67v18.66h-18.67zM1021.60 2248.72h18.67v18.66h-18.67zM723.34 2267.35h18.67v18.66h-18.67z"/>
<path fill="#f28288" d="M1002.96 2174.20h18.67v18.66h-18.67zM797.90 2360.50h18.67v18.66h-18.67zM984.32 2472.28h18.67v18.66h-18.67zM499.64 2490.91h18.67v18.66h-18.67zM1002.96 2490.91h18.67v18.66h-18.67z"/>
<path fill="#fceced" d="M1021.60 2174.20h18.67v18.66h-18.67zM1096.16 2472.28h18.67v18.66h-18.67zM891.11 2490.91h18.67v18.66h-18.67z"/>
<path fill="#e9e9ff" d="M1040.24 2174.20h18.67v18.66h-18.67zM1189.37 2211.46h18.67v18.66h-18.67zM891.11 2248.72h18.67v18.66h-18.67zM1077.52 2341.87h18.67v18.66h-18.67zM1282.58 2472.28h18.67v18.66h-18.67zM1301.22 2472.28h18.67v18.66h-18.67zM928.39 2490.91h18.67v18.66h-18.67zM704.70 2509.54h18.67v18.66h-18.67zM760.62 2509.54h18.67v18.66h-18.67z"/>
<path fill="#f28a90" d="M1058.88 2174.20h18.67v18.66h-18.67zM1058.88 2211.46h18.67v18.66h-18.67zM686.05 2472.28h18.67v18.66h-18.67zM518.28 2509.54h18.67v18.66h-18.67zM630.13 2509.54h18.67v18.66h-18.67zM704.70 2528.17h18.67v18.66h-18.67z"/>
<path fill="#fbe2e4" d="M1077.52 2174.20h18.67v18.66h-18.67zM574.21 2267.35h18.67v18.66h-18.67zM741.98 2304.61h18.67v18.66h-18.67zM592.85 2323.24h18.67v18.66h-18.67zM816.54 2472.28h18.67v18.66h-18.67z"/>
<path fill="#7069ff" d="M1114.80 2174.20h18.67v18.66h-18.67zM1152.09 2174.20h18.67v18.66h-18.67z"/>
<path fill="#8682ff" d="M1133.45 2174.20h18.67v18.66h-18.67z"/>
<path fill="#8d8aff" d="M1170.73 2174.20h18.67v18.66h-18.67z"/>
<path fill="#5043ff" d="M1189.37 2174.20h18.67v18.66h-18.67z"/>
<path fill="#8e8aff" d="M1208.01 2174.20h18.67v18.66h-18.67zM1263.93 2248.72h18.67v18.66h-18.67zM1152.09 2397.76h18.67v18.66h-18.67z"/>
<path fill="#7771ff" d="M1226.65 2174.20h18.67v18.66h-18.67zM1208.01 2416.39h18.67v18.66h-18.67zM1226.65 2472.28h18.67v18.66h-18.67zM1189.37 2509.54h18.67v18.66h-18.67z"/>
<path fill="#5b51ff" d="M1245.29 2174.20h18.67v18.66h-18.67z"/>
<path fill="#5c52ff" d="M1263.93 2174.20h18.67v18.66h-18.67z"/>
<path fill="#d7d7ff" d="M1282.58 2174.20h18.67v18.66h-18.67zM779.26 2248.72h18.67v18.66h-18.67zM1282.58 2323.24h18.67v18.66h-18.67zM1226.65 2435.02h18.67v18.66h-18.67z"/>
<path fill="#d6d6ff" d="M1301.22 2174.20h18.67v18.66h-18.67zM1040.24 2267.35h18.67v18.66h-18.67zM1245.29 2304.61h18.67v18.66h-18.67zM1282.58 2528.17h18.67v18.66h-18.67z"/>
<path fill="#a8a7ff" d="M1319.86 2174.20h18.67v18.66h-18.67zM797.90 2528.17h18.67v18.66h-18.67z"/>
<path fill="#f4acb2" d="M481.00 2192.83h18.67v18.66h-18.67zM611.49 2230.09h18.67v18.66h-18.67zM574.21 2360.50h18.67v18.66h-18.67zM574.21 2416.39h18.67v18.66h-18.67z"/>
<path fill="#f2848a" d="M499.64 2192.83h18.67v18.66h-18.67zM481.00 2267.35h18.67v18.66h-18.67zM592.85 2304.61h18.67v18.66h-18.67zM648.77 2304.61h18.67v18.66h-18.67zM1096.16 2360.50h18.67v18.66h-18.67zM499.64 2397.76h18.67v18.66h-18.67zM499.64 2453.65h18.67v18.66h-18.67zM555.57 2453.65h18.67v18.66h-18.67z"/>
<path fill="#f2868c" d="M518.28 2192.83h18.67v18.66h-18.67zM536.92 2211.46h18.67v18.66h-18.67zM555.57 2211.46h18.67v18.66h-18.67zM1058.88 2341.87h18.67v18.66h-18.67zM816.54 2453.65h18.67v18.66h-18.67zM1002.96 2528.17h18.67v18.66h-18.67z"/>
<path fill="#f3a4aa" d="M536.92 2192.83h18.67v18.66h-18.67zM984.32 2192.83h18.67v18.66h-18.67zM686.05 2248.72h18.67v18.66h-18.67zM667.41 2267.35h18.67v18.66h-18.67zM592.85 2285.98h18.67v18.66h-18.67z"/>
<path fill="#f4aeb4" d="M555.57 2192.83h18.67v18.66h-18.67z"/>
<path fill="#e2e2ff" d="M592.85 2192.83h18.67v18.66h-18.67z"/>
<path fill="#f6c1c5" d="M611.49 2192.83h18.67v18.66h-18.67zM1002.96 2267.35h18.67v18.66h-18.67zM648.77 2285.98h18.67v18.66h-18.67zM630.13 2304.61h18.67v18.66h-18.67zM611.49 2323.24h18.67v18.66h-18.67zM592.85 2341.87h18.67v18.66h-18.67zM872.47 2341.87h18.67v18.66h-18.67z"/>
<path fill="#dbdbff" d="M630.13 2192.83h18.67v18.66h-18.67zM1189.37 2360.50h18.67v18.66h-18.67zM630.13 2379.13h18.67v18.66h-18.67zM1170.73 2379.13h18.67v18.66h-18.67zM1040.24 2453.65h18.67v18.66h-18.67zM797.90 2509.54h18.67v18.66h-18.67z"/>
<path fill="#f3a2a8" d="M648.77 2192.83h18.67v18.66h-18.67zM816.54 2211.46h18.67v18.66h-18.67zM1002.96 2211.46h18.67v18.66h-18.67zM779.26 2304.61h18.67v18.66h-18.67zM481.00 2341.87h18.67v18.66h-18.67zM555.57 2397.76h18.67v18.66h-18.67z"/>
<path fill="#f8ced1" d="M667.41 2192.83h18.67v18.66h-18.67zM611.49 2211.46h18.67v18.66h-18.67zM723.34 2211.46h18.67v18.66h-18.67zM947.03 2341.87h18.67v18.66h-18.67zM816.54 2379.13h18.67v18.66h-18.67zM592.85 2397.76h18.67v18.66h-18.67zM704.70 2453.65h18.67v18.66h-18.67zM872.47 2490.91h18.67v18.66h-18.67z"/>
<path fill="#fbe4e6" d="M723.34 2192.83h18.67v18.66h-18.67zM741.98 2192.83h18.67v18.66h-18.67zM947.03 2323.24h18.67v18.66h-18.67zM909.75 2416.39h18.67v18.66h-18.67zM1301.22 2416.39h18.67v18.66h-18.67zM872.47 2528.17h18.67v18.66h-18.67z"/>
<path fill="#cfcfff" d="M797.90 2192.83h18.67v18.66h-18.67zM630.13 2211.46h18.67v18.66h-18.67zM797.90 2211.46h18.67v18.66h-18.67zM965.67 2285.98h18.67v18.66h-18.67zM574.21 2341.87h18.67v18.66h-18.67zM704.70 2379.13h18.67v18.66h-18.67zM1301.22 2435.02h18.67v18.66h-18.67z"/>
<path fill="#fbe0e2" d="M816.54 2192.83h18.67v18.66h-18.67zM1096.16 2230.09h18.67v18.66h-18.67zM667.41 2341.87h18.67v18.66h-18.67zM835.18 2341.87h18.67v18.66h-18.67zM984.32 2360.50h18.67v18.66h-18.67zM779.26 2397.76h18.67v18.66h-18.67z"/>
<path fill="#f28c92" d="M835.18 2192.83h18.67v18.66h-18.67zM1002.96 2192.83h18.67v18.66h-18.67zM518.28 2416.39h18.67v18.66h-18.67zM872.47 2453.65h18.67v18.66h-18.67zM518.28 2472.28h18.67v18.66h-18.67zM481.00 2528.17h18.67v18.66h-18.67zM835.18 2528.17h18.67v18.66h-18.67z"/>
<path fill="#f16d73" d="M853.83 2192.83h18.67v18.66h-18.67zM481.00 2230.09h18.67v18.66h-18.67zM481.00 2416.39h18.67v18.66h-18.67z"/>
<path fill="#f4aeb3" d="M872.47 2192.83h18.67v18.66h-18.67zM481.00 2304.61h18.67v18.66h-18.67zM816.54 2490.91h18.67v18.66h-18.67z"/>
<path fill="#f7c5c9" d="M891.11 2192.83h18.67v18.66h-18.67zM947.03 2211.46h18.67v18.66h-18.67zM872.47 2230.09h18.67v18.66h-18.67zM704.70 2248.72h18.67v18.66h-18.67zM723.34 2285.98h18.67v18.66h-18.67zM947.03 2285.98h18.67v18.66h-18.67zM1021.60 2435.02h18.67v18.66h-18.67zM499.64 2528.17h18.67v18.66h-18.67zM741.98 2528.17h18.67v18.66h-18.67zM816.54 2528.17h18.67v18.66h-18.67z"/>
<path fill="#e4e4ff" d="M909.75 2192.83h18.67v18.66h-18.67zM611.49 2285.98h18.67v18.66h-18.67zM779.26 2285.98h18.67v18.66h-18.67zM667.41 2416.39h18.67v18.66h-18.67zM779.26 2472.28h18.67v18.66h-18.67z"/>
<path fill="#f7c6ca" d="M947.03 2192.83h18.67v18.66h-18.67zM592.85 2211.46h18.67v18.66h-18.67zM574.21 2248.72h18.67v18.66h-18.67zM928.39 2285.98h18.67v18.66h-18.67zM574.21 2304.61h18.67v18.66h-18.67zM686.05 2304.61h18.67v18.66h-18.67zM648.77 2323.24h18.67v18.66h-18.67zM1021.60 2341.87h18.67v18.66h-18.67zM499.64 2360.50h18.67v18.66h-18.67zM611.49 2472.28h18.67v18.66h-18.67zM891.11 2528.17h18.67v18.66h-18.67z"/>
<path fill="#f17076" d="M965.67 2192.83h18.67v18.66h-18.67zM518.28 2435.02h18.67v18.66h-18.67zM592.85 2509.54h18.67v18.66h-18.67z"/>
<path fill="#fce6e8" d="M1021.60 2192.83h18.67v18.66h-18.67zM741.98 2211.46h18.67v18.66h-18.67zM891.11 2341.87h18.67v18.66h-18.67z"/>
<path fill="#e3e3ff" d="M1040.24 2192.83h18.67v18.66h-18.67zM835.18 2248.72h18.67v18.66h-18.67zM1040.24 2248.72h18.67v18.66h-18.67zM1040.24 2379.13h18.67v18.66h-18.67zM984.32 2416.39h18.67v18.66h-18.67zM630.13 2528.17h18.67v18.66h-18.67z"/>
<path fill="#f28d93" d="M1058.88 2192.83h18.67v18.66h-18.67zM518.28 2230.09h18.67v18.66h-18.67zM536.92 2397.76h18.67v18.66h-18.67zM891.11 2453.65h18.67v18.66h-18.67zM481.00 2472.28h18.67v18.66h-18.67z"/>
<path fill="#ebebff" d="M1096.16 2192.83h18.67v18.66h-18.67zM797.90 2230.09h18.67v18.66h-18.67zM984.32 2267.35h18.67v18.66h-18.67zM741.98 2285.98h18.67v18.66h-18.67zM984.32 2323.24h18.67v18.66h-18.67zM1301.22 2323.24h18.67v18.66h-18.67zM1040.24 2360.50h18.67v18.66h-18.67zM928.39 2379.13h18.67v18.66h-18.67zM872.47 2472.28h18.67v18.66h-18.67zM1077.52 2490.91h18.67v18.66h-18.67z"/>
<path fill="#736dff" d="M1114.80 2192.83h18.67v18.66h-18.67zM1245.29 2211.46h18.67v18.66h-18.67zM1319.86 2379.13h18.67v18.66h-18.67z"/>
<path fill="#9390ff" d="M1133.45 2192.83h18.67v18.66h-18.67zM1170.73 2192.83h18.67v18.66h-18.67zM1301.22 2230.09h18.67v18.66h-18.67z"/>
<path fill="#8a86ff" d="M1152.09 2192.83h18.67v18.66h-18.67zM1133.45 2248.72h18.67v18.66h-18.67zM1133.45 2435.02h18.67v18.66h-18.67zM1152.09 2490.91h18.67v18.66h-18.67z"/>
<path fill="#7c76ff" d="M1189.37 2192.83h18.67v18.66h-18.67zM1152.09 2341.87h18.67v18.66h-18.67zM1133.45 2528.17h18.67v18.66h-18.67z"/>
<path fill="#665eff" d="M1208.01 2192.83h18.67v18.66h-18.67z"/>
<path fill="#a5a4ff" d="M1226.65 2192.83h18.67v18.66h-18.67zM891.11 2379.13h18.67v18.66h-18.67zM1189.37 2453.65h18.67v18.66h-18.67z"/>
<path fill="#726cff" d="M1245.29 2192.83h18.67v18.66h-18.67zM1263.93 2267.35h18.67v18.66h-18.67zM1152.09 2360.50h18.67v18.66h-18.67zM1263.93 2490.91h18.67v18.66h-18.67z"/>
<path fill="#6259ff" d="M1263.93 2192.83h18.67v18.66h-18.67z"/>
<path fill="#dadaff" d="M1282.58 2192.83h18.67v18.66h-18.67zM1282.58 2397.76h18.67v18.66h-18.67zM1301.22 2397.76h18.67v18.66h-18.67zM1040.24 2490.91h18.67v18.66h-18.67zM1301.22 2490.91h18.67v18.66h-18.67z"/>
<path fill="#9492ff" d="M1301.22 2192.83h18.67v18.66h-18.67zM1189.37 2248.72h18.67v18.66h-18.67zM1114.80 2323.24h18.67v18.66h-18.67zM1263.93 2360.50h18.67v18.66h-18.67zM1114.80 2453.65h18.67v18.66h-18.67z"/>
<path fill="#736cff" d="M1319.86 2192.83h18.67v18.66h-18.67zM1226.65 2211.46h18.67v18.66h-18.67z"/>
<path fill="#f4b0b5" d="M481.00 2211.46h18.67v18.66h-18.67zM723.34 2248.72h18.67v18.66h-18.67zM741.98 2397.76h18.67v18.66h-18.67zM872.47 2397.76h18.67v18.66h-18.67z"/>
<path fill="#f28e94" d="M499.64 2211.46h18.67v18.66h-18.67zM1058.88 2248.72h18.67v18.66h-18.67zM555.57 2379.13h18.67v18.66h-18.67z"/>
<path fill="#f1696f" d="M518.28 2211.46h18.67v18.66h-18.67zM1077.52 2248.72h18.67v18.66h-18.67zM835.18 2285.98h18.67v18.66h-18.67zM536.92 2435.02h18.67v18.66h-18.67z"/>
<path fill="#f8cccf" d="M574.21 2211.46h18.67v18.66h-18.67zM741.98 2267.35h18.67v18.66h-18.67zM536.92 2416.39h18.67v18.66h-18.67z"/>
<path fill="#f8cacd" d="M648.77 2211.46h18.67v18.66h-18.67zM835.18 2230.09h18.67v18.66h-18.67z"/>
<path fill="#fbe3e5" d="M686.05 2211.46h18.67v18.66h-18.67zM853.83 2230.09h18.67v18.66h-18.67zM481.00 2248.72h18.67v18.66h-18.67z"/>
<path fill="#efefff" d="M704.70 2211.46h18.67v18.66h-18.67zM816.54 2435.02h18.67v18.66h-18.67zM686.05 2528.17h18.67v18.66h-18.67z"/>
<path fill="#ceceff" d="M760.62 2211.46h18.67v18.66h-18.67zM909.75 2323.24h18.67v18.66h-18.67zM947.03 2490.91h18.67v18.66h-18.67z"/>
<path fill="#e6e6ff" d="M779.26 2211.46h18.67v18.66h-18.67zM928.39 2304.61h18.67v18.66h-18.67zM1096.16 2304.61h18.67v18.66h-18.67zM928.39 2397.76h18.67v18.66h-18.67z"/>
<path fill="#f16e74" d="M853.83 2211.46h18.67v18.66h-18.67zM555.57 2285.98h18.67v18.66h-18.67zM965.67 2416.39h18.67v18.66h-18.67zM499.64 2435.02h18.67v18.66h-18.67zM481.00 2490.91h18.67v18.66h-18.67zM686.05 2509.54h18.67v18.66h-18.67z"/>
<path fill="#f7c4c8" d="M872.47 2211.46h18.67v18.66h-18.67zM1096.16 2248.72h18.67v18.66h-18.67zM574.21 2379.13h18.67v18.66h-18.67zM704.70 2416.39h18.67v18.66h-18.67zM1058.88 2416.39h18.67v18.66h-18.67zM1077.52 2435.02h18.67v18.66h-18.67zM723.34 2490.91h18.67v18.66h-18.67zM1077.52 2509.54h18.67v18.66h-18.67z"/>
<path fill="#f3a8ae" d="M965.67 2211.46h18.67v18.66h-18.67zM723.34 2304.61h18.67v18.66h-18.67zM704.70 2323.24h18.67v18.66h-18.67zM741.98 2323.24h18.67v18.66h-18.67zM816.54 2323.24h18.67v18.66h-18.67zM984.32 2379.13h18.67v18.66h-18.67zM555.57 2435.02h18.67v18.66h-18.67zM648.77 2453.65h18.67v18.66h-18.67z"/>
<path fill="#fce8ea" d="M1077.52 2211.46h18.67v18.66h-18.67z"/>
<path fill="#837eff" d="M1114.80 2211.46h18.67v18.66h-18.67zM1245.29 2435.02h18.67v18.66h-18.67z"/>
<path fill="#7d78ff" d="M1133.45 2211.46h18.67v18.66h-18.67zM1152.09 2267.35h18.67v18.66h-18.67zM1189.37 2341.87h18.67v18.66h-18.67zM1226.65 2416.39h18.67v18.66h-18.67z"/>
<path fill="#7e79ff" d="M1152.09 2211.46h18.67v18.66h-18.67zM1208.01 2397.76h18.67v18.66h-18.67z"/>
<path fill="#8e8bff" d="M1170.73 2211.46h18.67v18.66h-18.67zM1114.80 2230.09h18.67v18.66h-18.67zM1133.45 2509.54h18.67v18.66h-18.67zM1245.29 2528.17h18.67v18.66h-18.67z"/>
<path fill="#726bff" d="M1208.01 2211.46h18.67v18.66h-18.67z"/>
<path fill="#5b50ff" d="M1263.93 2211.46h18.67v18.66h-18.67z"/>
<path fill="#a9a9ff" d="M1282.58 2211.46h18.67v18.66h-18.67zM1133.45 2230.09h18.67v18.66h-18.67zM1301.22 2248.72h18.67v18.66h-18.67zM1319.86 2304.61h18.67v18.66h-18.67zM1170.73 2435.02h18.67v18.66h-18.67z"/>
<path fill="#8986ff" d="M1301.22 2211.46h18.67v18.66h-18.67zM1170.73 2360.50h18.67v18.66h-18.67z"/>
<path fill="#746eff" d="M1319.86 2211.46h18.67v18.66h-18.67zM1114.80 2248.72h18.67v18.66h-18.67zM1208.01 2248.72h18.67v18.66h-18.67z"/>
<path fill="#f16f75" d="M499.64 2230.09h18.67v18.66h-18.67zM555.57 2267.35h18.67v18.66h-18.67zM872.47 2323.24h18.67v18.66h-18.67zM648.77 2490.91h18.67v18.66h-18.67zM536.92 2528.17h18.67v18.66h-18.67z"/>
<path fill="#fce7e9" d="M555.57 2230.09h18.67v18.66h-18.67zM1021.60 2267.35h18.67v18.66h-18.67zM1077.52 2304.61h18.67v18.66h-18.67zM835.18 2360.50h18.67v18.66h-18.67zM686.05 2453.65h18.67v18.66h-18.67z"/>
<path fill="#fce8e9" d="M574.21 2230.09h18.67v18.66h-18.67zM1002.96 2248.72h18.67v18.66h-18.67zM760.62 2285.98h18.67v18.66h-18.67zM611.49 2360.50h18.67v18.66h-18.67zM984.32 2528.17h18.67v18.66h-18.67z"/>
<path fill="#f2898f" d="M592.85 2230.09h18.67v18.66h-18.67zM648.77 2230.09h18.67v18.66h-18.67zM499.64 2267.35h18.67v18.66h-18.67zM891.11 2323.24h18.67v18.66h-18.67zM518.28 2341.87h18.67v18.66h-18.67zM816.54 2416.39h18.67v18.66h-18.67zM481.00 2435.02h18.67v18.66h-18.67zM835.18 2453.65h18.67v18.66h-18.67zM853.83 2490.91h18.67v18.66h-18.67z"/>
<path fill="#f29096" d="M667.41 2230.09h18.67v18.66h-18.67z"/>
<path fill="#dcdcff" d="M704.70 2230.09h18.67v18.66h-18.67zM760.62 2230.09h18.67v18.66h-18.67zM965.67 2323.24h18.67v18.66h-18.67zM872.47 2360.50h18.67v18.66h-18.67zM760.62 2472.28h18.67v18.66h-18.67zM816.54 2509.54h18.67v18.66h-18.67z"/>
<path fill="#b3b3ff" d="M723.34 2230.09h18.67v18.66h-18.67z"/>
<path fill="#f3a7ad" d="M741.98 2230.09h18.67v18.66h-18.67zM481.00 2285.98h18.67v18.66h-18.67zM1002.96 2285.98h18.67v18.66h-18.67zM686.05 2360.50h18.67v18.66h-18.67zM741.98 2416.39h18.67v18.66h-18.67zM574.21 2453.65h18.67v18.66h-18.67z"/>
<path fill="#a3a2ff" d="M779.26 2230.09h18.67v18.66h-18.67zM1301.22 2360.50h18.67v18.66h-18.67zM1096.16 2397.76h18.67v18.66h-18.67zM1152.09 2453.65h18.67v18.66h-18.67zM1245.29 2509.54h18.67v18.66h-18.67z"/>
<path fill="#f7c9cc" d="M816.54 2230.09h18.67v18.66h-18.67z"/>
<path fill="#f3abb1" d="M891.11 2230.09h18.67v18.66h-18.67zM835.18 2379.13h18.67v18.66h-18.67zM891.11 2397.76h18.67v18.66h-18.67zM853.83 2453.65h18.67v18.66h-18.67zM536.92 2472.28h18.67v18.66h-18.67z"/>
<path fill="#fbe5e7" d="M928.39 2230.09h18.67v18.66h-18.67zM1058.88 2267.35h18.67v18.66h-18.67zM760.62 2416.39h18.67v18.66h-18.67zM965.67 2435.02h18.67v18.66h-18.67z"/>
<path fill="#fbe5e6" d="M984.32 2230.09h18.67v18.66h-18.67zM723.34 2341.87h18.67v18.66h-18.67z"/>
<path fill="#f7c2c7" d="M1002.96 2230.09h18.67v18.66h-18.67zM611.49 2397.76h18.67v18.66h-18.67zM853.83 2472.28h18.67v18.66h-18.67zM779.26 2528.17h18.67v18.66h-18.67z"/>
<path fill="#f17177" d="M1058.88 2230.09h18.67v18.66h-18.67z"/>
<path fill="#f3acb1" d="M1077.52 2230.09h18.67v18.66h-18.67zM518.28 2304.61h18.67v18.66h-18.67z"/>
<path fill="#a3a3ff" d="M1152.09 2230.09h18.67v18.66h-18.67zM1245.29 2490.91h18.67v18.66h-18.67z"/>
<path fill="#716aff" d="M1170.73 2230.09h18.67v18.66h-18.67zM1208.01 2267.35h18.67v18.66h-18.67zM1152.09 2285.98h18.67v18.66h-18.67zM1226.65 2285.98h18.67v18.66h-18.67zM1319.86 2490.91h18.67v18.66h-18.67z"/>
<path fill="#827dff" d="M1189.37 2230.09h18.67v18.66h-18.67z"/>
<path fill="#6f68ff" d="M1208.01 2230.09h18.67v18.66h-18.67zM1152.09 2248.72h18.67v18.66h-18.67zM1319.86 2248.72h18.67v18.66h-18.67zM1133.45 2304.61h18.67v18.66h-18.67zM1226.65 2304.61h18.67v18.66h-18.67zM1263.93 2304.61h18.67v18.66h-18.67zM1133.45 2416.39h18.67v18.66h-18.67zM1319.86 2472.28h18.67v18.66h-18.67zM1263.93 2528.17h18.67v18.66h-18.67z"/>
<path fill="#7a74ff" d="M1226.65 2230.09h18.67v18.66h-18.67z"/>
<path fill="#7872ff" d="M1245.29 2230.09h18.67v18.66h-18.67zM1189.37 2323.24h18.67v18.66h-18.67zM1245.29 2360.50h18.67v18.66h-18.67zM1245.29 2453.65h18.67v18.66h-18.67z"/>
<path fill="#5e54ff" d="M1263.93 2230.09h18.67v18.66h-18.67z"/>
<path fill="#a2a1ff" d="M1282.58 2230.09h18.67v18.66h-18.67zM1319.86 2285.98h18.67v18.66h-18.67zM1319.86 2341.87h18.67v18.66h-18.67zM1133.45 2379.13h18.67v18.66h-18.67zM1077.52 2397.76h18.67v18.66h-18.67zM1152.09 2472.28h18.67v18.66h-18.67z"/>
<path fill="#837fff" d="M1319.86 2230.09h18.67v18.66h-18.67zM1282.58 2379.13h18.67v18.66h-18.67z"/>
<path fill="#f8cdd1" d="M499.64 2248.72h18.67v18.66h-18.67zM835.18 2304.61h18.67v18.66h-18.67zM1096.16 2435.02h18.67v18.66h-18.67z"/>
<path fill="#f28f95" d="M536.92 2248.72h18.67v18.66h-18.67zM499.64 2341.87h18.67v18.66h-18.67zM555.57 2341.87h18.67v18.66h-18.67zM648.77 2341.87h18.67v18.66h-18.67zM816.54 2341.87h18.67v18.66h-18.67zM574.21 2472.28h18.67v18.66h-18.67zM835.18 2490.91h18.67v18.66h-18.67z"/>
<path fill="#f16c72" d="M555.57 2248.72h18.67v18.66h-18.67zM611.49 2509.54h18.67v18.66h-18.67zM648.77 2528.17h18.67v18.66h-18.67z"/>
<path fill="#f6c0c4" d="M592.85 2248.72h18.67v18.66h-18.67zM667.41 2248.72h18.67v18.66h-18.67zM592.85 2267.35h18.67v18.66h-18.67zM518.28 2285.98h18.67v18.66h-18.67zM1058.88 2285.98h18.67v18.66h-18.67zM853.83 2360.50h18.67v18.66h-18.67zM686.05 2435.02h18.67v18.66h-18.67zM1040.24 2435.02h18.67v18.66h-18.67zM909.75 2472.28h18.67v18.66h-18.67zM611.49 2528.17h18.67v18.66h-18.67z"/>
<path fill="#f25356" d="M648.77 2248.72h18.67v18.66h-18.67z"/>
<path fill="#bfbfff" d="M741.98 2248.72h18.67v18.66h-18.67zM1170.73 2267.35h18.67v18.66h-18.67zM1152.09 2379.13h18.67v18.66h-18.67z"/>
<path fill="#d3d3ff" d="M760.62 2248.72h18.67v18.66h-18.67zM891.11 2360.50h18.67v18.66h-18.67zM984.32 2397.76h18.67v18.66h-18.67zM1282.58 2416.39h18.67v18.66h-18.67zM1301.22 2509.54h18.67v18.66h-18.67z"/>
<path fill="#fadde0" d="M797.90 2248.72h18.67v18.66h-18.67zM909.75 2528.17h18.67v18.66h-18.67z"/>
<path fill="#fadee1" d="M816.54 2248.72h18.67v18.66h-18.67zM909.75 2435.02h18.67v18.66h-18.67z"/>
<path fill="#eeeeff" d="M872.47 2248.72h18.67v18.66h-18.67z"/>
<path fill="#f2858b" d="M909.75 2248.72h18.67v18.66h-18.67zM667.41 2360.50h18.67v18.66h-18.67zM723.34 2360.50h18.67v18.66h-18.67zM518.28 2453.65h18.67v18.66h-18.67zM741.98 2453.65h18.67v18.66h-18.67zM686.05 2490.91h18.67v18.66h-18.67zM481.00 2509.54h18.67v18.66h-18.67z"/>
<path fill="#fce6e7" d="M947.03 2248.72h18.67v18.66h-18.67z"/>
<path fill="#f8ccd0" d="M984.32 2248.72h18.67v18.66h-18.67zM909.75 2360.50h18.67v18.66h-18.67z"/>
<path fill="#716bff" d="M1170.73 2248.72h18.67v18.66h-18.67zM1208.01 2472.28h18.67v18.66h-18.67zM1170.73 2490.91h18.67v18.66h-18.67z"/>
<path fill="#7973ff" d="M1226.65 2248.72h18.67v18.66h-18.67zM1114.80 2285.98h18.67v18.66h-18.67zM1114.80 2304.61h18.67v18.66h-18.67zM1152.09 2304.61h18.67v18.66h-18.67zM1208.01 2304.61h18.67v18.66h-18.67zM1208.01 2323.24h18.67v18.66h-18.67z"/>
<path fill="#a1a0ff" d="M1245.29 2248.72h18.67v18.66h-18.67zM1208.01 2435.02h18.67v18.66h-18.67zM1319.86 2453.65h18.67v18.66h-18.67zM704.70 2472.28h18.67v18.66h-18.67z"/>
<path fill="#bcbcff" d="M1282.58 2248.72h18.67v18.66h-18.67zM741.98 2341.87h18.67v18.66h-18.67z"/>
<path fill="#f3a9af" d="M536.92 2267.35h18.67v18.66h-18.67zM648.77 2379.13h18.67v18.66h-18.67zM518.28 2397.76h18.67v18.66h-18.67zM835.18 2397.76h18.67v18.66h-18.67zM611.49 2490.91h18.67v18.66h-18.67zM555.57 2509.54h18.67v18.66h-18.67zM574.21 2509.54h18.67v18.66h-18.67z"/>
<path fill="#f7c7ca" d="M611.49 2267.35h18.67v18.66h-18.67zM872.47 2416.39h18.67v18.66h-18.67z"/>
<path fill="#ededff" d="M630.13 2267.35h18.67v18.66h-18.67zM1077.52 2285.98h18.67v18.66h-18.67zM630.13 2360.50h18.67v18.66h-18.67zM704.70 2435.02h18.67v18.66h-18.67zM1002.96 2509.54h18.67v18.66h-18.67zM760.62 2528.17h18.67v18.66h-18.67z"/>
<path fill="#f3aab0" d="M648.77 2267.35h18.67v18.66h-18.67zM667.41 2379.13h18.67v18.66h-18.67zM835.18 2416.39h18.67v18.66h-18.67zM574.21 2435.02h18.67v18.66h-18.67zM667.41 2453.65h18.67v18.66h-18.67z"/>
<path fill="#a6a5ff" d="M797.90 2267.35h18.67v18.66h-18.67z"/>
<path fill="#f8cbcf" d="M816.54 2267.35h18.67v18.66h-18.67zM723.34 2397.76h18.67v18.66h-18.67zM592.85 2528.17h18.67v18.66h-18.67z"/>
<path fill="#f34f51" d="M835.18 2267.35h18.67v18.66h-18.67z"/>
<path fill="#f25154" d="M853.83 2267.35h18.67v18.66h-18.67zM555.57 2360.50h18.67v18.66h-18.67zM667.41 2397.76h18.67v18.66h-18.67z"/>
<path fill="#f2888e" d="M891.11 2267.35h18.67v18.66h-18.67zM555.57 2323.24h18.67v18.66h-18.67zM592.85 2416.39h18.67v18.66h-18.67zM965.67 2472.28h18.67v18.66h-18.67zM1002.96 2472.28h18.67v18.66h-18.67zM667.41 2490.91h18.67v18.66h-18.67z"/>
<path fill="#d5d5ff" d="M909.75 2267.35h18.67v18.66h-18.67zM1021.60 2304.61h18.67v18.66h-18.67zM909.75 2379.13h18.67v18.66h-18.67zM1319.86 2528.17h18.67v18.66h-18.67z"/>
<path fill="#ababff" d="M1077.52 2267.35h18.67v18.66h-18.67z"/>
<path fill="#d2d2ff" d="M1096.16 2267.35h18.67v18.66h-18.67zM630.13 2285.98h18.67v18.66h-18.67zM965.67 2453.65h18.67v18.66h-18.67z"/>
<path fill="#7670ff" d="M1114.80 2267.35h18.67v18.66h-18.67zM1133.45 2285.98h18.67v18.66h-18.67zM1170.73 2472.28h18.67v18.66h-18.67zM1189.37 2472.28h18.67v18.66h-18.67zM1263.93 2472.28h18.67v18.66h-18.67z"/>
<path fill="#7d77ff" d="M1133.45 2267.35h18.67v18.66h-18.67z"/>
<path fill="#756eff" d="M1189.37 2267.35h18.67v18.66h-18.67z"/>
<path fill="#6e67ff" d="M1226.65 2267.35h18.67v18.66h-18.67zM1226.65 2323.24h18.67v18.66h-18.67zM1114.80 2360.50h18.67v18.66h-18.67z"/>
<path fill="#847fff" d="M1245.29 2267.35h18.67v18.66h-18.67z"/>
<path fill="#a7a7ff" d="M1282.58 2267.35h18.67v18.66h-18.67zM1189.37 2285.98h18.67v18.66h-18.67zM797.90 2490.91h18.67v18.66h-18.67z"/>
<path fill="#babaff" d="M1301.22 2267.35h18.67v18.66h-18.67zM779.26 2360.50h18.67v18.66h-18.67zM797.90 2472.28h18.67v18.66h-18.67z"/>
<path fill="#908dff" d="M1319.86 2267.35h18.67v18.66h-18.67zM1319.86 2323.24h18.67v18.66h-18.67zM1245.29 2379.13h18.67v18.66h-18.67zM1133.45 2397.76h18.67v18.66h-18.67zM1077.52 2528.17h18.67v18.66h-18.67z"/>
<path fill="#f6bfc3" d="M499.64 2285.98h18.67v18.66h-18.67zM574.21 2323.24h18.67v18.66h-18.67zM574.21 2397.76h18.67v18.66h-18.67zM499.64 2416.39h18.67v18.66h-18.67z"/>
<path fill="#fbe6e7" d="M536.92 2285.98h18.67v18.66h-18.67z"/>
<path fill="#f8cbce" d="M574.21 2285.98h18.67v18.66h-18.67zM1058.88 2379.13h18.67v18.66h-18.67zM760.62 2453.65h18.67v18.66h-18.67zM518.28 2528.17h18.67v18.66h-18.67z"/>
<path fill="#b4b4ff" d="M686.05 2285.98h18.67v18.66h-18.67zM630.13 2341.87h18.67v18.66h-18.67zM779.26 2490.91h18.67v18.66h-18.67z"/>
<path fill="#f3a5ab" d="M704.70 2285.98h18.67v18.66h-18.67zM704.70 2304.61h18.67v18.66h-18.67zM1058.88 2360.50h18.67v18.66h-18.67zM704.70 2397.76h18.67v18.66h-18.67z"/>
<path fill="#a8a8ff" d="M816.54 2285.98h18.67v18.66h-18.67zM760.62 2435.02h18.67v18.66h-18.67zM797.90 2453.65h18.67v18.66h-18.67z"/>
<path fill="#f25255" d="M853.83 2285.98h18.67v18.66h-18.67zM555.57 2472.28h18.67v18.66h-18.67z"/>
<path fill="#f16a70" d="M872.47 2285.98h18.67v18.66h-18.67zM965.67 2379.13h18.67v18.66h-18.67z"/>
<path fill="#f25053" d="M891.11 2285.98h18.67v18.66h-18.67zM611.49 2435.02h18.67v18.66h-18.67z"/>
<path fill="#fceaeb" d="M909.75 2285.98h18.67v18.66h-18.67zM1040.24 2472.28h18.67v18.66h-18.67z"/>
<path fill="#8480ff" d="M1170.73 2285.98h18.67v18.66h-18.67z"/>
<path fill="#5d53ff" d="M1208.01 2285.98h18.67v18.66h-18.67z"/>
<path fill="#8985ff" d="M1245.29 2285.98h18.67v18.66h-18.67zM1226.65 2453.65h18.67v18.66h-18.67z"/>
<path fill="#8f8cff" d="M1263.93 2285.98h18.67v18.66h-18.67zM1189.37 2379.13h18.67v18.66h-18.67zM1170.73 2397.76h18.67v18.66h-18.67zM1226.65 2490.91h18.67v18.66h-18.67zM1096.16 2528.17h18.67v18.66h-18.67z"/>
<path fill="#d1d1ff" d="M1282.58 2285.98h18.67v18.66h-18.67zM1040.24 2323.24h18.67v18.66h-18.67zM984.32 2341.87h18.67v18.66h-18.67zM592.85 2360.50h18.67v18.66h-18.67zM1021.60 2360.50h18.67v18.66h-18.67zM891.11 2435.02h18.67v18.66h-18.67zM1058.88 2528.17h18.67v18.66h-18.67z"/>
<path fill="#b8b8ff" d="M1301.22 2285.98h18.67v18.66h-18.67zM1301.22 2304.61h18.67v18.66h-18.67zM1077.52 2323.24h18.67v18.66h-18.67zM723.34 2379.13h18.67v18.66h-18.67zM648.77 2416.39h18.67v18.66h-18.67z"/>
<path fill="#f25052" d="M536.92 2304.61h18.67v18.66h-18.67z"/>
<path fill="#f8cace" d="M555.57 2304.61h18.67v18.66h-18.67zM816.54 2304.61h18.67v18.66h-18.67zM518.28 2360.50h18.67v18.66h-18.67zM1096.16 2416.39h18.67v18.66h-18.67zM574.21 2490.91h18.67v18.66h-18.67z"/>
<path fill="#f4adb3" d="M611.49 2304.61h18.67v18.66h-18.67zM723.34 2323.24h18.67v18.66h-18.67zM686.05 2397.76h18.67v18.66h-18.67z"/>
<path fill="#fc261a" d="M667.41 2304.61h18.67v18.66h-18.67z"/>
<path fill="#928fff" d="M797.90 2304.61h18.67v18.66h-18.67zM1226.65 2341.87h18.67v18.66h-18.67zM1319.86 2435.02h18.67v18.66h-18.67zM1133.45 2453.65h18.67v18.66h-18.67z"/>
<path fill="#f28389" d="M853.83 2304.61h18.67v18.66h-18.67zM518.28 2379.13h18.67v18.66h-18.67zM518.28 2490.91h18.67v18.66h-18.67z"/>
<path fill="#fbe0e3" d="M909.75 2304.61h18.67v18.66h-18.67zM947.03 2360.50h18.67v18.66h-18.67z"/>
<path fill="#d8d8ff" d="M984.32 2304.61h18.67v18.66h-18.67zM1096.16 2323.24h18.67v18.66h-18.67zM760.62 2341.87h18.67v18.66h-18.67zM1301.22 2453.65h18.67v18.66h-18.67zM1040.24 2509.54h18.67v18.66h-18.67z"/>
<path fill="#a5a5ff" d="M1040.24 2304.61h18.67v18.66h-18.67zM1133.45 2472.28h18.67v18.66h-18.67z"/>
<path fill="#766fff" d="M1170.73 2304.61h18.67v18.66h-18.67z"/>
<path fill="#7b75ff" d="M1189.37 2304.61h18.67v18.66h-18.67z"/>
<path fill="#f4afb4" d="M481.00 2323.24h18.67v18.66h-18.67zM518.28 2323.24h18.67v18.66h-18.67zM667.41 2323.24h18.67v18.66h-18.67zM760.62 2379.13h18.67v18.66h-18.67zM536.92 2490.91h18.67v18.66h-18.67z"/>
<path fill="#d9d9ff" d="M630.13 2323.24h18.67v18.66h-18.67zM779.26 2341.87h18.67v18.66h-18.67zM835.18 2509.54h18.67v18.66h-18.67zM1319.86 2509.54h18.67v18.66h-18.67zM1226.65 2528.17h18.67v18.66h-18.67z"/>
<path fill="#f8c9cc" d="M760.62 2323.24h18.67v18.66h-18.67zM592.85 2472.28h18.67v18.66h-18.67z"/>
<path fill="#f17278" d="M835.18 2323.24h18.67v18.66h-18.67zM536.92 2379.13h18.67v18.66h-18.67zM779.26 2379.13h18.67v18.66h-18.67zM611.49 2416.39h18.67v18.66h-18.67zM592.85 2435.02h18.67v18.66h-18.67z"/>
<path fill="#f44b4c" d="M853.83 2323.24h18.67v18.66h-18.67z"/>
<path fill="#a4a4ff" d="M928.39 2323.24h18.67v18.66h-18.67zM1021.60 2397.76h18.67v18.66h-18.67zM1040.24 2416.39h18.67v18.66h-18.67z"/>
<path fill="#b5b5ff" d="M1021.60 2323.24h18.67v18.66h-18.67z"/>
<path fill="#9592ff" d="M1133.45 2323.24h18.67v18.66h-18.67zM1152.09 2435.02h18.67v18.66h-18.67zM1133.45 2490.91h18.67v18.66h-18.67z"/>
<path fill="#aaaaff" d="M1152.09 2323.24h18.67v18.66h-18.67zM1170.73 2323.24h18.67v18.66h-18.67zM797.90 2416.39h18.67v18.66h-18.67z"/>
<path fill="#8f8bff" d="M1245.29 2323.24h18.67v18.66h-18.67zM1208.01 2453.65h18.67v18.66h-18.67z"/>
<path fill="#817cff" d="M1263.93 2323.24h18.67v18.66h-18.67z"/>
<path fill="#f7c3c8" d="M686.05 2341.87h18.67v18.66h-18.67zM592.85 2490.91h18.67v18.66h-18.67z"/>
<path fill="#cdcdff" d="M797.90 2341.87h18.67v18.66h-18.67zM909.75 2397.76h18.67v18.66h-18.67zM1282.58 2509.54h18.67v18.66h-18.67z"/>
<path fill="#fd2114" d="M853.83 2341.87h18.67v18.66h-18.67z"/>
<path fill="#f34c4d" d="M1002.96 2341.87h18.67v18.66h-18.67z"/>
<path fill="#706aff" d="M1114.80 2341.87h18.67v18.66h-18.67zM1263.93 2341.87h18.67v18.66h-18.67zM1170.73 2416.39h18.67v18.66h-18.67z"/>
<path fill="#9391ff" d="M1133.45 2341.87h18.67v18.66h-18.67zM1208.01 2490.91h18.67v18.66h-18.67z"/>
<path fill="#a09fff" d="M1170.73 2341.87h18.67v18.66h-18.67zM872.47 2379.13h18.67v18.66h-18.67zM1208.01 2379.13h18.67v18.66h-18.67zM1114.80 2472.28h18.67v18.66h-18.67z"/>
<path fill="#807bff" d="M1208.01 2341.87h18.67v18.66h-18.67zM1133.45 2360.50h18.67v18.66h-18.67zM1208.01 2509.54h18.67v18.66h-18.67z"/>
<path fill="#8d89ff" d="M1245.29 2341.87h18.67v18.66h-18.67zM1226.65 2379.13h18.67v18.66h-18.67zM1114.80 2490.91h18.67v18.66h-18.67z"/>
<path fill="#a6a6ff" d="M1301.22 2341.87h18.67v18.66h-18.67zM1282.58 2435.02h18.67v18.66h-18.67zM909.75 2453.65h18.67v18.66h-18.67zM1096.16 2453.65h18.67v18.66h-18.67zM891.11 2472.28h18.67v18.66h-18.67z"/>
<path fill="#f1686e" d="M536.92 2360.50h18.67v18.66h-18.67z"/>
<path fill="#8c88ff" d="M741.98 2360.50h18.67v18.66h-18.67zM1245.29 2397.76h18.67v18.66h-18.67z"/>
<path fill="#8b88ff" d="M760.62 2360.50h18.67v18.66h-18.67zM1226.65 2360.50h18.67v18.66h-18.67zM1170.73 2509.54h18.67v18.66h-18.67z"/>
<path fill="#f7c2c6" d="M928.39 2360.50h18.67v18.66h-18.67zM648.77 2435.02h18.67v18.66h-18.67zM1002.96 2435.02h18.67v18.66h-18.67zM536.92 2453.65h18.67v18.66h-18.67zM1058.88 2472.28h18.67v18.66h-18.67z"/>
<path fill="#f3abb0" d="M965.67 2360.50h18.67v18.66h-18.67z"/>
<path fill="#8a87ff" d="M1208.01 2360.50h18.67v18.66h-18.67z"/>
<path fill="#f0f0ff" d="M1282.58 2360.50h18.67v18.66h-18.67zM984.32 2453.65h18.67v18.66h-18.67zM723.34 2509.54h18.67v18.66h-18.67z"/>
<path fill="#9491ff" d="M1319.86 2360.50h18.67v18.66h-18.67zM1170.73 2528.17h18.67v18.66h-18.67z"/>
<path fill="#f17379" d="M481.00 2379.13h18.67v18.66h-18.67z"/>
<path fill="#f44b4b" d="M499.64 2379.13h18.67v18.66h-18.67z"/>
<path fill="#fbdfe1" d="M592.85 2379.13h18.67v18.66h-18.67z"/>
<path fill="#f1676d" d="M741.98 2379.13h18.67v18.66h-18.67z"/>
<path fill="#d0d0ff" d="M853.83 2379.13h18.67v18.66h-18.67z"/>
<path fill="#9f9eff" d="M1114.80 2379.13h18.67v18.66h-18.67z"/>
<path fill="#8c89ff" d="M1263.93 2379.13h18.67v18.66h-18.67zM1170.73 2453.65h18.67v18.66h-18.67zM1208.01 2528.17h18.67v18.66h-18.67z"/>
<path fill="#8681ff" d="M1301.22 2379.13h18.67v18.66h-18.67zM1226.65 2509.54h18.67v18.66h-18.67z"/>
<path fill="#f1747a" d="M648.77 2397.76h18.67v18.66h-18.67zM853.83 2416.39h18.67v18.66h-18.67zM481.00 2453.65h18.67v18.66h-18.67zM555.57 2490.91h18.67v18.66h-18.67z"/>
<path fill="#fce9eb" d="M760.62 2397.76h18.67v18.66h-18.67z"/>
<path fill="#bbbbff" d="M797.90 2397.76h18.67v18.66h-18.67zM1282.58 2453.65h18.67v18.66h-18.67zM1058.88 2490.91h18.67v18.66h-18.67z"/>
<path fill="#fbe3e4" d="M816.54 2397.76h18.67v18.66h-18.67z"/>
<path fill="#fb2a20" d="M853.83 2397.76h18.67v18.66h-18.67z"/>
<path fill="#ececff" d="M965.67 2397.76h18.67v18.66h-18.67zM779.26 2453.65h18.67v18.66h-18.67zM760.62 2490.91h18.67v18.66h-18.67z"/>
<path fill="#bdbdff" d="M1040.24 2397.76h18.67v18.66h-18.67zM947.03 2416.39h18.67v18.66h-18.67z"/>
<path fill="#8580ff" d="M1114.80 2397.76h18.67v18.66h-18.67zM1245.29 2416.39h18.67v18.66h-18.67z"/>
<path fill="#a4a3ff" d="M1189.37 2397.76h18.67v18.66h-18.67z"/>
<path fill="#8581ff" d="M1226.65 2397.76h18.67v18.66h-18.67zM1263.93 2397.76h18.67v18.66h-18.67z"/>
<path fill="#8b87ff" d="M1319.86 2397.76h18.67v18.66h-18.67z"/>
<path fill="#fce9ea" d="M891.11 2416.39h18.67v18.66h-18.67z"/>
<path fill="#eaeaff" d="M1021.60 2416.39h18.67v18.66h-18.67z"/>
<path fill="#7f7aff" d="M1114.80 2416.39h18.67v18.66h-18.67z"/>
<path fill="#9290ff" d="M1152.09 2416.39h18.67v18.66h-18.67z"/>
<path fill="#584eff" d="M1189.37 2416.39h18.67v18.66h-18.67z"/>
<path fill="#6057ff" d="M1263.93 2416.39h18.67v18.66h-18.67z"/>
<path fill="#f6bfc4" d="M1319.86 2416.39h18.67v18.66h-18.67zM630.13 2472.28h18.67v18.66h-18.67z"/>
<path fill="#f44847" d="M667.41 2435.02h18.67v18.66h-18.67z"/>
<path fill="#c0c0ff" d="M723.34 2435.02h18.67v18.66h-18.67zM779.26 2435.02h18.67v18.66h-18.67z"/>
<path fill="#b6b6ff" d="M797.90 2435.02h18.67v18.66h-18.67z"/>
<path fill="#fcecee" d="M947.03 2435.02h18.67v18.66h-18.67z"/>
<path fill="#918eff" d="M1114.80 2435.02h18.67v18.66h-18.67zM1245.29 2472.28h18.67v18.66h-18.67zM741.98 2490.91h18.67v18.66h-18.67zM1114.80 2509.54h18.67v18.66h-18.67zM1152.09 2509.54h18.67v18.66h-18.67zM1263.93 2509.54h18.67v18.66h-18.67zM1189.37 2528.17h18.67v18.66h-18.67z"/>
<path fill="#7e78ff" d="M1189.37 2435.02h18.67v18.66h-18.67z"/>
<path fill="#5a50ff" d="M1263.93 2435.02h18.67v18.66h-18.67z"/>
<path fill="#f44848" d="M592.85 2453.65h18.67v18.66h-18.67z"/>
<path fill="#fceaec" d="M723.34 2453.65h18.67v18.66h-18.67z"/>
<path fill="#c2c2ff" d="M1077.52 2453.65h18.67v18.66h-18.67zM1040.24 2528.17h18.67v18.66h-18.67z"/>
<path fill="#6158ff" d="M1263.93 2453.65h18.67v18.66h-18.67z"/>
<path fill="#f34c4e" d="M499.64 2472.28h18.67v18.66h-18.67z"/>
<path fill="#d4d4ff" d="M741.98 2472.28h18.67v18.66h-18.67zM1301.22 2528.17h18.67v18.66h-18.67z"/>
<path fill="#c1c1ff" d="M928.39 2472.28h18.67v18.66h-18.67z"/>
<path fill="#b7b7ff" d="M947.03 2472.28h18.67v18.66h-18.67z"/>
<path fill="#fcebec" d="M630.13 2490.91h18.67v18.66h-18.67zM928.39 2528.17h18.67v18.66h-18.67z"/>
<path fill="#7c77ff" d="M1189.37 2490.91h18.67v18.66h-18.67z"/>
<path fill="#f24f52" d="M648.77 2509.54h18.67v18.66h-18.67z"/>
<path fill="#f44a4b" d="M667.41 2509.54h18.67v18.66h-18.67z"/>
<path fill="#a7a6ff" d="M984.32 2509.54h18.67v18.66h-18.67z"/>
<path fill="#fd2316" d="M667.41 2528.17h18.67v18.66h-18.67z"/>
<path fill="#746dff" d="M1114.80 2528.17h18.67v18.66h-18.67z"/>
<path fill="#817dff" d="M1152.09 2528.17h18.67v18.66h-18.67z"/>
</g>
<text x="1341.7" y="2191.7" font-family='"Liberation Mono", "Courier New", monospace' font-size="18.10" font-weight="normal" text-anchor="start" stroke="#000" stroke-width="0.28">SLC39A10</text>
<text x="1341.7" y="2210.4" font-family='"Liberation Mono", "Courier New", monospace' font-size="18.10" font-weight="normal" text-anchor="start" stroke="#000" stroke-width="0.28">FASTKD1</text>
<text x="1341.7" y="2229.0" font-family='"Liberation Mono", "Courier New", monospace' font-size="18.10" font-weight="normal" text-anchor="start" stroke="#000" stroke-width="0.28">ZNF845</text>
<text x="1341.7" y="2247.6" font-family='"Liberation Mono", "Courier New", monospace' font-size="18.10" font-weight="normal" text-anchor="start" stroke="#000" stroke-width="0.28">CD24</text>
<text x="1341.7" y="2266.2" font-family='"Liberation Mono", "Courier New", monospace' font-size="18.10" font-weight="normal" text-anchor="start" stroke="#000" stroke-width="0.28">TDRKH</text>
<text x="1341.7" y="2284.9" font-family='"Liberation Mono", "Courier New", monospace' font-size="18.10" font-weight="normal" text-anchor="start" stroke="#000" stroke-width="0.28">SUMO1</text>
<text x="1341.7" y="2303.5" font-family='"Liberation Mono", "Courier New", monospace' font-size="18.10" font-weight="normal" text-anchor="start" stroke="#000" stroke-width="0.28">ZNF85</text>
<text x="1341.7" y="2322.1" font-family='"Liberation Mono", "Courier New", monospace' font-size="18.10" font-weight="normal" text-anchor="start" stroke="#000" stroke-width="0.28">ZNF273</text>
<text x="1341.7" y="2340.8" font-family='"Liberation Mono", "Courier New", monospace' font-size="18.10" font-weight="normal" text-anchor="start" stroke="#000" stroke-width="0.28">NAE1</text>
<text x="1341.7" y="2359.4" font-family='"Liberation Mono", "Courier New", monospace' font-size="18.10" font-weight="normal" text-anchor="start" stroke="#000" stroke-width="0.28">MMADHC</text>
<text x="1341.7" y="2378.0" font-family='"Liberation Mono", "Courier New", monospace' font-size="18.10" font-weight="normal" text-anchor="start" stroke="#000" stroke-width="0.28">FDFT1</text>
<text x="1341.7" y="2396.7" font-family='"Liberation Mono", "Courier New", monospace' font-size="18.10" font-weight="normal" text-anchor="start" stroke="#000" stroke-width="0.28">LGR4</text>
<text x="1341.7" y="2415.3" font-family='"Liberation Mono", "Courier New", monospace' font-size="18.10" font-weight="normal" text-anchor="start" stroke="#000" stroke-width="0.28">THAP9</text>
<text x="1341.7" y="2433.9" font-family='"Liberation Mono", "Courier New", monospace' font-size="18.10" font-weight="normal" text-anchor="start" stroke="#000" stroke-width="0.28">SKIL</text>
<text x="1341.7" y="2452.6" font-family='"Liberation Mono", "Courier New", monospace' font-size="18.10" font-weight="normal" text-anchor="start" stroke="#000" stroke-width="0.28">NLN</text>
<text x="1341.7" y="2471.2" font-family='"Liberation Mono", "Courier New", monospace' font-size="18.10" font-weight="normal" text-anchor="start" stroke="#000" stroke-width="0.28">XPO1</text>
<text x="1341.7" y="2489.8" font-family='"Liberation Mono", "Courier New", monospace' font-size="18.10" font-weight="normal" text-anchor="start" stroke="#000" stroke-width="0.28">KIZ</text>
<text x="1341.7" y="2508.4" font-family='"Liberation Mono", "Courier New", monospace' font-size="18.10" font-weight="normal" text-anchor="start" stroke="#000" stroke-width="0.28">INTS13</text>
<text x="1341.7" y="2527.1" font-family='"Liberation Mono", "Courier New", monospace' font-size="18.10" font-weight="normal" text-anchor="start" stroke="#000" stroke-width="0.28">MFHAS1</text>
<text x="1341.7" y="2545.7" font-family='"Liberation Mono", "Courier New", monospace' font-size="18.10" font-weight="normal" text-anchor="start" stroke="#000" stroke-width="0.28">MZT1</text>
<rect x="480.8" y="2083.0" width="857.9" height="88.6" fill="#fff" stroke="#000" stroke-width="1.6"/>
<line x1="536.7" y1="2083.0" x2="536.7" y2="2171.6" stroke="#000" stroke-width="1.6"/>
<line x1="591.3" y1="2083.0" x2="591.3" y2="2171.6" stroke="#000" stroke-width="1.6"/>
<line x1="646.5" y1="2083.0" x2="646.5" y2="2171.6" stroke="#000" stroke-width="1.6"/>
<line x1="701.8" y1="2083.0" x2="701.8" y2="2171.6" stroke="#000" stroke-width="1.6"/>
<line x1="742.7" y1="2083.0" x2="742.7" y2="2171.6" stroke="#000" stroke-width="1.6"/>
<line x1="798.0" y1="2083.0" x2="798.0" y2="2171.6" stroke="#000" stroke-width="1.6"/>
<line x1="853.2" y1="2083.0" x2="853.2" y2="2171.6" stroke="#000" stroke-width="1.6"/>
<line x1="909.7" y1="2083.0" x2="909.7" y2="2171.6" stroke="#000" stroke-width="1.6"/>
<line x1="965.0" y1="2083.0" x2="965.0" y2="2171.6" stroke="#000" stroke-width="1.6"/>
<line x1="1005.9" y1="2083.0" x2="1005.9" y2="2171.6" stroke="#000" stroke-width="1.6"/>
<line x1="1061.2" y1="2083.0" x2="1061.2" y2="2171.6" stroke="#000" stroke-width="1.6"/>
<line x1="1116.4" y1="2083.0" x2="1116.4" y2="2171.6" stroke="#000" stroke-width="1.6"/>
<line x1="1171.6" y1="2083.0" x2="1171.6" y2="2171.6" stroke="#000" stroke-width="1.6"/>
<line x1="1226.9" y1="2083.0" x2="1226.9" y2="2171.6" stroke="#000" stroke-width="1.6"/>
<line x1="1282.1" y1="2083.0" x2="1282.1" y2="2171.6" stroke="#000" stroke-width="1.6"/>
<text transform="translate(517.2,2165.1) rotate(-90)" font-family='"Liberation Sans", Arial, sans-serif' font-size="19.20" font-weight="normal" text-anchor="start" >H9</text>
<text transform="translate(565.9,2165.1) rotate(-90)" font-family='"Liberation Sans", Arial, sans-serif' font-size="19.20" font-weight="normal" text-anchor="start" >is070a</text>
<text transform="translate(620.5,2165.1) rotate(-90)" font-family='"Liberation Sans", Arial, sans-serif' font-size="19.20" font-weight="normal" text-anchor="start" >i70b</text>
<text transform="translate(676.4,2165.1) rotate(-90)" font-family='"Liberation Sans", Arial, sans-serif' font-size="19.20" font-weight="normal" text-anchor="start" >i173b</text>
<text transform="translate(725.2,2165.1) rotate(-90)" font-family='"Liberation Sans", Arial, sans-serif' font-size="19.20" font-weight="normal" text-anchor="start" >H9</text>
<text transform="translate(773.9,2165.1) rotate(-90)" font-family='"Liberation Sans", Arial, sans-serif' font-size="19.20" font-weight="normal" text-anchor="start" >is070a</text>
<text transform="translate(829.1,2165.1) rotate(-90)" font-family='"Liberation Sans", Arial, sans-serif' font-size="19.20" font-weight="normal" text-anchor="start" >i70b</text>
<text transform="translate(883.7,2165.1) rotate(-90)" font-family='"Liberation Sans", Arial, sans-serif' font-size="19.20" font-weight="normal" text-anchor="start" >i173b</text>
<text transform="translate(947.4,2165.1) rotate(-90)" font-family='"Liberation Sans", Arial, sans-serif' font-size="19.20" font-weight="normal" text-anchor="start" >H9</text>
<text transform="translate(992.3,2165.1) rotate(-90)" font-family='"Liberation Sans", Arial, sans-serif' font-size="19.20" font-weight="normal" text-anchor="start" >is070a</text>
<text transform="translate(1035.8,2165.1) rotate(-90)" font-family='"Liberation Sans", Arial, sans-serif' font-size="19.20" font-weight="normal" text-anchor="start" >i70b</text>
<text transform="translate(1091.7,2165.1) rotate(-90)" font-family='"Liberation Sans", Arial, sans-serif' font-size="19.20" font-weight="normal" text-anchor="start" >i173b</text>
<text transform="translate(1147.6,2165.1) rotate(-90)" font-family='"Liberation Sans", Arial, sans-serif' font-size="19.20" font-weight="normal" text-anchor="start" >H9</text>
<text transform="translate(1201.5,2165.1) rotate(-90)" font-family='"Liberation Sans", Arial, sans-serif' font-size="19.20" font-weight="normal" text-anchor="start" >is070a</text>
<text transform="translate(1256.8,2165.1) rotate(-90)" font-family='"Liberation Sans", Arial, sans-serif' font-size="19.20" font-weight="normal" text-anchor="start" >i70b</text>
<text transform="translate(1312.0,2165.1) rotate(-90)" font-family='"Liberation Sans", Arial, sans-serif' font-size="19.20" font-weight="normal" text-anchor="start" >i173b</text>
<line x1="484.7" y1="2067.4" x2="688.8" y2="2067.4" stroke="#000" stroke-width="2.8"/>
<text x="591.9" y="2057.0" font-family='"Liberation Sans", Arial, sans-serif' font-size="25.90" font-weight="bold" text-anchor="middle" >D0</text>
<line x1="707.0" y1="2067.4" x2="899.3" y2="2067.4" stroke="#000" stroke-width="2.8"/>
<text x="796.6" y="2057.0" font-family='"Liberation Sans", Arial, sans-serif' font-size="25.90" font-weight="bold" text-anchor="middle" >D13</text>
<line x1="913.0" y1="2067.4" x2="1109.9" y2="2067.4" stroke="#000" stroke-width="2.8"/>
<text x="1005.9" y="2057.0" font-family='"Liberation Sans", Arial, sans-serif' font-size="25.90" font-weight="bold" text-anchor="middle" >D20</text>
<line x1="1125.5" y1="2067.4" x2="1329.6" y2="2067.4" stroke="#000" stroke-width="2.8"/>
<text x="1228.8" y="2057.0" font-family='"Liberation Sans", Arial, sans-serif' font-size="25.90" font-weight="bold" text-anchor="middle" >D35</text>
<text x="902.2" y="1985.5" font-family='"Liberation Sans", Arial, sans-serif' font-size="37.00" font-weight="bold" text-anchor="middle" >Downregulated in D35 only</text>
<rect x="1422.9" y="2001.2" width="72.2" height="149.4" fill="#eceeed"/>
<rect x="1402.2" y="2001.20" width="20.7" height="20.97" fill="#1f00ff" shape-rendering="crispEdges"/>
<text x="1423.7" y="2025.3" font-family='"Liberation Sans", Arial, sans-serif' font-size="20.50" font-weight="normal" text-anchor="start" >-3.00</text>
<rect x="1402.2" y="2021.87" width="20.7" height="20.97" fill="#6655ff" shape-rendering="crispEdges"/>
<text x="1423.7" y="2046.0" font-family='"Liberation Sans", Arial, sans-serif' font-size="20.50" font-weight="normal" text-anchor="start" >-2.00</text>
<rect x="1402.2" y="2042.54" width="20.7" height="20.97" fill="#aaaaff" shape-rendering="crispEdges"/>
<text x="1423.7" y="2066.7" font-family='"Liberation Sans", Arial, sans-serif' font-size="20.50" font-weight="normal" text-anchor="start" >-1.00</text>
<rect x="1402.2" y="2063.21" width="20.7" height="20.97" fill="#ffffff" shape-rendering="crispEdges"/>
<text x="1423.7" y="2087.3" font-family='"Liberation Sans", Arial, sans-serif' font-size="20.50" font-weight="normal" text-anchor="start" >0.00</text>
<rect x="1402.2" y="2083.89" width="20.7" height="20.97" fill="#f3a8ae" shape-rendering="crispEdges"/>
<text x="1423.7" y="2108.0" font-family='"Liberation Sans", Arial, sans-serif' font-size="20.50" font-weight="normal" text-anchor="start" >1.00</text>
<rect x="1402.2" y="2104.56" width="20.7" height="20.97" fill="#f0585e" shape-rendering="crispEdges"/>
<text x="1423.7" y="2128.7" font-family='"Liberation Sans", Arial, sans-serif' font-size="20.50" font-weight="normal" text-anchor="start" >2.00</text>
<rect x="1402.2" y="2125.23" width="20.7" height="20.97" fill="#ff1a0a" shape-rendering="crispEdges"/>
<text x="1423.7" y="2149.3" font-family='"Liberation Sans", Arial, sans-serif' font-size="20.50" font-weight="normal" text-anchor="start" >3.00</text>
<line x1="424.6" y1="2077.2" x2="480.0" y2="2171.2" stroke="#555" stroke-width="0.9"/>
<line x1="424.6" y1="2114.8" x2="480.0" y2="2546.8" stroke="#555" stroke-width="0.9"/>
<line x1="1496.4" y1="2075.8" x2="1496.4" y2="2116" stroke="#555" stroke-width="0.9"/>
</svg></body></html>
